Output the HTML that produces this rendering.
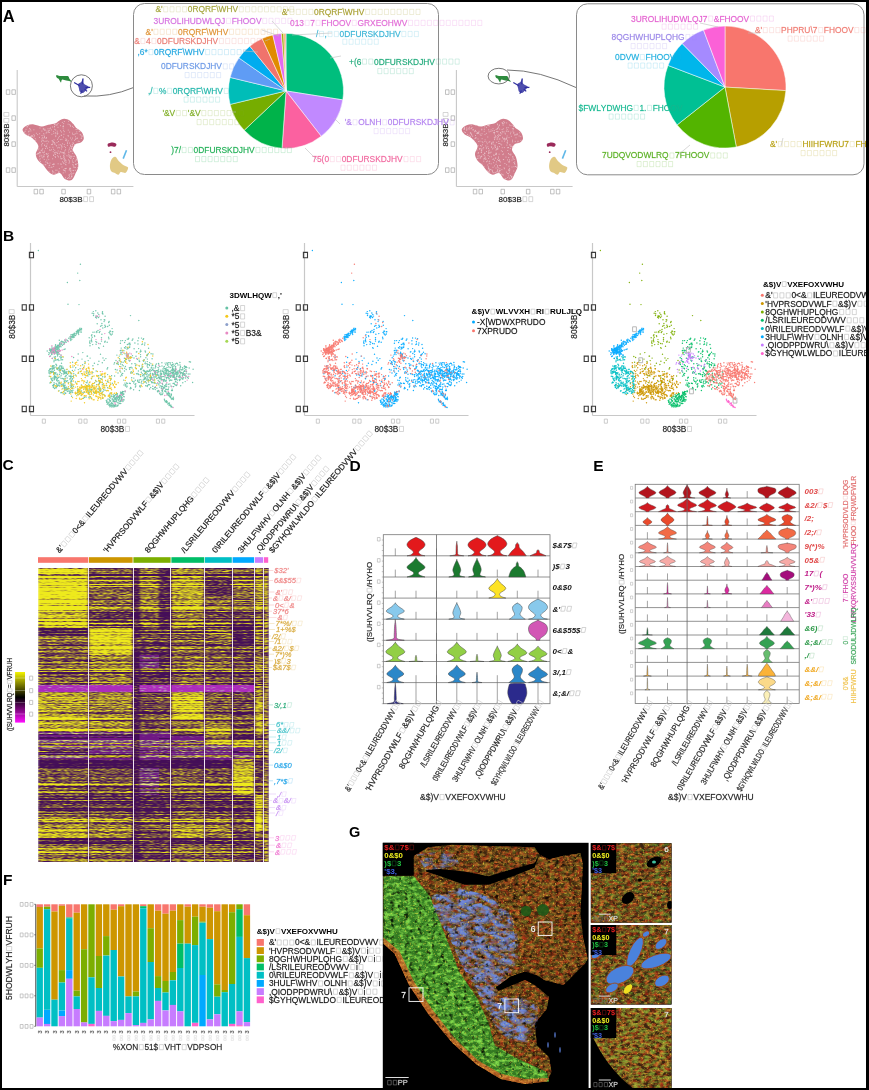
<!DOCTYPE html><html><head><meta charset="utf-8"><style>
html,body{margin:0;padding:0;background:#fff;width:869px;height:1090px;overflow:hidden}
svg{display:block;font-family:"Liberation Sans",sans-serif;font-kerning:none}
#frame{position:absolute;left:0;top:0;width:869px;height:1090px;box-sizing:border-box;border-style:solid;border-color:#000;border-width:2px 3px 2px 2px;pointer-events:none}
</style></head><body><svg width="869" height="1090" viewBox="0 0 869 1090"><g transform="translate(2.8 15.8)" font-size="16.5" fill="#000" font-weight="bold"><text x="0" y="5.9">A</text></g>
<line x1="17.2" y1="70" x2="17.2" y2="186.5" stroke="#c8c8c8" stroke-width="1.1" />
<line x1="17.2" y1="186.5" x2="133.4" y2="186.5" stroke="#c8c8c8" stroke-width="1.1" />
<path d="M22.6 129.3C22.9 127.7 25.5 126.1 27.4 125.2C29.3 124.4 31.4 124.3 33.8 124.4C36.2 124.6 39.5 126.3 41.9 126.4C44.3 126.4 46.1 125.3 48.3 124.8C50.6 124.2 53.8 123.8 55.6 123.2C57.3 122.5 57.4 121.6 58.8 120.9C60.2 120.2 62.3 118.9 64.1 118.8C65.9 118.7 68.1 119.5 69.6 120.4C71.1 121.3 72.2 122.9 73.3 124.1C74.4 125.3 74.6 126.3 76 127.7C77.5 129 80.6 130.4 81.8 132.2C83.1 134 83.9 136.9 83.8 138.6C83.6 140.3 82.2 141.6 80.9 142.5C79.5 143.4 77.1 142.9 75.7 144.1C74.4 145.3 72.7 147.8 72.8 149.9C73 152 75.8 154.2 76.7 157C77.6 159.7 78.5 163.6 78.3 166.3C78.1 169 76.8 170.8 75.7 173.1C74.6 175.4 73.5 179.1 71.7 180C69.9 181 66.7 180.1 64.8 178.9C62.8 177.7 61.8 173.8 59.9 173.1C58.1 172.4 55.5 175 53.5 174.7C51.5 174.4 49.7 172.8 48 171.2C46.3 169.6 44.8 166.9 43.2 165C41.5 163.2 39.3 162.1 38 160.2C36.8 158.3 35.7 156.2 35.8 153.8C35.8 151.3 39 148.4 38.3 145.7C37.7 143 34 139.5 31.9 137.7C29.8 135.8 27 135.8 25.5 134.4C23.9 133 22.2 130.8 22.6 129.3Z" fill="#d17d8c"/>
<path d="M68.5 136h.01M52.9 147.3h.01M62 167h.01M72.6 146.3h.01M68.4 121.3h.01M50 163.1h.01M25.9 134.1h.01M49.6 150h.01M37.7 134.6h.01M72.7 153.5h.01M61.4 132h.01M66 162.5h.01M72.3 160.1h.01M41.8 155.3h.01M75.3 170.3h.01M53.5 155.4h.01M70.4 145.3h.01M64.9 160.3h.01M45.9 146.7h.01M53.7 166.4h.01M54.4 144h.01M47 131.1h.01M68.9 152.5h.01M74.1 134.7h.01M57.7 147.9h.01M39.8 153h.01M69.6 168.8h.01M75.6 164.2h.01M71.1 151.3h.01M56.7 145.9h.01M57.2 132.8h.01M53.4 149.3h.01M44.9 141.3h.01M55.4 157.4h.01M59.7 147.8h.01M25.8 134.5h.01M74.1 167.5h.01M70.4 168.6h.01M63.2 126h.01M68 135.7h.01M33.9 137h.01M65.4 147.6h.01M42.8 148.7h.01M48.6 132.1h.01M53.8 133.3h.01M59.3 168.6h.01M63.5 152.8h.01M70.4 151.2h.01M47.1 154.6h.01M42.8 157.8h.01M67.3 145.4h.01M71.7 177h.01M57.2 131.2h.01M65 150.7h.01M46.1 141.3h.01M49.3 132.5h.01M41.3 150.2h.01M35.8 140.2h.01M43.8 133.6h.01M63.3 169.8h.01M78.2 141.2h.01M75.3 161.1h.01M29.1 131.1h.01M77 133.6h.01M68.2 156h.01M73 142.6h.01M43.9 138.1h.01M74.5 156.3h.01M69.9 169.3h.01M43.9 156.9h.01M69.5 143.1h.01M57.3 134.2h.01M63 126.5h.01M30.9 130.9h.01M76.9 138.3h.01M38.9 148.9h.01M81.2 138.4h.01M58.8 147.3h.01M64.1 159.6h.01M39.2 152.6h.01M42 135.5h.01M62 158.5h.01M42 140.2h.01M76 138.8h.01M43.6 152.8h.01M57.7 155.8h.01M56.1 125.3h.01M52.8 171.3h.01M70.3 125.7h.01M79.2 131.3h.01M69.2 178.3h.01M71.8 139.8h.01M77.5 138.2h.01M76 129.4h.01M70.8 173.8h.01M72.9 164.5h.01M64.2 131.6h.01M49.3 130.4h.01M65.6 160h.01M56 152.6h.01M73.5 147.5h.01M47.1 140.9h.01M61.7 145.4h.01M57.3 124.8h.01M44.8 129.2h.01M31.4 136.2h.01M72.2 144.3h.01M47.4 156.7h.01M54.8 150.3h.01M61.8 146.6h.01M64 163.6h.01M38 149.9h.01M51.9 134.3h.01M48.1 153.7h.01M40.1 158.7h.01M53.8 172.1h.01M75.4 139.3h.01M64.3 170.5h.01M45.7 161.9h.01M66.9 155.7h.01M73.8 173.2h.01M34.4 135.8h.01M36.8 154.3h.01M68.1 124.2h.01M63.7 162.8h.01M44.3 151.1h.01M71 157.7h.01M69.2 170.1h.01M62.4 161.8h.01M70.7 146.3h.01M59 144.9h.01M24.4 132.2h.01M60.6 156.3h.01M72.6 133.2h.01M40.7 152.7h.01M40 155.2h.01M70 168.1h.01M52.6 170.9h.01M68.8 154.3h.01M46.4 137.7h.01M68.3 177.7h.01M57.4 139.3h.01M53.3 141.9h.01M49.8 147.3h.01M41.8 144.4h.01M69.6 160.9h.01M52.7 158.8h.01M46.1 133h.01M58.9 172.4h.01M72.3 150.9h.01M72.6 144.9h.01M67.4 178.5h.01M41.9 131.1h.01M60.1 152h.01M46.7 145.9h.01M58.1 163.8h.01M76.2 164.6h.01M52.7 164.5h.01M61.3 158.8h.01M60.7 144.8h.01M60.7 158h.01M73.2 165.7h.01M71.5 156.3h.01M44.4 136.6h.01M65.2 171.9h.01M55.7 130h.01M72.5 149.3h.01M53.8 164.4h.01M48.7 141.8h.01M62.3 122.4h.01M64.2 144.5h.01M64.1 156.3h.01M36.3 133.3h.01M75.6 136.8h.01M54.5 142.6h.01M53.8 164h.01M65.5 168.5h.01M39.8 156.6h.01M37.6 153.8h.01M74.4 140.3h.01M65.2 170.2h.01M60.3 139.6h.01M49.2 165.4h.01M69.7 132.2h.01M60.5 130.8h.01M77.1 163.5h.01M59.3 136.4h.01M54.7 129.3h.01M45.1 164.8h.01M65.8 138.9h.01M52.7 127h.01M58.8 172.8h.01M65 168.5h.01M52.9 143.1h.01M33.9 134.7h.01M71.7 148.1h.01M57.8 133.5h.01M65.6 140.4h.01M70.4 171h.01M42.7 143.4h.01M68.2 130.1h.01M72.9 173.8h.01M40 128h.01M61.1 164.4h.01M64 170.3h.01M62.6 143.8h.01M61.4 135.3h.01M58.4 141.5h.01M59.3 153.7h.01M54.5 124.7h.01M44.7 145.2h.01M48.8 159.6h.01M65.6 164.3h.01M66 164.8h.01M73.7 170.6h.01M27.2 126.5h.01M71.3 148.4h.01M49.9 128.7h.01M47.1 162.3h.01M54.6 126.5h.01M70.6 126.2h.01M66.7 139.4h.01M71 170.9h.01M41.8 145.9h.01M38.4 153.5h.01M43.3 140.9h.01M69.6 176.7h.01M58 127.3h.01M62 147.2h.01M72.6 161.9h.01M55.2 173.2h.01M72.4 138.1h.01M54.4 126.9h.01M44.2 154.6h.01M61.9 139.4h.01M41.5 141.7h.01M43 164.6h.01M53.2 151.7h.01M43 140.2h.01M71.5 174.9h.01M77.7 167.7h.01M69.6 162h.01M67.5 142.2h.01M47.5 148.2h.01M33.9 129.8h.01M64 153.9h.01M76.8 131.9h.01M48 163.4h.01M27.1 127h.01M55.8 136.6h.01M30.4 136.4h.01M60.8 151.8h.01M28.7 125.4h.01M73.5 158.5h.01M73.3 162.4h.01M58.9 171.4h.01M63.4 152.8h.01M66.3 168.4h.01M82.1 136.1h.01M68.8 151h.01M52.4 144.6h.01M75.4 167.4h.01M58.1 123.5h.01M73.5 147.8h.01M35.2 138.6h.01M64.3 121.5h.01M75.6 164.5h.01M57.3 153.2h.01M54.7 152.7h.01M71.6 176.5h.01M47.8 157.8h.01M42 138.7h.01M53.5 155.2h.01M57 142.6h.01M76.1 160.1h.01M73.3 143.5h.01M51.1 167.4h.01M45.8 164.7h.01M52.1 140.7h.01M50.6 128h.01M44.7 145.3h.01M25.2 131.2h.01M58.4 137.9h.01M82 136.2h.01M54 164.1h.01M64.3 146.4h.01M69.2 149.4h.01M65.7 149.7h.01M29.5 128.7h.01M80.2 134.5h.01M47.3 163.2h.01M72.6 126.4h.01M56 152.2h.01M56.2 145.6h.01M63.1 128.1h.01M39.6 137.4h.01M52 167.2h.01M73.9 166.8h.01M63.4 126.3h.01M46.8 160h.01M41.2 150.7h.01M73.7 127.4h.01M81.7 138h.01M52.7 173.1h.01M55.8 133.7h.01M68.2 140.8h.01M39.7 152.6h.01M49.7 165.3h.01M73 134.5h.01M48 128.8h.01M55.1 156.5h.01M40.4 161.6h.01M39.7 133.7h.01M45.5 148.5h.01M43.8 156.4h.01M64.4 152.2h.01M64.2 158.6h.01M71.3 172.9h.01M42.5 149.9h.01M43.3 128.6h.01M32.3 136.1h.01M64.9 153.9h.01M63.9 134.3h.01M41.9 156.9h.01M29.1 134.2h.01M43.9 156.1h.01M43.3 129.3h.01M63.7 123.6h.01M26 129.3h.01M61.2 135.3h.01M63.6 137.1h.01M54 139.9h.01M79.2 141.7h.01M70.8 158.4h.01M73.1 156.4h.01M74.6 144.7h.01M63.5 157.2h.01M54.8 154h.01M55.2 144.1h.01M76.3 157.9h.01M56 124.3h.01M53.7 131.4h.01M55.8 135.7h.01M39.9 152h.01M51.6 144.6h.01M62.1 152.8h.01M55.8 170.2h.01M66.1 160.9h.01M63.7 130.3h.01M77.1 129.5h.01M75.2 133.8h.01M73 170.4h.01M46.3 146.7h.01M39.8 159.9h.01M70.5 156.2h.01M46.2 153.8h.01M69.4 155.9h.01M47.9 156.4h.01M30.6 129.3h.01M53.6 141.9h.01M76.9 159.2h.01M70.7 168.8h.01M38.1 153.8h.01M44.9 130.4h.01M69.2 174.4h.01M44.2 159.4h.01M46 138.3h.01M71.5 146.8h.01M64.7 158h.01M54.3 124.5h.01M63.2 172.9h.01M52.4 141h.01M65.4 177.8h.01M69.7 148h.01M51.5 149.8h.01M69 163.2h.01M55.6 154.4h.01M28.5 131.8h.01M68.6 159.9h.01M70.4 138h.01M72.1 176.1h.01M60.9 163.9h.01M70.8 178.2h.01M76.8 159.6h.01M44 135.1h.01M69.1 175.5h.01M79.9 131.4h.01M58.1 151h.01M49 167.3h.01M64.8 161.3h.01M62.1 152.4h.01M46.6 153.7h.01M61.4 149h.01M80.9 135.1h.01M42.3 137.3h.01M48.3 155.7h.01M42.6 152.2h.01M50.2 150.3h.01M48.4 130.9h.01M47.1 143.8h.01M45 130h.01M57 170.2h.01M69.4 157.3h.01M66.6 140.7h.01M32.4 136h.01M44.4 137.4h.01M51.3 129.9h.01M31.7 135.9h.01M55.3 132.7h.01M49.1 171.8h.01M57.7 153.3h.01M46.9 132.6h.01M60.4 125.7h.01M69.8 124.6h.01M67.5 143.4h.01M63.7 155.5h.01M28.5 135.2h.01M46.3 137.8h.01M44.3 152.3h.01M58.5 156.9h.01" stroke="#f4e0e4" stroke-width="1" stroke-linecap="round" opacity=".7"/>
<path d="M56.4 75.3C57.1 75.1 59.3 76 61.2 76.1C63.1 76.2 66.3 75.6 67.7 76.1C69.1 76.6 68.9 78.1 69.6 79C70.3 80 71.7 81.4 71.7 81.7C71.6 82.1 70.2 81.1 69.3 80.9C68.3 80.8 67.3 80.8 66.1 80.6C64.8 80.4 62.9 79.3 62 79.7C61.2 80 61.4 82.7 60.9 82.6C60.4 82.4 59.5 79.9 58.8 79C58.1 78.2 57.1 78 56.7 77.4C56.3 76.8 55.6 75.5 56.4 75.3Z" fill="#2e8b3e"/>
<path d="M78.1 84.2C78.5 83.1 80.6 82.7 81.4 81.7C82.2 80.8 82.6 78.3 83 78.5C83.4 78.8 82.8 82 83.8 83.4C84.7 84.7 88.2 85.5 88.6 86.6C89 87.7 87.1 88.7 86.2 89.8C85.3 90.9 84 92.8 83 93C81.9 93.3 80.4 92.2 79.7 91.4C79.1 90.6 79.2 89.4 78.9 88.2C78.7 87 77.7 85.2 78.1 84.2Z" fill="#3030a0" opacity=".85"/>
<line x1="74.1" y1="82.6" x2="79.7" y2="85.8" stroke="#3030a0" stroke-width="1.2" />
<line x1="83" y1="78.5" x2="82.5" y2="84.2" stroke="#3030a0" stroke-width="1.2" />
<line x1="90.2" y1="87.4" x2="85.4" y2="87.7" stroke="#3030a0" stroke-width="1.2" />
<line x1="80.6" y1="93.8" x2="82.2" y2="90.6" stroke="#3030a0" stroke-width="1.2" />
<line x1="87" y1="91.4" x2="84.6" y2="89" stroke="#3030a0" stroke-width="1.2" />
<path d="M107.9 143.8C108.7 143.1 111.4 142.4 112.8 142.5C114.2 142.5 115.9 143.4 116.3 144.1C116.7 144.8 116.1 146.3 115.2 146.7C114.3 147 112.3 146.2 111.2 146.2C110 146.2 108.8 147.1 108.3 146.7C107.7 146.3 107.2 144.5 107.9 143.8Z" fill="#9a2a5a"/>
<circle cx="110.5" cy="152.2" r=".9" fill="#9a2a5a"/>
<path d="M111.2 159.9C112.1 158.3 113.8 156.4 115.2 156.7C116.5 156.9 117.7 160 119.2 161.5C120.7 163 122.6 164.5 124.1 165.5C125.5 166.5 127.8 166.4 128.1 167.6C128.3 168.8 126.9 172.1 125.7 172.8C124.5 173.5 122 171.6 120.8 172C119.6 172.3 119.5 174.6 118.4 174.7C117.3 174.8 115.6 173.4 114.4 172.8C113.2 172.2 111.9 172.2 111.2 171.2C110.4 170.1 109.9 168.2 109.9 166.3C109.9 164.5 110.3 161.5 111.2 159.9Z" fill="#dcc070" opacity=".85"/>
<line x1="123.2" y1="158.6" x2="126.5" y2="150.2" stroke="#60b8e8" stroke-width="1.6" />
<circle cx="81.4" cy="85.8" r="11" fill="none" stroke="#555" stroke-width=".8"/>
<path d="M84 96Q110 97.5 133.6 87.5" fill="none" stroke="#666" stroke-width=".9"/>
<g transform="translate(16.5 92)" font-size="7.5" fill="#999" stroke="#999" stroke-width="0.35" stroke-opacity=".45"><path d="M-10.2 -2.2h3.5v4.6h-3.5zM-4.6 -2.2h3.5v4.6h-3.5z" fill="none" stroke="#999" stroke-opacity="1" stroke-width="0.6"/></g>
<g transform="translate(16.5 118)" font-size="7.5" fill="#999" stroke="#999" stroke-width="0.35" stroke-opacity=".45"><path d="M-4.6 -2.2h3.5v4.6h-3.5z" fill="none" stroke="#999" stroke-opacity="1" stroke-width="0.6"/></g>
<g transform="translate(16.5 144)" font-size="7.5" fill="#999" stroke="#999" stroke-width="0.35" stroke-opacity=".45"><path d="M-4.6 -2.2h3.5v4.6h-3.5z" fill="none" stroke="#999" stroke-opacity="1" stroke-width="0.6"/></g>
<g transform="translate(16.5 170)" font-size="7.5" fill="#999" stroke="#999" stroke-width="0.35" stroke-opacity=".45"><path d="M-10.2 -2.2h3.5v4.6h-3.5zM-4.6 -2.2h3.5v4.6h-3.5z" fill="none" stroke="#999" stroke-opacity="1" stroke-width="0.6"/></g>
<g transform="translate(38.7 191.5)" font-size="7.5" fill="#999" stroke="#999" stroke-width="0.35" stroke-opacity=".45"><path d="M-4.6 -2.2h3.5v4.6h-3.5zM1.1 -2.2h3.5v4.6h-3.5z" fill="none" stroke="#999" stroke-opacity="1" stroke-width="0.6"/></g>
<g transform="translate(63.6 191.5)" font-size="7.5" fill="#999" stroke="#999" stroke-width="0.35" stroke-opacity=".45"><path d="M-1.8 -2.2h3.5v4.6h-3.5z" fill="none" stroke="#999" stroke-opacity="1" stroke-width="0.6"/></g>
<g transform="translate(89 191.5)" font-size="7.5" fill="#999" stroke="#999" stroke-width="0.35" stroke-opacity=".45"><path d="M-1.8 -2.2h3.5v4.6h-3.5z" fill="none" stroke="#999" stroke-opacity="1" stroke-width="0.6"/></g>
<g transform="translate(116 191.5)" font-size="7.5" fill="#999" stroke="#999" stroke-width="0.35" stroke-opacity=".45"><path d="M-4.6 -2.2h3.5v4.6h-3.5zM1.1 -2.2h3.5v4.6h-3.5z" fill="none" stroke="#999" stroke-opacity="1" stroke-width="0.6"/></g>
<g transform="translate(77 199)" font-size="8" fill="#222" stroke="#222" stroke-width="0.35" stroke-opacity=".45"><text x="-17.6" y="2.9">80$3B</text><path d="M6.7 -2.3h3.8v4.9h-3.8zM12.7 -2.3h3.8v4.9h-3.8z" fill="none" stroke="#bbb" stroke-opacity="1" stroke-width="0.6"/></g>
<g transform="translate(6.2 129) rotate(-90)" font-size="8" fill="#222" stroke="#222" stroke-width="0.35" stroke-opacity=".45"><text x="-17.6" y="2.9">80$3B</text><path d="M6.7 -2.3h3.8v4.9h-3.8zM12.7 -2.3h3.8v4.9h-3.8z" fill="none" stroke="#bbb" stroke-opacity="1" stroke-width="0.6"/></g>
<line x1="456.4" y1="70" x2="456.4" y2="186.5" stroke="#c8c8c8" stroke-width="1.1" />
<line x1="456.4" y1="186.5" x2="572.6" y2="186.5" stroke="#c8c8c8" stroke-width="1.1" />
<path d="M461.8 129.3C462.1 127.7 464.7 126.1 466.6 125.2C468.5 124.4 470.6 124.3 473 124.4C475.4 124.6 478.7 126.3 481.1 126.4C483.5 126.4 485.3 125.3 487.5 124.8C489.8 124.2 493 123.8 494.8 123.2C496.5 122.5 496.6 121.6 498 120.9C499.4 120.2 501.5 118.9 503.3 118.8C505.1 118.7 507.3 119.5 508.8 120.4C510.3 121.3 511.4 122.9 512.5 124.1C513.6 125.3 513.8 126.3 515.2 127.7C516.7 129 519.8 130.4 521 132.2C522.3 134 523.1 136.9 523 138.6C522.8 140.3 521.4 141.6 520.1 142.5C518.7 143.4 516.3 142.9 514.9 144.1C513.6 145.3 511.9 147.8 512 149.9C512.2 152 515 154.2 515.9 157C516.8 159.7 517.7 163.6 517.5 166.3C517.3 169 516 170.8 514.9 173.1C513.8 175.4 512.7 179.1 510.9 180C509.1 181 505.9 180.1 504 178.9C502 177.7 501 173.8 499.1 173.1C497.3 172.4 494.7 175 492.7 174.7C490.7 174.4 488.9 172.8 487.2 171.2C485.5 169.6 484 166.9 482.4 165C480.7 163.2 478.5 162.1 477.2 160.2C476 158.3 474.9 156.2 475 153.8C475 151.3 478.2 148.4 477.5 145.7C476.9 143 473.2 139.5 471.1 137.7C469 135.8 466.2 135.8 464.7 134.4C463.1 133 461.4 130.8 461.8 129.3Z" fill="#d17d8c"/>
<path d="M507.1 136h.01M500.1 135.5h.01M504.4 168.7h.01M470.4 132.9h.01M507.6 143.1h.01M491.3 156.8h.01M478.9 158.2h.01M502.3 174.7h.01M492.5 170.8h.01M487.8 137h.01M502.7 123.7h.01M487.9 146.8h.01M493.6 132.7h.01M490 169.6h.01M473.6 129.8h.01M516 137.8h.01M509.6 170.1h.01M500.8 144.1h.01M488.1 155.4h.01M481.8 129.9h.01M497.5 170.6h.01M509 166.2h.01M509.2 154.6h.01M482.9 142.6h.01M495.3 158.2h.01M497.2 149.3h.01M500.2 170.4h.01M489.2 150.2h.01M472 127.5h.01M481.8 150.7h.01M511 179h.01M512.8 156.5h.01M499.9 168.8h.01M495.3 154.5h.01M499.2 125.6h.01M478.9 126.1h.01M478.6 133.4h.01M479.4 149.1h.01M506.1 138.7h.01M511 125.6h.01M513.2 128.9h.01M489 142.3h.01M506.7 122.9h.01M497.5 159.7h.01M514 145.8h.01M519.8 132.7h.01M470 128.8h.01M497.4 128.3h.01M478.8 132.6h.01M505.3 134h.01M478.1 153.2h.01M475.5 138h.01M491.8 142.8h.01M486.1 159.1h.01M474.7 131.7h.01M503.1 138.4h.01M464.6 127.3h.01M499.7 159.8h.01M504.4 141.1h.01M504.1 167.9h.01M496.1 153.1h.01M492.4 148.9h.01M502.8 154.6h.01M513.1 147.3h.01M490.7 169.5h.01M502.6 151.6h.01M496 168h.01M498.6 136.3h.01M481.4 156.3h.01M515.1 134.7h.01M489.1 161.8h.01M499.7 143.5h.01M488.7 158.5h.01M484 166.7h.01M506.4 139h.01M497.5 166.9h.01M513.8 133.3h.01M468.1 128.2h.01M504 131.8h.01M507.8 150.5h.01M496.7 142.4h.01M480.4 145.6h.01M493.9 148h.01M498.6 157h.01M499.9 135.3h.01M486.3 133.4h.01M506.5 172.2h.01M481.2 150.1h.01M502.5 123h.01M484.9 153.3h.01M481.8 156.2h.01M497.2 138.2h.01M495.2 137.2h.01M492.4 171.7h.01M506.7 164.7h.01M520.8 136.6h.01M485 134.6h.01M493 128.7h.01M512.8 125.1h.01M475 138.4h.01M495.3 135.8h.01M476.9 133.4h.01M514.8 135.1h.01M495.6 147.5h.01M482.6 144.8h.01M464.3 132h.01M500.5 165.4h.01M476 131.5h.01M509.5 172.1h.01M480 141.2h.01M497.6 146.9h.01M509.4 159.8h.01M470.3 133h.01M506.6 127.9h.01M476.1 137.8h.01M478 145.7h.01M478 132.5h.01M483.7 147.6h.01M514.1 159.5h.01M499.1 171.4h.01M485.8 145.9h.01M514.3 174h.01M498.5 127.8h.01M507.1 142.7h.01M489.8 141.6h.01M486.3 148.6h.01M464.4 128.6h.01M513.9 162.5h.01M499.7 129.1h.01M477 158.6h.01M481.3 146.1h.01M495.3 172.6h.01M503.1 125.2h.01M474.5 141.9h.01M513.8 171h.01M508.7 157.6h.01M502 141.1h.01M475.6 135.5h.01M512.5 140.2h.01M486.7 142.1h.01M503.8 121.6h.01M469 129.1h.01M471.5 134.4h.01M481.4 150.8h.01M488.4 171.8h.01M497.1 148.8h.01M493.1 141.8h.01M488.5 125.5h.01M471.1 133.3h.01M498.7 160.5h.01M513.7 126.3h.01M500.7 132.6h.01M483.2 154.6h.01M512 160.1h.01M481.7 149.1h.01M484.6 153.7h.01M471.2 125.2h.01M481.9 164.2h.01M498.5 172.9h.01M496.6 149.1h.01M487.5 125.4h.01M473.8 140.2h.01M478 139h.01M480.4 158h.01M517.1 133.8h.01M484 159.2h.01M496.2 154.6h.01M498.7 160.4h.01M482.1 141.6h.01M486.4 151.5h.01M496.3 171.9h.01M486.3 147.3h.01M511.7 177.5h.01M496.4 161.8h.01M516.6 167.3h.01M496 150.1h.01M496 164.3h.01M511 146.6h.01M503.3 159.6h.01M507.3 141.9h.01M511.7 176.6h.01M501.3 150.8h.01M470.5 136.4h.01M520.9 140.4h.01M499.2 139.1h.01M495.5 146h.01M489.9 153.2h.01M509 137.6h.01M485.4 159.2h.01M506 157.1h.01M488.9 168.5h.01M489 169.7h.01M489.1 131.8h.01M489.4 170.7h.01M465.5 132.5h.01M508.4 131.3h.01M498 131.7h.01M508.4 153.5h.01M509.7 125h.01M517.2 134.6h.01M512.7 146.8h.01M492.8 130.7h.01M494.7 146h.01M514.9 164.2h.01M491.1 129.9h.01M498.8 134.3h.01M510.4 133.8h.01M489.7 172.1h.01M469.4 127.2h.01M466.4 130h.01M485.1 139.9h.01M491.6 147.1h.01M506.3 138.8h.01M497.1 139.4h.01M507 131.3h.01M491.7 147.1h.01M490 152.4h.01M494.5 139.6h.01M511.2 176.4h.01M495.8 158.1h.01M505.3 139.8h.01M497.7 148.1h.01M491.5 144.1h.01M494.5 133.9h.01M477.3 132.8h.01M497.8 135.5h.01M508.6 173.7h.01M507.4 140.3h.01M518 141.2h.01M484.3 155.7h.01M501.7 144.9h.01M509 170.7h.01M480.1 134.2h.01M486.4 161.7h.01M502.2 131.4h.01M508.6 169.9h.01M498.8 143.5h.01M504.6 138.3h.01M488.5 168.1h.01M505.9 178.5h.01M507.1 129.6h.01M488.7 152.7h.01M500.4 161.9h.01M475.5 130.4h.01M497.3 128.8h.01M509.4 162h.01M481.8 129.2h.01M484.2 131.3h.01M477 150h.01M496.1 129.5h.01M484.3 129.2h.01M515.2 141.4h.01M494 172.7h.01M505.1 133.2h.01M503.8 123.7h.01M510.9 132.2h.01M509.6 168.4h.01M508.1 127.6h.01M486.6 127.3h.01M505 178.9h.01M493.7 159h.01M502.1 129.5h.01M484.9 141.5h.01M506.9 145.1h.01M484.7 153.1h.01M475.3 125h.01M502.2 147.7h.01M499.1 154.2h.01M488.3 166.8h.01M487.5 171.1h.01M503.7 159.5h.01M515.9 166.4h.01M497.3 124h.01M489.7 161.2h.01M493.7 155.1h.01M477.6 158.3h.01M488.7 129.8h.01M464.5 128.8h.01M480.1 148.6h.01M509.6 178.1h.01M488.4 148.5h.01M498.3 126.8h.01M494.6 160.3h.01M495 145h.01M491.1 163.8h.01M488.8 125.1h.01M497.7 171.4h.01M484.8 126.8h.01M516.2 134.8h.01M481.2 156.7h.01M496.6 153.7h.01M497.9 137.3h.01M499.4 146.6h.01M491.1 152.2h.01M479 131.3h.01M504.3 147.6h.01M497.3 131.8h.01M492.9 159.4h.01M507.4 159.9h.01M487.4 161h.01M498 148.9h.01M499.9 139h.01M467 129.8h.01M511.3 136.3h.01M512 167h.01M494.8 138.8h.01M489.2 163.5h.01M494.6 165.9h.01M499.5 125h.01M503.5 154h.01M498.5 158.2h.01M503.3 175h.01M489.3 156.7h.01M494.1 155.4h.01M502.8 132.1h.01M466.6 128h.01M472.8 129.9h.01M513.6 126.4h.01M483.8 161.2h.01M496 136.7h.01M479.7 148.7h.01M488.7 168.1h.01M511.1 146.1h.01M512.6 141.8h.01M482 133.8h.01M515.5 166.5h.01M508.4 161.9h.01M509.7 161.2h.01M507.9 147.7h.01M513.5 128.9h.01M513.1 158.7h.01M514.8 161.9h.01M488.7 151.1h.01M469.1 135.3h.01M496.7 131.5h.01M484.2 158.5h.01M497.9 173.1h.01M488.5 153.3h.01M487.8 165h.01M471.6 128.6h.01M480.3 157h.01M500.4 132.9h.01M479.1 155.8h.01M508.7 175.9h.01M501.7 174h.01M508 147.6h.01M506.9 137.7h.01M509.9 144.8h.01M497.2 128.8h.01M507.8 177.5h.01M491.9 170h.01M510 145h.01M498.8 141.4h.01M481.2 152.4h.01M499.4 170.5h.01M513 131.1h.01M499.8 172.1h.01M477.9 156.2h.01M504.1 139.2h.01M482.1 138.7h.01M514 166.7h.01M471.9 135.2h.01M472.7 136.3h.01M475.1 130.8h.01M512.9 157.3h.01M504 139.2h.01M493 167.3h.01M489.2 126.1h.01M467.5 134.6h.01M493.7 162.7h.01M494.7 132.4h.01M477.5 133.6h.01M478.7 141.5h.01M481 135.5h.01M513.8 132.4h.01M499.5 161h.01M502.1 122.7h.01M511.9 176.3h.01M463.9 129.2h.01M464.3 129.2h.01M494.6 132.5h.01M478.4 152.7h.01M494.3 137.4h.01M514.4 163.5h.01M497.8 169.5h.01M503.3 128.8h.01M487.2 143.8h.01M494.3 130.6h.01M509.8 169.9h.01M490.9 131.4h.01M510.9 154.1h.01M510.5 175.5h.01M483 148.8h.01M493.1 142.5h.01M510.8 155h.01M512.5 146.9h.01M518 141.9h.01M485.2 157.2h.01M498.2 167.9h.01M497.4 124.7h.01M507.6 173.4h.01M499.7 165.5h.01M493.1 172.7h.01M502.6 137.3h.01M497.6 165.7h.01M512.3 128.7h.01M504.9 163.5h.01M491.7 143.5h.01M519.1 136h.01M501.8 133.9h.01M506.3 131.1h.01M484.9 158.2h.01M508.5 147.5h.01M510.3 148.6h.01M501.9 169.6h.01M496 153.8h.01M481.4 152.4h.01M499.2 160.7h.01M504.7 122.6h.01M493.1 144.1h.01" stroke="#f4e0e4" stroke-width="1" stroke-linecap="round" opacity=".7"/>
<path d="M495.6 75.3C496.3 75.1 498.5 76 500.4 76.1C502.3 76.2 505.5 75.6 506.9 76.1C508.3 76.6 508.1 78.1 508.8 79C509.5 80 510.9 81.4 510.9 81.7C510.8 82.1 509.4 81.1 508.5 80.9C507.5 80.8 506.5 80.8 505.3 80.6C504 80.4 502.1 79.3 501.2 79.7C500.4 80 500.6 82.7 500.1 82.6C499.6 82.4 498.7 79.9 498 79C497.3 78.2 496.3 78 495.9 77.4C495.5 76.8 494.8 75.5 495.6 75.3Z" fill="#2e8b3e"/>
<path d="M517.3 84.2C517.7 83.1 519.8 82.7 520.6 81.7C521.4 80.8 521.8 78.3 522.2 78.5C522.6 78.8 522 82 523 83.4C523.9 84.7 527.4 85.5 527.8 86.6C528.2 87.7 526.3 88.7 525.4 89.8C524.5 90.9 523.2 92.8 522.2 93C521.1 93.3 519.6 92.2 518.9 91.4C518.3 90.6 518.4 89.4 518.1 88.2C517.9 87 516.9 85.2 517.3 84.2Z" fill="#3030a0" opacity=".85"/>
<line x1="513.3" y1="82.6" x2="518.9" y2="85.8" stroke="#3030a0" stroke-width="1.2" />
<line x1="522.2" y1="78.5" x2="521.7" y2="84.2" stroke="#3030a0" stroke-width="1.2" />
<line x1="529.4" y1="87.4" x2="524.6" y2="87.7" stroke="#3030a0" stroke-width="1.2" />
<line x1="519.8" y1="93.8" x2="521.4" y2="90.6" stroke="#3030a0" stroke-width="1.2" />
<line x1="526.2" y1="91.4" x2="523.8" y2="89" stroke="#3030a0" stroke-width="1.2" />
<path d="M547.1 143.8C547.9 143.1 550.6 142.4 552 142.5C553.4 142.5 555.1 143.4 555.5 144.1C555.9 144.8 555.3 146.3 554.4 146.7C553.5 147 551.5 146.2 550.4 146.2C549.2 146.2 548 147.1 547.5 146.7C546.9 146.3 546.4 144.5 547.1 143.8Z" fill="#9a2a5a"/>
<circle cx="549.7" cy="152.2" r=".9" fill="#9a2a5a"/>
<path d="M550.4 159.9C551.3 158.3 553 156.4 554.4 156.7C555.7 156.9 556.9 160 558.4 161.5C559.9 163 561.8 164.5 563.3 165.5C564.7 166.5 567 166.4 567.3 167.6C567.5 168.8 566.1 172.1 564.9 172.8C563.7 173.5 561.2 171.6 560 172C558.8 172.3 558.7 174.6 557.6 174.7C556.5 174.8 554.8 173.4 553.6 172.8C552.4 172.2 551.1 172.2 550.4 171.2C549.6 170.1 549.1 168.2 549.1 166.3C549.1 164.5 549.5 161.5 550.4 159.9Z" fill="#dcc070" opacity=".85"/>
<line x1="562.4" y1="158.6" x2="565.7" y2="150.2" stroke="#60b8e8" stroke-width="1.6" />
<ellipse cx="498.8" cy="76.1" rx="10.7" ry="7.8" fill="none" stroke="#555" stroke-width=".8"/>
<path d="M507 70Q539.2 70 576.2 87.6" fill="none" stroke="#666" stroke-width=".9"/>
<g transform="translate(455.7 92)" font-size="7.5" fill="#999" stroke="#999" stroke-width="0.35" stroke-opacity=".45"><path d="M-10.2 -2.2h3.5v4.6h-3.5zM-4.6 -2.2h3.5v4.6h-3.5z" fill="none" stroke="#999" stroke-opacity="1" stroke-width="0.6"/></g>
<g transform="translate(455.7 118)" font-size="7.5" fill="#999" stroke="#999" stroke-width="0.35" stroke-opacity=".45"><path d="M-4.6 -2.2h3.5v4.6h-3.5z" fill="none" stroke="#999" stroke-opacity="1" stroke-width="0.6"/></g>
<g transform="translate(455.7 144)" font-size="7.5" fill="#999" stroke="#999" stroke-width="0.35" stroke-opacity=".45"><path d="M-4.6 -2.2h3.5v4.6h-3.5z" fill="none" stroke="#999" stroke-opacity="1" stroke-width="0.6"/></g>
<g transform="translate(455.7 170)" font-size="7.5" fill="#999" stroke="#999" stroke-width="0.35" stroke-opacity=".45"><path d="M-10.2 -2.2h3.5v4.6h-3.5zM-4.6 -2.2h3.5v4.6h-3.5z" fill="none" stroke="#999" stroke-opacity="1" stroke-width="0.6"/></g>
<g transform="translate(477.9 191.5)" font-size="7.5" fill="#999" stroke="#999" stroke-width="0.35" stroke-opacity=".45"><path d="M-4.6 -2.2h3.5v4.6h-3.5zM1.1 -2.2h3.5v4.6h-3.5z" fill="none" stroke="#999" stroke-opacity="1" stroke-width="0.6"/></g>
<g transform="translate(502.8 191.5)" font-size="7.5" fill="#999" stroke="#999" stroke-width="0.35" stroke-opacity=".45"><path d="M-1.8 -2.2h3.5v4.6h-3.5z" fill="none" stroke="#999" stroke-opacity="1" stroke-width="0.6"/></g>
<g transform="translate(528.2 191.5)" font-size="7.5" fill="#999" stroke="#999" stroke-width="0.35" stroke-opacity=".45"><path d="M-1.8 -2.2h3.5v4.6h-3.5z" fill="none" stroke="#999" stroke-opacity="1" stroke-width="0.6"/></g>
<g transform="translate(555.2 191.5)" font-size="7.5" fill="#999" stroke="#999" stroke-width="0.35" stroke-opacity=".45"><path d="M-4.6 -2.2h3.5v4.6h-3.5zM1.1 -2.2h3.5v4.6h-3.5z" fill="none" stroke="#999" stroke-opacity="1" stroke-width="0.6"/></g>
<g transform="translate(516.2 199)" font-size="8" fill="#222" stroke="#222" stroke-width="0.35" stroke-opacity=".45"><text x="-17.6" y="2.9">80$3B</text><path d="M6.7 -2.3h3.8v4.9h-3.8zM12.7 -2.3h3.8v4.9h-3.8z" fill="none" stroke="#bbb" stroke-opacity="1" stroke-width="0.6"/></g>
<g transform="translate(445.4 129) rotate(-90)" font-size="8" fill="#222" stroke="#222" stroke-width="0.35" stroke-opacity=".45"><text x="-17.6" y="2.9">80$3B</text><path d="M6.7 -2.3h3.8v4.9h-3.8zM12.7 -2.3h3.8v4.9h-3.8z" fill="none" stroke="#bbb" stroke-opacity="1" stroke-width="0.6"/></g>
<rect x="133.5" y="3.5" width="305" height="171" rx="11" fill="none" stroke="#8a8a8a" stroke-width="1"/>
<rect x="576.5" y="3.8" width="287.5" height="171" rx="11" fill="none" stroke="#8a8a8a" stroke-width="1"/>
<path d="M286 90.9L286 33.4A57.5 57.5 0 0 1 342.8 99.9Z" fill="#00be7d" stroke="#fff" stroke-width="0.5"/>
<path d="M286 90.9L342.8 99.9A57.5 57.5 0 0 1 321.2 136.3Z" fill="#c189ff" stroke="#fff" stroke-width="0.5"/>
<path d="M286 90.9L321.2 136.3A57.5 57.5 0 0 1 282 148.3Z" fill="#fb61a0" stroke="#fff" stroke-width="0.5"/>
<path d="M286 90.9L282 148.3A57.5 57.5 0 0 1 244.2 130.3Z" fill="#00b34a" stroke="#fff" stroke-width="0.5"/>
<path d="M286 90.9L244.2 130.3A57.5 57.5 0 0 1 230.1 104.4Z" fill="#76ad00" stroke="#fff" stroke-width="0.5"/>
<path d="M286 90.9L230.1 104.4A57.5 57.5 0 0 1 230.1 77.4Z" fill="#00bdb8" stroke="#fff" stroke-width="0.5"/>
<path d="M286 90.9L230.1 77.4A57.5 57.5 0 0 1 238.9 57.9Z" fill="#5f9cf5" stroke="#fff" stroke-width="0.5"/>
<path d="M286 90.9L238.9 57.9A57.5 57.5 0 0 1 249.8 46.2Z" fill="#00acef" stroke="#fff" stroke-width="0.5"/>
<path d="M286 90.9L249.8 46.2A57.5 57.5 0 0 1 262.2 38.6Z" fill="#f0736c" stroke="#fff" stroke-width="0.5"/>
<path d="M286 90.9L262.2 38.6A57.5 57.5 0 0 1 272.8 34.9Z" fill="#e08b00" stroke="#fff" stroke-width="0.5"/>
<path d="M286 90.9L272.8 34.9A57.5 57.5 0 0 1 281.4 33.6Z" fill="#e26af1" stroke="#fff" stroke-width="0.5"/>
<path d="M286 90.9L281.4 33.6A57.5 57.5 0 0 1 283.7 33.4Z" fill="#a3a500" stroke="#fff" stroke-width="0.5"/>
<path d="M286 90.9L283.7 33.4A57.5 57.5 0 0 1 285 33.4Z" fill="#de8c00" stroke="#fff" stroke-width="0.5"/>
<path d="M286 90.9L285 33.4A57.5 57.5 0 0 1 286 33.4Z" fill="#f8766d" stroke="#fff" stroke-width="0.5"/>
<path d="M725 87.1L725 26.1A61 61 0 0 1 785.9 90.6Z" fill="#f8766d" stroke="#fff" stroke-width="0.5"/>
<path d="M725 87.1L785.9 90.6A61 61 0 0 1 736.3 147Z" fill="#b79f00" stroke="#fff" stroke-width="0.5"/>
<path d="M725 87.1L736.3 147A61 61 0 0 1 677.1 124.9Z" fill="#53b400" stroke="#fff" stroke-width="0.5"/>
<path d="M725 87.1L677.1 124.9A61 61 0 0 1 668 65.4Z" fill="#00c094" stroke="#fff" stroke-width="0.5"/>
<path d="M725 87.1L668 65.4A61 61 0 0 1 682.2 43.6Z" fill="#00b6eb" stroke="#fff" stroke-width="0.5"/>
<path d="M725 87.1L682.2 43.6A61 61 0 0 1 703.5 30Z" fill="#a58aff" stroke="#fff" stroke-width="0.5"/>
<path d="M725 87.1L703.5 30A61 61 0 0 1 725 26.1Z" fill="#fb61d7" stroke="#fff" stroke-width="0.5"/>
<g transform="translate(155.4 9.2)" font-size="8.4" fill="#a4a43a" stroke="#a4a43a" stroke-width="0.35" stroke-opacity=".45"><text x="0" y="3">&amp;'</text><text x="32.4" y="3">0RQRF\WHV</text><path d="M8.3 -2.5h4v5.2h-4zM14.6 -2.5h4v5.2h-4zM20.9 -2.5h4v5.2h-4zM27.2 -2.5h4v5.2h-4zM83.9 -2.5h4v5.2h-4zM90.2 -2.5h4v5.2h-4zM96.5 -2.5h4v5.2h-4zM102.8 -2.5h4v5.2h-4zM109.1 -2.5h4v5.2h-4zM115.4 -2.5h4v5.2h-4zM121.7 -2.5h4v5.2h-4zM128 -2.5h4v5.2h-4zM134.3 -2.5h4v5.2h-4z" fill="none" stroke="#a4a43a" stroke-opacity="0.3" stroke-width="0.6"/></g>
<g transform="translate(153.5 20.8)" font-size="8.4" fill="#d56ee0" stroke="#d56ee0" stroke-width="0.35" stroke-opacity=".45"><text x="0" y="3">3UROLIHUDWLQJ</text><text x="78.2" y="3">FHOOV</text><path d="M73 -2.5h4v5.2h-4zM109.2 -2.5h4v5.2h-4zM115.5 -2.5h4v5.2h-4zM121.8 -2.5h4v5.2h-4zM128.1 -2.5h4v5.2h-4zM134.4 -2.5h4v5.2h-4z" fill="none" stroke="#d56ee0" stroke-opacity="0.3" stroke-width="0.6"/></g>
<g transform="translate(145.6 31.7)" font-size="8.4" fill="#df9232" stroke="#df9232" stroke-width="0.35" stroke-opacity=".45"><text x="0" y="3">&amp;'</text><text x="32.4" y="3">0RQRF\WHV</text><path d="M8.3 -2.5h4v5.2h-4zM14.6 -2.5h4v5.2h-4zM20.9 -2.5h4v5.2h-4zM27.2 -2.5h4v5.2h-4zM83.9 -2.5h4v5.2h-4zM90.2 -2.5h4v5.2h-4zM96.5 -2.5h4v5.2h-4zM102.8 -2.5h4v5.2h-4zM109.1 -2.5h4v5.2h-4zM115.4 -2.5h4v5.2h-4zM121.7 -2.5h4v5.2h-4zM128 -2.5h4v5.2h-4z" fill="none" stroke="#df9232" stroke-opacity="0.3" stroke-width="0.6"/></g>
<g transform="translate(134.2 40.9)" font-size="8.4" fill="#ea7a72" stroke="#ea7a72" stroke-width="0.35" stroke-opacity=".45"><text x="0" y="3">&amp;</text><text x="11.9" y="3">4</text><text x="22.9" y="3">0DFURSKDJHV</text><path d="M6.7 -2.5h4v5.2h-4zM17.7 -2.5h4v5.2h-4zM85.2 -2.5h4v5.2h-4zM91.5 -2.5h4v5.2h-4zM97.8 -2.5h4v5.2h-4zM104.1 -2.5h4v5.2h-4zM110.4 -2.5h4v5.2h-4zM116.7 -2.5h4v5.2h-4zM123 -2.5h4v5.2h-4zM129.3 -2.5h4v5.2h-4z" fill="none" stroke="#ea7a72" stroke-opacity="0.3" stroke-width="0.6"/></g>
<g transform="translate(137.5 52)" font-size="8.4" fill="#1fa6e0" stroke="#1fa6e0" stroke-width="0.35" stroke-opacity=".45"><text x="0" y="3">,6*</text><text x="16.6" y="3">0RQRF\WHV</text><path d="M11.4 -2.5h4v5.2h-4zM68.1 -2.5h4v5.2h-4zM74.4 -2.5h4v5.2h-4zM80.7 -2.5h4v5.2h-4zM87 -2.5h4v5.2h-4zM93.3 -2.5h4v5.2h-4zM99.6 -2.5h4v5.2h-4zM105.9 -2.5h4v5.2h-4zM112.2 -2.5h4v5.2h-4z" fill="none" stroke="#1fa6e0" stroke-opacity="0.3" stroke-width="0.6"/></g>
<g transform="translate(161 66.3)" font-size="8.4" fill="#6b98e6" stroke="#6b98e6" stroke-width="0.35" stroke-opacity=".45"><text x="0" y="3">0DFURSKDJHV</text><path d="M62.3 -2.5h4v5.2h-4zM68.6 -2.5h4v5.2h-4z" fill="none" stroke="#6b98e6" stroke-opacity="0.3" stroke-width="0.6"/></g>
<g transform="translate(184 75)" font-size="8.4" fill="#6b98e6" stroke="#6b98e6" stroke-width="0.35" stroke-opacity=".45"><path d="M1.1 -2.5h4v5.2h-4zM7.4 -2.5h4v5.2h-4zM13.7 -2.5h4v5.2h-4zM20 -2.5h4v5.2h-4zM26.3 -2.5h4v5.2h-4zM32.6 -2.5h4v5.2h-4z" fill="none" stroke="#6b98e6" stroke-opacity="0.3" stroke-width="0.6"/></g>
<g transform="translate(148 90.8)" font-size="8.4" fill="#1eb5aa" stroke="#1eb5aa" stroke-width="0.35" stroke-opacity=".45"><text x="0" y="3">,/</text><text x="11" y="3">%</text><text x="24.7" y="3">0RQRF\WHV</text><path d="M5.8 -2.5h4v5.2h-4zM19.6 -2.5h4v5.2h-4zM76.3 -2.5h4v5.2h-4z" fill="none" stroke="#1eb5aa" stroke-opacity="0.3" stroke-width="0.6"/></g>
<g transform="translate(183 99.5)" font-size="8.4" fill="#1eb5aa" stroke="#1eb5aa" stroke-width="0.35" stroke-opacity=".45"><path d="M1.1 -2.5h4v5.2h-4zM7.4 -2.5h4v5.2h-4zM13.7 -2.5h4v5.2h-4zM20 -2.5h4v5.2h-4zM26.3 -2.5h4v5.2h-4zM32.6 -2.5h4v5.2h-4z" fill="none" stroke="#1eb5aa" stroke-opacity="0.3" stroke-width="0.6"/></g>
<g transform="translate(162.4 113)" font-size="8.4" fill="#7eae22" stroke="#7eae22" stroke-width="0.35" stroke-opacity=".45"><text x="0" y="3">'&amp;V</text><text x="25.4" y="3">'&amp;V</text><path d="M13.9 -2.5h4v5.2h-4zM20.2 -2.5h4v5.2h-4zM39.4 -2.5h4v5.2h-4zM45.7 -2.5h4v5.2h-4zM52 -2.5h4v5.2h-4zM58.3 -2.5h4v5.2h-4zM64.6 -2.5h4v5.2h-4zM70.9 -2.5h4v5.2h-4zM77.2 -2.5h4v5.2h-4z" fill="none" stroke="#7eae22" stroke-opacity="0.3" stroke-width="0.6"/></g>
<g transform="translate(196 122)" font-size="8.4" fill="#7eae22" stroke="#7eae22" stroke-width="0.35" stroke-opacity=".45"><path d="M1.1 -2.5h4v5.2h-4zM7.4 -2.5h4v5.2h-4zM13.7 -2.5h4v5.2h-4zM20 -2.5h4v5.2h-4zM26.3 -2.5h4v5.2h-4zM32.6 -2.5h4v5.2h-4zM38.9 -2.5h4v5.2h-4z" fill="none" stroke="#7eae22" stroke-opacity="0.3" stroke-width="0.6"/></g>
<g transform="translate(171.2 149.9)" font-size="8.4" fill="#1fb055" stroke="#1fb055" stroke-width="0.35" stroke-opacity=".45"><text x="0" y="3">)7/</text><text x="22.4" y="3">0DFURSKDJHV</text><path d="M10.9 -2.5h4v5.2h-4zM17.2 -2.5h4v5.2h-4zM84.7 -2.5h4v5.2h-4zM91 -2.5h4v5.2h-4zM97.3 -2.5h4v5.2h-4zM103.6 -2.5h4v5.2h-4zM109.9 -2.5h4v5.2h-4zM116.2 -2.5h4v5.2h-4z" fill="none" stroke="#1fb055" stroke-opacity="0.3" stroke-width="0.6"/></g>
<g transform="translate(194.4 159)" font-size="8.4" fill="#1fb055" stroke="#1fb055" stroke-width="0.35" stroke-opacity=".45"><path d="M1.1 -2.5h4v5.2h-4zM7.4 -2.5h4v5.2h-4zM13.7 -2.5h4v5.2h-4zM20 -2.5h4v5.2h-4zM26.3 -2.5h4v5.2h-4zM32.6 -2.5h4v5.2h-4zM38.9 -2.5h4v5.2h-4z" fill="none" stroke="#1fb055" stroke-opacity="0.3" stroke-width="0.6"/></g>
<g transform="translate(312.3 159)" font-size="8.4" fill="#f2689f" stroke="#f2689f" stroke-width="0.35" stroke-opacity=".45"><text x="0" y="3">75(0</text><text x="29.4" y="3">0DFURSKDJHV</text><path d="M18 -2.5h4v5.2h-4zM24.3 -2.5h4v5.2h-4zM91.7 -2.5h4v5.2h-4zM98 -2.5h4v5.2h-4zM104.3 -2.5h4v5.2h-4z" fill="none" stroke="#f2689f" stroke-opacity="0.3" stroke-width="0.6"/></g>
<g transform="translate(339.9 167.6)" font-size="8.4" fill="#f2689f" stroke="#f2689f" stroke-width="0.35" stroke-opacity=".45"><path d="M1.1 -2.5h4v5.2h-4zM7.4 -2.5h4v5.2h-4zM13.7 -2.5h4v5.2h-4zM20 -2.5h4v5.2h-4zM26.3 -2.5h4v5.2h-4zM32.6 -2.5h4v5.2h-4z" fill="none" stroke="#f2689f" stroke-opacity="0.3" stroke-width="0.6"/></g>
<g transform="translate(344.7 122.2)" font-size="8.4" fill="#b382f0" stroke="#b382f0" stroke-width="0.35" stroke-opacity=".45"><text x="0" y="3">'&amp;</text><text x="13.5" y="3">OLNH</text><text x="43.1" y="3">0DFURSKDJHV</text><path d="M8.3 -2.5h4v5.2h-4zM38 -2.5h4v5.2h-4zM105.4 -2.5h4v5.2h-4z" fill="none" stroke="#b382f0" stroke-opacity="0.3" stroke-width="0.6"/></g>
<g transform="translate(373 131)" font-size="8.4" fill="#b382f0" stroke="#b382f0" stroke-width="0.35" stroke-opacity=".45"><path d="M1.1 -2.5h4v5.2h-4zM7.4 -2.5h4v5.2h-4zM13.7 -2.5h4v5.2h-4zM20 -2.5h4v5.2h-4zM26.3 -2.5h4v5.2h-4zM32.6 -2.5h4v5.2h-4z" fill="none" stroke="#b382f0" stroke-opacity="0.3" stroke-width="0.6"/></g>
<g transform="translate(349 61.5)" font-size="8.4" fill="#1eaa7a" stroke="#1eaa7a" stroke-width="0.35" stroke-opacity=".45"><text x="0" y="3">+(6</text><text x="25" y="3">0DFURSKDJHV</text><path d="M13.5 -2.5h4v5.2h-4zM19.8 -2.5h4v5.2h-4zM87.3 -2.5h4v5.2h-4zM93.6 -2.5h4v5.2h-4zM99.9 -2.5h4v5.2h-4zM106.2 -2.5h4v5.2h-4z" fill="none" stroke="#1eaa7a" stroke-opacity="0.3" stroke-width="0.6"/></g>
<g transform="translate(376.7 71)" font-size="8.4" fill="#1eaa7a" stroke="#1eaa7a" stroke-width="0.35" stroke-opacity=".45"><path d="M1.1 -2.5h4v5.2h-4zM7.4 -2.5h4v5.2h-4zM13.7 -2.5h4v5.2h-4zM20 -2.5h4v5.2h-4zM26.3 -2.5h4v5.2h-4zM32.6 -2.5h4v5.2h-4z" fill="none" stroke="#1eaa7a" stroke-opacity="0.3" stroke-width="0.6"/></g>
<g transform="translate(316 33.9)" font-size="8.4" fill="#3ab5d6" stroke="#3ab5d6" stroke-width="0.35" stroke-opacity=".45"><text x="0" y="3">/</text><text x="8.6" y="3">,</text><text x="23.6" y="3">0DFURSKDJHV</text><path d="M3.5 -2.5h4v5.2h-4zM12.1 -2.5h4v5.2h-4zM18.4 -2.5h4v5.2h-4zM85.8 -2.5h4v5.2h-4zM92.1 -2.5h4v5.2h-4zM98.4 -2.5h4v5.2h-4z" fill="none" stroke="#3ab5d6" stroke-opacity="0.3" stroke-width="0.6"/></g>
<g transform="translate(341.7 41.6)" font-size="8.4" fill="#3ab5d6" stroke="#3ab5d6" stroke-width="0.35" stroke-opacity=".45"><path d="M1.1 -2.5h4v5.2h-4zM7.4 -2.5h4v5.2h-4zM13.7 -2.5h4v5.2h-4zM20 -2.5h4v5.2h-4zM26.3 -2.5h4v5.2h-4zM32.6 -2.5h4v5.2h-4z" fill="none" stroke="#3ab5d6" stroke-opacity="0.3" stroke-width="0.6"/></g>
<g transform="translate(290 22.8)" font-size="8.4" fill="#e26ad6" stroke="#e26ad6" stroke-width="0.35" stroke-opacity=".45"><text x="0" y="3">013</text><text x="20.3" y="3">7</text><text x="31.3" y="3">FHOOV</text><text x="67.5" y="3">GRXEOHWV</text><path d="M15.2 -2.5h4v5.2h-4zM26.1 -2.5h4v5.2h-4zM62.3 -2.5h4v5.2h-4zM118.5 -2.5h4v5.2h-4zM124.8 -2.5h4v5.2h-4zM131.1 -2.5h4v5.2h-4zM137.4 -2.5h4v5.2h-4zM143.7 -2.5h4v5.2h-4zM150 -2.5h4v5.2h-4zM156.3 -2.5h4v5.2h-4zM162.6 -2.5h4v5.2h-4zM168.9 -2.5h4v5.2h-4zM175.2 -2.5h4v5.2h-4zM181.5 -2.5h4v5.2h-4zM187.8 -2.5h4v5.2h-4z" fill="none" stroke="#e26ad6" stroke-opacity="0.3" stroke-width="0.6"/></g>
<g transform="translate(281.7 11.8)" font-size="8.4" fill="#a8a030" stroke="#a8a030" stroke-width="0.35" stroke-opacity=".45"><text x="0" y="3">&amp;'</text><text x="32.4" y="3">0RQRF\WHV</text><path d="M8.3 -2.5h4v5.2h-4zM14.6 -2.5h4v5.2h-4zM20.9 -2.5h4v5.2h-4zM27.2 -2.5h4v5.2h-4zM83.9 -2.5h4v5.2h-4zM90.2 -2.5h4v5.2h-4zM96.5 -2.5h4v5.2h-4zM102.8 -2.5h4v5.2h-4zM109.1 -2.5h4v5.2h-4zM115.4 -2.5h4v5.2h-4zM121.7 -2.5h4v5.2h-4zM128 -2.5h4v5.2h-4zM134.3 -2.5h4v5.2h-4z" fill="none" stroke="#a8a030" stroke-opacity="0.3" stroke-width="0.6"/></g>
<g transform="translate(631 18.5)" font-size="8.4" fill="#e460d0" stroke="#e460d0" stroke-width="0.35" stroke-opacity=".45"><text x="0" y="3">3UROLIHUDWLQJ7</text><text x="82.8" y="3">&amp;FHOOV</text><path d="M77.7 -2.5h4v5.2h-4zM119.5 -2.5h4v5.2h-4zM125.8 -2.5h4v5.2h-4zM132.1 -2.5h4v5.2h-4zM138.4 -2.5h4v5.2h-4z" fill="none" stroke="#e460d0" stroke-opacity="0.3" stroke-width="0.6"/></g>
<g transform="translate(661 26.5)" font-size="8.4" fill="#e460d0" stroke="#e460d0" stroke-width="0.35" stroke-opacity=".45"><path d="M1.1 -2.5h4v5.2h-4zM7.4 -2.5h4v5.2h-4zM13.7 -2.5h4v5.2h-4zM20 -2.5h4v5.2h-4zM26.3 -2.5h4v5.2h-4zM32.6 -2.5h4v5.2h-4z" fill="none" stroke="#e460d0" stroke-opacity="0.3" stroke-width="0.6"/></g>
<g transform="translate(755 30)" font-size="8.4" fill="#f07a70" stroke="#f07a70" stroke-width="0.35" stroke-opacity=".45"><text x="0" y="3">&amp;'</text><text x="26.1" y="3">PHPRU\7</text><text x="68.8" y="3">FHOOV</text><path d="M8.3 -2.5h4v5.2h-4zM14.6 -2.5h4v5.2h-4zM20.9 -2.5h4v5.2h-4zM63.7 -2.5h4v5.2h-4zM99.8 -2.5h4v5.2h-4zM106.1 -2.5h4v5.2h-4zM112.4 -2.5h4v5.2h-4z" fill="none" stroke="#f07a70" stroke-opacity="0.3" stroke-width="0.6"/></g>
<g transform="translate(787 38.5)" font-size="8.4" fill="#f07a70" stroke="#f07a70" stroke-width="0.35" stroke-opacity=".45"><path d="M1.1 -2.5h4v5.2h-4zM7.4 -2.5h4v5.2h-4zM13.7 -2.5h4v5.2h-4zM20 -2.5h4v5.2h-4zM26.3 -2.5h4v5.2h-4zM32.6 -2.5h4v5.2h-4z" fill="none" stroke="#f07a70" stroke-opacity="0.3" stroke-width="0.6"/></g>
<g transform="translate(611.5 37)" font-size="8.4" fill="#9a86e8" stroke="#9a86e8" stroke-width="0.35" stroke-opacity=".45"><text x="0" y="3">8QGHWHUPLQHG</text><path d="M74.4 -2.5h4v5.2h-4zM80.7 -2.5h4v5.2h-4z" fill="none" stroke="#9a86e8" stroke-opacity="0.3" stroke-width="0.6"/></g>
<g transform="translate(630 46)" font-size="8.4" fill="#9a86e8" stroke="#9a86e8" stroke-width="0.35" stroke-opacity=".45"><path d="M1.1 -2.5h4v5.2h-4zM7.4 -2.5h4v5.2h-4zM13.7 -2.5h4v5.2h-4zM20 -2.5h4v5.2h-4zM26.3 -2.5h4v5.2h-4zM32.6 -2.5h4v5.2h-4z" fill="none" stroke="#9a86e8" stroke-opacity="0.3" stroke-width="0.6"/></g>
<g transform="translate(615 57)" font-size="8.4" fill="#20b0e0" stroke="#20b0e0" stroke-width="0.35" stroke-opacity=".45"><text x="0" y="3">0DVW</text><text x="30.6" y="3">FHOOV</text><path d="M25.4 -2.5h4v5.2h-4zM61.6 -2.5h4v5.2h-4z" fill="none" stroke="#20b0e0" stroke-opacity="0.3" stroke-width="0.6"/></g>
<g transform="translate(627 65.5)" font-size="8.4" fill="#20b0e0" stroke="#20b0e0" stroke-width="0.35" stroke-opacity=".45"><path d="M1.1 -2.5h4v5.2h-4zM7.4 -2.5h4v5.2h-4zM13.7 -2.5h4v5.2h-4zM20 -2.5h4v5.2h-4zM26.3 -2.5h4v5.2h-4zM32.6 -2.5h4v5.2h-4z" fill="none" stroke="#20b0e0" stroke-opacity="0.3" stroke-width="0.6"/></g>
<g transform="translate(578.5 107.8)" font-size="8.4" fill="#12b890" stroke="#12b890" stroke-width="0.35" stroke-opacity=".45"><text x="0" y="3">$FWLYDWHG</text><text x="60.9" y="3">1.</text><text x="74.2" y="3">FHOOV</text><path d="M55.7 -2.5h4v5.2h-4zM69 -2.5h4v5.2h-4z" fill="none" stroke="#12b890" stroke-opacity="0.3" stroke-width="0.6"/></g>
<g transform="translate(608 116.5)" font-size="8.4" fill="#12b890" stroke="#12b890" stroke-width="0.35" stroke-opacity=".45"><path d="M1.1 -2.5h4v5.2h-4zM7.4 -2.5h4v5.2h-4zM13.7 -2.5h4v5.2h-4zM20 -2.5h4v5.2h-4zM26.3 -2.5h4v5.2h-4zM32.6 -2.5h4v5.2h-4z" fill="none" stroke="#12b890" stroke-opacity="0.3" stroke-width="0.6"/></g>
<g transform="translate(602 155.4)" font-size="8.4" fill="#58b020" stroke="#58b020" stroke-width="0.35" stroke-opacity=".45"><text x="0" y="3">7UDQVODWLRQ</text><text x="73" y="3">7FHOOV</text><path d="M67.9 -2.5h4v5.2h-4zM108.7 -2.5h4v5.2h-4zM115 -2.5h4v5.2h-4zM121.3 -2.5h4v5.2h-4z" fill="none" stroke="#58b020" stroke-opacity="0.3" stroke-width="0.6"/></g>
<g transform="translate(636 164)" font-size="8.4" fill="#58b020" stroke="#58b020" stroke-width="0.35" stroke-opacity=".45"><path d="M1.1 -2.5h4v5.2h-4zM7.4 -2.5h4v5.2h-4zM13.7 -2.5h4v5.2h-4zM20 -2.5h4v5.2h-4zM26.3 -2.5h4v5.2h-4zM32.6 -2.5h4v5.2h-4z" fill="none" stroke="#58b020" stroke-opacity="0.3" stroke-width="0.6"/></g>
<g transform="translate(770 144)" font-size="8.4" fill="#b8a010" stroke="#b8a010" stroke-width="0.35" stroke-opacity=".45"><text x="0" y="3">&amp;'</text><text x="32.4" y="3">HIIHFWRU7</text><text x="85.4" y="3">FHOOV</text><path d="M8.3 -2.5h4v5.2h-4zM14.6 -2.5h4v5.2h-4zM20.9 -2.5h4v5.2h-4zM27.2 -2.5h4v5.2h-4zM80.2 -2.5h4v5.2h-4zM116.4 -2.5h4v5.2h-4z" fill="none" stroke="#b8a010" stroke-opacity="0.3" stroke-width="0.6"/></g>
<g transform="translate(800 153)" font-size="8.4" fill="#b8a010" stroke="#b8a010" stroke-width="0.35" stroke-opacity=".45"><path d="M1.1 -2.5h4v5.2h-4zM7.4 -2.5h4v5.2h-4zM13.7 -2.5h4v5.2h-4zM20 -2.5h4v5.2h-4zM26.3 -2.5h4v5.2h-4zM32.6 -2.5h4v5.2h-4z" fill="none" stroke="#b8a010" stroke-opacity="0.3" stroke-width="0.6"/></g>
<line x1="272" y1="21" x2="283" y2="33" stroke="#bdbdbd" stroke-width="0.6" />
<line x1="262" y1="30" x2="279" y2="36" stroke="#bdbdbd" stroke-width="0.6" />
<line x1="265" y1="41" x2="270" y2="39" stroke="#bdbdbd" stroke-width="0.6" />
<line x1="243" y1="51" x2="258" y2="52" stroke="#bdbdbd" stroke-width="0.6" />
<line x1="332" y1="33" x2="292" y2="35" stroke="#bdbdbd" stroke-width="0.6" />
<line x1="341" y1="56" x2="330" y2="58" stroke="#bdbdbd" stroke-width="0.6" />
<line x1="317" y1="160" x2="305" y2="148" stroke="#bdbdbd" stroke-width="0.6" />
<line x1="340" y1="124" x2="334" y2="118" stroke="#bdbdbd" stroke-width="0.6" />
<line x1="236" y1="112" x2="232" y2="112" stroke="#bdbdbd" stroke-width="0.6" />
<line x1="700" y1="23" x2="718" y2="27" stroke="#bdbdbd" stroke-width="0.6" />
<line x1="748" y1="33" x2="760" y2="33" stroke="#bdbdbd" stroke-width="0.6" />
<line x1="678" y1="155" x2="690" y2="145" stroke="#bdbdbd" stroke-width="0.6" />
<line x1="781" y1="146" x2="783" y2="138" stroke="#bdbdbd" stroke-width="0.6" />
<defs>
<path id="g0" d="M42.4 97.1h0"/>
<path id="g1" d="M50.7 94.6h0M43.1 94.7h0M45.8 94.6h0M44.1 97.5h0M48.7 91.8h0M43.8 99.3h0M46.4 97h0M52.5 89.7h0M43.2 96.8h0M42.8 100.4h0M52 88.3h0M45.1 95h0M50.8 91.5h0M49.4 90.2h0M44.7 95.3h0M44 97h0M50.4 93.3h0M42.9 95h0M42.3 99.2h0M53.4 92.1h0M45.5 94.2h0M51.6 90.6h0M42.2 97.9h0M49.6 92.1h0M44.1 96.2h0M50.5 90.3h0M46.9 94.9h0M48.8 93.2h0M50.2 90.1h0M45.3 96.2h0M47.7 95.6h0M46.6 95.2h0M45.2 95.4h0M50.1 91.5h0M44.7 95.2h0M42.1 96.7h0M42.2 97.9h0M52 90.1h0M53.5 88.5h0M44.9 96.9h0M42.7 98.1h0M44.5 94.4h0M48.3 91.8h0M49.8 91.3h0M53.5 89.7h0M50.5 89.9h0M48.5 94h0M49.1 91.1h0M52.8 92h0M47 93.4h0M52.4 89.8h0M46.3 93.2h0M46.1 94.6h0M51.6 88.9h0M50.8 92.4h0M45.4 97.6h0"/>
<path id="g2" d="M24.6 108.5h0M37.2 100.8h0M25.7 108.4h0M31.7 105.5h0M37.8 99.2h0M33.4 102.9h0M23 112.7h0M26.4 109.9h0M40.2 101.5h0M26.1 107.7h0M24.8 109.3h0M36.3 104h0M32.5 110.6h0M34.2 110h0M25.3 110.6h0M24.2 110.7h0M31.7 110.1h0M21.7 116.4h0M24.2 118.2h0M23.9 105.8h0M31.9 111.2h0M29.7 111h0M26.5 111.3h0M21.7 108.8h0M33.1 115.2h0M24 111.2h0M30.2 110.9h0M27 109.4h0M24.6 113h0M27.5 112.4h0M31 113.5h0M27 113h0M25.9 113.7h0M26.7 107.2h0"/>
<path id="g3" d="M24 110h0M32.6 105.1h0M30.1 106.4h0M31.7 106.5h0M27.3 108.4h0M32.9 101.9h0M27.6 104.8h0M35.7 101.9h0M30.3 105.5h0M22.2 109.1h0M34.6 102h0M28.9 107.6h0M21.8 110.5h0M36.8 100h0M30.9 107.4h0M28.1 108.3h0M27.1 108.2h0M38.2 102.2h0M27.6 108.7h0M35.1 102.1h0M21.4 112.9h0M36.4 103.3h0M33.7 103.9h0M31.3 100.3h0M30.1 105.2h0M26.8 109.7h0M39 100.1h0M27.4 108.7h0M28.7 106.4h0M31.6 104h0M35.9 102.2h0M27.1 110h0M33 106.7h0M39.8 100.7h0M27.3 106.2h0M32.1 103.8h0M27.6 110.6h0M28.7 107.1h0M29.9 106.8h0M36.3 102.4h0M22.7 111.7h0M37.3 100.9h0M25.1 109h0M38.8 99.9h0M23.3 111.1h0M26 110.8h0M28 110.7h0M33.9 103.9h0M24.3 110.3h0M23 109.5h0M37.7 102.1h0M31.7 103h0M40.8 98.2h0M28.8 107.1h0M29.5 105.5h0M34.4 105.2h0M25.3 109.7h0M25.1 108.1h0M23.9 110.8h0M27.5 106h0M22.1 110.4h0M33.4 104h0M35.7 104.3h0M23.9 109h0M27.7 107.5h0M33.8 101.3h0M30.9 105.6h0M25 109.2h0M24.9 108.9h0M26.5 108.8h0M28.1 107.4h0M24.1 109h0M29.1 109.1h0M32.9 114.9h0M28.6 107.6h0M26.8 109.5h0M20.9 112.6h0M29.6 114.9h0M23.7 110.5h0M27.8 112.7h0M23.1 112h0M26.6 114h0M21.6 109.9h0M29.3 109.7h0M36 109.5h0M29.7 114.2h0M30.1 110.9h0M29.1 111.8h0M28.9 113h0M24 108.9h0M24.2 108.9h0M30.1 108.4h0M24 114.3h0M27.2 118.7h0M27.4 111.6h0M24.8 110.8h0M25.3 111.4h0M29.5 108h0M26.9 111.3h0M30.3 112.3h0M20.8 114.4h0M29.1 111.6h0M29.6 116h0M26.2 117h0M26.5 110.5h0M31.4 104.8h0M31.1 114.3h0M26.7 112.9h0M23.7 114.4h0M37.1 109h0M31.6 111.3h0M25.8 110.1h0M26.3 108.1h0M22.4 115.9h0M26.9 112.9h0M28 112.7h0M21.9 108.9h0M29 114.1h0M23.1 109.9h0M23.4 113.2h0M28.1 111.5h0M24.8 112.4h0M28 109.6h0M30.1 113.1h0M27.1 109.5h0M23.9 107h0M23.2 112.4h0M30.9 109.7h0M29.5 112.6h0M24.4 112.5h0M19.2 111h0M31.3 109.2h0M25.1 112.1h0M28.6 111.8h0M29.7 108.2h0M29.5 114.6h0M30.6 112.6h0M26.1 112.5h0M24.9 111.3h0"/>
<path id="g4" d="M72.9 142.1h0M65.2 159.7h0M88.1 144.3h0M58.4 128.7h0M54.7 135h0M62.1 148.3h0M40.7 133.2h0M81.5 146.2h0M81.4 136.3h0M68.7 156.2h0M53.4 145.8h0M63.1 132.2h0M63 146.8h0M60.3 152.7h0M51.9 147.7h0M56.5 162.7h0M53.5 147.5h0M78.8 145.8h0M56.6 155.6h0M56.9 134.2h0"/>
<path id="g5" d="M42.3 145.1h0M60.3 133.9h0M73.8 139h0M72.3 150.7h0M64.6 136.4h0M74.4 144.3h0M59.3 149.2h0M72.8 149.9h0M72.7 151.3h0M53.5 150.9h0M37.9 149.9h0M66.2 153h0M44.4 130.4h0"/>
<path id="g6" d="M60.1 127.9h0M75.6 143.7h0M72.5 142.4h0M47.6 147.1h0M86.5 141.3h0M69.5 152.1h0M77 156.5h0M79.7 150.4h0M83.6 149.7h0M56.3 148h0M45.4 140.9h0M80.1 150.8h0M61.9 142.1h0M71.9 140.6h0M79.9 139.9h0M48.6 153.2h0M67.8 151h0M61.2 158.8h0M51.1 149.9h0M60.3 152.5h0M54.3 140.3h0M61.7 150.3h0M58.3 135.7h0M51.8 151.8h0M88.1 144.6h0M47 153h0M81.5 148.2h0M51.9 159.3h0M58.3 148.3h0M64.1 136.7h0M82.7 138.7h0M59.5 135.3h0M62 133h0M55.7 143h0M86.4 153.2h0M73.7 135.2h0M45.5 131.6h0M86.3 153.5h0M71.3 153.1h0M74.3 156.9h0M80.4 155.1h0M67.3 151.8h0M62.6 156.6h0M68.6 135.7h0M64.1 131.6h0M65.3 143.6h0M67.8 155.9h0M64.1 145.8h0M74.2 155.1h0M75 158.2h0M66.3 143.1h0M76.8 147.9h0M57.6 155.9h0M67.1 152.8h0M51.1 141.5h0M61.8 145.5h0M82.3 136.6h0M82.4 140.4h0M66 135.9h0M66.1 159.7h0M57.2 137.5h0M55.6 146.6h0M72.6 153.2h0M85.3 145.2h0M87.1 147.3h0M86.6 147.4h0M71.7 147.9h0M75.7 146.9h0M74.9 133.9h0M73.7 139.2h0M68.9 135.5h0M55.7 141h0M56.6 141.3h0M73 158.3h0M87 141.8h0M70.4 158.4h0M90.2 142.8h0M61.3 130.2h0M73.1 133.9h0M76.9 134.9h0M77.6 133.1h0M76.6 155.6h0M63.8 158.2h0M53.3 159.3h0M56.2 151.4h0M48.8 155.8h0M65.1 128.8h0M59 146.2h0M47.7 153.7h0M58.8 148.5h0M72.3 140.9h0M60 153.3h0M88.3 153.3h0M69.2 136.6h0M76.1 154.7h0M70.9 137.2h0M59.5 149.9h0M70.9 157h0M61.8 146.6h0M81.8 156.7h0M81.6 156h0M69.4 136h0M83.6 154h0M75.1 157.6h0M58 129.6h0M68.5 153.7h0M50.6 152.1h0M71.2 149.6h0M64 133.7h0M53.3 152.1h0M80.6 142.3h0M69.8 157h0M85.3 144.4h0M64.6 146.7h0M50 133.3h0M58.8 145.8h0M45.8 148.1h0M69.2 135.6h0M88.4 152.7h0M63.6 158.7h0M70.7 140.2h0M72.9 159.1h0M74.4 140h0M53.4 138.6h0M80.3 150.7h0M70.4 152.3h0M45.7 137.7h0M53.4 131h0M52.5 131.6h0M76.8 133.3h0M51.6 158.3h0M83.1 148h0M63.3 138.2h0M82.2 142.9h0M72.3 131.6h0M76.6 145.4h0M53.9 140.7h0M48.3 135.9h0M83 138.1h0M48.9 143.3h0M74.3 133.9h0M77.3 136.7h0M81.3 138.3h0M82.6 144.5h0M49.8 141.5h0M69.4 131.4h0M76.5 133.4h0M54.3 133.7h0M71.5 150.7h0M81.6 146.4h0M77.6 140.5h0M81.5 138.1h0M86.6 142.9h0M59 132.3h0M53.6 154h0M51.4 151.4h0M56.1 156h0M50.5 154.7h0M82.7 153h0M74.8 148h0M50.5 149.1h0M65.2 151.5h0M67.8 149.9h0M61 146.7h0M52 147h0M61.8 147.5h0M68.3 150.2h0M51 149.8h0M62.2 151.8h0M58.5 150.9h0M45.9 144.6h0M71.3 154.3h0M74.4 140h0M69.9 144.8h0M63.7 153.7h0M36.3 154.6h0M70.8 140.1h0M71.2 141.4h0M86.5 146.8h0M63.2 154.3h0M56.5 146.3h0M68.8 149.9h0M80.8 148.1h0M65.2 148.7h0M58 146.8h0M59.6 146.3h0M40.5 146.8h0M57.5 147.2h0M52.2 148.9h0M71.3 148.4h0M58.1 155.7h0M73.3 153.7h0M75.1 148.1h0M67.1 151.2h0M60.3 154h0M74.3 152.5h0M70.8 144.3h0M49.6 146.7h0M68.1 156.4h0M50.5 150.9h0M54.3 146.2h0M65.4 154.9h0M53 153.6h0M68.1 147h0M65.3 151h0M70.9 146h0M47.5 152.3h0M68.9 151.6h0M68.5 153h0M53.8 155h0M48.2 143.6h0M62 142h0M63.9 144.4h0M67.8 148.3h0M64.5 143.5h0M36.6 149.7h0M55.3 146.8h0M52.2 151h0M61.7 145.8h0M53 153.2h0M67.8 140.9h0M52 149.6h0M66.7 153.1h0M71.5 154.3h0M59.3 148.6h0M74.1 142.3h0M42.8 154h0M66.4 149.6h0M52 147.4h0M27.2 145.6h0M50.7 148.9h0M54.5 154.3h0M48.2 158.5h0M57.5 144.6h0M52.4 153h0M44.1 145.3h0M74.8 148.4h0M49.7 151.9h0M72.7 149.4h0M67.5 153h0M82.4 148.4h0M58.2 149.4h0M75.7 145.3h0M71.4 146.5h0M67.9 152.7h0M50.9 149.2h0M43.2 161.1h0M61.2 148.5h0M57.6 156.1h0M72 149.6h0M59.8 146.9h0M50 149.6h0M61.7 156.1h0M28.5 146.5h0M63.5 147.4h0M68.3 151.2h0M44.1 148.3h0M48.9 144.2h0M64.7 149.8h0M64.4 145.6h0M81.4 155.3h0M54.8 147.5h0M83.7 152.8h0M40.4 143.8h0M63.2 150.9h0M81.6 145.8h0M54.4 158.5h0M66.7 146h0M42.2 142.6h0M63.6 154.1h0M61.7 146.4h0M63.4 152.4h0M71.6 148.9h0M53.2 148.6h0M58.6 152.3h0M72.2 155.5h0M65.9 147.5h0M65.2 147h0M44.5 157.6h0M69.8 160.3h0M55.7 149.4h0M57.9 150.3h0M61 146.1h0M74.3 146h0M57.9 152.1h0M57.6 147.6h0M66.9 147.9h0M50.3 149.1h0M51.8 154h0M55 147.9h0M59.8 150.8h0M72.1 157.5h0M73.5 153.2h0M55.3 153.6h0M62.1 151.2h0M60.4 152.6h0M74.7 154.7h0M61 154.1h0M78.4 143.5h0M68.8 152.3h0M78.5 150.8h0M58.2 145.9h0M50.2 153h0M60.7 146.3h0M68.7 146.1h0M58.6 147.5h0M80.3 156.2h0M61.5 142.4h0M42.3 122.8h0M44.8 125.1h0M42.2 126.7h0M58.8 130.5h0M56.3 125.9h0M50.4 132.1h0M48.7 122.2h0M58.7 133.5h0M47.4 122.8h0M42.4 125.7h0M43.7 133.7h0M45.8 135.5h0M55.8 127.9h0M47.2 123.5h0M61 128.4h0M56.7 134.2h0M54.4 128.8h0M42.5 132.3h0M60.6 124.1h0M57.2 122.8h0M56 133.9h0M61.5 131.4h0M52.7 125.8h0M42.7 127.4h0M50 125.1h0M47.9 124.2h0M56.1 131.9h0M46.4 125.7h0M60.8 127.3h0"/>
<path id="g7" d="M45.8 133.7h0M60.6 153.5h0M60.9 151.8h0M61.8 134.5h0M72.3 135.2h0M74.7 158.2h0M49.7 148.9h0M45.5 146.2h0M66.4 148.3h0M82.5 144.4h0M51.5 153.8h0M64.2 145.7h0M81.9 154.3h0M68.2 131h0M83.6 135.8h0M52.2 153h0M58 131.9h0M50.4 150.2h0M52.3 131.5h0M65.4 128.7h0M59.4 140.9h0M72.7 148.2h0M59 142.8h0M73.6 153.5h0M42.9 136.9h0M73.8 153.4h0M74.2 142.2h0M82.1 153.3h0M43.2 145.9h0M62.7 149.6h0M57.2 147.2h0M62.1 156.7h0M79.6 134.6h0M49.6 150.4h0M60.8 144.2h0M70.7 138.4h0M84.3 143.2h0M79.9 141.1h0M50.6 132.9h0M74.7 136.8h0M64.8 132.5h0M47.5 141.9h0M56.5 157.3h0M53.5 133.6h0M45.3 136.5h0M49.5 152.8h0M71.3 143.5h0M83.1 155.9h0M49.8 154.8h0M75.7 149.7h0M75.1 154.5h0M71.6 141.2h0M61.1 149.3h0M70.4 148.9h0M63.1 157.9h0M77.1 150.2h0M54.9 152.6h0M43.6 156.2h0M64.8 145.5h0M75 151.4h0M52 151.8h0M76.7 147.1h0M71 140.7h0M61.8 154.6h0M57.4 149h0M61.3 152.8h0M58.1 157.1h0M79.6 147.7h0M68.6 144.6h0M66.7 142.6h0M63.8 149.2h0M67.6 140.5h0M56.3 152.2h0M71.2 147.6h0M69.9 148.8h0M59.1 145.4h0M71.3 152.1h0M44.5 148h0M76.7 137h0M65.7 152.2h0M53.5 145h0M47.7 153.8h0M70.7 144.5h0M53.7 147.4h0M67.5 151.4h0M61.1 145.4h0M67.1 152.7h0M49.8 151.9h0M55.5 158.2h0M44.9 150.3h0M59 151.8h0M58.4 148.7h0M60 150.5h0M77 155.5h0M63.4 150.8h0M58.3 146h0M70 151.5h0M44.7 152.6h0M53.2 155.4h0M60.9 157.3h0M78.2 145.3h0M47.7 127.7h0M54.6 124.8h0M59.1 131h0M56.9 123.5h0M60.7 132.2h0M50.3 129.6h0M46.8 130.1h0M52.1 128.7h0M47.6 135h0"/>
<path id="g8" d="M100.1 107.3h0M110.8 113.4h0M92.6 121.7h0M114.4 101.8h0M98.3 137.6h0M94 128.2h0M97.6 138h0M94.8 110.3h0M90.2 117.7h0M98.2 137.1h0M120.1 141h0M121.5 112.3h0M103.7 139.9h0M89.2 123.1h0M124.7 124.1h0M120 104.5h0M122.3 136.8h0M118.7 115.1h0M96 112.9h0M91.7 126.5h0M112.7 134.7h0M108.9 125h0M114 146.6h0M113.3 145.3h0M97.2 140.5h0M110.9 118.1h0M106 134.2h0M115.9 142.6h0M122.5 135.2h0M115.9 141.8h0M126.8 142.2h0M126.8 139.9h0M117.3 133.1h0M128.5 135.6h0M128.7 145.2h0M121.9 140.2h0"/>
<path id="g9" d="M89.5 156.3h0M93 154.8h0M94.5 159.2h0M87 162.7h0M93.7 154.7h0M87.1 164h0M93.5 160.6h0"/>
<path id="g10" d="M81.4 159.7h0M94.9 161.4h0M95.8 154.3h0M84.1 163.2h0M90.4 157.5h0M91 156.4h0M78.6 161.2h0M84.3 159h0M89.4 155h0M95.9 160.1h0M97.1 151.7h0M89.8 162.8h0M92.8 152.3h0M93.7 157.8h0M88.3 160.5h0M88.6 161.7h0M92.3 155.1h0M91.7 163.4h0M92.9 155.9h0M86.6 155.4h0M88 166.4h0M87 161.6h0M92.9 156.8h0M92.6 152.3h0M96.2 156.8h0M90.2 156.5h0M93.4 158.4h0M84 165.8h0M79.8 162.9h0M79 161.5h0M85.6 165.1h0M78.9 160.1h0M85.7 166h0M92.6 161.4h0M81.9 160.2h0M80.8 165.1h0M94.8 155.2h0M83.2 156.3h0M87.2 165.6h0M80.9 162.1h0M89.4 158.3h0M89.1 165.4h0M81.8 165.4h0M84.8 163.7h0M94.7 153.8h0M80.6 163h0M96.9 151.3h0M82.3 163.9h0M87.6 154.6h0M83.9 165.3h0M80 158.9h0M81.2 162.1h0M80.6 163h0M84.6 159h0M95.7 156.6h0M81.9 166.8h0M85.7 160h0M91.2 161.6h0M88.4 159.9h0M85.5 156.1h0M85.9 166.9h0M85.3 157.2h0M89.6 166.1h0M82.7 160.9h0M85.1 154.8h0M91.3 156.2h0M83.9 166.9h0M82.3 161.2h0M92.3 157.1h0M91.7 157.3h0M88 160.9h0M91 156.1h0M90 159.8h0M82.1 160.9h0M82.9 165.8h0M87.9 158.7h0M95.9 159.5h0M88 159.5h0M81.1 164.4h0M94.7 151.5h0M85.2 164.6h0M93.8 152.8h0M93.5 159.4h0M91.3 158.2h0M92.6 153.3h0M91.1 156.9h0M85 156.4h0M81.6 160.2h0M91.8 155.3h0M90.2 165h0M81.6 157.8h0M93.3 161h0M86.4 156.9h0M85.7 161.5h0M93.6 156.6h0M85.3 160.4h0M95.9 154h0M85 161.8h0M92.5 157.1h0M78.2 160.6h0M86.8 158.4h0M94.2 157.7h0M87 165.5h0M86.3 158.9h0M87.7 164.5h0M90.9 163.1h0M91 160h0M92.8 163.5h0M79.2 164.3h0M92.5 160.1h0M78.8 162.1h0M91.7 158.8h0M78.7 162.2h0M85.9 160.5h0M94.8 153.2h0M84.3 159.4h0M94.6 160h0M87.7 157.8h0M94.5 155h0M88.2 157h0M86.8 158.9h0M89.2 156.8h0M93.4 154.1h0M95.8 160h0M88.2 157.6h0M88.8 156.1h0M83.1 164h0M83.4 162.6h0M94.6 152h0M123.5 127.2h0M118.9 123.7h0M114.2 133.7h0M92.8 100.7h0M104.5 132.8h0M98.7 146.9h0M114.6 104.1h0M100 108.5h0M110 104h0M123.1 113.8h0M103.2 131.8h0M97.4 126.4h0M116.2 119.8h0M124.1 125.3h0M99.9 115.1h0M117 123.6h0M107.1 144.5h0M111.4 126.1h0M92.4 103.2h0M120.6 108.2h0M111.4 150.4h0M113.5 98.1h0M101.5 120.9h0M95.7 140.1h0M100.2 99.2h0M109.9 100.7h0M109.6 140.2h0M111.3 121.6h0M90.3 124.5h0M92.7 132.1h0M102.2 116.6h0M113.8 104.6h0M101.4 143.3h0M121.6 122.6h0M94.6 100.6h0M107.6 125.8h0M93.4 121.9h0M95.2 125.8h0M96.6 102.5h0M98 144.9h0M107.8 146h0M107.3 140.3h0M110.3 134.5h0M108.4 111.9h0M110.6 108.6h0M111.3 139.9h0M115.6 98.8h0M112.1 134.7h0M119.4 114.8h0M119.3 121.6h0M104.2 100.3h0M114.4 103.9h0M101.9 103.3h0M96.5 107.8h0M106.9 123.6h0M117.1 131.5h0M96.5 130.9h0M120.6 140.1h0M92.5 136.1h0M102.1 104.5h0M116.9 103h0M122.8 137.7h0M119.8 140h0M124.9 125.6h0M98.5 143h0M97.7 106.6h0M106.1 108.8h0M107.4 147h0M114.6 135.7h0M118.7 134.2h0M124.2 142.3h0M104.2 100.2h0M113.4 142.9h0M101.7 129.2h0M120.2 140.4h0M119.4 119.1h0M111.6 121.3h0M101.6 107.4h0M102.3 143.4h0M112.2 111.9h0M92.3 110.7h0M115.2 120.5h0M113.7 141.3h0M93.6 134.2h0M111.8 146.2h0M103.8 123.7h0M106 141.4h0M98.4 115.3h0M121.2 124.5h0M103.1 148.2h0M122.4 133.2h0M91.9 130.8h0M105.6 149.8h0M102.6 132.9h0M112.6 116.7h0M108.5 133.8h0M122.9 123.6h0M114.5 127h0M105.8 138.1h0M101.2 103.1h0M94.5 128.7h0M110.6 97.9h0M103.7 137.8h0M113 111.3h0M117.5 111.9h0M109.4 119.2h0M119.1 133.8h0M115.5 134.6h0M99.4 104.5h0M110.5 142.3h0M116.6 105h0M100.7 98.3h0M100.2 117.1h0M101 120.2h0M93.1 110.1h0M103.8 117.2h0M105.8 143h0M112.8 139.6h0M100.8 103.9h0M117.1 111h0M102.6 147.5h0M108.8 111.7h0M112.6 110.1h0M119.9 127.5h0M102.2 148.8h0M99 109.1h0M117.2 133.9h0M104.5 141.3h0M93.2 112.8h0M117.9 117.7h0M124.1 137.6h0M119.1 115.2h0M96 144.9h0M94 114.6h0M107.8 143.8h0M114 128.2h0M104.1 128h0M99.3 143.4h0M118.5 143h0M94.7 133.5h0M117.2 123.8h0M116.8 142h0M94 135.4h0M115.3 130.2h0M99.3 99.1h0M111.6 142.2h0M99.2 107.4h0M97.4 100.6h0M120.3 113.8h0M94.2 110.9h0M91.3 120.7h0M93.2 108.1h0M112.5 114.6h0M101.4 127.7h0M96.9 143.1h0M119.2 125.9h0M90.1 124h0M104.9 98.9h0M112.6 136.5h0M108.2 128.8h0M97.5 144.7h0M115.5 121.2h0M101.8 106.1h0M120.2 131.3h0M115.9 130.9h0M123.5 141.7h0M132 142.9h0M131.5 147.1h0M115.2 140h0M132.4 131.9h0M112.8 128.6h0M119.2 146.6h0M114 126.9h0M115 143.6h0M121.6 148.9h0M130.7 144h0M121.7 144.7h0M114.5 127h0M123.5 136.9h0M116.2 130.5h0M112.3 146.9h0M126.6 147.8h0M132.2 135.1h0M127 133.8h0M114.6 124.6h0M116.3 138.8h0M119.7 124.5h0M129 143.8h0M121.5 125.4h0M130.3 137.6h0M124.8 146.3h0"/>
<path id="g11" d="M124.8 115.9h0"/>
<path id="g12" d="M97.3 150.9h0"/>
<path id="g13" d="M88.6 153.8h0M82.8 158h0M84.4 166h0M95.5 151.6h0M90.4 159.9h0M86.7 161.4h0M87.9 154.7h0M94.1 152.3h0M91.7 155.7h0M88 159h0M86.6 166.3h0M86.4 165.3h0M89.4 153.8h0M99.2 146.1h0M108 116.2h0M96.4 118.3h0M98.2 129.4h0M124.1 118.7h0M111.1 120.1h0M95.9 110.7h0M97.4 146h0M92.8 126.8h0M94.3 124.7h0M117.3 122.1h0M109.9 133.5h0M101.8 117.6h0M91.5 118.8h0M119 115.8h0M115.1 99.4h0M109.8 141.3h0M124.9 114h0M106.9 102.9h0M113.1 129.4h0M112.1 145.7h0M113.3 132.3h0"/>
<path id="g14" d="M145.1 167.4h0"/>
<path id="g15" d="M138.9 161.5h0M137.2 161.7h0M143.5 166.5h0M142.4 165.4h0M140.9 163.8h0M139 161.5h0M141.5 164.2h0M136.4 159.3h0M138.7 162.4h0M144.1 167.2h0M140.7 163.7h0M138.2 161.1h0M140.4 163.3h0M138.1 161.8h0M140.7 163.7h0M143 165.1h0M141.1 165.5h0M136.6 160.3h0M141.4 163h0"/>
<path id="g16" d="M142.9 166.8h0M143.5 166.6h0M139.1 162.1h0M138.2 160.8h0M139.8 163.9h0"/>
<path id="g17" d="M73.5 99.5h0M68.6 76.5h0M72 89.4h0M76.8 93.6h0M70.6 103.5h0M69 75.6h0M71.5 76.1h0M55 129.5h0M74.2 131.6h0"/>
<path id="g18" d="M67.8 101.6h0M74.8 87.9h0M79.2 102.2h0M68.5 78h0M64.2 97.2h0M70.8 74.4h0M84.8 91.8h0M70.5 77.4h0M83.2 95h0M75.5 106.2h0M76.2 79.7h0M65.5 75.4h0M81.1 81.5h0M63.9 94.7h0M63.5 100.4h0M80.9 98.8h0M67.6 77.2h0M68.7 91.4h0M68.7 102.2h0M65.3 71.6h0M73.9 94.3h0M80.6 97.3h0M74.3 73.1h0M70.7 107.6h0M70.6 77.4h0M66.5 95.6h0M72.6 86.3h0M76.6 102h0M64.2 73.3h0M84.3 94h0M66.8 92.1h0M84.1 88.6h0M76.1 81.6h0M68.1 104.3h0M76.9 87.3h0M68.8 92.5h0M70 90.5h0M73.9 85.4h0M82.4 91.2h0M62 103.4h0M65.7 73.7h0M73 79.8h0M71.9 91.5h0M65 92.2h0M69.8 72.9h0M73.5 97.7h0M61.7 102.2h0M69.3 76.6h0M84.3 91.8h0M77.6 86.5h0M82.4 94.1h0M82 91.8h0M63.5 98.9h0M76.9 102h0M74.9 73.9h0M73.5 101.1h0M62 105.8h0M81.1 92.5h0M61.9 101h0M66.7 96.6h0M82.1 90.9h0M77.2 101.3h0M68 75.9h0M72.2 103.8h0M63.8 101.7h0M76.9 85.2h0M81.3 85.2h0M82 93.7h0M64.7 104.6h0M74.5 71.7h0M71.3 92.4h0M69.2 83.7h0M67.8 70.8h0M71.1 108.2h0M76.2 120.3h0M55.6 127.4h0M68.8 141.6h0M92.8 112.9h0M70.5 135.8h0M86.6 135.9h0M60.2 120.6h0M82.6 139h0M90 133h0M57.2 135.6h0M79.7 127.7h0M74.3 122.7h0M69.9 124.5h0M44.6 122.3h0M58.2 142.6h0M66.4 123.3h0M54 119.1h0M41.8 138.9h0M64.9 125.7h0M70.9 121.2h0M57 121.4h0M79.1 129h0M90 122.4h0M89.1 130h0M45.6 117.4h0M71.5 142.5h0M59.9 135.9h0M63.6 138.8h0M44.9 126.9h0M88 120.4h0M54.8 112.6h0M77.9 118.6h0M62.1 118.1h0M72.6 138.7h0M75 118h0M79.4 141.8h0M72.5 114.3h0M83.3 139h0M59.1 116.1h0M10.4 10.4h0M39.4 42.5h0M51.8 40.4h0M40 64.2h0M51 64.6h0M102.5 75.6h0M110.8 80.4h0"/>
<path id="g19" d="M68 99.6h0M43.8 116.4h0"/>
<path id="g20" d="M63.5 95.8h0M61.2 97.8h0M80.7 82.4h0M77.1 76.3h0M79.7 86.5h0M73.9 83.5h0M74.5 73.1h0M76.8 79.9h0M59.5 116.1h0M50.2 113.9h0M49.9 120.2h0M49.7 33.1h0M52.4 24.2h0"/>
<path id="g21" d="M98.8 113.5h0M100 115.9h0M98.6 112.2h0M97.6 119.1h0M114.8 126.6h0M105.1 130h0M92.2 114.6h0"/>
<path id="g22" d="M98.7 113.2h0M100.2 114.7h0M100.6 118.3h0M89.5 121.8h0M92.1 128.8h0M108.7 118.4h0"/>
<path id="g23" d="M97.3 108.1h0M100.5 113.9h0M98.8 116.1h0M92.6 124h0M107.8 124.1h0M106 118h0M87.4 129.4h0M91.3 116.1h0M88.8 123.5h0"/>
<path id="g24" d="M99.4 115h0M100.2 118.7h0M99 117.8h0M102.2 117.4h0M101.8 117.9h0M103 117.2h0M98.9 123.3h0M99.7 116.1h0M102.6 118.3h0M97.6 118.7h0M100.4 116h0M91.9 131.1h0M115.9 120.2h0M111 125.5h0M97.5 122.2h0M103.5 117.6h0M107.4 127.8h0M88 132.1h0M97.8 121.3h0M92.1 119.9h0M114.6 124.2h0M103.7 132.9h0M108.4 128.4h0M105.3 131.5h0"/>
<path id="g25" d="M100.1 117.1h0M98.7 116.7h0M98.5 116.1h0M103.3 114h0M98.7 116.2h0M94.8 112.5h0M101.8 113.1h0M102.2 120.5h0M99.6 114.7h0"/>
<path id="g26" d="M99.1 114.3h0M97.3 118.4h0M104.5 115.6h0M99.5 116.8h0M97 113.8h0M98 119.4h0M112.6 129.4h0M114 125.1h0M86 124.1h0M96.7 120.6h0M89.1 123.8h0M98.5 119.3h0M96.7 128.3h0M86.6 122.8h0M103.1 127.2h0M102.4 127.6h0M88.9 115.1h0M96.9 121.2h0M110.4 131h0M95.1 122.2h0"/>
<path id="g27" d="M141.1 136.2h0M129.7 142.8h0M134.2 148.9h0M151.7 132.2h0M133.1 136.3h0M127.3 146.6h0M138.9 155.1h0M136.8 155.4h0M124.2 138.9h0M124.7 140h0M137.5 135.7h0M149.4 143.9h0M130.9 125.4h0M126.4 131.3h0M134 140.7h0M158.3 131h0M138.8 142.7h0M144.9 135.5h0M131.5 151.1h0M151.7 137.4h0M148.1 129.2h0M125.5 135.2h0M154.3 137h0M147.4 131.1h0M146.6 138.1h0M142.4 133.5h0M128.3 132.8h0M154.2 137.3h0M156.3 134.1h0M157.8 136.4h0M160.7 136.5h0M159.2 140.1h0M134 143.3h0M140.2 151.4h0"/>
<path id="g28" d="M130.1 127.5h0M144.3 124.8h0M118.5 140.1h0M117.6 137.5h0M134.5 151.3h0M121.4 130.1h0M143.3 155.6h0M153.3 132.4h0M129.4 150.9h0M123.9 142.7h0M143.8 135.3h0M139.8 124.4h0M145.6 137.3h0M135.7 132.8h0M126.6 142.4h0M138.8 153h0M147.7 132.3h0M122.6 139.4h0M117.7 145.7h0M149.2 142.4h0M154.1 133.3h0M146.2 143.1h0M141.2 138.3h0M136.6 145.6h0M132.8 145.7h0M117 138.5h0M121.6 130.9h0M133 152.9h0M119.5 138h0M139.9 153.3h0M128.1 136.8h0M131.6 153.3h0M157.6 127.5h0M123.7 130.4h0M126.1 139.3h0M141.6 131.5h0M116.2 137h0M132.1 142.1h0M138.4 144h0M145.4 124.1h0M120.5 144.5h0M125.1 127.9h0M130.8 124.1h0M142.7 127.4h0M127 134.4h0M131.8 126.5h0M136.3 139.2h0M130.9 131.5h0M152 127.9h0M139 127.4h0M139.6 123.2h0M127.3 135.1h0M139.2 149.6h0M130.3 130.1h0M125.9 140.4h0M157.6 138h0M157.5 135h0M125.6 130.2h0M124.5 129.4h0M152.5 139.1h0M144.4 150.4h0M119.7 145.5h0M148.6 139h0M158.3 136.1h0M147.5 128.2h0M131.2 141.5h0M134.9 152.9h0M151.9 129.6h0M126.9 132.5h0M126.5 142.9h0M127.3 137h0M131.4 138.3h0M141.4 154h0M134.3 154.5h0M137.8 140.9h0M138.8 122.9h0M135.1 128.7h0M123.5 138.9h0M147.5 141.8h0M130.2 140.5h0M140.1 149.8h0M120.6 141.9h0M126.8 132h0M149.6 140.1h0M140.4 149h0M155.7 137.8h0M142.6 140h0M138.3 146.6h0M135.7 141h0M157 131.3h0M140.3 155.4h0M152.5 127h0M121.3 137.8h0M119.1 130.7h0M119.2 145.8h0M122.7 147.4h0M144.7 127.2h0M133.3 139.4h0M138.4 134.1h0M124.5 133.4h0M140.1 137.7h0M116.8 133.9h0M143.1 140.2h0M120.5 131.6h0M127.8 126.8h0M134.4 154.3h0M151.6 131.3h0M140.8 146.9h0M145.9 137.2h0M143.6 150.4h0M135.7 134.1h0M140 154.8h0M127.6 126.8h0M138.9 130.6h0M129.6 132.9h0M149 132.4h0M137.7 128.5h0M147.9 141.6h0M156.6 125.9h0M151.6 137.4h0M133.1 140h0M146.7 144.6h0M133.6 134.4h0M127.1 128h0M128.3 130.7h0M128.7 138.4h0M122.8 137.9h0M129.5 134.8h0M116 135.6h0M136.6 139.9h0M119.9 136.3h0M129.2 130.4h0M141.5 140.8h0M148.6 145.4h0M132.9 133.7h0M158.8 127.5h0M147.5 144.9h0M122 140.6h0M137.9 151.6h0M141.4 153.6h0M145.7 146.6h0M121.8 134.9h0M140.3 144.3h0M143.2 146.2h0M144.7 124.5h0M148 131.1h0M119.2 131.6h0M147.7 129.4h0M136.8 146.3h0M143.9 124.9h0M122.4 131.1h0M148.3 132.9h0M140.7 122.6h0M118.6 131.7h0M145.2 146.6h0M145.4 132.4h0M138.5 138.6h0M136.3 126.4h0M154.9 129.2h0M116.8 138.4h0M135.5 131.7h0M122.2 140.7h0M157.4 126.9h0M151.7 140.1h0M137.1 123.1h0M116.1 139.5h0M135.6 132.8h0M122.1 134.3h0M129.7 151.8h0M152.5 126.4h0M155.2 132.4h0M132.2 136h0M131.7 137.3h0M126.8 131.6h0M138.2 128.9h0M143.4 154.4h0M147.3 123.9h0M147.8 138.1h0M148.7 144.9h0M128.4 123.9h0M156.3 126.7h0M136.5 134.3h0M128.9 148.2h0M158.5 131.4h0M144.5 132.8h0M140.2 136.1h0M123.3 127.9h0M137.6 130h0M135.6 127.1h0M148.6 136.7h0M132.4 134.1h0M118.7 132h0M158.1 126.6h0M137.9 144.4h0M153.5 129.8h0M127.8 131h0M133.4 137.9h0M154.9 138.9h0M133 154.8h0M138.7 146.2h0M144.1 149.1h0M135.9 141.6h0M144.1 132.9h0M121.6 131.1h0M132.9 130.1h0M142.1 122.6h0M129.1 138.4h0M154.4 138.9h0M126.2 130.9h0M137.7 146h0M134.3 131.3h0M130.7 137h0M145.7 129.2h0M138 129.4h0M158.2 133.2h0M151.7 130.3h0M125.6 149h0M137.6 128.8h0M125.7 136.9h0M122.4 136.1h0M118.6 136.1h0M156.5 133.8h0M148.5 123.3h0M132.3 133.9h0M128.2 134.6h0M157.6 126.6h0M157.9 129.5h0M118.1 138.9h0M132.2 154.6h0M124.4 135h0M133.9 150.8h0M149.3 123.6h0M156 131.3h0M130.7 131.8h0M127.4 147.4h0M129.8 131.9h0M126.2 138.9h0M132.8 131h0M134.7 139.6h0M156.4 128.6h0M142.4 133.7h0M150 125h0M124.6 148.7h0M117.5 141.7h0M127.5 125.2h0M120.2 139.8h0M146.9 137.9h0M126.2 136.9h0M143 145.9h0M144.9 126.5h0M140.6 135.3h0M126.8 130.8h0M141.1 133.7h0M138.1 130.4h0M117.7 132.5h0M156.4 135.3h0M153.7 138h0M127.3 149.6h0M141.9 144h0M122.1 129.4h0M127.1 143.3h0M144.3 129.4h0M116.5 133.7h0M143 136.4h0M147.8 128.1h0M148.3 134.4h0M137.1 137.1h0M142.8 132.1h0M151.3 139.6h0M139.6 135.6h0M138.1 144.1h0M141.1 139h0M162.5 122h0M141.6 135.9h0M161.9 134h0M132 137.5h0M131.4 138.8h0M140.4 134.3h0M154.9 134.1h0M134 125.9h0M138.6 137.5h0M148.9 136.5h0M152.1 136.9h0M151.9 122.4h0M165.1 129.2h0M142.4 133.8h0M152 131.6h0M154 130h0M147.1 131.2h0M146.2 130.4h0M132.4 138.6h0M137.3 133.1h0M149.2 136h0M142.3 124h0M154.8 135.1h0M147.1 131.7h0M140.3 130.8h0M135.9 136.5h0M134.7 136.6h0M137 135.2h0M155.8 134.5h0M139.2 133.8h0M146.2 125.7h0M140.2 134.3h0M141.3 134h0M152.1 136.3h0M142.7 133.5h0M142.9 132.2h0M143.6 125.7h0M137.3 133.5h0M161.3 121.7h0M143.4 125.3h0M152.7 145.7h0M125.3 134.2h0M149.1 132.2h0M149.3 123.4h0M151.7 135.3h0M145.2 130.9h0M150 131.4h0M146.7 131.3h0M127.3 133.5h0M146.6 137h0M138.1 133.4h0M149.8 134.3h0M154.8 142.7h0M137.8 124.8h0M151.7 140.6h0M152.2 137.3h0M140.1 130.3h0M152 129.4h0M130.7 129.1h0M164.6 142.4h0M139.6 130.3h0M146.8 130.2h0M155.3 133.2h0M136.4 139.6h0M140.4 134.6h0M144.9 132.2h0M147.5 130.4h0M135 130.1h0M144.8 133.8h0M149.4 134.1h0M138.7 130.4h0M148.8 136h0M144 132.8h0M152.4 133.7h0M150.8 136.3h0M140.5 132h0M138.6 130h0M157.2 141.6h0M154.5 127.8h0M140 135.7h0M138.2 132h0M139.8 129.7h0M156.8 130.7h0M145.1 143.4h0M154.3 135.1h0M140.2 135.5h0M154.9 134h0M149.1 132.7h0M148.3 139.5h0M133.7 133.3h0M146.9 131h0M142.6 137.2h0M147.6 126.5h0M160.2 133.9h0M144.5 128.6h0M145.5 135.7h0M145.2 134.9h0M139.8 125.3h0M143.5 130.1h0M137 132h0M147.3 128.2h0M143.9 140.1h0M150.4 132.9h0M146 133h0M144.6 136.9h0M144.8 129.5h0M150.1 130.8h0M146.2 143.5h0M136.7 128.5h0M133.9 122.7h0M130.2 135.3h0M140 125.1h0M133.3 136.4h0M138.9 131.9h0M147.6 139.8h0M160.3 138.3h0M146.1 134.4h0M142.5 135.7h0M147.2 133.8h0M141.1 127.6h0M140.8 126.6h0M154.6 136h0M135.5 140h0M152 124.9h0M159.5 137.3h0M161.2 128h0M133.4 146.4h0M135.5 148.2h0M141.5 156.1h0M137.6 149.9h0M134.7 146.6h0M136.8 148h0M142.4 156.5h0M134.5 150.4h0M135.3 147.2h0M134.6 146.6h0M142.2 156.2h0M134.4 143.4h0M131.1 145.1h0M142.4 157.1h0M136.2 147.8h0M143.9 159.3h0M139.8 154.1h0M141.4 154.1h0M140.7 152.4h0M134.8 149.5h0M145.5 158.8h0M132.9 146h0M142.2 157.6h0M143.3 158.7h0M138.1 149.3h0M139 154.1h0M134.7 144.7h0M140.9 155.1h0M137.8 149.7h0M133.4 148.5h0M142.9 157.2h0M133.9 148.7h0M133.3 147h0M144.5 158.4h0M145.4 159.5h0M145.3 157.2h0M137.4 151.6h0"/>
<path id="g29" d="M143.7 146.8h0"/>
<path id="g30" d="M139.3 135.1h0M120.4 135h0M117.2 132h0M143.1 153.9h0M130.5 150.4h0M123 137.4h0M137.5 151.6h0M130.9 151.5h0M137.9 141h0M125.2 142.7h0M140.8 153.4h0M129.9 134.9h0M152.6 132.5h0M136.6 151h0M142.8 131h0M139.9 137.3h0M144.3 130.5h0M127.2 132.2h0M146.3 135.8h0M145.1 132.3h0M136.9 130.2h0M150.8 137.1h0M149 132.8h0M130.5 123.5h0M146.7 139.5h0M145.2 136.2h0M144.7 128.5h0M138.3 140.1h0M144.3 122.6h0M141.6 156h0"/>
<path id="g31" d="M22.8 131.5h0M37.1 138.2h0M42.9 135.2h0M26.7 135.9h0M38.4 141.6h0M44.2 139.3h0M32.9 152.8h0M40.6 131.2h0M43.7 150.6h0M34.3 130.6h0M36.5 147.5h0M31.1 130.4h0M38 133.2h0M26.2 128h0M37.8 153.1h0M32.9 129.7h0M33.1 135.8h0M23.8 138.8h0M21.9 133.7h0M24.9 125.8h0M27.4 120.1h0M33.2 116.9h0"/>
<path id="g32" d="M37.2 139h0M34 149.1h0M32.7 143.3h0M29.1 128h0M37.2 142.7h0M42.5 149.6h0M25.7 132.8h0M43.7 144h0M40.5 131.9h0M41.1 148.6h0M29.9 135.9h0M32.1 130.4h0M22.7 133h0M34.6 152.6h0M34.1 145.9h0M33.2 142.2h0M30.5 151.1h0M43.5 148.1h0M22.6 142.2h0M27 145.9h0M33.4 146.3h0M35.4 151.5h0M25.6 134.3h0M39.1 149.3h0M22.4 136.5h0M22.8 136.7h0M39 129.2h0M34.9 116.7h0M27 118.5h0M22.9 126h0"/>
<path id="g33" d="M25.6 132.4h0M42.3 136.4h0M23.2 142.5h0M23.7 131.1h0M31.6 142.3h0M35.9 145.8h0M31.2 127.3h0M31.9 136.9h0M36.7 146h0M26.4 144.1h0M35 127.1h0M26.2 136.7h0M39.5 149.2h0M35.8 146.8h0M44 148.6h0M25.9 144.8h0M42.9 143.8h0M42.6 132.9h0M43.9 145.9h0M24.6 140.2h0M41.9 151.9h0M34.9 148.5h0M33.7 133.7h0M40.5 148.8h0M31.6 128.9h0M36.2 131.3h0M30.9 128.5h0M44 141.1h0M38.1 150h0M29.5 134.1h0M38.9 129.6h0M35.2 153.7h0M22.5 128.6h0M33.1 138.5h0M30.4 143h0M36.2 151.9h0M38.2 148.4h0M36.9 150h0M31 150.8h0M31.2 145.8h0M26.7 134h0M29 134.7h0M23 138.2h0M44.1 144.3h0M42.9 147.4h0M38.6 133.3h0M26.7 137.3h0M21.2 132h0M41.8 152h0M28.5 147.7h0M39.2 151.1h0M39.6 140.7h0M28.2 143.5h0M29.5 140.9h0M33.4 144.2h0M33.5 152.5h0M37.1 153.4h0M21 132.9h0M24.9 138h0M37.1 145.3h0M38.5 147.1h0M26.6 132.8h0M34.8 144.3h0M35 145.5h0M28 127.2h0M29.3 129.4h0M23.4 139.6h0M43.8 145.2h0M27.2 147.6h0M24.9 128.2h0M27.9 137.2h0M36.7 133.4h0M20.9 130.8h0M36.4 142.3h0M36.5 130.5h0M24.1 128.1h0M44.1 136.4h0M36.2 141.8h0M26 127.2h0M29.4 146.3h0M33.2 128.5h0M26.6 148.4h0M27.5 136.4h0M38.9 131.8h0M25.3 131.7h0M36 139h0M36.5 149.6h0M31.2 128.7h0M31.7 145.9h0M22.9 128.7h0M26.2 138.1h0M29.3 138.9h0M43 141.4h0M22.4 131.8h0M41.4 153.2h0M43.2 140.5h0M26.4 130.3h0M41.3 131.5h0M42.7 138.7h0M31.5 134.5h0M25.6 144.5h0M29.3 128.8h0M36.3 140.2h0M38.3 140.9h0M26.3 139.8h0M35.1 144.2h0M43.2 146.8h0M41.1 136h0M26.1 142.6h0M31.2 129.4h0M25.3 147h0M30.3 145h0M26.3 139.1h0M35.5 131.6h0M44.5 138.6h0M28.4 137.1h0M28.9 144.7h0M21.3 136.2h0M26.9 138.5h0M24 132.3h0M24.3 129.3h0M26.3 130.2h0M34.7 138.4h0M36.5 150.3h0M43.5 133.1h0M43.2 137.1h0M27.6 133.7h0M30.7 140.7h0M40.9 148.7h0M36.3 140.2h0M23.5 132.4h0M36.4 142.3h0M39.8 151.4h0M37.2 132.7h0M26.3 135.9h0M33.2 145h0M35.6 139h0M36.7 148.5h0M36.9 145.9h0M36.1 130.5h0M26.3 137.8h0M42.2 132.1h0M38.2 135.7h0M23.8 131.8h0M25.8 133h0M21.6 129.3h0M30.4 137.5h0M43.2 142h0M29.2 145.7h0M32.2 125.8h0M36.8 130h0M39 149.5h0M36 143.7h0M37.5 153.3h0M25.4 147.5h0M27.9 132.7h0M40.3 142.7h0M41 150.7h0M34.7 131.1h0M24.8 145.5h0M28.7 140.5h0M28.3 137.4h0M32.1 132.8h0M24.6 128h0M35.6 145.5h0M27 148.3h0M38.1 135.2h0M32.4 130.8h0M42.8 141.6h0M21.9 129.8h0M37.2 136.5h0M37.8 132h0M39.7 148.6h0M23 142.3h0M25.3 145.8h0M39.9 148.3h0M36.5 141.7h0M24 130.9h0M34.6 128.4h0M35.8 132.3h0M26.9 137.6h0M26 133.7h0M36 145.4h0M36.5 132.9h0M24.5 131.9h0M39.6 134.3h0M28.2 146.2h0M22 143h0M42.9 150.7h0M31.7 131h0M23.6 140h0M37.8 140.7h0M32.2 132.6h0M36.6 131.7h0M28.3 139.1h0M37.7 147.6h0M29.6 138.3h0M42.8 152.4h0M35.5 128.4h0M31.6 143.8h0M44.1 151.7h0M35.5 134h0M39.1 138h0M24.6 140.7h0M33.1 117.4h0M24.9 126h0M28.1 119.9h0M24.3 118.5h0M26 125.7h0M33.9 128.1h0M28.7 128.8h0M30.3 119.1h0M28.6 125.3h0M31.9 116.8h0M25.2 128.8h0M24.1 126.7h0M26 121.8h0M35.1 117.1h0M33.4 119.6h0M27 117.7h0M28 126.9h0M33.5 123.3h0M30.3 128h0M34.6 119.7h0M33.3 126.8h0M26.1 120.3h0M27.5 116.6h0M25.6 128.1h0M27.9 124.2h0M33.8 125.9h0M25.8 128.3h0M32.8 129.3h0M31.8 125.9h0M32.9 118.6h0M30.9 120.5h0M29.5 119.8h0M33 120h0M33.3 127.2h0"/>
</defs>
<g transform="translate(2.9 235.3)" font-size="15.5" fill="#000" font-weight="bold"><text x="0" y="5.6">B</text></g>
<line x1="30.5" y1="243" x2="30.5" y2="415.5" stroke="#c8c8c8" stroke-width="1.2" />
<line x1="30.5" y1="415.5" x2="194.5" y2="415.5" stroke="#c8c8c8" stroke-width="1.2" />
<use href="#g1" x="28" y="240" stroke="#66c2a5" stroke-width="1.45" stroke-linecap="round" opacity=".92"/>
<use href="#g3" x="28" y="240" stroke="#66c2a5" stroke-width="1.45" stroke-linecap="round" opacity=".92"/>
<use href="#g5" x="28" y="240" stroke="#66c2a5" stroke-width="1.45" stroke-linecap="round" opacity=".92"/>
<use href="#g7" x="28" y="240" stroke="#66c2a5" stroke-width="1.45" stroke-linecap="round" opacity=".92"/>
<use href="#g10" x="28" y="240" stroke="#66c2a5" stroke-width="1.45" stroke-linecap="round" opacity=".92"/>
<use href="#g13" x="28" y="240" stroke="#66c2a5" stroke-width="1.45" stroke-linecap="round" opacity=".92"/>
<use href="#g15" x="28" y="240" stroke="#66c2a5" stroke-width="1.45" stroke-linecap="round" opacity=".92"/>
<use href="#g16" x="28" y="240" stroke="#66c2a5" stroke-width="1.45" stroke-linecap="round" opacity=".92"/>
<use href="#g18" x="28" y="240" stroke="#66c2a5" stroke-width="1.45" stroke-linecap="round" opacity=".92"/>
<use href="#g20" x="28" y="240" stroke="#66c2a5" stroke-width="1.45" stroke-linecap="round" opacity=".92"/>
<use href="#g23" x="28" y="240" stroke="#66c2a5" stroke-width="1.45" stroke-linecap="round" opacity=".92"/>
<use href="#g26" x="28" y="240" stroke="#66c2a5" stroke-width="1.45" stroke-linecap="round" opacity=".92"/>
<use href="#g28" x="28" y="240" stroke="#66c2a5" stroke-width="1.45" stroke-linecap="round" opacity=".92"/>
<use href="#g30" x="28" y="240" stroke="#66c2a5" stroke-width="1.45" stroke-linecap="round" opacity=".92"/>
<use href="#g31" x="28" y="240" stroke="#66c2a5" stroke-width="1.45" stroke-linecap="round" opacity=".92"/>
<use href="#g33" x="28" y="240" stroke="#66c2a5" stroke-width="1.45" stroke-linecap="round" opacity=".92"/>
<use href="#g0" x="28" y="240" stroke="#e78ac3" stroke-width="1.45" stroke-linecap="round" opacity=".92"/>
<use href="#g2" x="28" y="240" stroke="#e78ac3" stroke-width="1.45" stroke-linecap="round" opacity=".92"/>
<use href="#g4" x="28" y="240" stroke="#f5c81a" stroke-width="1.45" stroke-linecap="round" opacity=".92"/>
<use href="#g6" x="28" y="240" stroke="#f5c81a" stroke-width="1.45" stroke-linecap="round" opacity=".92"/>
<use href="#g8" x="28" y="240" stroke="#f5c81a" stroke-width="1.45" stroke-linecap="round" opacity=".92"/>
<use href="#g9" x="28" y="240" stroke="#e78ac3" stroke-width="1.45" stroke-linecap="round" opacity=".92"/>
<use href="#g11" x="28" y="240" stroke="#f5c81a" stroke-width="1.45" stroke-linecap="round" opacity=".92"/>
<use href="#g12" x="28" y="240" stroke="#e78ac3" stroke-width="1.45" stroke-linecap="round" opacity=".92"/>
<use href="#g14" x="28" y="240" stroke="#e78ac3" stroke-width="1.45" stroke-linecap="round" opacity=".92"/>
<use href="#g17" x="28" y="240" stroke="#e78ac3" stroke-width="1.45" stroke-linecap="round" opacity=".92"/>
<use href="#g19" x="28" y="240" stroke="#e78ac3" stroke-width="1.45" stroke-linecap="round" opacity=".92"/>
<use href="#g21" x="28" y="240" stroke="#f5c81a" stroke-width="1.45" stroke-linecap="round" opacity=".92"/>
<use href="#g22" x="28" y="240" stroke="#e78ac3" stroke-width="1.45" stroke-linecap="round" opacity=".92"/>
<use href="#g24" x="28" y="240" stroke="#f5c81a" stroke-width="1.45" stroke-linecap="round" opacity=".92"/>
<use href="#g25" x="28" y="240" stroke="#e78ac3" stroke-width="1.45" stroke-linecap="round" opacity=".92"/>
<use href="#g27" x="28" y="240" stroke="#e78ac3" stroke-width="1.45" stroke-linecap="round" opacity=".92"/>
<use href="#g29" x="28" y="240" stroke="#e78ac3" stroke-width="1.45" stroke-linecap="round" opacity=".92"/>
<use href="#g32" x="28" y="240" stroke="#f5c81a" stroke-width="1.45" stroke-linecap="round" opacity=".92"/>
<g transform="translate(35 255)" font-size="9.5" fill="#333" stroke="#333" stroke-width="0.35" stroke-opacity=".45"><path d="M-5.6 -2.6h4.1v5.4h-4.1z" fill="none" stroke="#3a3a3a" stroke-opacity="1" stroke-width="1.1"/></g>
<g transform="translate(35 307.3)" font-size="9.5" fill="#333" stroke="#333" stroke-width="0.35" stroke-opacity=".45"><path d="M-12.8 -2.6h4.1v5.4h-4.1zM-5.6 -2.6h4.1v5.4h-4.1z" fill="none" stroke="#3a3a3a" stroke-opacity="1" stroke-width="1.1"/></g>
<g transform="translate(35 358.7)" font-size="9.5" fill="#333" stroke="#333" stroke-width="0.35" stroke-opacity=".45"><path d="M-12.8 -2.6h4.1v5.4h-4.1zM-5.6 -2.6h4.1v5.4h-4.1z" fill="none" stroke="#3a3a3a" stroke-opacity="1" stroke-width="1.1"/></g>
<g transform="translate(35 408.8)" font-size="9.5" fill="#333" stroke="#333" stroke-width="0.35" stroke-opacity=".45"><path d="M-12.8 -2.6h4.1v5.4h-4.1zM-5.6 -2.6h4.1v5.4h-4.1z" fill="none" stroke="#3a3a3a" stroke-opacity="1" stroke-width="1.1"/></g>
<g transform="translate(43.9 421)" font-size="7" fill="#aaa" stroke="#aaa" stroke-width="0.35" stroke-opacity=".45"><path d="M-1.6 -1.9h3.1v4.1h-3.1z" fill="none" stroke="#b8b8b8" stroke-opacity="1" stroke-width="0.7"/></g>
<g transform="translate(82.9 421)" font-size="7" fill="#aaa" stroke="#aaa" stroke-width="0.35" stroke-opacity=".45"><path d="M-4.2 -1.9h3.1v4.1h-3.1zM1.1 -1.9h3.1v4.1h-3.1z" fill="none" stroke="#b8b8b8" stroke-opacity="1" stroke-width="0.7"/></g>
<g transform="translate(121.6 421)" font-size="7" fill="#aaa" stroke="#aaa" stroke-width="0.35" stroke-opacity=".45"><path d="M-4.2 -1.9h3.1v4.1h-3.1zM1.1 -1.9h3.1v4.1h-3.1z" fill="none" stroke="#b8b8b8" stroke-opacity="1" stroke-width="0.7"/></g>
<g transform="translate(160.6 421)" font-size="7" fill="#aaa" stroke="#aaa" stroke-width="0.35" stroke-opacity=".45"><path d="M-4.2 -1.9h3.1v4.1h-3.1zM1.1 -1.9h3.1v4.1h-3.1z" fill="none" stroke="#b8b8b8" stroke-opacity="1" stroke-width="0.7"/></g>
<g transform="translate(115.5 428.8)" font-size="8.3" fill="#222" stroke="#222" stroke-width="0.35" stroke-opacity=".45"><text x="-15.1" y="3">80$3B</text><path d="M10 -2.4h4v5.1h-4z" fill="none" stroke="#bbb" stroke-opacity="1" stroke-width="0.6"/></g>
<g transform="translate(11.5 323.6) rotate(-90)" font-size="8.3" fill="#222" stroke="#222" stroke-width="0.35" stroke-opacity=".45"><text x="-15.1" y="3">80$3B</text><path d="M10 -2.4h4v5.1h-4z" fill="none" stroke="#bbb" stroke-opacity="1" stroke-width="0.6"/></g>
<line x1="304.5" y1="243" x2="304.5" y2="415.5" stroke="#c8c8c8" stroke-width="1.2" />
<line x1="304.5" y1="415.5" x2="468.5" y2="415.5" stroke="#c8c8c8" stroke-width="1.2" />
<use href="#g0" x="302" y="240" stroke="#00a9ff" stroke-width="1.45" stroke-linecap="round" opacity=".92"/>
<use href="#g1" x="302" y="240" stroke="#00a9ff" stroke-width="1.45" stroke-linecap="round" opacity=".92"/>
<use href="#g2" x="302" y="240" stroke="#f8766d" stroke-width="1.45" stroke-linecap="round" opacity=".92"/>
<use href="#g3" x="302" y="240" stroke="#f8766d" stroke-width="1.45" stroke-linecap="round" opacity=".92"/>
<use href="#g4" x="302" y="240" stroke="#00a9ff" stroke-width="1.45" stroke-linecap="round" opacity=".92"/>
<use href="#g5" x="302" y="240" stroke="#00a9ff" stroke-width="1.45" stroke-linecap="round" opacity=".92"/>
<use href="#g6" x="302" y="240" stroke="#f8766d" stroke-width="1.45" stroke-linecap="round" opacity=".92"/>
<use href="#g7" x="302" y="240" stroke="#f8766d" stroke-width="1.45" stroke-linecap="round" opacity=".92"/>
<use href="#g8" x="302" y="240" stroke="#00a9ff" stroke-width="1.45" stroke-linecap="round" opacity=".92"/>
<use href="#g9" x="302" y="240" stroke="#00a9ff" stroke-width="1.45" stroke-linecap="round" opacity=".92"/>
<use href="#g10" x="302" y="240" stroke="#00a9ff" stroke-width="1.45" stroke-linecap="round" opacity=".92"/>
<use href="#g11" x="302" y="240" stroke="#f8766d" stroke-width="1.45" stroke-linecap="round" opacity=".92"/>
<use href="#g12" x="302" y="240" stroke="#f8766d" stroke-width="1.45" stroke-linecap="round" opacity=".92"/>
<use href="#g13" x="302" y="240" stroke="#f8766d" stroke-width="1.45" stroke-linecap="round" opacity=".92"/>
<use href="#g14" x="302" y="240" stroke="#00a9ff" stroke-width="1.45" stroke-linecap="round" opacity=".92"/>
<use href="#g15" x="302" y="240" stroke="#00a9ff" stroke-width="1.45" stroke-linecap="round" opacity=".92"/>
<use href="#g16" x="302" y="240" stroke="#f8766d" stroke-width="1.45" stroke-linecap="round" opacity=".92"/>
<use href="#g17" x="302" y="240" stroke="#00a9ff" stroke-width="1.45" stroke-linecap="round" opacity=".92"/>
<use href="#g18" x="302" y="240" stroke="#00a9ff" stroke-width="1.45" stroke-linecap="round" opacity=".92"/>
<use href="#g19" x="302" y="240" stroke="#f8766d" stroke-width="1.45" stroke-linecap="round" opacity=".92"/>
<use href="#g20" x="302" y="240" stroke="#f8766d" stroke-width="1.45" stroke-linecap="round" opacity=".92"/>
<use href="#g21" x="302" y="240" stroke="#00a9ff" stroke-width="1.45" stroke-linecap="round" opacity=".92"/>
<use href="#g22" x="302" y="240" stroke="#00a9ff" stroke-width="1.45" stroke-linecap="round" opacity=".92"/>
<use href="#g23" x="302" y="240" stroke="#00a9ff" stroke-width="1.45" stroke-linecap="round" opacity=".92"/>
<use href="#g24" x="302" y="240" stroke="#f8766d" stroke-width="1.45" stroke-linecap="round" opacity=".92"/>
<use href="#g25" x="302" y="240" stroke="#f8766d" stroke-width="1.45" stroke-linecap="round" opacity=".92"/>
<use href="#g26" x="302" y="240" stroke="#f8766d" stroke-width="1.45" stroke-linecap="round" opacity=".92"/>
<use href="#g27" x="302" y="240" stroke="#00a9ff" stroke-width="1.45" stroke-linecap="round" opacity=".92"/>
<use href="#g28" x="302" y="240" stroke="#00a9ff" stroke-width="1.45" stroke-linecap="round" opacity=".92"/>
<use href="#g29" x="302" y="240" stroke="#f8766d" stroke-width="1.45" stroke-linecap="round" opacity=".92"/>
<use href="#g30" x="302" y="240" stroke="#f8766d" stroke-width="1.45" stroke-linecap="round" opacity=".92"/>
<use href="#g31" x="302" y="240" stroke="#00a9ff" stroke-width="1.45" stroke-linecap="round" opacity=".92"/>
<use href="#g32" x="302" y="240" stroke="#f8766d" stroke-width="1.45" stroke-linecap="round" opacity=".92"/>
<use href="#g33" x="302" y="240" stroke="#f8766d" stroke-width="1.45" stroke-linecap="round" opacity=".92"/>
<g transform="translate(309 255)" font-size="9.5" fill="#333" stroke="#333" stroke-width="0.35" stroke-opacity=".45"><path d="M-5.6 -2.6h4.1v5.4h-4.1z" fill="none" stroke="#3a3a3a" stroke-opacity="1" stroke-width="1.1"/></g>
<g transform="translate(309 307.3)" font-size="9.5" fill="#333" stroke="#333" stroke-width="0.35" stroke-opacity=".45"><path d="M-12.8 -2.6h4.1v5.4h-4.1zM-5.6 -2.6h4.1v5.4h-4.1z" fill="none" stroke="#3a3a3a" stroke-opacity="1" stroke-width="1.1"/></g>
<g transform="translate(309 358.7)" font-size="9.5" fill="#333" stroke="#333" stroke-width="0.35" stroke-opacity=".45"><path d="M-12.8 -2.6h4.1v5.4h-4.1zM-5.6 -2.6h4.1v5.4h-4.1z" fill="none" stroke="#3a3a3a" stroke-opacity="1" stroke-width="1.1"/></g>
<g transform="translate(309 408.8)" font-size="9.5" fill="#333" stroke="#333" stroke-width="0.35" stroke-opacity=".45"><path d="M-12.8 -2.6h4.1v5.4h-4.1zM-5.6 -2.6h4.1v5.4h-4.1z" fill="none" stroke="#3a3a3a" stroke-opacity="1" stroke-width="1.1"/></g>
<g transform="translate(317.9 421)" font-size="7" fill="#aaa" stroke="#aaa" stroke-width="0.35" stroke-opacity=".45"><path d="M-1.6 -1.9h3.1v4.1h-3.1z" fill="none" stroke="#b8b8b8" stroke-opacity="1" stroke-width="0.7"/></g>
<g transform="translate(356.9 421)" font-size="7" fill="#aaa" stroke="#aaa" stroke-width="0.35" stroke-opacity=".45"><path d="M-4.2 -1.9h3.1v4.1h-3.1zM1.1 -1.9h3.1v4.1h-3.1z" fill="none" stroke="#b8b8b8" stroke-opacity="1" stroke-width="0.7"/></g>
<g transform="translate(395.6 421)" font-size="7" fill="#aaa" stroke="#aaa" stroke-width="0.35" stroke-opacity=".45"><path d="M-4.2 -1.9h3.1v4.1h-3.1zM1.1 -1.9h3.1v4.1h-3.1z" fill="none" stroke="#b8b8b8" stroke-opacity="1" stroke-width="0.7"/></g>
<g transform="translate(434.6 421)" font-size="7" fill="#aaa" stroke="#aaa" stroke-width="0.35" stroke-opacity=".45"><path d="M-4.2 -1.9h3.1v4.1h-3.1zM1.1 -1.9h3.1v4.1h-3.1z" fill="none" stroke="#b8b8b8" stroke-opacity="1" stroke-width="0.7"/></g>
<g transform="translate(389.5 428.8)" font-size="8.3" fill="#222" stroke="#222" stroke-width="0.35" stroke-opacity=".45"><text x="-15.1" y="3">80$3B</text><path d="M10 -2.4h4v5.1h-4z" fill="none" stroke="#bbb" stroke-opacity="1" stroke-width="0.6"/></g>
<g transform="translate(285.5 323.6) rotate(-90)" font-size="8.3" fill="#222" stroke="#222" stroke-width="0.35" stroke-opacity=".45"><text x="-15.1" y="3">80$3B</text><path d="M10 -2.4h4v5.1h-4z" fill="none" stroke="#bbb" stroke-opacity="1" stroke-width="0.6"/></g>
<line x1="592.5" y1="243" x2="592.5" y2="415.5" stroke="#c8c8c8" stroke-width="1.2" />
<line x1="592.5" y1="415.5" x2="756.5" y2="415.5" stroke="#c8c8c8" stroke-width="1.2" />
<use href="#g0" x="590" y="240" stroke="#00a9ff" stroke-width="1.45" stroke-linecap="round" opacity=".92"/>
<use href="#g1" x="590" y="240" stroke="#00a9ff" stroke-width="1.45" stroke-linecap="round" opacity=".92"/>
<use href="#g2" x="590" y="240" stroke="#00a9ff" stroke-width="1.45" stroke-linecap="round" opacity=".92"/>
<use href="#g3" x="590" y="240" stroke="#00a9ff" stroke-width="1.45" stroke-linecap="round" opacity=".92"/>
<use href="#g4" x="590" y="240" stroke="#cd9600" stroke-width="1.45" stroke-linecap="round" opacity=".92"/>
<use href="#g5" x="590" y="240" stroke="#cd9600" stroke-width="1.45" stroke-linecap="round" opacity=".92"/>
<use href="#g6" x="590" y="240" stroke="#cd9600" stroke-width="1.45" stroke-linecap="round" opacity=".92"/>
<use href="#g7" x="590" y="240" stroke="#cd9600" stroke-width="1.45" stroke-linecap="round" opacity=".92"/>
<use href="#g8" x="590" y="240" stroke="#00be67" stroke-width="1.45" stroke-linecap="round" opacity=".92"/>
<use href="#g9" x="590" y="240" stroke="#00be67" stroke-width="1.45" stroke-linecap="round" opacity=".92"/>
<use href="#g10" x="590" y="240" stroke="#00be67" stroke-width="1.45" stroke-linecap="round" opacity=".92"/>
<use href="#g11" x="590" y="240" stroke="#00be67" stroke-width="1.45" stroke-linecap="round" opacity=".92"/>
<use href="#g12" x="590" y="240" stroke="#00be67" stroke-width="1.45" stroke-linecap="round" opacity=".92"/>
<use href="#g13" x="590" y="240" stroke="#00be67" stroke-width="1.45" stroke-linecap="round" opacity=".92"/>
<use href="#g14" x="590" y="240" stroke="#ff61cc" stroke-width="1.45" stroke-linecap="round" opacity=".92"/>
<use href="#g15" x="590" y="240" stroke="#ff61cc" stroke-width="1.45" stroke-linecap="round" opacity=".92"/>
<use href="#g16" x="590" y="240" stroke="#ff61cc" stroke-width="1.45" stroke-linecap="round" opacity=".92"/>
<use href="#g17" x="590" y="240" stroke="#7cae00" stroke-width="1.45" stroke-linecap="round" opacity=".92"/>
<use href="#g18" x="590" y="240" stroke="#7cae00" stroke-width="1.45" stroke-linecap="round" opacity=".92"/>
<use href="#g19" x="590" y="240" stroke="#7cae00" stroke-width="1.45" stroke-linecap="round" opacity=".92"/>
<use href="#g20" x="590" y="240" stroke="#7cae00" stroke-width="1.45" stroke-linecap="round" opacity=".92"/>
<use href="#g21" x="590" y="240" stroke="#c77cff" stroke-width="1.45" stroke-linecap="round" opacity=".92"/>
<use href="#g22" x="590" y="240" stroke="#c77cff" stroke-width="1.45" stroke-linecap="round" opacity=".92"/>
<use href="#g23" x="590" y="240" stroke="#c77cff" stroke-width="1.45" stroke-linecap="round" opacity=".92"/>
<use href="#g24" x="590" y="240" stroke="#c77cff" stroke-width="1.45" stroke-linecap="round" opacity=".92"/>
<use href="#g25" x="590" y="240" stroke="#c77cff" stroke-width="1.45" stroke-linecap="round" opacity=".92"/>
<use href="#g26" x="590" y="240" stroke="#c77cff" stroke-width="1.45" stroke-linecap="round" opacity=".92"/>
<use href="#g27" x="590" y="240" stroke="#f8766d" stroke-width="1.45" stroke-linecap="round" opacity=".92"/>
<use href="#g28" x="590" y="240" stroke="#f8766d" stroke-width="1.45" stroke-linecap="round" opacity=".92"/>
<use href="#g29" x="590" y="240" stroke="#f8766d" stroke-width="1.45" stroke-linecap="round" opacity=".92"/>
<use href="#g30" x="590" y="240" stroke="#f8766d" stroke-width="1.45" stroke-linecap="round" opacity=".92"/>
<use href="#g31" x="590" y="240" stroke="#00bfc4" stroke-width="1.45" stroke-linecap="round" opacity=".92"/>
<use href="#g32" x="590" y="240" stroke="#00bfc4" stroke-width="1.45" stroke-linecap="round" opacity=".92"/>
<use href="#g33" x="590" y="240" stroke="#00bfc4" stroke-width="1.45" stroke-linecap="round" opacity=".92"/>
<g transform="translate(597 255)" font-size="9.5" fill="#333" stroke="#333" stroke-width="0.35" stroke-opacity=".45"><path d="M-5.6 -2.6h4.1v5.4h-4.1z" fill="none" stroke="#3a3a3a" stroke-opacity="1" stroke-width="1.1"/></g>
<g transform="translate(597 307.3)" font-size="9.5" fill="#333" stroke="#333" stroke-width="0.35" stroke-opacity=".45"><path d="M-12.8 -2.6h4.1v5.4h-4.1zM-5.6 -2.6h4.1v5.4h-4.1z" fill="none" stroke="#3a3a3a" stroke-opacity="1" stroke-width="1.1"/></g>
<g transform="translate(597 358.7)" font-size="9.5" fill="#333" stroke="#333" stroke-width="0.35" stroke-opacity=".45"><path d="M-12.8 -2.6h4.1v5.4h-4.1zM-5.6 -2.6h4.1v5.4h-4.1z" fill="none" stroke="#3a3a3a" stroke-opacity="1" stroke-width="1.1"/></g>
<g transform="translate(597 408.8)" font-size="9.5" fill="#333" stroke="#333" stroke-width="0.35" stroke-opacity=".45"><path d="M-12.8 -2.6h4.1v5.4h-4.1zM-5.6 -2.6h4.1v5.4h-4.1z" fill="none" stroke="#3a3a3a" stroke-opacity="1" stroke-width="1.1"/></g>
<g transform="translate(605.9 421)" font-size="7" fill="#aaa" stroke="#aaa" stroke-width="0.35" stroke-opacity=".45"><path d="M-1.6 -1.9h3.1v4.1h-3.1z" fill="none" stroke="#b8b8b8" stroke-opacity="1" stroke-width="0.7"/></g>
<g transform="translate(644.9 421)" font-size="7" fill="#aaa" stroke="#aaa" stroke-width="0.35" stroke-opacity=".45"><path d="M-4.2 -1.9h3.1v4.1h-3.1zM1.1 -1.9h3.1v4.1h-3.1z" fill="none" stroke="#b8b8b8" stroke-opacity="1" stroke-width="0.7"/></g>
<g transform="translate(683.6 421)" font-size="7" fill="#aaa" stroke="#aaa" stroke-width="0.35" stroke-opacity=".45"><path d="M-4.2 -1.9h3.1v4.1h-3.1zM1.1 -1.9h3.1v4.1h-3.1z" fill="none" stroke="#b8b8b8" stroke-opacity="1" stroke-width="0.7"/></g>
<g transform="translate(722.6 421)" font-size="7" fill="#aaa" stroke="#aaa" stroke-width="0.35" stroke-opacity=".45"><path d="M-4.2 -1.9h3.1v4.1h-3.1zM1.1 -1.9h3.1v4.1h-3.1z" fill="none" stroke="#b8b8b8" stroke-opacity="1" stroke-width="0.7"/></g>
<g transform="translate(677.5 428.8)" font-size="8.3" fill="#222" stroke="#222" stroke-width="0.35" stroke-opacity=".45"><text x="-15.1" y="3">80$3B</text><path d="M10 -2.4h4v5.1h-4z" fill="none" stroke="#bbb" stroke-opacity="1" stroke-width="0.6"/></g>
<g transform="translate(573.5 323.6) rotate(-90)" font-size="8.3" fill="#222" stroke="#222" stroke-width="0.35" stroke-opacity=".45"><text x="-15.1" y="3">80$3B</text><path d="M10 -2.4h4v5.1h-4z" fill="none" stroke="#bbb" stroke-opacity="1" stroke-width="0.6"/></g>
<g transform="translate(229.5 295)" font-size="8" fill="#000" font-weight="bold"><text x="0" y="2.9">3DWLHQW</text><text x="48.2" y="2.9">,'</text><path d="M43.3 -2.3h3.8v4.9h-3.8z" fill="none" stroke="#bbb" stroke-opacity="1" stroke-width="0.6"/></g>
<circle cx="226.8" cy="308" r="1.5" fill="#66c2a5"/>
<g transform="translate(231.5 308)" font-size="8.4" fill="#111" stroke="#111" stroke-width="0.35" stroke-opacity=".45"><text x="0" y="3">,&amp;</text><path d="M9.1 -2.5h4v5.2h-4z" fill="none" stroke="#bbb" stroke-opacity="1" stroke-width="0.6"/></g>
<circle cx="226.8" cy="316.3" r="1.5" fill="#f5c81a"/>
<g transform="translate(231.5 316.3)" font-size="8.4" fill="#111" stroke="#111" stroke-width="0.35" stroke-opacity=".45"><text x="0" y="3">*5</text><path d="M9.1 -2.5h4v5.2h-4z" fill="none" stroke="#bbb" stroke-opacity="1" stroke-width="0.6"/></g>
<circle cx="226.8" cy="324.6" r="1.5" fill="#8da0cb"/>
<g transform="translate(231.5 324.6)" font-size="8.4" fill="#111" stroke="#111" stroke-width="0.35" stroke-opacity=".45"><text x="0" y="3">*5</text><path d="M9.1 -2.5h4v5.2h-4z" fill="none" stroke="#bbb" stroke-opacity="1" stroke-width="0.6"/></g>
<circle cx="226.8" cy="332.9" r="1.5" fill="#e78ac3"/>
<g transform="translate(231.5 332.9)" font-size="8.4" fill="#111" stroke="#111" stroke-width="0.35" stroke-opacity=".45"><text x="0" y="3">*5</text><text x="14.2" y="3">B3&amp;</text><path d="M9.1 -2.5h4v5.2h-4z" fill="none" stroke="#bbb" stroke-opacity="1" stroke-width="0.6"/></g>
<circle cx="226.8" cy="341.2" r="1.5" fill="#a6d854"/>
<g transform="translate(231.5 341.2)" font-size="8.4" fill="#111" stroke="#111" stroke-width="0.35" stroke-opacity=".45"><text x="0" y="3">*5</text><path d="M9.1 -2.5h4v5.2h-4z" fill="none" stroke="#bbb" stroke-opacity="1" stroke-width="0.6"/></g>
<g transform="translate(471.6 311.5)" font-size="8" fill="#000" font-weight="bold"><text x="0" y="2.9">&amp;$)V</text><text x="24.2" y="2.9">WLVVXH</text><text x="64.4" y="2.9">RI</text><text x="78.4" y="2.9">RULJLQ</text><path d="M19.3 -2.3h3.8v4.9h-3.8zM59.5 -2.3h3.8v4.9h-3.8zM73.5 -2.3h3.8v4.9h-3.8z" fill="none" stroke="#bbb" stroke-opacity="1" stroke-width="0.6"/></g>
<circle cx="473.5" cy="322" r="1.5" fill="#00a9ff"/>
<g transform="translate(477 322)" font-size="8.4" fill="#111" stroke="#111" stroke-width="0.35" stroke-opacity=".45"><text x="0" y="3">-X[WDWXPRUDO</text></g>
<circle cx="473.5" cy="330.8" r="1.5" fill="#f8766d"/>
<g transform="translate(477 330.8)" font-size="8.4" fill="#111" stroke="#111" stroke-width="0.35" stroke-opacity=".45"><text x="0" y="3">7XPRUDO</text></g>
<g transform="translate(763 283.9)" font-size="8" fill="#000" font-weight="bold"><text x="0" y="2.9">&amp;$)V</text><text x="24.2" y="2.9">VXEFOXVWHU</text><path d="M19.3 -2.3h3.8v4.9h-3.8z" fill="none" stroke="#bbb" stroke-opacity="1" stroke-width="0.6"/></g>
<circle cx="762.3" cy="295.3" r="1.5" fill="#f8766d"/>
<g transform="translate(765.3 295.3)" font-size="8.4" fill="#111" stroke="#111" stroke-width="0.35" stroke-opacity=".45"><text x="0" y="3">&amp;'</text><text x="26.1" y="3">0&lt;&amp;</text><text x="47.6" y="3">ILEUREODVWV</text><path d="M8.3 -2.5h4v5.2h-4zM14.6 -2.5h4v5.2h-4zM20.9 -2.5h4v5.2h-4zM42.4 -2.5h4v5.2h-4zM110.8 -2.5h4v5.2h-4z" fill="none" stroke="#bbb" stroke-opacity="1" stroke-width="0.6"/></g>
<circle cx="762.3" cy="303.6" r="1.5" fill="#cd9600"/>
<g transform="translate(765.3 303.6)" font-size="8.4" fill="#111" stroke="#111" stroke-width="0.35" stroke-opacity=".45"><text x="0" y="3">'HVPRSODVWLF</text><text x="72.8" y="3">&amp;$)V</text><path d="M67.6 -2.5h4v5.2h-4zM92.6 -2.5h4v5.2h-4zM98.9 -2.5h4v5.2h-4z" fill="none" stroke="#bbb" stroke-opacity="1" stroke-width="0.6"/></g>
<circle cx="762.3" cy="311.9" r="1.5" fill="#7cae00"/>
<g transform="translate(765.3 311.9)" font-size="8.4" fill="#111" stroke="#111" stroke-width="0.35" stroke-opacity=".45"><text x="0" y="3">8QGHWHUPLQHG</text><path d="M74.4 -2.5h4v5.2h-4zM80.7 -2.5h4v5.2h-4zM87 -2.5h4v5.2h-4z" fill="none" stroke="#bbb" stroke-opacity="1" stroke-width="0.6"/></g>
<circle cx="762.3" cy="320.2" r="1.5" fill="#00be67"/>
<g transform="translate(765.3 320.2)" font-size="8.4" fill="#111" stroke="#111" stroke-width="0.35" stroke-opacity=".45"><text x="0" y="3">/LSRILEUREODVWV</text><path d="M81.9 -2.5h4v5.2h-4zM88.2 -2.5h4v5.2h-4zM94.5 -2.5h4v5.2h-4z" fill="none" stroke="#bbb" stroke-opacity="1" stroke-width="0.6"/></g>
<circle cx="762.3" cy="328.5" r="1.5" fill="#00bfc4"/>
<g transform="translate(765.3 328.5)" font-size="8.4" fill="#111" stroke="#111" stroke-width="0.35" stroke-opacity=".45"><text x="0" y="3">0\RILEUREODVWLF</text><text x="85.6" y="3">&amp;$)V</text><path d="M80.5 -2.5h4v5.2h-4zM105.5 -2.5h4v5.2h-4z" fill="none" stroke="#bbb" stroke-opacity="1" stroke-width="0.6"/></g>
<circle cx="762.3" cy="336.8" r="1.5" fill="#00a9ff"/>
<g transform="translate(765.3 336.8)" font-size="8.4" fill="#111" stroke="#111" stroke-width="0.35" stroke-opacity=".45"><text x="0" y="3">3HULF\WHV</text><text x="54.8" y="3">OLNH</text><text x="84.5" y="3">&amp;$)V</text><path d="M49.7 -2.5h4v5.2h-4zM79.3 -2.5h4v5.2h-4zM104.3 -2.5h4v5.2h-4z" fill="none" stroke="#bbb" stroke-opacity="1" stroke-width="0.6"/></g>
<circle cx="762.3" cy="345.1" r="1.5" fill="#c77cff"/>
<g transform="translate(765.3 345.1)" font-size="8.4" fill="#111" stroke="#111" stroke-width="0.35" stroke-opacity=".45"><text x="0" y="3">.QIODPPDWRU\</text><text x="69.8" y="3">&amp;$)V</text><path d="M64.6 -2.5h4v5.2h-4zM89.6 -2.5h4v5.2h-4zM95.9 -2.5h4v5.2h-4z" fill="none" stroke="#bbb" stroke-opacity="1" stroke-width="0.6"/></g>
<circle cx="762.3" cy="353.4" r="1.5" fill="#ff61cc"/>
<g transform="translate(765.3 353.4)" font-size="8.4" fill="#111" stroke="#111" stroke-width="0.35" stroke-opacity=".45"><text x="0" y="3">$GYHQWLWLDO</text><text x="73.5" y="3">ILEUREODVWV</text><path d="M68.3 -2.5h4v5.2h-4zM136.7 -2.5h4v5.2h-4z" fill="none" stroke="#bbb" stroke-opacity="1" stroke-width="0.6"/></g>
<g transform="translate(634.5 329.1)" font-size="8.5" fill="#aaa" stroke="#aaa" stroke-width="0.35" stroke-opacity=".45"><path d="M-1.9 -2.3h3.8v4.9h-3.8z" fill="none" stroke="#b0b0b0" stroke-opacity="1" stroke-width="0.9"/></g>
<g transform="translate(640.7 360.1)" font-size="8.5" fill="#aaa" stroke="#aaa" stroke-width="0.35" stroke-opacity=".45"><path d="M-1.9 -2.3h3.8v4.9h-3.8z" fill="none" stroke="#b0b0b0" stroke-opacity="1" stroke-width="0.9"/></g>
<g transform="translate(688.4 349.8)" font-size="8.5" fill="#aaa" stroke="#aaa" stroke-width="0.35" stroke-opacity=".45"><path d="M-1.9 -2.3h3.8v4.9h-3.8z" fill="none" stroke="#b0b0b0" stroke-opacity="1" stroke-width="0.9"/></g>
<g transform="translate(691.5 391.2)" font-size="8.5" fill="#aaa" stroke="#aaa" stroke-width="0.35" stroke-opacity=".45"><path d="M-1.9 -2.3h3.8v4.9h-3.8z" fill="none" stroke="#b0b0b0" stroke-opacity="1" stroke-width="0.9"/></g>
<g transform="translate(735 400.5)" font-size="8.5" fill="#aaa" stroke="#aaa" stroke-width="0.35" stroke-opacity=".45"><path d="M-1.9 -2.3h3.8v4.9h-3.8z" fill="none" stroke="#b0b0b0" stroke-opacity="1" stroke-width="0.9"/></g>
<g transform="translate(2.6 464)" font-size="15.5" fill="#000" font-weight="bold"><text x="0" y="5.6">C</text></g>
<rect x="38" y="557.2" width="50.3" height="5.6" fill="#f8766d" />
<rect x="89" y="557.2" width="43.6" height="5.6" fill="#cd9600" />
<rect x="133.4" y="557.2" width="37.2" height="5.6" fill="#7cae00" />
<rect x="171.4" y="557.2" width="32.9" height="5.6" fill="#00be67" />
<rect x="205" y="557.2" width="26.8" height="5.6" fill="#00bfc4" />
<rect x="232.6" y="557.2" width="21.5" height="5.6" fill="#00a9ff" />
<rect x="254.9" y="557.2" width="8.3" height="5.6" fill="#c77cff" />
<rect x="264" y="557.2" width="4.2" height="5.6" fill="#ff61cc" />
<filter id="hm" x="0" y="0" width="1" height="1" color-interpolation-filters="sRGB" primitiveUnits="userSpaceOnUse"><feTurbulence type="fractalNoise" baseFrequency="0.6 1.3" numOctaves="2" seed="4" result="n"/><feColorMatrix in="n" values="1 0 0 0 0 1 0 0 0 0 1 0 0 0 0 0 0 0 0 1" result="g"/><feComposite in="SourceGraphic" in2="g" operator="arithmetic" k1="0" k2="4" k3="-4" k4="1" result="t"/><feColorMatrix in="t" values="0.667 0 0 0 0.267  0.863 0 0 0 0.055  -0.235 0 0 0 0.345  0 0 0 0 1"/><feGaussianBlur stdDeviation="1 0.3"/></filter>
<g filter="url(#hm)">
<rect x="38" y="568" width="230.2" height="294" fill="#000000" />
<path d="M38 568.5h50.3M171.4 569.5h32.9M264 569.5h4.2M171.4 570.5h32.9M254.9 570.5h8.3M264 570.5h4.2M139.5 571.5h19.5M139.5 573.5h19.5M254.9 577.5h8.3M171.4 583.5h32.9M264 583.5h4.2M171.4 589.5h32.9M254.9 589.5h8.3M264 589.5h4.2M171.4 590.5h32.9M264 590.5h4.2M171.4 591.5h32.9M264 591.5h4.2M254.9 592.5h8.3M232.6 593.5h21.5M171.4 594.5h32.9M264 594.5h4.2M171.4 596.5h32.9M264 596.5h4.2M139.5 597.5h19.5M171.4 598.5h32.9M264 598.5h4.2M139.5 600.5h19.5M254.9 601.5h8.3M139.5 602.5h19.5M89 604.5h43.6M205 604.5h26.8M232.6 604.5h21.5M38 605.5h50.3M254.9 609.5h8.3M139.5 611.5h19.5M254.9 619.5h8.3M139.5 620.5h19.5M89 626.5h43.6M205 626.5h26.8M38 627.5h50.3M159 630.5h11.6M205 638.5h26.8M264 640.5h4.2M38 641.5h50.3M171.4 641.5h32.9M205 641.5h26.8M89 645.5h43.6M264 646.5h4.2M38 647.5h50.3M171.4 647.5h32.9M205 647.5h26.8M254.9 651.5h8.3M264 651.5h4.2M205 657.5h26.8M232.6 662.5h21.5M38 665.5h50.3M171.4 665.5h32.9M89 668.5h43.6M254.9 668.5h8.3M264 668.5h4.2M159 669.5h11.6M139.5 671.5h19.5M159 671.5h11.6M89 674.5h43.6M264 674.5h4.2M89 678.5h43.6M264 678.5h4.2M205 682.5h26.8M171.4 692.5h32.9M38 695.5h50.3M171.4 696.5h32.9M254.9 699.5h8.3M254.9 700.5h8.3M38 701.5h50.3M171.4 703.5h32.9M254.9 705.5h8.3M89 706.5h43.6M264 706.5h4.2M38 707.5h50.3M254.9 707.5h8.3M171.4 709.5h32.9M89 714.5h43.6M264 714.5h4.2M89 715.5h43.6M264 715.5h4.2M89 716.5h43.6M264 716.5h4.2M38 721.5h50.3M89 722.5h43.6M171.4 722.5h32.9M264 722.5h4.2M38 724.5h50.3M205 725.5h26.8M38 728.5h50.3M159 730.5h11.6M205 732.5h26.8M38 740.5h50.3M89 740.5h43.6M171.4 740.5h32.9M254.9 741.5h8.3M205 742.5h26.8M139.5 743.5h19.5M159 743.5h11.6M205 744.5h26.8M139.5 746.5h19.5M159 746.5h11.6M38 756.5h50.3M89 756.5h43.6M139.5 756.5h19.5M159 756.5h11.6M171.4 756.5h32.9M205 756.5h26.8M254.9 757.5h8.3M232.6 764.5h21.5M232.6 767.5h21.5M264 772.5h4.2M232.6 776.5h21.5M264 778.5h4.2M264 779.5h4.2M232.6 780.5h21.5M264 781.5h4.2M232.6 787.5h21.5M264 789.5h4.2M254.9 796.5h8.3M264 798.5h4.2M38 800.5h50.3M171.4 800.5h32.9M264 804.5h4.2M264 805.5h4.2M38 814.5h50.3M89 814.5h43.6M171.4 814.5h32.9M264 817.5h4.2M264 818.5h4.2M89 825.5h43.6M205 825.5h26.8M89 827.5h43.6M205 827.5h26.8M139.5 829.5h19.5M159 829.5h11.6M171.4 831.5h32.9M38 833.5h50.3M171.4 835.5h32.9M264 836.5h4.2M89 837.5h43.6M264 837.5h4.2M264 846.5h4.2M89 848.5h43.6M171.4 848.5h32.9M205 848.5h26.8M38 849.5h50.3M89 851.5h43.6M171.4 851.5h32.9M38 854.5h50.3M38 859.5h50.3M89 860.5h43.6M171.4 860.5h32.9M205 860.5h26.8" stroke="#6c0000" stroke-width="1.02" fill="none"/>
<path d="M89 568.5h43.6M133.4 572.5h6.1M254.9 574.5h8.3M159 579.5h11.6M205 585.5h26.8M159 603.5h11.6M139.5 612.5h19.5M133.4 615.5h6.1M159 617.5h11.6M133.4 622.5h6.1M89 627.5h43.6M205 632.5h26.8M133.4 635.5h6.1M133.4 636.5h6.1M133.4 637.5h6.1M159 639.5h11.6M133.4 650.5h6.1M133.4 652.5h6.1M159 655.5h11.6M133.4 656.5h6.1M232.6 660.5h21.5M139.5 661.5h19.5M171.4 673.5h32.9M159 680.5h11.6M205 683.5h26.8M133.4 687.5h6.1M133.4 689.5h6.1M133.4 695.5h6.1M139.5 703.5h19.5M232.6 703.5h21.5M133.4 707.5h6.1M205 713.5h26.8M89 720.5h43.6M264 720.5h4.2M133.4 724.5h6.1M38 735.5h50.3M89 735.5h43.6M171.4 735.5h32.9M232.6 735.5h21.5M38 737.5h50.3M89 737.5h43.6M171.4 737.5h32.9M232.6 737.5h21.5M133.4 748.5h6.1M133.4 749.5h6.1M232.6 750.5h21.5M133.4 759.5h6.1M38 796.5h50.3M38 801.5h50.3M133.4 803.5h6.1M133.4 809.5h6.1M205 813.5h26.8M133.4 833.5h6.1M254.9 838.5h8.3" stroke="#260000" stroke-width="1.02" fill="none"/>
<path d="M133.4 568.5h6.1M159 568.5h11.6M89 574.5h43.6M133.4 574.5h6.1M139.5 574.5h19.5M159 574.5h11.6M205 574.5h26.8M232.6 574.5h21.5M89 575.5h43.6M133.4 575.5h6.1M139.5 575.5h19.5M159 575.5h11.6M205 575.5h26.8M232.6 575.5h21.5M254.9 575.5h8.3M89 578.5h43.6M133.4 578.5h6.1M159 578.5h11.6M133.4 585.5h6.1M133.4 599.5h6.1M159 599.5h11.6M133.4 605.5h6.1M159 605.5h11.6M133.4 610.5h6.1M159 610.5h11.6M89 612.5h43.6M133.4 612.5h6.1M159 612.5h11.6M205 612.5h26.8M232.6 612.5h21.5M133.4 613.5h6.1M159 613.5h11.6M133.4 614.5h6.1M159 614.5h11.6M133.4 616.5h6.1M89 618.5h43.6M133.4 618.5h6.1M159 618.5h11.6M205 618.5h26.8M232.6 618.5h21.5M89 621.5h43.6M133.4 621.5h6.1M139.5 621.5h19.5M159 621.5h11.6M205 621.5h26.8M232.6 621.5h21.5M89 625.5h43.6M133.4 625.5h6.1M159 625.5h11.6M205 625.5h26.8M232.6 625.5h21.5M133.4 627.5h6.1M159 627.5h11.6M232.6 627.5h21.5M38 628.5h50.3M133.4 628.5h6.1M232.6 628.5h21.5M38 629.5h50.3M133.4 629.5h6.1M232.6 629.5h21.5M38 632.5h50.3M133.4 632.5h6.1M139.5 632.5h19.5M159 632.5h11.6M171.4 632.5h32.9M232.6 632.5h21.5M38 634.5h50.3M133.4 634.5h6.1M232.6 634.5h21.5M232.6 639.5h21.5M232.6 642.5h21.5M38 645.5h50.3M133.4 645.5h6.1M139.5 645.5h19.5M159 645.5h11.6M171.4 645.5h32.9M205 645.5h26.8M232.6 645.5h21.5M133.4 649.5h6.1M139.5 649.5h19.5M159 649.5h11.6M232.6 649.5h21.5M133.4 653.5h6.1M139.5 653.5h19.5M159 653.5h11.6M133.4 654.5h6.1M133.4 655.5h6.1M133.4 660.5h6.1M139.5 660.5h19.5M159 660.5h11.6M133.4 661.5h6.1M159 661.5h11.6M133.4 664.5h6.1M133.4 670.5h6.1M38 672.5h50.3M89 672.5h43.6M133.4 672.5h6.1M139.5 672.5h19.5M159 672.5h11.6M171.4 672.5h32.9M205 672.5h26.8M232.6 672.5h21.5M254.9 672.5h8.3M264 672.5h4.2M133.4 673.5h6.1M139.5 673.5h19.5M159 673.5h11.6M205 673.5h26.8M232.6 673.5h21.5M133.4 676.5h6.1M139.5 676.5h19.5M159 676.5h11.6M232.6 676.5h21.5M133.4 680.5h6.1M133.4 681.5h6.1M133.4 683.5h6.1M139.5 683.5h19.5M159 683.5h11.6M232.6 683.5h21.5M133.4 685.5h6.1M232.6 686.5h21.5M171.4 688.5h32.9M89 689.5h43.6M38 690.5h50.3M133.4 692.5h6.1M133.4 696.5h6.1M133.4 703.5h6.1M133.4 709.5h6.1M133.4 712.5h6.1M139.5 712.5h19.5M159 712.5h11.6M232.6 712.5h21.5M133.4 713.5h6.1M139.5 713.5h19.5M159 713.5h11.6M232.6 713.5h21.5M133.4 720.5h6.1M139.5 720.5h19.5M159 720.5h11.6M171.4 720.5h32.9M205 720.5h26.8M232.6 720.5h21.5M133.4 726.5h6.1M133.4 727.5h6.1M133.4 731.5h6.1M133.4 734.5h6.1M133.4 735.5h6.1M139.5 735.5h19.5M159 735.5h11.6M133.4 736.5h6.1M133.4 737.5h6.1M139.5 737.5h19.5M159 737.5h11.6M38 738.5h50.3M89 738.5h43.6M133.4 738.5h6.1M139.5 738.5h19.5M159 738.5h11.6M171.4 738.5h32.9M232.6 738.5h21.5M38 739.5h50.3M89 739.5h43.6M133.4 739.5h6.1M139.5 739.5h19.5M159 739.5h11.6M171.4 739.5h32.9M38 752.5h50.3M89 752.5h43.6M133.4 752.5h6.1M139.5 752.5h19.5M159 752.5h11.6M171.4 752.5h32.9M205 752.5h26.8M232.6 752.5h21.5M38 754.5h50.3M89 754.5h43.6M133.4 754.5h6.1M139.5 754.5h19.5M159 754.5h11.6M171.4 754.5h32.9M205 754.5h26.8M232.6 754.5h21.5M254.9 754.5h8.3M264 754.5h4.2M38 758.5h50.3M89 758.5h43.6M133.4 758.5h6.1M139.5 758.5h19.5M159 758.5h11.6M171.4 758.5h32.9M205 758.5h26.8M232.6 758.5h21.5M254.9 758.5h8.3M38 761.5h50.3M89 761.5h43.6M133.4 761.5h6.1M139.5 761.5h19.5M159 761.5h11.6M171.4 761.5h32.9M205 761.5h26.8M254.9 761.5h8.3M38 764.5h50.3M89 764.5h43.6M133.4 764.5h6.1M139.5 764.5h19.5M159 764.5h11.6M171.4 764.5h32.9M205 764.5h26.8M38 767.5h50.3M89 767.5h43.6M133.4 767.5h6.1M139.5 767.5h19.5M159 767.5h11.6M171.4 767.5h32.9M205 767.5h26.8M133.4 776.5h6.1M133.4 780.5h6.1M38 786.5h50.3M89 786.5h43.6M133.4 786.5h6.1M139.5 786.5h19.5M159 786.5h11.6M171.4 786.5h32.9M205 786.5h26.8M254.9 786.5h8.3M133.4 787.5h6.1M133.4 790.5h6.1M133.4 793.5h6.1M89 796.5h43.6M205 796.5h26.8M232.6 796.5h21.5M38 799.5h50.3M89 799.5h43.6M133.4 799.5h6.1M139.5 799.5h19.5M159 799.5h11.6M171.4 799.5h32.9M205 799.5h26.8M232.6 799.5h21.5M38 808.5h50.3M89 808.5h43.6M133.4 808.5h6.1M139.5 808.5h19.5M159 808.5h11.6M171.4 808.5h32.9M205 808.5h26.8M232.6 808.5h21.5M38 810.5h50.3M89 810.5h43.6M133.4 810.5h6.1M139.5 810.5h19.5M159 810.5h11.6M171.4 810.5h32.9M205 810.5h26.8M232.6 810.5h21.5M133.4 813.5h6.1M139.5 813.5h19.5M159 813.5h11.6M232.6 813.5h21.5M133.4 823.5h6.1M139.5 823.5h19.5M159 823.5h11.6M232.6 823.5h21.5M133.4 832.5h6.1M139.5 832.5h19.5M159 832.5h11.6M232.6 832.5h21.5M38 838.5h50.3M89 838.5h43.6M133.4 838.5h6.1M139.5 838.5h19.5M159 838.5h11.6M171.4 838.5h32.9M205 838.5h26.8M232.6 838.5h21.5M38 839.5h50.3M89 839.5h43.6M133.4 839.5h6.1M139.5 839.5h19.5M159 839.5h11.6M171.4 839.5h32.9M205 839.5h26.8M232.6 839.5h21.5M254.9 839.5h8.3M133.4 845.5h6.1M133.4 850.5h6.1M133.4 853.5h6.1M139.5 853.5h19.5M159 853.5h11.6M232.6 853.5h21.5M254.9 853.5h8.3M133.4 858.5h6.1M139.5 858.5h19.5M159 858.5h11.6" stroke="#000000" stroke-width="1.02" fill="none"/>
<path d="M139.5 568.5h19.5M159 571.5h11.6M159 573.5h11.6M89 585.5h43.6M205 588.5h26.8M133.4 593.5h6.1M205 595.5h26.8M159 597.5h11.6M205 599.5h26.8M232.6 599.5h21.5M159 600.5h11.6M159 602.5h11.6M133.4 604.5h6.1M205 610.5h26.8M232.6 610.5h21.5M133.4 611.5h6.1M159 611.5h11.6M171.4 612.5h32.9M264 612.5h4.2M205 613.5h26.8M232.6 613.5h21.5M205 614.5h26.8M232.6 614.5h21.5M89 616.5h43.6M171.4 618.5h32.9M264 618.5h4.2M159 620.5h11.6M254.9 625.5h8.3M139.5 627.5h19.5M159 631.5h11.6M254.9 632.5h8.3M232.6 638.5h21.5M232.6 641.5h21.5M133.4 643.5h6.1M139.5 643.5h19.5M232.6 644.5h21.5M254.9 649.5h8.3M139.5 650.5h19.5M159 652.5h11.6M171.4 653.5h32.9M232.6 654.5h21.5M159 656.5h11.6M133.4 657.5h6.1M159 658.5h11.6M232.6 659.5h21.5M38 660.5h50.3M205 660.5h26.8M205 661.5h26.8M232.6 663.5h21.5M133.4 665.5h6.1M139.5 666.5h19.5M232.6 667.5h21.5M89 673.5h43.6M264 673.5h4.2M232.6 675.5h21.5M254.9 676.5h8.3M159 677.5h11.6M159 679.5h11.6M133.4 682.5h6.1M254.9 683.5h8.3M232.6 684.5h21.5M159 685.5h11.6M232.6 685.5h21.5M133.4 686.5h6.1M38 687.5h50.3M159 688.5h11.6M38 689.5h50.3M159 690.5h11.6M89 691.5h43.6M133.4 691.5h6.1M205 692.5h26.8M205 696.5h26.8M133.4 697.5h6.1M159 700.5h11.6M133.4 702.5h6.1M139.5 705.5h19.5M232.6 705.5h21.5M139.5 707.5h19.5M232.6 707.5h21.5M205 709.5h26.8M133.4 719.5h6.1M38 720.5h50.3M133.4 723.5h6.1M159 726.5h11.6M159 727.5h11.6M139.5 732.5h19.5M159 732.5h11.6M254.9 735.5h8.3M254.9 737.5h8.3M264 738.5h4.2M133.4 741.5h6.1M139.5 744.5h19.5M159 744.5h11.6M139.5 748.5h19.5M159 748.5h11.6M139.5 749.5h19.5M159 749.5h11.6M232.6 753.5h21.5M133.4 757.5h6.1M38 759.5h50.3M89 759.5h43.6M171.4 759.5h32.9M205 759.5h26.8M254.9 760.5h8.3M254.9 762.5h8.3M254.9 765.5h8.3M89 768.5h43.6M139.5 768.5h19.5M159 768.5h11.6M254.9 768.5h8.3M89 771.5h43.6M205 771.5h26.8M139.5 774.5h19.5M159 774.5h11.6M254.9 774.5h8.3M38 776.5h50.3M171.4 776.5h32.9M133.4 777.5h6.1M38 780.5h50.3M171.4 780.5h32.9M205 780.5h26.8M89 782.5h43.6M205 782.5h26.8M133.4 783.5h6.1M133.4 785.5h6.1M264 786.5h4.2M38 787.5h50.3M171.4 787.5h32.9M133.4 791.5h6.1M139.5 794.5h19.5M159 794.5h11.6M254.9 794.5h8.3M133.4 795.5h6.1M139.5 795.5h19.5M159 795.5h11.6M139.5 797.5h19.5M159 797.5h11.6M89 798.5h43.6M205 798.5h26.8M232.6 798.5h21.5M171.4 802.5h32.9M89 804.5h43.6M205 804.5h26.8M232.6 804.5h21.5M89 805.5h43.6M205 805.5h26.8M232.6 805.5h21.5M133.4 806.5h6.1M139.5 806.5h19.5M159 806.5h11.6M232.6 811.5h21.5M133.4 820.5h6.1M139.5 822.5h19.5M159 822.5h11.6M38 823.5h50.3M171.4 823.5h32.9M232.6 824.5h21.5M139.5 828.5h19.5M159 828.5h11.6M133.4 830.5h6.1M232.6 831.5h21.5M139.5 833.5h19.5M159 833.5h11.6M133.4 834.5h6.1M232.6 835.5h21.5M232.6 841.5h21.5M139.5 842.5h19.5M159 842.5h11.6M89 850.5h43.6M171.4 850.5h32.9M205 850.5h26.8M133.4 851.5h6.1M232.6 855.5h21.5M254.9 855.5h8.3M133.4 859.5h6.1M133.4 860.5h6.1M232.6 861.5h21.5M254.9 861.5h8.3" stroke="#3f0000" stroke-width="1.02" fill="none"/>
<path d="M171.4 568.5h32.9M254.9 568.5h8.3M264 568.5h4.2M89 572.5h43.6M205 572.5h26.8M232.6 572.5h21.5M159 576.5h11.6M171.4 578.5h32.9M264 578.5h4.2M232.6 579.5h21.5M89 581.5h43.6M232.6 581.5h21.5M89 582.5h43.6M232.6 582.5h21.5M139.5 585.5h19.5M133.4 586.5h6.1M89 587.5h43.6M232.6 587.5h21.5M139.5 599.5h19.5M254.9 605.5h8.3M133.4 607.5h6.1M159 607.5h11.6M133.4 608.5h6.1M139.5 610.5h19.5M139.5 613.5h19.5M139.5 614.5h19.5M89 615.5h43.6M139.5 616.5h19.5M205 617.5h26.8M232.6 617.5h21.5M89 622.5h43.6M89 624.5h43.6M205 624.5h26.8M254.9 627.5h8.3M205 628.5h26.8M205 629.5h26.8M38 630.5h50.3M232.6 630.5h21.5M38 633.5h50.3M133.4 633.5h6.1M232.6 633.5h21.5M205 634.5h26.8M139.5 635.5h19.5M171.4 635.5h32.9M139.5 636.5h19.5M171.4 636.5h32.9M139.5 637.5h19.5M171.4 637.5h32.9M38 639.5h50.3M159 640.5h11.6M38 642.5h50.3M171.4 642.5h32.9M205 642.5h26.8M205 644.5h26.8M133.4 646.5h6.1M139.5 646.5h19.5M159 646.5h11.6M159 651.5h11.6M232.6 652.5h21.5M264 653.5h4.2M38 654.5h50.3M171.4 654.5h32.9M205 654.5h26.8M38 655.5h50.3M171.4 655.5h32.9M232.6 658.5h21.5M38 659.5h50.3M205 659.5h26.8M89 660.5h43.6M254.9 660.5h8.3M264 660.5h4.2M254.9 661.5h8.3M38 663.5h50.3M205 663.5h26.8M171.4 664.5h32.9M205 667.5h26.8M159 668.5h11.6M133.4 669.5h6.1M171.4 670.5h32.9M133.4 671.5h6.1M139.5 674.5h19.5M205 675.5h26.8M232.6 677.5h21.5M159 678.5h11.6M232.6 679.5h21.5M38 680.5h50.3M171.4 680.5h32.9M171.4 681.5h32.9M38 684.5h50.3M205 684.5h26.8M38 685.5h50.3M139.5 693.5h19.5M232.6 693.5h21.5M139.5 694.5h19.5M159 694.5h11.6M232.6 694.5h21.5M159 695.5h11.6M205 695.5h26.8M139.5 698.5h19.5M159 698.5h11.6M232.6 698.5h21.5M159 701.5h11.6M205 705.5h26.8M205 707.5h26.8M139.5 711.5h19.5M232.6 711.5h21.5M139.5 714.5h19.5M232.6 714.5h21.5M139.5 715.5h19.5M232.6 715.5h21.5M139.5 716.5h19.5M232.6 716.5h21.5M133.4 718.5h6.1M159 721.5h11.6M159 724.5h11.6M159 725.5h11.6M159 728.5h11.6M133.4 729.5h6.1M89 731.5h43.6M171.4 731.5h32.9M264 731.5h4.2M254.9 736.5h8.3M205 739.5h26.8M133.4 743.5h6.1M133.4 746.5h6.1M232.6 747.5h21.5M254.9 750.5h8.3M232.6 751.5h21.5M38 753.5h50.3M89 753.5h43.6M171.4 753.5h32.9M205 753.5h26.8M133.4 756.5h6.1M89 770.5h43.6M139.5 770.5h19.5M159 770.5h11.6M205 770.5h26.8M254.9 770.5h8.3M89 773.5h43.6M139.5 773.5h19.5M159 773.5h11.6M254.9 773.5h8.3M38 774.5h50.3M171.4 774.5h32.9M38 775.5h50.3M89 775.5h43.6M171.4 775.5h32.9M205 775.5h26.8M139.5 779.5h19.5M159 779.5h11.6M254.9 779.5h8.3M133.4 792.5h6.1M89 795.5h43.6M205 795.5h26.8M232.6 795.5h21.5M38 797.5h50.3M89 797.5h43.6M205 797.5h26.8M232.6 797.5h21.5M133.4 800.5h6.1M264 810.5h4.2M205 811.5h26.8M232.6 812.5h21.5M264 813.5h4.2M38 815.5h50.3M89 815.5h43.6M171.4 815.5h32.9M38 816.5h50.3M171.4 816.5h32.9M139.5 817.5h19.5M159 817.5h11.6M139.5 818.5h19.5M159 818.5h11.6M89 822.5h43.6M205 822.5h26.8M89 828.5h43.6M205 828.5h26.8M133.4 829.5h6.1M89 832.5h43.6M139.5 836.5h19.5M159 836.5h11.6M139.5 837.5h19.5M159 837.5h11.6M232.6 837.5h21.5M38 840.5h50.3M89 840.5h43.6M133.4 840.5h6.1M171.4 840.5h32.9M205 840.5h26.8M139.5 844.5h19.5M159 844.5h11.6M139.5 846.5h19.5M159 846.5h11.6M89 847.5h43.6M171.4 847.5h32.9M38 850.5h50.3M133.4 852.5h6.1M264 853.5h4.2M89 855.5h43.6M171.4 855.5h32.9M205 855.5h26.8M89 857.5h43.6M171.4 857.5h32.9M89 861.5h43.6M171.4 861.5h32.9M205 861.5h26.8" stroke="#4c0000" stroke-width="1.02" fill="none"/>
<path d="M205 568.5h26.8M232.6 568.5h21.5M133.4 569.5h6.1M159 572.5h11.6M205 579.5h26.8M159 581.5h11.6M159 582.5h11.6M205 582.5h26.8M133.4 583.5h6.1M159 587.5h11.6M205 587.5h26.8M133.4 590.5h6.1M133.4 591.5h6.1M133.4 594.5h6.1M133.4 596.5h6.1M133.4 598.5h6.1M159 615.5h11.6M171.4 621.5h32.9M264 621.5h4.2M159 624.5h11.6M232.6 624.5h21.5M205 627.5h26.8M159 628.5h11.6M159 629.5h11.6M38 631.5h50.3M232.6 631.5h21.5M159 634.5h11.6M38 635.5h50.3M232.6 635.5h21.5M232.6 636.5h21.5M159 642.5h11.6M159 654.5h11.6M133.4 658.5h6.1M159 663.5h11.6M139.5 664.5h19.5M139.5 670.5h19.5M133.4 677.5h6.1M133.4 679.5h6.1M139.5 681.5h19.5M139.5 685.5h19.5M171.4 685.5h32.9M38 686.5h50.3M205 686.5h26.8M89 688.5h43.6M133.4 688.5h6.1M139.5 689.5h19.5M133.4 690.5h6.1M205 691.5h26.8M133.4 694.5h6.1M133.4 698.5h6.1M133.4 701.5h6.1M139.5 709.5h19.5M232.6 709.5h21.5M133.4 711.5h6.1M133.4 721.5h6.1M133.4 725.5h6.1M133.4 728.5h6.1M159 731.5h11.6M133.4 732.5h6.1M38 734.5h50.3M89 734.5h43.6M171.4 734.5h32.9M232.6 734.5h21.5M139.5 736.5h19.5M159 736.5h11.6M133.4 742.5h6.1M133.4 744.5h6.1M133.4 745.5h6.1M38 763.5h50.3M89 763.5h43.6M133.4 763.5h6.1M139.5 763.5h19.5M159 763.5h11.6M171.4 763.5h32.9M205 763.5h26.8M254.9 764.5h8.3M38 766.5h50.3M89 766.5h43.6M133.4 766.5h6.1M139.5 766.5h19.5M159 766.5h11.6M171.4 766.5h32.9M205 766.5h26.8M133.4 770.5h6.1M133.4 773.5h6.1M133.4 775.5h6.1M139.5 790.5h19.5M159 790.5h11.6M254.9 790.5h8.3M89 793.5h43.6M205 793.5h26.8M171.4 796.5h32.9M171.4 801.5h32.9M133.4 802.5h6.1M89 803.5h43.6M139.5 803.5h19.5M159 803.5h11.6M205 803.5h26.8M232.6 803.5h21.5M89 809.5h43.6M139.5 809.5h19.5M159 809.5h11.6M205 809.5h26.8M232.6 809.5h21.5M133.4 811.5h6.1M89 813.5h43.6M232.6 816.5h21.5M133.4 822.5h6.1M133.4 828.5h6.1M133.4 831.5h6.1M133.4 835.5h6.1M38 841.5h50.3M89 841.5h43.6M133.4 841.5h6.1M171.4 841.5h32.9M205 841.5h26.8M38 842.5h50.3M89 842.5h43.6M133.4 842.5h6.1M171.4 842.5h32.9M205 842.5h26.8M232.6 843.5h21.5M139.5 845.5h19.5M159 845.5h11.6M232.6 850.5h21.5M254.9 850.5h8.3" stroke="#2c0000" stroke-width="1.02" fill="none"/>
<path d="M38 569.5h50.3M89 580.5h43.6M38 583.5h50.3M89 651.5h43.6M171.4 708.5h32.9M205 730.5h26.8M139.5 784.5h19.5M159 784.5h11.6M254.9 784.5h8.3M232.6 788.5h21.5M254.9 826.5h8.3M264 840.5h4.2M38 852.5h50.3" stroke="#990000" stroke-width="1.02" fill="none"/>
<path d="M89 569.5h43.6M205 569.5h26.8M232.6 569.5h21.5M89 570.5h43.6M38 575.5h50.3M139.5 579.5h19.5M133.4 580.5h6.1M89 583.5h43.6M232.6 583.5h21.5M159 586.5h11.6M205 586.5h26.8M139.5 587.5h19.5M89 589.5h43.6M89 590.5h43.6M232.6 590.5h21.5M89 591.5h43.6M232.6 591.5h21.5M89 594.5h43.6M232.6 594.5h21.5M89 596.5h43.6M205 596.5h26.8M232.6 596.5h21.5M89 598.5h43.6M205 598.5h26.8M232.6 598.5h21.5M254.9 599.5h8.3M139.5 603.5h19.5M171.4 605.5h32.9M264 605.5h4.2M159 608.5h11.6M254.9 610.5h8.3M254.9 613.5h8.3M254.9 614.5h8.3M205 615.5h26.8M232.6 615.5h21.5M139.5 617.5h19.5M38 621.5h50.3M205 622.5h26.8M133.4 623.5h6.1M139.5 624.5h19.5M171.4 627.5h32.9M264 627.5h4.2M254.9 628.5h8.3M254.9 629.5h8.3M254.9 634.5h8.3M254.9 639.5h8.3M133.4 640.5h6.1M139.5 640.5h19.5M254.9 642.5h8.3M38 643.5h50.3M171.4 643.5h32.9M205 643.5h26.8M38 644.5h50.3M171.4 644.5h32.9M232.6 646.5h21.5M38 650.5h50.3M205 650.5h26.8M139.5 651.5h19.5M205 652.5h26.8M254.9 654.5h8.3M254.9 655.5h8.3M38 656.5h50.3M205 656.5h26.8M205 658.5h26.8M171.4 659.5h32.9M89 661.5h43.6M264 661.5h4.2M171.4 663.5h32.9M254.9 663.5h8.3M89 664.5h43.6M254.9 664.5h8.3M264 664.5h4.2M38 666.5h50.3M171.4 666.5h32.9M205 666.5h26.8M38 667.5h50.3M171.4 667.5h32.9M139.5 668.5h19.5M89 670.5h43.6M254.9 670.5h8.3M264 670.5h4.2M232.6 674.5h21.5M38 675.5h50.3M171.4 675.5h32.9M205 677.5h26.8M139.5 678.5h19.5M205 679.5h26.8M254.9 680.5h8.3M89 681.5h43.6M254.9 681.5h8.3M264 681.5h4.2M171.4 684.5h32.9M254.9 692.5h8.3M159 693.5h11.6M205 693.5h26.8M205 694.5h26.8M254.9 696.5h8.3M205 698.5h26.8M205 701.5h26.8M89 703.5h43.6M264 703.5h4.2M139.5 706.5h19.5M232.6 706.5h21.5M139.5 708.5h19.5M232.6 708.5h21.5M89 709.5h43.6M264 709.5h4.2M159 711.5h11.6M205 711.5h26.8M38 712.5h50.3M254.9 712.5h8.3M38 713.5h50.3M159 714.5h11.6M159 715.5h11.6M159 716.5h11.6M139.5 717.5h19.5M232.6 717.5h21.5M205 721.5h26.8M139.5 722.5h19.5M232.6 722.5h21.5M205 724.5h26.8M171.4 726.5h32.9M171.4 727.5h32.9M205 731.5h26.8M264 734.5h4.2M264 735.5h4.2M264 737.5h4.2M139.5 747.5h19.5M159 747.5h11.6M254.9 748.5h8.3M254.9 749.5h8.3M38 751.5h50.3M89 751.5h43.6M139.5 751.5h19.5M159 751.5h11.6M171.4 751.5h32.9M205 751.5h26.8M232.6 757.5h21.5M254.9 759.5h8.3M264 764.5h4.2M139.5 769.5h19.5M159 769.5h11.6M254.9 769.5h8.3M38 770.5h50.3M171.4 770.5h32.9M89 772.5h43.6M139.5 772.5h19.5M159 772.5h11.6M205 772.5h26.8M254.9 772.5h8.3M38 773.5h50.3M171.4 773.5h32.9M205 773.5h26.8M89 778.5h43.6M139.5 778.5h19.5M159 778.5h11.6M254.9 778.5h8.3M38 779.5h50.3M89 779.5h43.6M171.4 779.5h32.9M205 779.5h26.8M89 781.5h43.6M139.5 781.5h19.5M159 781.5h11.6M205 781.5h26.8M254.9 781.5h8.3M89 789.5h43.6M139.5 789.5h19.5M159 789.5h11.6M254.9 789.5h8.3M264 790.5h4.2M264 793.5h4.2M38 795.5h50.3M171.4 795.5h32.9M171.4 797.5h32.9M264 799.5h4.2M139.5 800.5h19.5M159 800.5h11.6M38 806.5h50.3M89 806.5h43.6M205 806.5h26.8M232.6 806.5h21.5M89 807.5h43.6M205 807.5h26.8M232.6 807.5h21.5M89 811.5h43.6M139.5 812.5h19.5M159 812.5h11.6M205 817.5h26.8M205 818.5h26.8M133.4 819.5h6.1M232.6 820.5h21.5M133.4 821.5h6.1M38 822.5h50.3M171.4 822.5h32.9M264 823.5h4.2M89 824.5h43.6M205 824.5h26.8M139.5 826.5h19.5M159 826.5h11.6M232.6 826.5h21.5M38 828.5h50.3M171.4 828.5h32.9M232.6 830.5h21.5M171.4 832.5h32.9M264 832.5h4.2M254.9 843.5h8.3M232.6 844.5h21.5M254.9 844.5h8.3M38 845.5h50.3M232.6 846.5h21.5M254.9 846.5h8.3M38 847.5h50.3M139.5 849.5h19.5M159 849.5h11.6M264 850.5h4.2M139.5 854.5h19.5M159 854.5h11.6M38 855.5h50.3M38 856.5h50.3M38 857.5h50.3M264 858.5h4.2M38 861.5h50.3" stroke="#520000" stroke-width="1.02" fill="none"/>
<path d="M139.5 569.5h19.5M139.5 570.5h19.5M89 571.5h43.6M254.9 572.5h8.3M89 573.5h43.6M205 573.5h26.8M232.6 573.5h21.5M254.9 579.5h8.3M254.9 581.5h8.3M254.9 582.5h8.3M139.5 583.5h19.5M171.4 585.5h32.9M264 585.5h4.2M254.9 587.5h8.3M232.6 588.5h21.5M139.5 589.5h19.5M139.5 590.5h19.5M139.5 592.5h19.5M232.6 595.5h21.5M139.5 596.5h19.5M89 597.5h43.6M205 597.5h26.8M232.6 597.5h21.5M89 600.5h43.6M89 602.5h43.6M171.4 603.5h32.9M264 603.5h4.2M205 606.5h26.8M232.6 606.5h21.5M38 612.5h50.3M171.4 616.5h32.9M264 616.5h4.2M171.4 617.5h32.9M254.9 617.5h8.3M264 617.5h4.2M38 618.5h50.3M139.5 619.5h19.5M89 620.5h43.6M205 620.5h26.8M232.6 620.5h21.5M254.9 624.5h8.3M254.9 631.5h8.3M254.9 636.5h8.3M38 637.5h50.3M133.4 638.5h6.1M139.5 638.5h19.5M171.4 638.5h32.9M38 640.5h50.3M205 640.5h26.8M133.4 641.5h6.1M139.5 641.5h19.5M264 643.5h4.2M38 646.5h50.3M171.4 646.5h32.9M133.4 647.5h6.1M139.5 647.5h19.5M232.6 647.5h21.5M159 648.5h11.6M264 650.5h4.2M205 651.5h26.8M254.9 652.5h8.3M264 652.5h4.2M89 656.5h43.6M254.9 656.5h8.3M264 656.5h4.2M139.5 657.5h19.5M254.9 658.5h8.3M159 662.5h11.6M232.6 665.5h21.5M89 666.5h43.6M264 666.5h4.2M205 668.5h26.8M38 674.5h50.3M171.4 674.5h32.9M254.9 677.5h8.3M38 678.5h50.3M205 678.5h26.8M254.9 679.5h8.3M139.5 682.5h19.5M254.9 687.5h8.3M264 687.5h4.2M254.9 688.5h8.3M264 689.5h4.2M254.9 690.5h8.3M38 692.5h50.3M254.9 694.5h8.3M89 695.5h43.6M254.9 695.5h8.3M264 695.5h4.2M38 696.5h50.3M139.5 697.5h19.5M232.6 697.5h21.5M254.9 698.5h8.3M205 699.5h26.8M159 702.5h11.6M205 702.5h26.8M254.9 703.5h8.3M205 704.5h26.8M89 705.5h43.6M264 705.5h4.2M89 707.5h43.6M264 707.5h4.2M205 708.5h26.8M38 709.5h50.3M205 710.5h26.8M171.4 712.5h32.9M171.4 713.5h32.9M205 717.5h26.8M159 719.5h11.6M171.4 721.5h32.9M139.5 723.5h19.5M159 723.5h11.6M232.6 723.5h21.5M171.4 724.5h32.9M171.4 725.5h32.9M205 726.5h26.8M38 727.5h50.3M205 727.5h26.8M171.4 728.5h32.9M254.9 731.5h8.3M139.5 733.5h19.5M159 733.5h11.6M205 736.5h26.8M38 741.5h50.3M89 741.5h43.6M171.4 741.5h32.9M264 748.5h4.2M264 749.5h4.2M139.5 755.5h19.5M159 755.5h11.6M264 759.5h4.2M264 760.5h4.2M264 762.5h4.2M264 765.5h4.2M264 768.5h4.2M38 769.5h50.3M171.4 769.5h32.9M264 774.5h4.2M38 777.5h50.3M171.4 777.5h32.9M205 777.5h26.8M89 783.5h43.6M139.5 783.5h19.5M159 783.5h11.6M254.9 783.5h8.3M89 785.5h43.6M139.5 785.5h19.5M159 785.5h11.6M254.9 785.5h8.3M38 788.5h50.3M171.4 788.5h32.9M139.5 791.5h19.5M159 791.5h11.6M254.9 791.5h8.3M264 794.5h4.2M264 803.5h4.2M264 809.5h4.2M38 812.5h50.3M89 812.5h43.6M171.4 812.5h32.9M254.9 813.5h8.3M139.5 814.5h19.5M159 814.5h11.6M264 815.5h4.2M264 816.5h4.2M205 820.5h26.8M232.6 825.5h21.5M89 826.5h43.6M205 826.5h26.8M139.5 827.5h19.5M159 827.5h11.6M232.6 827.5h21.5M89 831.5h43.6M205 831.5h26.8M254.9 831.5h8.3M89 833.5h43.6M264 833.5h4.2M89 835.5h43.6M205 835.5h26.8M254.9 835.5h8.3M205 836.5h26.8M254.9 836.5h8.3M254.9 841.5h8.3M264 843.5h4.2M89 844.5h43.6M171.4 844.5h32.9M205 844.5h26.8M38 846.5h50.3M139.5 848.5h19.5M159 848.5h11.6M205 849.5h26.8M232.6 851.5h21.5M254.9 851.5h8.3M89 854.5h43.6M171.4 854.5h32.9M205 854.5h26.8M264 855.5h4.2M232.6 860.5h21.5M254.9 860.5h8.3M264 861.5h4.2" stroke="#5f0000" stroke-width="1.02" fill="none"/>
<path d="M159 569.5h11.6M133.4 570.5h6.1M171.4 574.5h32.9M264 574.5h4.2M133.4 577.5h6.1M205 581.5h26.8M159 583.5h11.6M133.4 589.5h6.1M159 590.5h11.6M159 591.5h11.6M205 591.5h26.8M133.4 592.5h6.1M159 594.5h11.6M205 594.5h26.8M159 596.5h11.6M159 598.5h11.6M133.4 601.5h6.1M89 605.5h43.6M205 605.5h26.8M232.6 605.5h21.5M133.4 609.5h6.1M133.4 619.5h6.1M159 622.5h11.6M232.6 622.5h21.5M139.5 625.5h19.5M232.6 637.5h21.5M133.4 639.5h6.1M139.5 639.5h19.5M171.4 639.5h32.9M232.6 640.5h21.5M133.4 642.5h6.1M139.5 642.5h19.5M159 644.5h11.6M264 645.5h4.2M205 649.5h26.8M139.5 654.5h19.5M139.5 655.5h19.5M159 659.5h11.6M232.6 661.5h21.5M159 667.5h11.6M254.9 673.5h8.3M133.4 674.5h6.1M159 675.5h11.6M205 676.5h26.8M133.4 678.5h6.1M139.5 680.5h19.5M38 683.5h50.3M171.4 683.5h32.9M159 684.5h11.6M89 686.5h43.6M171.4 687.5h32.9M38 688.5h50.3M205 688.5h26.8M232.6 688.5h21.5M171.4 689.5h32.9M232.6 689.5h21.5M171.4 690.5h32.9M232.6 690.5h21.5M139.5 692.5h19.5M232.6 692.5h21.5M133.4 693.5h6.1M139.5 696.5h19.5M232.6 696.5h21.5M159 703.5h11.6M133.4 706.5h6.1M133.4 714.5h6.1M133.4 715.5h6.1M133.4 716.5h6.1M139.5 727.5h19.5M232.6 727.5h21.5M254.9 739.5h8.3M232.6 748.5h21.5M139.5 750.5h19.5M159 750.5h11.6M254.9 752.5h8.3M133.4 753.5h6.1M264 758.5h4.2M254.9 767.5h8.3M133.4 772.5h6.1M139.5 776.5h19.5M159 776.5h11.6M254.9 776.5h8.3M133.4 779.5h6.1M133.4 781.5h6.1M139.5 787.5h19.5M159 787.5h11.6M254.9 787.5h8.3M89 790.5h43.6M205 790.5h26.8M38 793.5h50.3M171.4 793.5h32.9M133.4 798.5h6.1M89 802.5h43.6M139.5 802.5h19.5M159 802.5h11.6M205 802.5h26.8M232.6 802.5h21.5M38 803.5h50.3M133.4 804.5h6.1M133.4 805.5h6.1M139.5 805.5h19.5M159 805.5h11.6M232.6 815.5h21.5M139.5 816.5h19.5M159 816.5h11.6M133.4 817.5h6.1M133.4 818.5h6.1M205 823.5h26.8M133.4 824.5h6.1M133.4 836.5h6.1M264 839.5h4.2M133.4 846.5h6.1M139.5 847.5h19.5M159 847.5h11.6M205 853.5h26.8M139.5 856.5h19.5M159 856.5h11.6M139.5 857.5h19.5M159 857.5h11.6" stroke="#330000" stroke-width="1.02" fill="none"/>
<path d="M254.9 569.5h8.3M205 571.5h26.8M232.6 571.5h21.5M171.4 572.5h32.9M264 572.5h4.2M139.5 577.5h19.5M38 578.5h50.3M171.4 579.5h32.9M264 579.5h4.2M171.4 581.5h32.9M264 581.5h4.2M171.4 582.5h32.9M264 582.5h4.2M254.9 583.5h8.3M171.4 587.5h32.9M264 587.5h4.2M139.5 588.5h19.5M254.9 590.5h8.3M254.9 591.5h8.3M89 593.5h43.6M254.9 594.5h8.3M139.5 595.5h19.5M254.9 596.5h8.3M254.9 598.5h8.3M205 600.5h26.8M232.6 600.5h21.5M139.5 601.5h19.5M205 602.5h26.8M232.6 602.5h21.5M139.5 606.5h19.5M139.5 609.5h19.5M89 611.5h43.6M205 611.5h26.8M232.6 611.5h21.5M171.4 615.5h32.9M254.9 615.5h8.3M264 615.5h4.2M171.4 622.5h32.9M254.9 622.5h8.3M264 622.5h4.2M171.4 624.5h32.9M264 624.5h4.2M38 625.5h50.3M264 631.5h4.2M254.9 635.5h8.3M264 635.5h4.2M264 636.5h4.2M254.9 637.5h8.3M264 637.5h4.2M171.4 640.5h32.9M254.9 640.5h8.3M254.9 646.5h8.3M139.5 648.5h19.5M232.6 648.5h21.5M38 651.5h50.3M171.4 651.5h32.9M232.6 657.5h21.5M89 658.5h43.6M264 658.5h4.2M139.5 662.5h19.5M205 665.5h26.8M38 668.5h50.3M171.4 668.5h32.9M254.9 674.5h8.3M89 677.5h43.6M264 677.5h4.2M171.4 678.5h32.9M254.9 678.5h8.3M89 679.5h43.6M264 679.5h4.2M232.6 682.5h21.5M264 688.5h4.2M264 690.5h4.2M89 693.5h43.6M254.9 693.5h8.3M264 693.5h4.2M89 694.5h43.6M264 694.5h4.2M159 697.5h11.6M205 697.5h26.8M89 698.5h43.6M264 698.5h4.2M38 700.5h50.3M89 701.5h43.6M264 701.5h4.2M38 705.5h50.3M254.9 709.5h8.3M89 711.5h43.6M264 711.5h4.2M205 719.5h26.8M89 721.5h43.6M264 721.5h4.2M205 723.5h26.8M89 724.5h43.6M264 724.5h4.2M89 725.5h43.6M264 725.5h4.2M38 726.5h50.3M254.9 726.5h8.3M254.9 727.5h8.3M89 728.5h43.6M205 728.5h26.8M264 728.5h4.2M139.5 730.5h19.5M232.6 730.5h21.5M264 732.5h4.2M38 733.5h50.3M89 733.5h43.6M171.4 733.5h32.9M232.6 733.5h21.5M139.5 740.5h19.5M159 740.5h11.6M232.6 742.5h21.5M264 742.5h4.2M232.6 744.5h21.5M264 744.5h4.2M232.6 745.5h21.5M264 745.5h4.2M254.9 747.5h8.3M254.9 751.5h8.3M264 753.5h4.2M38 755.5h50.3M89 755.5h43.6M171.4 755.5h32.9M205 755.5h26.8M232.6 756.5h21.5M264 763.5h4.2M264 766.5h4.2M264 770.5h4.2M264 773.5h4.2M264 775.5h4.2M38 783.5h50.3M171.4 783.5h32.9M205 783.5h26.8M38 785.5h50.3M171.4 785.5h32.9M205 785.5h26.8M232.6 790.5h21.5M38 791.5h50.3M89 791.5h43.6M171.4 791.5h32.9M205 791.5h26.8M232.6 793.5h21.5M254.9 799.5h8.3M89 800.5h43.6M205 800.5h26.8M232.6 800.5h21.5M264 802.5h4.2M254.9 810.5h8.3M264 811.5h4.2M205 814.5h26.8M38 820.5h50.3M89 820.5h43.6M171.4 820.5h32.9M264 822.5h4.2M254.9 823.5h8.3M264 824.5h4.2M139.5 825.5h19.5M159 825.5h11.6M38 826.5h50.3M171.4 826.5h32.9M264 828.5h4.2M232.6 829.5h21.5M264 831.5h4.2M171.4 833.5h32.9M264 835.5h4.2M89 836.5h43.6M205 837.5h26.8M254.9 837.5h8.3M139.5 840.5h19.5M159 840.5h11.6M232.6 840.5h21.5M264 841.5h4.2M264 842.5h4.2M38 844.5h50.3M232.6 848.5h21.5M254.9 848.5h8.3M89 849.5h43.6M171.4 849.5h32.9M205 851.5h26.8M89 859.5h43.6M171.4 859.5h32.9M205 859.5h26.8" stroke="#660000" stroke-width="1.02" fill="none"/>
<path d="M38 570.5h50.3M139.5 586.5h19.5M38 589.5h50.3M89 671.5h43.6M264 671.5h4.2M171.4 699.5h32.9M171.4 710.5h32.9M171.4 717.5h32.9M171.4 729.5h32.9M205 740.5h26.8M264 756.5h4.2M232.6 777.5h21.5M254.9 795.5h8.3" stroke="#9f0000" stroke-width="1.02" fill="none"/>
<path d="M159 570.5h11.6M133.4 571.5h6.1M133.4 573.5h6.1M159 577.5h11.6M139.5 578.5h19.5M205 583.5h26.8M133.4 588.5h6.1M159 588.5h11.6M159 589.5h11.6M205 589.5h26.8M205 590.5h26.8M159 592.5h11.6M205 592.5h26.8M133.4 595.5h6.1M159 595.5h11.6M133.4 597.5h6.1M89 599.5h43.6M133.4 600.5h6.1M159 601.5h11.6M133.4 602.5h6.1M133.4 606.5h6.1M159 606.5h11.6M159 609.5h11.6M89 610.5h43.6M254.9 612.5h8.3M89 613.5h43.6M89 614.5h43.6M254.9 618.5h8.3M159 619.5h11.6M133.4 620.5h6.1M139.5 628.5h19.5M171.4 628.5h32.9M139.5 629.5h19.5M171.4 629.5h32.9M139.5 634.5h19.5M171.4 634.5h32.9M159 643.5h11.6M133.4 644.5h6.1M139.5 644.5h19.5M38 649.5h50.3M171.4 649.5h32.9M159 650.5h11.6M133.4 651.5h6.1M38 653.5h50.3M205 653.5h26.8M232.6 655.5h21.5M139.5 659.5h19.5M139.5 663.5h19.5M232.6 664.5h21.5M159 666.5h11.6M139.5 667.5h19.5M133.4 668.5h6.1M232.6 670.5h21.5M139.5 675.5h19.5M38 676.5h50.3M171.4 676.5h32.9M232.6 680.5h21.5M232.6 681.5h21.5M139.5 684.5h19.5M254.9 685.5h8.3M171.4 686.5h32.9M139.5 687.5h19.5M159 687.5h11.6M232.6 687.5h21.5M159 689.5h11.6M205 689.5h26.8M139.5 690.5h19.5M38 691.5h50.3M139.5 691.5h19.5M171.4 691.5h32.9M159 692.5h11.6M159 696.5h11.6M133.4 699.5h6.1M139.5 700.5h19.5M232.6 700.5h21.5M205 703.5h26.8M133.4 704.5h6.1M133.4 708.5h6.1M159 709.5h11.6M133.4 710.5h6.1M133.4 717.5h6.1M133.4 722.5h6.1M139.5 726.5h19.5M232.6 726.5h21.5M38 736.5h50.3M89 736.5h43.6M171.4 736.5h32.9M232.6 736.5h21.5M133.4 747.5h6.1M232.6 749.5h21.5M38 750.5h50.3M89 750.5h43.6M171.4 750.5h32.9M205 750.5h26.8M133.4 751.5h6.1M139.5 759.5h19.5M159 759.5h11.6M133.4 769.5h6.1M139.5 771.5h19.5M159 771.5h11.6M254.9 771.5h8.3M89 776.5h43.6M205 776.5h26.8M133.4 778.5h6.1M89 780.5h43.6M139.5 780.5h19.5M159 780.5h11.6M254.9 780.5h8.3M139.5 782.5h19.5M159 782.5h11.6M254.9 782.5h8.3M89 787.5h43.6M205 787.5h26.8M133.4 788.5h6.1M133.4 789.5h6.1M38 790.5h50.3M171.4 790.5h32.9M133.4 797.5h6.1M139.5 798.5h19.5M159 798.5h11.6M38 802.5h50.3M171.4 803.5h32.9M139.5 804.5h19.5M159 804.5h11.6M38 809.5h50.3M171.4 809.5h32.9M133.4 812.5h6.1M38 813.5h50.3M171.4 813.5h32.9M139.5 815.5h19.5M159 815.5h11.6M232.6 822.5h21.5M89 823.5h43.6M133.4 826.5h6.1M232.6 828.5h21.5M232.6 833.5h21.5M133.4 837.5h6.1M264 838.5h4.2M232.6 842.5h21.5M139.5 843.5h19.5M159 843.5h11.6M133.4 844.5h6.1M232.6 845.5h21.5M254.9 845.5h8.3M232.6 847.5h21.5M254.9 847.5h8.3M133.4 849.5h6.1M89 853.5h43.6M171.4 853.5h32.9M133.4 854.5h6.1M139.5 855.5h19.5M159 855.5h11.6M232.6 856.5h21.5M254.9 856.5h8.3M232.6 857.5h21.5M254.9 857.5h8.3M89 858.5h43.6M171.4 858.5h32.9M205 858.5h26.8M139.5 861.5h19.5M159 861.5h11.6" stroke="#390000" stroke-width="1.02" fill="none"/>
<path d="M205 570.5h26.8M232.6 570.5h21.5M139.5 572.5h19.5M38 574.5h50.3M89 577.5h43.6M205 577.5h26.8M232.6 577.5h21.5M159 580.5h11.6M205 580.5h26.8M139.5 581.5h19.5M139.5 582.5h19.5M133.4 584.5h6.1M159 584.5h11.6M205 584.5h26.8M254.9 585.5h8.3M89 588.5h43.6M232.6 589.5h21.5M139.5 591.5h19.5M89 592.5h43.6M232.6 592.5h21.5M139.5 594.5h19.5M89 595.5h43.6M139.5 598.5h19.5M171.4 599.5h32.9M264 599.5h4.2M89 601.5h43.6M205 601.5h26.8M232.6 601.5h21.5M254.9 603.5h8.3M89 606.5h43.6M89 609.5h43.6M205 609.5h26.8M232.6 609.5h21.5M171.4 610.5h32.9M264 610.5h4.2M171.4 613.5h32.9M264 613.5h4.2M171.4 614.5h32.9M264 614.5h4.2M139.5 615.5h19.5M254.9 616.5h8.3M89 619.5h43.6M205 619.5h26.8M232.6 619.5h21.5M139.5 622.5h19.5M159 623.5h11.6M232.6 623.5h21.5M264 628.5h4.2M264 629.5h4.2M205 631.5h26.8M264 634.5h4.2M205 635.5h26.8M38 636.5h50.3M205 636.5h26.8M205 637.5h26.8M159 638.5h11.6M264 639.5h4.2M159 641.5h11.6M264 642.5h4.2M254.9 643.5h8.3M254.9 644.5h8.3M264 644.5h4.2M205 646.5h26.8M159 647.5h11.6M171.4 650.5h32.9M254.9 650.5h8.3M232.6 651.5h21.5M38 652.5h50.3M171.4 652.5h32.9M264 654.5h4.2M89 655.5h43.6M264 655.5h4.2M171.4 656.5h32.9M159 657.5h11.6M38 658.5h50.3M171.4 658.5h32.9M89 659.5h43.6M254.9 659.5h8.3M264 659.5h4.2M89 663.5h43.6M264 663.5h4.2M139.5 665.5h19.5M159 665.5h11.6M254.9 666.5h8.3M89 667.5h43.6M254.9 667.5h8.3M264 667.5h4.2M232.6 668.5h21.5M205 674.5h26.8M89 675.5h43.6M254.9 675.5h8.3M264 675.5h4.2M38 677.5h50.3M171.4 677.5h32.9M232.6 678.5h21.5M38 679.5h50.3M171.4 679.5h32.9M89 680.5h43.6M264 680.5h4.2M159 682.5h11.6M89 684.5h43.6M254.9 684.5h8.3M264 684.5h4.2M254.9 689.5h8.3M89 692.5h43.6M264 692.5h4.2M89 696.5h43.6M264 696.5h4.2M139.5 699.5h19.5M159 699.5h11.6M232.6 699.5h21.5M89 700.5h43.6M264 700.5h4.2M139.5 702.5h19.5M232.6 702.5h21.5M38 703.5h50.3M139.5 704.5h19.5M159 704.5h11.6M232.6 704.5h21.5M159 706.5h11.6M205 706.5h26.8M159 708.5h11.6M139.5 710.5h19.5M159 710.5h11.6M232.6 710.5h21.5M254.9 713.5h8.3M205 714.5h26.8M205 715.5h26.8M205 716.5h26.8M159 717.5h11.6M139.5 719.5h19.5M232.6 719.5h21.5M159 722.5h11.6M205 722.5h26.8M89 726.5h43.6M264 726.5h4.2M89 727.5h43.6M264 727.5h4.2M38 731.5h50.3M254.9 732.5h8.3M205 734.5h26.8M205 735.5h26.8M264 736.5h4.2M205 737.5h26.8M139.5 741.5h19.5M159 741.5h11.6M254.9 742.5h8.3M254.9 744.5h8.3M254.9 745.5h8.3M38 747.5h50.3M89 747.5h43.6M171.4 747.5h32.9M205 747.5h26.8M264 750.5h4.2M254.9 753.5h8.3M232.6 755.5h21.5M38 757.5h50.3M89 757.5h43.6M139.5 757.5h19.5M159 757.5h11.6M171.4 757.5h32.9M205 757.5h26.8M232.6 761.5h21.5M264 767.5h4.2M89 769.5h43.6M205 769.5h26.8M264 771.5h4.2M38 772.5h50.3M171.4 772.5h32.9M264 776.5h4.2M89 777.5h43.6M139.5 777.5h19.5M159 777.5h11.6M254.9 777.5h8.3M38 778.5h50.3M171.4 778.5h32.9M205 778.5h26.8M264 780.5h4.2M38 781.5h50.3M171.4 781.5h32.9M264 782.5h4.2M133.4 784.5h6.1M232.6 786.5h21.5M264 787.5h4.2M89 788.5h43.6M139.5 788.5h19.5M159 788.5h11.6M205 788.5h26.8M254.9 788.5h8.3M38 789.5h50.3M171.4 789.5h32.9M205 789.5h26.8M264 796.5h4.2M264 801.5h4.2M171.4 806.5h32.9M38 807.5h50.3M171.4 807.5h32.9M254.9 808.5h8.3M38 811.5h50.3M171.4 811.5h32.9M205 812.5h26.8M232.6 814.5h21.5M38 817.5h50.3M89 817.5h43.6M171.4 817.5h32.9M38 818.5h50.3M89 818.5h43.6M171.4 818.5h32.9M139.5 820.5h19.5M159 820.5h11.6M38 824.5h50.3M171.4 824.5h32.9M139.5 830.5h19.5M159 830.5h11.6M38 832.5h50.3M205 833.5h26.8M254.9 833.5h8.3M139.5 834.5h19.5M159 834.5h11.6M232.6 834.5h21.5M254.9 842.5h8.3M264 845.5h4.2M89 846.5h43.6M171.4 846.5h32.9M205 846.5h26.8M264 847.5h4.2M232.6 849.5h21.5M254.9 849.5h8.3M139.5 851.5h19.5M159 851.5h11.6M232.6 854.5h21.5M254.9 854.5h8.3M264 856.5h4.2M264 857.5h4.2M139.5 859.5h19.5M159 859.5h11.6M232.6 859.5h21.5M254.9 859.5h8.3M139.5 860.5h19.5M159 860.5h11.6" stroke="#590000" stroke-width="1.02" fill="none"/>
<path d="M38 571.5h50.3M38 573.5h50.3M38 576.5h50.3M38 577.5h50.3M38 580.5h50.3M139.5 580.5h19.5M171.4 580.5h32.9M254.9 580.5h8.3M264 580.5h4.2M38 584.5h50.3M89 584.5h43.6M139.5 584.5h19.5M171.4 584.5h32.9M232.6 584.5h21.5M254.9 584.5h8.3M264 584.5h4.2M38 586.5h50.3M171.4 586.5h32.9M254.9 586.5h8.3M264 586.5h4.2M38 588.5h50.3M38 593.5h50.3M38 595.5h50.3M38 597.5h50.3M38 600.5h50.3M38 601.5h50.3M38 602.5h50.3M38 604.5h50.3M38 606.5h50.3M38 607.5h50.3M171.4 607.5h32.9M264 607.5h4.2M38 608.5h50.3M171.4 608.5h32.9M254.9 608.5h8.3M264 608.5h4.2M38 611.5h50.3M38 620.5h50.3M38 623.5h50.3M139.5 623.5h19.5M171.4 623.5h32.9M205 623.5h26.8M254.9 623.5h8.3M264 623.5h4.2M38 626.5h50.3M89 630.5h43.6M89 633.5h43.6M254.9 633.5h8.3M264 633.5h4.2M89 638.5h43.6M89 648.5h43.6M171.4 697.5h32.9M171.4 702.5h32.9M38 718.5h50.3M89 718.5h43.6M254.9 718.5h8.3M264 718.5h4.2M38 729.5h50.3M89 729.5h43.6M205 729.5h26.8M254.9 729.5h8.3M264 729.5h4.2M38 730.5h50.3M254.9 730.5h8.3M205 743.5h26.8M232.6 743.5h21.5M264 743.5h4.2M232.6 746.5h21.5M264 746.5h4.2M232.6 783.5h21.5M38 784.5h50.3M171.4 784.5h32.9M205 784.5h26.8M232.6 784.5h21.5M264 784.5h4.2M232.6 785.5h21.5M232.6 791.5h21.5M232.6 792.5h21.5M254.9 800.5h8.3M264 800.5h4.2M254.9 807.5h8.3M254.9 814.5h8.3M254.9 819.5h8.3M264 819.5h4.2M254.9 820.5h8.3M254.9 821.5h8.3M264 821.5h4.2M254.9 825.5h8.3M254.9 827.5h8.3M254.9 829.5h8.3M264 852.5h4.2" stroke="#ff0000" stroke-width="1.02" fill="none"/>
<path d="M171.4 571.5h32.9M254.9 571.5h8.3M264 571.5h4.2M171.4 573.5h32.9M264 573.5h4.2M38 585.5h50.3M171.4 597.5h32.9M264 597.5h4.2M254.9 600.5h8.3M254.9 602.5h8.3M89 607.5h43.6M205 607.5h26.8M232.6 607.5h21.5M254.9 611.5h8.3M38 616.5h50.3M171.4 620.5h32.9M264 620.5h4.2M139.5 626.5h19.5M139.5 633.5h19.5M171.4 633.5h32.9M254.9 638.5h8.3M264 641.5h4.2M264 647.5h4.2M171.4 648.5h32.9M254.9 648.5h8.3M89 653.5h43.6M254.9 657.5h8.3M38 662.5h50.3M171.4 662.5h32.9M89 665.5h43.6M264 665.5h4.2M254.9 682.5h8.3M254.9 686.5h8.3M254.9 691.5h8.3M89 697.5h43.6M254.9 697.5h8.3M264 697.5h4.2M171.4 705.5h32.9M38 706.5h50.3M171.4 707.5h32.9M38 708.5h50.3M254.9 711.5h8.3M254.9 714.5h8.3M254.9 715.5h8.3M254.9 716.5h8.3M159 718.5h11.6M89 719.5h43.6M264 719.5h4.2M38 722.5h50.3M89 723.5h43.6M264 723.5h4.2M159 729.5h11.6M254.9 740.5h8.3M232.6 741.5h21.5M264 741.5h4.2M264 757.5h4.2M232.6 759.5h21.5M232.6 763.5h21.5M232.6 766.5h21.5M232.6 775.5h21.5M38 792.5h50.3M171.4 792.5h32.9M264 795.5h4.2M254.9 802.5h8.3M264 806.5h4.2M254.9 809.5h8.3M139.5 819.5h19.5M159 819.5h11.6M264 820.5h4.2M139.5 821.5h19.5M159 821.5h11.6M254.9 822.5h8.3M254.9 828.5h8.3M89 829.5h43.6M264 830.5h4.2M89 834.5h43.6M38 836.5h50.3M38 837.5h50.3M38 848.5h50.3M232.6 852.5h21.5M254.9 852.5h8.3M264 859.5h4.2" stroke="#790000" stroke-width="1.02" fill="none"/>
<path d="M38 572.5h50.3M38 581.5h50.3M38 582.5h50.3M89 586.5h43.6M232.6 586.5h21.5M38 587.5h50.3M171.4 593.5h32.9M264 593.5h4.2M171.4 604.5h32.9M264 604.5h4.2M139.5 607.5h19.5M38 624.5h50.3M254.9 626.5h8.3M89 643.5h43.6M89 650.5h43.6M89 652.5h43.6M89 662.5h43.6M264 662.5h4.2M38 669.5h50.3M38 671.5h50.3M171.4 671.5h32.9M171.4 693.5h32.9M171.4 694.5h32.9M254.9 704.5h8.3M254.9 710.5h8.3M171.4 711.5h32.9M171.4 714.5h32.9M171.4 715.5h32.9M254.9 717.5h8.3M38 719.5h50.3M38 723.5h50.3M171.4 730.5h32.9M264 733.5h4.2M254.9 743.5h8.3M254.9 746.5h8.3M264 755.5h4.2M232.6 772.5h21.5M232.6 779.5h21.5M232.6 781.5h21.5M254.9 798.5h8.3M254.9 804.5h8.3M264 814.5h4.2M254.9 818.5h8.3M205 819.5h26.8M205 821.5h26.8M264 827.5h4.2M171.4 834.5h32.9M264 848.5h4.2M89 852.5h43.6M171.4 852.5h32.9M205 852.5h26.8" stroke="#850000" stroke-width="1.02" fill="none"/>
<path d="M254.9 573.5h8.3M89 576.5h43.6M205 576.5h26.8M232.6 576.5h21.5M171.4 577.5h32.9M264 577.5h4.2M171.4 588.5h32.9M254.9 588.5h8.3M264 588.5h4.2M171.4 592.5h32.9M264 592.5h4.2M139.5 593.5h19.5M171.4 595.5h32.9M254.9 595.5h8.3M264 595.5h4.2M254.9 597.5h8.3M38 599.5h50.3M171.4 601.5h32.9M264 601.5h4.2M139.5 604.5h19.5M171.4 606.5h32.9M254.9 606.5h8.3M264 606.5h4.2M171.4 609.5h32.9M264 609.5h4.2M38 610.5h50.3M38 613.5h50.3M38 614.5h50.3M171.4 619.5h32.9M264 619.5h4.2M254.9 620.5h8.3M139.5 630.5h19.5M171.4 630.5h32.9M89 632.5h43.6M159 633.5h11.6M38 638.5h50.3M254.9 641.5h8.3M254.9 647.5h8.3M38 648.5h50.3M205 648.5h26.8M89 649.5h43.6M38 657.5h50.3M171.4 657.5h32.9M205 662.5h26.8M254.9 665.5h8.3M139.5 669.5h19.5M232.6 669.5h21.5M232.6 671.5h21.5M38 682.5h50.3M171.4 682.5h32.9M38 693.5h50.3M38 694.5h50.3M38 698.5h50.3M89 699.5h43.6M264 699.5h4.2M171.4 700.5h32.9M254.9 701.5h8.3M89 702.5h43.6M264 702.5h4.2M89 704.5h43.6M264 704.5h4.2M89 708.5h43.6M264 708.5h4.2M89 710.5h43.6M264 710.5h4.2M38 711.5h50.3M38 714.5h50.3M38 715.5h50.3M38 716.5h50.3M89 717.5h43.6M264 717.5h4.2M139.5 718.5h19.5M232.6 718.5h21.5M171.4 719.5h32.9M254.9 721.5h8.3M171.4 723.5h32.9M254.9 724.5h8.3M38 725.5h50.3M254.9 725.5h8.3M254.9 728.5h8.3M139.5 729.5h19.5M232.6 729.5h21.5M254.9 733.5h8.3M38 743.5h50.3M89 743.5h43.6M171.4 743.5h32.9M38 746.5h50.3M89 746.5h43.6M171.4 746.5h32.9M205 746.5h26.8M264 747.5h4.2M264 751.5h4.2M254.9 755.5h8.3M232.6 760.5h21.5M232.6 762.5h21.5M232.6 765.5h21.5M232.6 768.5h21.5M264 769.5h4.2M232.6 771.5h21.5M232.6 774.5h21.5M264 777.5h4.2M232.6 782.5h21.5M264 788.5h4.2M89 792.5h43.6M139.5 792.5h19.5M159 792.5h11.6M205 792.5h26.8M254.9 792.5h8.3M232.6 794.5h21.5M264 797.5h4.2M254.9 801.5h8.3M254.9 803.5h8.3M264 812.5h4.2M254.9 815.5h8.3M254.9 816.5h8.3M232.6 819.5h21.5M232.6 821.5h21.5M38 825.5h50.3M171.4 825.5h32.9M264 826.5h4.2M38 827.5h50.3M171.4 827.5h32.9M205 829.5h26.8M89 830.5h43.6M205 830.5h26.8M254.9 830.5h8.3M38 831.5h50.3M205 834.5h26.8M254.9 834.5h8.3M38 835.5h50.3M171.4 836.5h32.9M171.4 837.5h32.9M264 844.5h4.2M264 849.5h4.2M38 851.5h50.3M139.5 852.5h19.5M159 852.5h11.6M264 854.5h4.2M38 860.5h50.3" stroke="#720000" stroke-width="1.02" fill="none"/>
<path d="M171.4 575.5h32.9M264 575.5h4.2M205 578.5h26.8M232.6 578.5h21.5M133.4 581.5h6.1M133.4 582.5h6.1M133.4 587.5h6.1M159 616.5h11.6M133.4 624.5h6.1M133.4 631.5h6.1M232.6 643.5h21.5M254.9 645.5h8.3M159 664.5h11.6M133.4 666.5h6.1M159 670.5h11.6M38 673.5h50.3M159 681.5h11.6M205 685.5h26.8M89 687.5h43.6M139.5 734.5h19.5M159 734.5h11.6M38 760.5h50.3M89 760.5h43.6M133.4 760.5h6.1M139.5 760.5h19.5M159 760.5h11.6M171.4 760.5h32.9M205 760.5h26.8M133.4 774.5h6.1M139.5 793.5h19.5M159 793.5h11.6M254.9 793.5h8.3M133.4 794.5h6.1M139.5 796.5h19.5M159 796.5h11.6M139.5 801.5h19.5M159 801.5h11.6M133.4 815.5h6.1M133.4 816.5h6.1M38 843.5h50.3M89 843.5h43.6M133.4 843.5h6.1M171.4 843.5h32.9M205 843.5h26.8M133.4 855.5h6.1M232.6 858.5h21.5M254.9 858.5h8.3M133.4 861.5h6.1" stroke="#1f0000" stroke-width="1.02" fill="none"/>
<path d="M133.4 576.5h6.1M254.9 578.5h8.3M89 579.5h43.6M232.6 585.5h21.5M159 593.5h11.6M205 593.5h26.8M89 603.5h43.6M205 603.5h26.8M232.6 603.5h21.5M159 604.5h11.6M139.5 605.5h19.5M205 616.5h26.8M232.6 616.5h21.5M89 617.5h43.6M171.4 625.5h32.9M264 625.5h4.2M133.4 626.5h6.1M159 626.5h11.6M232.6 626.5h21.5M133.4 630.5h6.1M139.5 631.5h19.5M171.4 631.5h32.9M264 632.5h4.2M159 635.5h11.6M159 636.5h11.6M159 637.5h11.6M205 639.5h26.8M133.4 648.5h6.1M264 649.5h4.2M232.6 650.5h21.5M139.5 652.5h19.5M254.9 653.5h8.3M205 655.5h26.8M139.5 656.5h19.5M232.6 656.5h21.5M139.5 658.5h19.5M171.4 660.5h32.9M38 661.5h50.3M171.4 661.5h32.9M133.4 662.5h6.1M38 664.5h50.3M205 664.5h26.8M232.6 666.5h21.5M38 670.5h50.3M205 670.5h26.8M159 674.5h11.6M89 676.5h43.6M264 676.5h4.2M139.5 677.5h19.5M139.5 679.5h19.5M205 680.5h26.8M38 681.5h50.3M205 681.5h26.8M89 683.5h43.6M264 683.5h4.2M89 685.5h43.6M264 685.5h4.2M139.5 686.5h19.5M159 686.5h11.6M205 687.5h26.8M139.5 688.5h19.5M205 690.5h26.8M159 691.5h11.6M232.6 691.5h21.5M139.5 695.5h19.5M232.6 695.5h21.5M205 700.5h26.8M139.5 701.5h19.5M232.6 701.5h21.5M159 705.5h11.6M159 707.5h11.6M89 712.5h43.6M264 712.5h4.2M89 713.5h43.6M264 713.5h4.2M254.9 720.5h8.3M139.5 721.5h19.5M232.6 721.5h21.5M139.5 724.5h19.5M232.6 724.5h21.5M139.5 725.5h19.5M232.6 725.5h21.5M139.5 728.5h19.5M232.6 728.5h21.5M133.4 730.5h6.1M38 732.5h50.3M89 732.5h43.6M171.4 732.5h32.9M232.6 732.5h21.5M133.4 733.5h6.1M254.9 734.5h8.3M205 738.5h26.8M232.6 739.5h21.5M264 739.5h4.2M133.4 740.5h6.1M38 742.5h50.3M89 742.5h43.6M139.5 742.5h19.5M159 742.5h11.6M171.4 742.5h32.9M38 744.5h50.3M89 744.5h43.6M171.4 744.5h32.9M38 745.5h50.3M89 745.5h43.6M139.5 745.5h19.5M159 745.5h11.6M171.4 745.5h32.9M205 745.5h26.8M38 748.5h50.3M89 748.5h43.6M171.4 748.5h32.9M205 748.5h26.8M38 749.5h50.3M89 749.5h43.6M171.4 749.5h32.9M205 749.5h26.8M264 752.5h4.2M139.5 753.5h19.5M159 753.5h11.6M133.4 755.5h6.1M264 761.5h4.2M254.9 763.5h8.3M254.9 766.5h8.3M38 768.5h50.3M171.4 768.5h32.9M205 768.5h26.8M38 771.5h50.3M171.4 771.5h32.9M89 774.5h43.6M205 774.5h26.8M139.5 775.5h19.5M159 775.5h11.6M254.9 775.5h8.3M38 782.5h50.3M171.4 782.5h32.9M38 794.5h50.3M89 794.5h43.6M171.4 794.5h32.9M205 794.5h26.8M38 798.5h50.3M171.4 798.5h32.9M38 804.5h50.3M171.4 804.5h32.9M38 805.5h50.3M171.4 805.5h32.9M133.4 807.5h6.1M139.5 807.5h19.5M159 807.5h11.6M264 808.5h4.2M139.5 811.5h19.5M159 811.5h11.6M133.4 814.5h6.1M205 815.5h26.8M89 816.5h43.6M205 816.5h26.8M232.6 817.5h21.5M232.6 818.5h21.5M139.5 824.5h19.5M159 824.5h11.6M133.4 825.5h6.1M133.4 827.5h6.1M139.5 831.5h19.5M159 831.5h11.6M205 832.5h26.8M254.9 832.5h8.3M139.5 835.5h19.5M159 835.5h11.6M232.6 836.5h21.5M139.5 841.5h19.5M159 841.5h11.6M89 845.5h43.6M171.4 845.5h32.9M205 845.5h26.8M205 847.5h26.8M133.4 848.5h6.1M38 853.5h50.3M89 856.5h43.6M171.4 856.5h32.9M205 856.5h26.8M205 857.5h26.8M38 858.5h50.3" stroke="#460000" stroke-width="1.02" fill="none"/>
<path d="M139.5 576.5h19.5M38 579.5h50.3M254.9 593.5h8.3M171.4 600.5h32.9M264 600.5h4.2M171.4 602.5h32.9M264 602.5h4.2M38 603.5h50.3M254.9 604.5h8.3M89 608.5h43.6M205 608.5h26.8M232.6 608.5h21.5M171.4 611.5h32.9M264 611.5h4.2M38 617.5h50.3M89 628.5h43.6M89 629.5h43.6M205 630.5h26.8M89 634.5h43.6M264 638.5h4.2M89 639.5h43.6M89 642.5h43.6M89 644.5h43.6M264 648.5h4.2M89 654.5h43.6M89 657.5h43.6M264 657.5h4.2M254.9 662.5h8.3M205 669.5h26.8M205 671.5h26.8M89 682.5h43.6M264 682.5h4.2M264 686.5h4.2M264 691.5h4.2M171.4 695.5h32.9M171.4 698.5h32.9M38 699.5h50.3M171.4 701.5h32.9M38 702.5h50.3M38 704.5h50.3M254.9 706.5h8.3M254.9 708.5h8.3M38 710.5h50.3M38 717.5h50.3M205 718.5h26.8M254.9 722.5h8.3M205 741.5h26.8M254.9 756.5h8.3M232.6 770.5h21.5M232.6 773.5h21.5M264 783.5h4.2M264 785.5h4.2M264 791.5h4.2M254.9 805.5h8.3M264 807.5h4.2M254.9 811.5h8.3M254.9 817.5h8.3M254.9 824.5h8.3M38 829.5h50.3M171.4 829.5h32.9M171.4 830.5h32.9M264 834.5h4.2M254.9 840.5h8.3M264 851.5h4.2M264 860.5h4.2" stroke="#7f0000" stroke-width="1.02" fill="none"/>
<path d="M171.4 576.5h32.9M264 576.5h4.2M232.6 580.5h21.5M38 619.5h50.3M171.4 704.5h32.9M171.4 718.5h32.9M89 784.5h43.6" stroke="#a50000" stroke-width="1.02" fill="none"/>
<path d="M254.9 576.5h8.3M38 590.5h50.3M38 596.5h50.3M139.5 608.5h19.5M254.9 630.5h8.3M89 640.5h43.6M89 646.5h43.6M254.9 669.5h8.3M254.9 671.5h8.3M171.4 706.5h32.9M254.9 719.5h8.3M254.9 723.5h8.3M232.6 769.5h21.5M254.9 797.5h8.3M254.9 812.5h8.3M38 819.5h50.3M171.4 819.5h32.9M38 821.5h50.3M171.4 821.5h32.9" stroke="#920000" stroke-width="1.02" fill="none"/>
<path d="M133.4 579.5h6.1M159 585.5h11.6M133.4 617.5h6.1M139.5 618.5h19.5M254.9 621.5h8.3M232.6 653.5h21.5M133.4 667.5h6.1M133.4 675.5h6.1M89 690.5h43.6M133.4 700.5h6.1M133.4 705.5h6.1M205 712.5h26.8M133.4 750.5h6.1M38 762.5h50.3M89 762.5h43.6M133.4 762.5h6.1M139.5 762.5h19.5M159 762.5h11.6M171.4 762.5h32.9M205 762.5h26.8M38 765.5h50.3M89 765.5h43.6M133.4 765.5h6.1M139.5 765.5h19.5M159 765.5h11.6M171.4 765.5h32.9M205 765.5h26.8M133.4 768.5h6.1M133.4 782.5h6.1M133.4 801.5h6.1M139.5 850.5h19.5M159 850.5h11.6M133.4 857.5h6.1" stroke="#190000" stroke-width="1.02" fill="none"/>
<path d="M38 591.5h50.3M38 594.5h50.3M38 598.5h50.3M38 615.5h50.3M38 622.5h50.3M171.4 626.5h32.9M264 626.5h4.2M89 631.5h43.6M205 633.5h26.8M89 635.5h43.6M89 636.5h43.6M89 637.5h43.6M171.4 669.5h32.9M38 697.5h50.3M254.9 702.5h8.3M171.4 716.5h32.9M89 730.5h43.6M264 730.5h4.2M205 733.5h26.8M232.6 740.5h21.5M264 740.5h4.2M232.6 778.5h21.5M232.6 789.5h21.5M89 819.5h43.6M89 821.5h43.6M264 825.5h4.2M38 830.5h50.3M38 834.5h50.3" stroke="#8c0000" stroke-width="1.02" fill="none"/>
<path d="M38 592.5h50.3M254.9 806.5h8.3M264 829.5h4.2" stroke="#c50000" stroke-width="1.02" fill="none"/>
<path d="M133.4 603.5h6.1M139.5 731.5h19.5M232.6 731.5h21.5M133.4 796.5h6.1" stroke="#0c0000" stroke-width="1.02" fill="none"/>
<path d="M254.9 607.5h8.3M264 630.5h4.2" stroke="#ac0000" stroke-width="1.02" fill="none"/>
<path d="M38 609.5h50.3" stroke="#df0000" stroke-width="1.02" fill="none"/>
<path d="M89 623.5h43.6M89 641.5h43.6M89 647.5h43.6" stroke="#d80000" stroke-width="1.02" fill="none"/>
<path d="M133.4 659.5h6.1M133.4 684.5h6.1M133.4 847.5h6.1M133.4 856.5h6.1" stroke="#130000" stroke-width="1.02" fill="none"/>
<path d="M133.4 663.5h6.1M254.9 738.5h8.3M133.4 771.5h6.1M89 801.5h43.6M205 801.5h26.8M232.6 801.5h21.5" stroke="#060000" stroke-width="1.02" fill="none"/>
<path d="M89 669.5h43.6M264 669.5h4.2" stroke="#cc0000" stroke-width="1.02" fill="none"/>
<path d="M264 792.5h4.2" stroke="#b80000" stroke-width="1.02" fill="none"/>
</g>
<path d="M139.5 655.5h19.5M139.5 656.5h19.5M139.5 657.5h19.5M139.5 659.5h19.5M139.5 660.5h19.5M139.5 662.5h19.5M139.5 663.5h19.5M139.5 664.5h19.5M139.5 665.5h19.5M139.5 666.5h19.5M139.5 667.5h19.5M38 732.5h50.3M89 732.5h43.6M159 732.5h11.6M38 733.5h50.3M89 733.5h43.6M139.5 733.5h19.5M159 733.5h11.6M139.5 734.5h19.5M159 734.5h11.6M38 735.5h50.3M139.5 735.5h19.5M159 735.5h11.6M38 736.5h50.3M89 736.5h43.6M139.5 736.5h19.5M159 736.5h11.6M171.4 736.5h32.9M139.5 737.5h19.5M159 737.5h11.6M171.4 737.5h32.9M89 738.5h43.6M139.5 738.5h19.5M171.4 738.5h32.9M38 739.5h50.3M89 739.5h43.6M139.5 739.5h19.5M159 739.5h11.6M171.4 739.5h32.9M38 740.5h50.3M89 740.5h43.6M139.5 740.5h19.5M159 740.5h11.6M171.4 740.5h32.9M38 741.5h50.3M89 741.5h43.6M139.5 741.5h19.5M159 741.5h11.6M38 742.5h50.3M89 742.5h43.6M139.5 742.5h19.5M159 742.5h11.6M171.4 742.5h32.9M139.5 743.5h19.5M89 744.5h43.6M139.5 744.5h19.5M159 744.5h11.6M38 745.5h50.3M89 745.5h43.6M139.5 745.5h19.5M171.4 745.5h32.9M205 745.5h26.8M159 746.5h11.6M205 746.5h26.8M38 747.5h50.3M89 747.5h43.6M139.5 747.5h19.5M159 747.5h11.6M171.4 747.5h32.9M205 747.5h26.8M232.6 747.5h21.5M38 748.5h50.3M89 748.5h43.6M139.5 748.5h19.5M159 748.5h11.6M171.4 748.5h32.9M205 748.5h26.8M232.6 748.5h21.5M139.5 749.5h19.5M171.4 749.5h32.9M232.6 749.5h21.5M89 750.5h43.6M159 750.5h11.6M205 750.5h26.8M232.6 750.5h21.5M89 751.5h43.6M139.5 751.5h19.5M159 751.5h11.6M171.4 751.5h32.9M205 751.5h26.8M89 752.5h43.6M139.5 752.5h19.5M159 752.5h11.6M171.4 752.5h32.9M205 752.5h26.8M38 753.5h50.3M89 753.5h43.6M171.4 753.5h32.9M205 753.5h26.8M232.6 753.5h21.5M139.5 754.5h19.5M171.4 754.5h32.9M205 754.5h26.8M232.6 754.5h21.5M139.5 755.5h19.5M159 755.5h11.6M171.4 755.5h32.9M232.6 755.5h21.5M38 756.5h50.3M139.5 756.5h19.5M232.6 756.5h21.5M38 757.5h50.3M139.5 757.5h19.5M159 757.5h11.6M171.4 757.5h32.9M205 757.5h26.8M38 758.5h50.3M89 758.5h43.6M139.5 758.5h19.5M159 758.5h11.6M205 758.5h26.8M232.6 758.5h21.5M89 759.5h43.6M139.5 759.5h19.5M159 759.5h11.6M205 759.5h26.8M139.5 768.5h19.5M139.5 769.5h19.5M139.5 770.5h19.5M139.5 772.5h19.5M139.5 773.5h19.5M139.5 774.5h19.5M139.5 775.5h19.5M139.5 776.5h19.5M139.5 777.5h19.5M139.5 778.5h19.5M139.5 780.5h19.5M139.5 781.5h19.5M139.5 783.5h19.5M139.5 784.5h19.5M139.5 785.5h19.5M139.5 786.5h19.5M139.5 789.5h19.5M139.5 790.5h19.5M139.5 792.5h19.5M139.5 794.5h19.5" stroke="#7a1a90" stroke-width="1.02" fill="none" opacity=".8" style="mix-blend-mode:lighten"/>
<path d="M38 685.5h50.3M89 685.5h43.6M139.5 685.5h19.5M159 685.5h11.6M171.4 685.5h32.9M205 685.5h26.8M232.6 685.5h21.5M38 686.5h50.3M89 686.5h43.6M139.5 686.5h19.5M159 686.5h11.6M171.4 686.5h32.9M205 686.5h26.8M232.6 686.5h21.5M38 687.5h50.3M89 687.5h43.6M139.5 687.5h19.5M159 687.5h11.6M171.4 687.5h32.9M205 687.5h26.8M232.6 687.5h21.5M38 688.5h50.3M89 688.5h43.6M139.5 688.5h19.5M159 688.5h11.6M171.4 688.5h32.9M205 688.5h26.8M232.6 688.5h21.5M38 689.5h50.3M89 689.5h43.6M139.5 689.5h19.5M159 689.5h11.6M171.4 689.5h32.9M205 689.5h26.8M232.6 689.5h21.5M38 690.5h50.3M89 690.5h43.6M139.5 690.5h19.5M159 690.5h11.6M171.4 690.5h32.9M205 690.5h26.8M232.6 690.5h21.5M38 691.5h50.3M89 691.5h43.6M139.5 691.5h19.5M159 691.5h11.6M171.4 691.5h32.9M205 691.5h26.8M232.6 691.5h21.5" stroke="#b82ec8" stroke-width="1.02" fill="none" opacity=".9" style="mix-blend-mode:lighten"/>
<rect x="88" y="568" width="1" height="294" fill="#efe4f2" />
<rect x="133" y="568" width="1" height="294" fill="#efe4f2" />
<rect x="170" y="568" width="1" height="294" fill="#efe4f2" />
<rect x="204" y="568" width="1" height="294" fill="#efe4f2" />
<rect x="232" y="568" width="1" height="294" fill="#efe4f2" />
<rect x="254" y="568" width="1" height="294" fill="#efe4f2" />
<rect x="263" y="568" width="1" height="294" fill="#efe4f2" />
<g transform="translate(59.6 553.5) rotate(-50)" font-size="8.2" fill="#111" stroke="#111" stroke-width="0.35" stroke-opacity=".45"><text x="0" y="0">&amp;'</text><text x="25.5" y="0">0&lt;&amp;</text><text x="46.5" y="0">ILEUREODVWV</text><path d="M8.2 -5.3h3.9v5h-3.9zM14.3 -5.3h3.9v5h-3.9zM20.5 -5.3h3.9v5h-3.9zM41.4 -5.3h3.9v5h-3.9zM108.2 -5.3h3.9v5h-3.9zM114.3 -5.3h3.9v5h-3.9zM120.5 -5.3h3.9v5h-3.9zM126.6 -5.3h3.9v5h-3.9z" fill="none" stroke="#c8c8c8" stroke-opacity="1" stroke-width="0.6"/></g>
<g transform="translate(107 553.5) rotate(-50)" font-size="8.2" fill="#111" stroke="#111" stroke-width="0.35" stroke-opacity=".45"><text x="0" y="0">'HVPRSODVWLF</text><text x="71" y="0">&amp;$)V</text><path d="M66 -5.3h3.9v5h-3.9zM90.4 -5.3h3.9v5h-3.9zM96.5 -5.3h3.9v5h-3.9zM102.7 -5.3h3.9v5h-3.9zM108.8 -5.3h3.9v5h-3.9z" fill="none" stroke="#c8c8c8" stroke-opacity="1" stroke-width="0.6"/></g>
<g transform="translate(148.4 553.5) rotate(-50)" font-size="8.2" fill="#111" stroke="#111" stroke-width="0.35" stroke-opacity=".45"><text x="0" y="0">8QGHWHUPLQHG</text><path d="M72.6 -5.3h3.9v5h-3.9zM78.8 -5.3h3.9v5h-3.9zM84.9 -5.3h3.9v5h-3.9zM91.1 -5.3h3.9v5h-3.9z" fill="none" stroke="#c8c8c8" stroke-opacity="1" stroke-width="0.6"/></g>
<g transform="translate(184.7 553.5) rotate(-50)" font-size="8.2" fill="#111" stroke="#111" stroke-width="0.35" stroke-opacity=".45"><text x="0" y="0">/LSRILEUREODVWV</text><path d="M79.9 -5.3h3.9v5h-3.9zM86.1 -5.3h3.9v5h-3.9zM92.2 -5.3h3.9v5h-3.9zM98.4 -5.3h3.9v5h-3.9z" fill="none" stroke="#c8c8c8" stroke-opacity="1" stroke-width="0.6"/></g>
<g transform="translate(215.7 553.5) rotate(-50)" font-size="8.2" fill="#111" stroke="#111" stroke-width="0.35" stroke-opacity=".45"><text x="0" y="0">0\RILEUREODVWLF</text><text x="83.6" y="0">&amp;$)V</text><path d="M78.6 -5.3h3.9v5h-3.9zM103 -5.3h3.9v5h-3.9zM109.1 -5.3h3.9v5h-3.9zM115.3 -5.3h3.9v5h-3.9zM121.4 -5.3h3.9v5h-3.9z" fill="none" stroke="#c8c8c8" stroke-opacity="1" stroke-width="0.6"/></g>
<g transform="translate(241.6 553.5) rotate(-50)" font-size="8.2" fill="#111" stroke="#111" stroke-width="0.35" stroke-opacity=".45"><text x="0" y="0">3HULF\WHV</text><text x="53.5" y="0">OLNH</text><text x="82.5" y="0">&amp;$)V</text><path d="M48.5 -5.3h3.9v5h-3.9zM77.4 -5.3h3.9v5h-3.9zM101.8 -5.3h3.9v5h-3.9zM108 -5.3h3.9v5h-3.9zM114.1 -5.3h3.9v5h-3.9zM120.3 -5.3h3.9v5h-3.9z" fill="none" stroke="#c8c8c8" stroke-opacity="1" stroke-width="0.6"/></g>
<g transform="translate(258.9 553.5) rotate(-50)" font-size="8.2" fill="#111" stroke="#111" stroke-width="0.35" stroke-opacity=".45"><text x="0" y="0">,QIODPPDWRU\</text><text x="68.1" y="0">&amp;$)V</text><path d="M63.1 -5.3h3.9v5h-3.9zM87.5 -5.3h3.9v5h-3.9zM93.6 -5.3h3.9v5h-3.9zM99.8 -5.3h3.9v5h-3.9zM105.9 -5.3h3.9v5h-3.9z" fill="none" stroke="#c8c8c8" stroke-opacity="1" stroke-width="0.6"/></g>
<g transform="translate(272.7 553.5) rotate(-50)" font-size="8.2" fill="#111" stroke="#111" stroke-width="0.35" stroke-opacity=".45"><text x="0" y="0">$GYHQWLWLDO</text><text x="71.8" y="0">ILEUREODVWV</text><path d="M66.7 -5.3h3.9v5h-3.9zM133.5 -5.3h3.9v5h-3.9zM139.6 -5.3h3.9v5h-3.9zM145.8 -5.3h3.9v5h-3.9zM151.9 -5.3h3.9v5h-3.9z" fill="none" stroke="#c8c8c8" stroke-opacity="1" stroke-width="0.6"/></g>
<defs><linearGradient id="ck" x1="0" y1="0" x2="0" y2="1"><stop offset="0" stop-color="#f4f400"/><stop offset=".5" stop-color="#000"/><stop offset="1" stop-color="#ff10ff"/></linearGradient></defs>
<rect x="15.1" y="672" width="9.9" height="50.6" fill="url(#ck)" />
<line x1="15.1" y1="678" x2="25" y2="678" stroke="#fff" stroke-width="0.6" opacity=".5"/>
<g transform="translate(28.5 678)" font-size="7" fill="#aaa" stroke="#aaa" stroke-width="0.35" stroke-opacity=".45"><path d="M1.1 -1.9h3.1v4.1h-3.1z" fill="none" stroke="#b0b0b0" stroke-opacity="1" stroke-width="0.7"/></g>
<line x1="15.1" y1="690.5" x2="25" y2="690.5" stroke="#fff" stroke-width="0.6" opacity=".5"/>
<g transform="translate(28.5 690.5)" font-size="7" fill="#aaa" stroke="#aaa" stroke-width="0.35" stroke-opacity=".45"><path d="M1.1 -1.9h3.1v4.1h-3.1z" fill="none" stroke="#b0b0b0" stroke-opacity="1" stroke-width="0.7"/></g>
<line x1="15.1" y1="702.3" x2="25" y2="702.3" stroke="#fff" stroke-width="0.6" opacity=".5"/>
<g transform="translate(28.5 702.3)" font-size="7" fill="#aaa" stroke="#aaa" stroke-width="0.35" stroke-opacity=".45"><path d="M1.1 -1.9h3.1v4.1h-3.1z" fill="none" stroke="#b0b0b0" stroke-opacity="1" stroke-width="0.7"/></g>
<line x1="15.1" y1="714" x2="25" y2="714" stroke="#fff" stroke-width="0.6" opacity=".5"/>
<g transform="translate(28.5 714)" font-size="7" fill="#aaa" stroke="#aaa" stroke-width="0.35" stroke-opacity=".45"><path d="M1.1 -1.9h3.1v4.1h-3.1z" fill="none" stroke="#b0b0b0" stroke-opacity="1" stroke-width="0.7"/></g>
<g transform="translate(9.6 694.5) rotate(-90) scale(0.825 1)" font-size="7.6" fill="#111" stroke="#111" stroke-width="0.35" stroke-opacity=".45"><text x="-44.2" y="2.7">([SUHVVLRQ</text><text x="7.9" y="2.7">=</text><text x="18.1" y="2.7">VFRUH</text><path d="M3.3 -2.2h3.6v4.6h-3.6zM13.4 -2.2h3.6v4.6h-3.6z" fill="none" stroke="#c0c0c0" stroke-opacity="1" stroke-width="0.6"/></g>
<g transform="translate(274.3 570.5)" font-size="7.6" fill="#ee7f7f" stroke="#ee7f7f" stroke-width="0.35" stroke-opacity=".45" font-style="italic"><text x="0" y="2.7">$32'</text></g>
<line x1="268.5" y1="570.5" x2="273.3" y2="570.5" stroke="#ee7f7f" stroke-width="0.5" opacity=".6"/>
<g transform="translate(274 580.4)" font-size="7.6" fill="#ee7f7f" stroke="#ee7f7f" stroke-width="0.35" stroke-opacity=".45" font-style="italic"><text x="0" y="2.7">6&amp;$55</text><path d="M23 -2.2h3.6v4.6h-3.6z" fill="none" stroke="#ee7f7f" stroke-opacity="0.3" stroke-width="0.6" transform="skewX(-12)"/></g>
<line x1="268.5" y1="580.4" x2="273" y2="580.4" stroke="#ee7f7f" stroke-width="0.5" opacity=".6"/>
<g transform="translate(275.5 592)" font-size="7.6" fill="#ee7f7f" stroke="#ee7f7f" stroke-width="0.35" stroke-opacity=".45" font-style="italic"><text x="0" y="2.7">&amp;'</text><path d="M7.6 -2.2h3.6v4.6h-3.6zM13.3 -2.2h3.6v4.6h-3.6z" fill="none" stroke="#ee7f7f" stroke-opacity="0.3" stroke-width="0.6" transform="skewX(-12)"/></g>
<line x1="268.5" y1="592" x2="274.5" y2="592" stroke="#ee7f7f" stroke-width="0.5" opacity=".6"/>
<g transform="translate(273 598)" font-size="7.6" fill="#ee7f7f" stroke="#ee7f7f" stroke-width="0.35" stroke-opacity=".45" font-style="italic"><text x="0" y="2.7">&amp;</text><text x="10.8" y="2.7">&amp;/</text><path d="M6.1 -2.2h3.6v4.6h-3.6zM19 -2.2h3.6v4.6h-3.6zM24.7 -2.2h3.6v4.6h-3.6z" fill="none" stroke="#ee7f7f" stroke-opacity="0.3" stroke-width="0.6" transform="skewX(-12)"/></g>
<line x1="268.5" y1="598" x2="272" y2="598" stroke="#ee7f7f" stroke-width="0.5" opacity=".6"/>
<g transform="translate(275 605)" font-size="7.6" fill="#ee7f7f" stroke="#ee7f7f" stroke-width="0.35" stroke-opacity=".45" font-style="italic"><text x="0" y="2.7">0&lt;</text><text x="14.4" y="2.7">&amp;</text><path d="M9.7 -2.2h3.6v4.6h-3.6z" fill="none" stroke="#ee7f7f" stroke-opacity="0.3" stroke-width="0.6" transform="skewX(-12)"/></g>
<line x1="268.5" y1="605" x2="274" y2="605" stroke="#ee7f7f" stroke-width="0.5" opacity=".6"/>
<g transform="translate(273 611.2)" font-size="7.6" fill="#ee7f7f" stroke="#ee7f7f" stroke-width="0.35" stroke-opacity=".45" font-style="italic"><text x="0" y="2.7">37*6</text></g>
<line x1="268.5" y1="611.2" x2="272" y2="611.2" stroke="#ee7f7f" stroke-width="0.5" opacity=".6"/>
<g transform="translate(277.5 617.3)" font-size="7.6" fill="#ee7f7f" stroke="#ee7f7f" stroke-width="0.35" stroke-opacity=".45" font-style="italic"><text x="0" y="2.7">&amp;</text><path d="M6.1 -2.2h3.6v4.6h-3.6z" fill="none" stroke="#ee7f7f" stroke-opacity="0.3" stroke-width="0.6" transform="skewX(-12)"/></g>
<line x1="268.5" y1="617.3" x2="276.5" y2="617.3" stroke="#ee7f7f" stroke-width="0.5" opacity=".6"/>
<g transform="translate(275.5 623.3)" font-size="7.6" fill="#d8a838" stroke="#d8a838" stroke-width="0.35" stroke-opacity=".45" font-style="italic"><text x="0" y="2.7">7*%/</text><path d="M17.1 -2.2h3.6v4.6h-3.6zM22.8 -2.2h3.6v4.6h-3.6z" fill="none" stroke="#d8a838" stroke-opacity="0.3" stroke-width="0.6" transform="skewX(-12)"/></g>
<line x1="268.5" y1="623.3" x2="274.5" y2="623.3" stroke="#d8a838" stroke-width="0.5" opacity=".6"/>
<g transform="translate(276 629.4)" font-size="7.6" fill="#d8a838" stroke="#d8a838" stroke-width="0.35" stroke-opacity=".45" font-style="italic"><text x="0" y="2.7">1+%$</text></g>
<line x1="268.5" y1="629.4" x2="275" y2="629.4" stroke="#d8a838" stroke-width="0.5" opacity=".6"/>
<g transform="translate(272 636)" font-size="7.6" fill="#d8a838" stroke="#d8a838" stroke-width="0.35" stroke-opacity=".45" font-style="italic"><text x="0" y="2.7">/2/</text><path d="M9.5 -2.2h3.6v4.6h-3.6z" fill="none" stroke="#d8a838" stroke-opacity="0.3" stroke-width="0.6" transform="skewX(-12)"/></g>
<line x1="268.5" y1="636" x2="271" y2="636" stroke="#d8a838" stroke-width="0.5" opacity=".6"/>
<g transform="translate(275 641.5)" font-size="7.6" fill="#d8a838" stroke="#d8a838" stroke-width="0.35" stroke-opacity=".45" font-style="italic"><text x="0" y="2.7">/1</text><path d="M7.4 -2.2h3.6v4.6h-3.6zM13.1 -2.2h3.6v4.6h-3.6z" fill="none" stroke="#d8a838" stroke-opacity="0.3" stroke-width="0.6" transform="skewX(-12)"/></g>
<line x1="268.5" y1="641.5" x2="274" y2="641.5" stroke="#d8a838" stroke-width="0.5" opacity=".6"/>
<g transform="translate(272.5 648.1)" font-size="7.6" fill="#d8a838" stroke="#d8a838" stroke-width="0.35" stroke-opacity=".45" font-style="italic"><text x="0" y="2.7">&amp;2/</text><text x="17.1" y="2.7">$</text><path d="M12.5 -2.2h3.6v4.6h-3.6zM22.4 -2.2h3.6v4.6h-3.6z" fill="none" stroke="#d8a838" stroke-opacity="0.3" stroke-width="0.6" transform="skewX(-12)"/></g>
<line x1="268.5" y1="648.1" x2="271.5" y2="648.1" stroke="#d8a838" stroke-width="0.5" opacity=".6"/>
<g transform="translate(275 654.2)" font-size="7.6" fill="#d8a838" stroke="#d8a838" stroke-width="0.35" stroke-opacity=".45" font-style="italic"><text x="0" y="2.7">7*)%</text></g>
<line x1="268.5" y1="654.2" x2="274" y2="654.2" stroke="#d8a838" stroke-width="0.5" opacity=".6"/>
<g transform="translate(274 660.8)" font-size="7.6" fill="#d8a838" stroke="#d8a838" stroke-width="0.35" stroke-opacity=".45" font-style="italic"><text x="0" y="2.7">)$</text><text x="12.5" y="2.7">3</text><path d="M7.8 -2.2h3.6v4.6h-3.6z" fill="none" stroke="#d8a838" stroke-opacity="0.3" stroke-width="0.6" transform="skewX(-12)"/></g>
<line x1="268.5" y1="660.8" x2="273" y2="660.8" stroke="#d8a838" stroke-width="0.5" opacity=".6"/>
<g transform="translate(273 667.4)" font-size="7.6" fill="#d8a838" stroke="#d8a838" stroke-width="0.35" stroke-opacity=".45" font-style="italic"><text x="0" y="2.7">$&amp;7$</text><path d="M18.8 -2.2h3.6v4.6h-3.6z" fill="none" stroke="#d8a838" stroke-opacity="0.3" stroke-width="0.6" transform="skewX(-12)"/></g>
<line x1="268.5" y1="667.4" x2="272" y2="667.4" stroke="#d8a838" stroke-width="0.5" opacity=".6"/>
<g transform="translate(274 704.9)" font-size="7.6" fill="#22a874" stroke="#22a874" stroke-width="0.35" stroke-opacity=".45" font-style="italic"><text x="0" y="2.7">3/,1</text><path d="M13.7 -2.2h3.6v4.6h-3.6z" fill="none" stroke="#22a874" stroke-opacity="0.3" stroke-width="0.6" transform="skewX(-12)"/></g>
<line x1="268.5" y1="704.9" x2="273" y2="704.9" stroke="#22a874" stroke-width="0.5" opacity=".6"/>
<g transform="translate(276 724.7)" font-size="7.6" fill="#3ec0c8" stroke="#3ec0c8" stroke-width="0.35" stroke-opacity=".45" font-style="italic"><text x="0" y="2.7">6*</text><path d="M8.2 -2.2h3.6v4.6h-3.6zM13.9 -2.2h3.6v4.6h-3.6z" fill="none" stroke="#3ec0c8" stroke-opacity="0.3" stroke-width="0.6" transform="skewX(-12)"/></g>
<line x1="268.5" y1="724.7" x2="275" y2="724.7" stroke="#3ec0c8" stroke-width="0.5" opacity=".6"/>
<g transform="translate(277 730.5)" font-size="7.6" fill="#3ec0c8" stroke="#3ec0c8" stroke-width="0.35" stroke-opacity=".45" font-style="italic"><text x="0" y="2.7">&amp;&amp;/</text><path d="M13.3 -2.2h3.6v4.6h-3.6zM19 -2.2h3.6v4.6h-3.6z" fill="none" stroke="#3ec0c8" stroke-opacity="0.3" stroke-width="0.6" transform="skewX(-12)"/></g>
<line x1="268.5" y1="730.5" x2="276" y2="730.5" stroke="#3ec0c8" stroke-width="0.5" opacity=".6"/>
<g transform="translate(277 737)" font-size="7.6" fill="#3ec0c8" stroke="#3ec0c8" stroke-width="0.35" stroke-opacity=".45" font-style="italic"><text x="0" y="2.7">1</text><path d="M5.3 -2.2h3.6v4.6h-3.6z" fill="none" stroke="#3ec0c8" stroke-opacity="0.3" stroke-width="0.6" transform="skewX(-12)"/></g>
<line x1="268.5" y1="737" x2="276" y2="737" stroke="#3ec0c8" stroke-width="0.5" opacity=".6"/>
<g transform="translate(277 742.8)" font-size="7.6" fill="#3ec0c8" stroke="#3ec0c8" stroke-width="0.35" stroke-opacity=".45" font-style="italic"><text x="0" y="2.7">1</text><path d="M5.3 -2.2h3.6v4.6h-3.6zM11 -2.2h3.6v4.6h-3.6z" fill="none" stroke="#3ec0c8" stroke-opacity="0.3" stroke-width="0.6" transform="skewX(-12)"/></g>
<line x1="268.5" y1="742.8" x2="276" y2="742.8" stroke="#3ec0c8" stroke-width="0.5" opacity=".6"/>
<g transform="translate(274 750.3)" font-size="7.6" fill="#3ec0c8" stroke="#3ec0c8" stroke-width="0.35" stroke-opacity=".45" font-style="italic"><text x="0" y="2.7">/2/</text><path d="M9.5 -2.2h3.6v4.6h-3.6z" fill="none" stroke="#3ec0c8" stroke-opacity="0.3" stroke-width="0.6" transform="skewX(-12)"/></g>
<line x1="268.5" y1="750.3" x2="273" y2="750.3" stroke="#3ec0c8" stroke-width="0.5" opacity=".6"/>
<g transform="translate(274 765.1)" font-size="7.6" fill="#22a4e8" stroke="#22a4e8" stroke-width="0.35" stroke-opacity=".45" font-style="italic"><text x="0" y="2.7">0&amp;$0</text></g>
<line x1="268.5" y1="765.1" x2="273" y2="765.1" stroke="#22a4e8" stroke-width="0.5" opacity=".6"/>
<g transform="translate(274 780.8)" font-size="7.6" fill="#22a4e8" stroke="#22a4e8" stroke-width="0.35" stroke-opacity=".45" font-style="italic"><text x="0" y="2.7">,7*$</text><path d="M14.6 -2.2h3.6v4.6h-3.6z" fill="none" stroke="#22a4e8" stroke-opacity="0.3" stroke-width="0.6" transform="skewX(-12)"/></g>
<line x1="268.5" y1="780.8" x2="273" y2="780.8" stroke="#22a4e8" stroke-width="0.5" opacity=".6"/>
<g transform="translate(277 794)" font-size="7.6" fill="#c48af2" stroke="#c48af2" stroke-width="0.35" stroke-opacity=".45" font-style="italic"><text x="0" y="2.7">,/</text><path d="M5.3 -2.2h3.6v4.6h-3.6z" fill="none" stroke="#c48af2" stroke-opacity="0.3" stroke-width="0.6" transform="skewX(-12)"/></g>
<line x1="268.5" y1="794" x2="276" y2="794" stroke="#c48af2" stroke-width="0.5" opacity=".6"/>
<g transform="translate(273 800.7)" font-size="7.6" fill="#c48af2" stroke="#c48af2" stroke-width="0.35" stroke-opacity=".45" font-style="italic"><text x="0" y="2.7">&amp;</text><text x="10.8" y="2.7">&amp;/</text><path d="M6.1 -2.2h3.6v4.6h-3.6zM19 -2.2h3.6v4.6h-3.6z" fill="none" stroke="#c48af2" stroke-opacity="0.3" stroke-width="0.6" transform="skewX(-12)"/></g>
<line x1="268.5" y1="800.7" x2="272" y2="800.7" stroke="#c48af2" stroke-width="0.5" opacity=".6"/>
<g transform="translate(276 807.6)" font-size="7.6" fill="#c48af2" stroke="#c48af2" stroke-width="0.35" stroke-opacity=".45" font-style="italic"><text x="0" y="2.7">&amp;</text><path d="M6.1 -2.2h3.6v4.6h-3.6z" fill="none" stroke="#c48af2" stroke-opacity="0.3" stroke-width="0.6" transform="skewX(-12)"/></g>
<line x1="268.5" y1="807.6" x2="275" y2="807.6" stroke="#c48af2" stroke-width="0.5" opacity=".6"/>
<g transform="translate(276 813)" font-size="7.6" fill="#c48af2" stroke="#c48af2" stroke-width="0.35" stroke-opacity=".45" font-style="italic"><text x="0" y="2.7">/</text><path d="M3.2 -2.2h3.6v4.6h-3.6z" fill="none" stroke="#c48af2" stroke-opacity="0.3" stroke-width="0.6" transform="skewX(-12)"/></g>
<line x1="268.5" y1="813" x2="275" y2="813" stroke="#c48af2" stroke-width="0.5" opacity=".6"/>
<g transform="translate(275 837.8)" font-size="7.6" fill="#f070d0" stroke="#f070d0" stroke-width="0.35" stroke-opacity=".45" font-style="italic"><text x="0" y="2.7">3</text><path d="M5.3 -2.2h3.6v4.6h-3.6zM11 -2.2h3.6v4.6h-3.6zM16.7 -2.2h3.6v4.6h-3.6z" fill="none" stroke="#f070d0" stroke-opacity="0.3" stroke-width="0.6" transform="skewX(-12)"/></g>
<line x1="268.5" y1="837.8" x2="274" y2="837.8" stroke="#f070d0" stroke-width="0.5" opacity=".6"/>
<g transform="translate(276 845.2)" font-size="7.6" fill="#f070d0" stroke="#f070d0" stroke-width="0.35" stroke-opacity=".45" font-style="italic"><text x="0" y="2.7">&amp;</text><path d="M6.1 -2.2h3.6v4.6h-3.6zM11.8 -2.2h3.6v4.6h-3.6z" fill="none" stroke="#f070d0" stroke-opacity="0.3" stroke-width="0.6" transform="skewX(-12)"/></g>
<line x1="268.5" y1="845.2" x2="275" y2="845.2" stroke="#f070d0" stroke-width="0.5" opacity=".6"/>
<g transform="translate(275 851.8)" font-size="7.6" fill="#f070d0" stroke="#f070d0" stroke-width="0.35" stroke-opacity=".45" font-style="italic"><text x="0" y="2.7">&amp;</text><path d="M6.1 -2.2h3.6v4.6h-3.6zM11.8 -2.2h3.6v4.6h-3.6zM17.5 -2.2h3.6v4.6h-3.6z" fill="none" stroke="#f070d0" stroke-opacity="0.3" stroke-width="0.6" transform="skewX(-12)"/></g>
<line x1="268.5" y1="851.8" x2="274" y2="851.8" stroke="#f070d0" stroke-width="0.5" opacity=".6"/>
<g transform="translate(349.5 465.5)" font-size="15.5" fill="#000" font-weight="bold"><text x="0" y="5.6">D</text></g>
<rect x="383.3" y="534.7" width="166.7" height="169" fill="#fff" stroke="#777" stroke-width="0.8" />
<line x1="383.3" y1="555.8" x2="550" y2="555.8" stroke="#777" stroke-width="0.8" />
<g transform="translate(381 539.2)" font-size="6" fill="#999" stroke="#999" stroke-width="0.35" stroke-opacity=".45"><path d="M-3.6 -1.7h2.7v3.5h-2.7z" fill="none" stroke="#aaa" stroke-opacity="1" stroke-width="0.6"/></g>
<line x1="395.3" y1="555.8" x2="395.3" y2="548.4" stroke="#666" stroke-width="0.6" />
<path d="M407 555.8C407.7 555.6 410 555.4 411.1 554.7C412.1 554 413.8 553 413.3 551.8C412.9 550.5 409.4 548.7 408.4 547.5C407.3 546.3 406.9 545.4 407 544.3C407.1 543.3 408.2 542 409.2 541C410.3 540.1 412.2 539.2 413.3 538.6C414.4 538 415.6 537.5 416 537.3C416.4 537.1 415.6 537.1 416 537.3C416.4 537.5 417.6 538 418.7 538.6C419.8 539.2 421.7 540.1 422.8 541C423.8 542 424.9 543.3 425 544.3C425.1 545.4 424.7 546.3 423.6 547.5C422.6 548.7 419.1 550.5 418.7 551.8C418.2 553 419.9 554 420.9 554.7C422 555.4 424.3 555.6 425 555.8Z" fill="#e3191c" stroke="#444" stroke-width="0.5"/>
<line x1="436.5" y1="555.8" x2="436.5" y2="548.4" stroke="#666" stroke-width="0.6" />
<path d="M449.8 555.8C450.7 555.6 454.4 555.4 455.4 554.7C456.4 554 455.8 553.1 456 551.6C456.1 550.1 456.1 547.6 456.2 546C456.4 544.3 456.7 542.4 456.8 541.7C456.9 541 456.7 541 456.8 541.7C456.9 542.4 457.2 544.3 457.4 546C457.5 547.6 457.5 550.1 457.6 551.6C457.8 553.1 457.2 554 458.2 554.7C459.2 555.4 462.9 555.6 463.8 555.8Z" fill="#e3191c" stroke="#444" stroke-width="0.5"/>
<path d="M468 555.8C468.7 555.6 471 555.4 472.1 554.7C473.1 554.1 474.8 553 474.3 551.8C473.9 550.7 470.4 548.9 469.4 547.7C468.3 546.5 467.9 545.7 468 544.6C468.1 543.5 469.2 542.3 470.2 541.3C471.3 540.4 473.2 539.6 474.3 539C475.4 538.4 476.6 537.9 477 537.7C477.4 537.5 476.6 537.5 477 537.7C477.4 537.9 478.6 538.4 479.7 539C480.8 539.6 482.7 540.4 483.8 541.3C484.8 542.3 485.9 543.5 486 544.6C486.1 545.7 485.7 546.5 484.6 547.7C483.6 548.9 480.1 550.7 479.7 551.8C479.2 553 480.9 554.1 481.9 554.7C483 555.4 485.3 555.6 486 555.8Z" fill="#e3191c" stroke="#444" stroke-width="0.5"/>
<path d="M487.8 555.8C488.5 555.6 491 555.4 492.1 554.6C493.2 553.9 494.9 552.7 494.4 551.4C494 550.1 490.3 548.1 489.2 546.8C488.1 545.4 487.6 544.5 487.8 543.3C488 542.2 489.1 540.8 490.2 539.7C491.3 538.7 493.3 537.8 494.4 537.1C495.6 536.4 496.8 535.9 497.3 535.7C497.8 535.5 496.8 535.5 497.3 535.7C497.8 535.9 499 536.4 500.2 537.1C501.3 537.8 503.3 538.7 504.4 539.7C505.5 540.8 506.6 542.2 506.8 543.3C507 544.5 506.5 545.4 505.4 546.8C504.3 548.1 500.6 550.1 500.2 551.4C499.7 552.7 501.4 553.9 502.5 554.6C503.6 555.4 506.1 555.6 506.8 555.8Z" fill="#e3191c" stroke="#444" stroke-width="0.5"/>
<path d="M508.3 555.8C508.5 555.5 509 554.7 509.6 553.9C510.3 553 511.5 551.5 512.3 550.6C513.2 549.7 514.1 549.3 514.6 548.6C515.1 548 515.3 547.3 515.5 546.7C515.7 546 515.4 545.4 515.7 544.7C516 544.1 517 543.1 517.3 542.7C517.6 542.4 517 542.4 517.3 542.7C517.6 543.1 518.6 544.1 518.9 544.7C519.2 545.4 518.9 546 519.1 546.7C519.3 547.3 519.5 548 520 548.6C520.5 549.3 521.4 549.7 522.2 550.6C523.1 551.5 524.3 553 524.9 553.9C525.6 554.7 526.1 555.5 526.3 555.8Z" fill="#e3191c" stroke="#444" stroke-width="0.5"/>
<path d="M530 555.8C530.5 555.6 532.1 554.8 533.2 554.3C534.3 553.8 535.8 553.4 536.4 552.8C537 552.2 536.5 551.3 536.8 550.8C537.1 550.3 537.8 550 538 549.8C538.2 549.6 537.8 549.6 538 549.8C538.2 550 538.9 550.3 539.2 550.8C539.5 551.3 539 552.2 539.6 552.8C540.2 553.4 541.7 553.8 542.8 554.3C543.9 554.8 545.5 555.6 546 555.8Z" fill="#e3191c" stroke="#444" stroke-width="0.5"/>
<line x1="381.8" y1="555.8" x2="383.3" y2="555.8" stroke="#888" stroke-width="0.5" />
<line x1="381.8" y1="550.5" x2="383.3" y2="550.5" stroke="#888" stroke-width="0.5" />
<line x1="381.8" y1="545.3" x2="383.3" y2="545.3" stroke="#888" stroke-width="0.5" />
<line x1="381.8" y1="540" x2="383.3" y2="540" stroke="#888" stroke-width="0.5" />
<line x1="383.3" y1="577" x2="550" y2="577" stroke="#777" stroke-width="0.8" />
<g transform="translate(381 560.3)" font-size="6" fill="#999" stroke="#999" stroke-width="0.35" stroke-opacity=".45"><path d="M-3.6 -1.7h2.7v3.5h-2.7z" fill="none" stroke="#aaa" stroke-opacity="1" stroke-width="0.6"/></g>
<line x1="395.3" y1="577" x2="395.3" y2="569.6" stroke="#666" stroke-width="0.6" />
<path d="M407 577C407.9 576.6 411.3 575.8 412.4 575C413.4 574.2 414.2 573.4 413.3 572.2C412.4 570.9 407.1 569.1 407 567.4C406.9 565.6 411.4 563.2 412.9 561.7C414.4 560.1 415.5 558.5 416 557.8C416.5 557.2 415.5 557.2 416 557.8C416.5 558.5 417.6 560.1 419.1 561.7C420.6 563.2 425.1 565.6 425 567.4C424.9 569.1 419.6 570.9 418.7 572.2C417.8 573.4 418.6 574.2 419.6 575C420.7 575.8 424.1 576.6 425 577Z" fill="#1b7a2f" stroke="#444" stroke-width="0.5"/>
<line x1="436.5" y1="577" x2="436.5" y2="569.6" stroke="#666" stroke-width="0.6" />
<path d="M448.8 577C449.7 576.7 453.3 576.4 454 575.2C454.7 574.1 452.7 571.8 452.8 570.1C452.9 568.4 453.7 566.7 454.4 565C455.1 563.3 456.4 560.7 456.8 559.8C457.2 559 456.4 559 456.8 559.8C457.2 560.7 458.5 563.3 459.2 565C459.9 566.7 460.7 568.4 460.8 570.1C460.9 571.8 458.9 574.1 459.6 575.2C460.3 576.4 463.9 576.7 464.8 577Z" fill="#1b7a2f" stroke="#444" stroke-width="0.5"/>
<path d="M468.5 577C469.4 576.6 473.3 576.3 474 575.1C474.7 573.9 472.7 571.5 472.8 569.7C472.8 567.9 473.7 566.1 474.4 564.3C475.2 562.5 476.6 559.7 477 558.8C477.4 557.9 476.6 557.9 477 558.8C477.4 559.7 478.8 562.5 479.6 564.3C480.3 566.1 481.2 567.9 481.2 569.7C481.3 571.5 479.3 573.9 480 575.1C480.7 576.3 484.6 576.6 485.5 577Z" fill="#1b7a2f" stroke="#444" stroke-width="0.5"/>
<line x1="497.3" y1="577" x2="497.3" y2="569.6" stroke="#666" stroke-width="0.6" />
<path d="M508.8 577C508.9 576.4 509.2 575.1 509.6 573.9C510.1 572.8 510.6 571.2 511.3 570.2C512.1 569.1 513.1 568.3 513.9 567.6C514.7 566.9 515.6 566.7 516 566.1C516.4 565.4 516.1 564.4 516.3 563.7C516.5 563 517.1 562.2 517.3 561.9C517.5 561.6 517.1 561.6 517.3 561.9C517.5 562.2 518.1 563 518.3 563.7C518.5 564.4 518.2 565.4 518.6 566.1C519 566.7 519.9 566.9 520.7 567.6C521.5 568.3 522.5 569.1 523.2 570.2C524 571.2 524.5 572.8 524.9 573.9C525.4 575.1 525.7 576.4 525.8 577Z" fill="#1b7a2f" stroke="#444" stroke-width="0.5"/>
<line x1="538" y1="577" x2="538" y2="569.6" stroke="#666" stroke-width="0.6" />
<line x1="381.8" y1="577" x2="383.3" y2="577" stroke="#888" stroke-width="0.5" />
<line x1="381.8" y1="571.7" x2="383.3" y2="571.7" stroke="#888" stroke-width="0.5" />
<line x1="381.8" y1="566.4" x2="383.3" y2="566.4" stroke="#888" stroke-width="0.5" />
<line x1="381.8" y1="561.1" x2="383.3" y2="561.1" stroke="#888" stroke-width="0.5" />
<line x1="383.3" y1="598.1" x2="550" y2="598.1" stroke="#777" stroke-width="0.8" />
<g transform="translate(381 581.5)" font-size="6" fill="#999" stroke="#999" stroke-width="0.35" stroke-opacity=".45"><path d="M-3.6 -1.7h2.7v3.5h-2.7z" fill="none" stroke="#aaa" stroke-opacity="1" stroke-width="0.6"/></g>
<line x1="395.3" y1="598.1" x2="395.3" y2="590.7" stroke="#666" stroke-width="0.6" />
<line x1="416" y1="598.1" x2="416" y2="590.7" stroke="#666" stroke-width="0.6" />
<line x1="436.5" y1="598.1" x2="436.5" y2="590.7" stroke="#666" stroke-width="0.6" />
<line x1="456.8" y1="598.1" x2="456.8" y2="590.7" stroke="#666" stroke-width="0.6" />
<line x1="477" y1="598.1" x2="477" y2="590.7" stroke="#666" stroke-width="0.6" />
<path d="M488.8 598.1C489.7 597.8 492.9 597 493.9 596.2C494.9 595.4 495.6 594.6 494.8 593.3C493.9 592 488.9 590.3 488.8 588.5C488.7 586.8 492.9 584.4 494.3 582.8C495.7 581.2 496.8 579.6 497.3 579C497.8 578.3 496.8 578.3 497.3 579C497.8 579.6 498.9 581.2 500.3 582.8C501.7 584.4 505.9 586.8 505.8 588.5C505.7 590.3 500.7 592 499.9 593.3C499 594.6 499.7 595.4 500.7 596.2C501.7 597 504.9 597.8 505.8 598.1Z" fill="#fde325" stroke="#444" stroke-width="0.5"/>
<line x1="517.3" y1="598.1" x2="517.3" y2="590.7" stroke="#666" stroke-width="0.6" />
<line x1="538" y1="598.1" x2="538" y2="590.7" stroke="#666" stroke-width="0.6" />
<line x1="381.8" y1="598.1" x2="383.3" y2="598.1" stroke="#888" stroke-width="0.5" />
<line x1="381.8" y1="592.8" x2="383.3" y2="592.8" stroke="#888" stroke-width="0.5" />
<line x1="381.8" y1="587.5" x2="383.3" y2="587.5" stroke="#888" stroke-width="0.5" />
<line x1="381.8" y1="582.2" x2="383.3" y2="582.2" stroke="#888" stroke-width="0.5" />
<line x1="383.3" y1="619.2" x2="550" y2="619.2" stroke="#777" stroke-width="0.8" />
<g transform="translate(381 602.6)" font-size="6" fill="#999" stroke="#999" stroke-width="0.35" stroke-opacity=".45"><path d="M-3.6 -1.7h2.7v3.5h-2.7z" fill="none" stroke="#aaa" stroke-opacity="1" stroke-width="0.6"/></g>
<path d="M386.3 619.2C387.2 618.9 390.6 618.3 391.7 617.6C392.8 616.9 393.5 616.2 392.6 615.2C391.7 614.1 386.4 612.6 386.3 611.2C386.2 609.7 390.7 607.7 392.2 606.3C393.7 605 394.8 603.6 395.3 603.1C395.8 602.6 394.8 602.6 395.3 603.1C395.8 603.6 396.9 605 398.4 606.3C399.9 607.7 404.4 609.7 404.3 611.2C404.2 612.6 398.9 614.1 398 615.2C397.1 616.2 397.9 616.9 398.9 617.6C400 618.3 403.4 618.9 404.3 619.2Z" fill="#88c9ec" stroke="#444" stroke-width="0.5"/>
<line x1="416" y1="619.2" x2="416" y2="611.8" stroke="#666" stroke-width="0.6" />
<line x1="436.5" y1="619.2" x2="436.5" y2="611.8" stroke="#666" stroke-width="0.6" />
<path d="M448.8 619.2C449.7 618.9 453.3 618.7 454 617.6C454.7 616.5 452.7 614.4 452.8 612.8C452.9 611.1 453.7 609.5 454.4 607.9C455.1 606.3 456.4 603.9 456.8 603.1C457.2 602.3 456.4 602.3 456.8 603.1C457.2 603.9 458.5 606.3 459.2 607.9C459.9 609.5 460.7 611.1 460.8 612.8C460.9 614.4 458.9 616.5 459.6 617.6C460.3 618.7 463.9 618.9 464.8 619.2Z" fill="#88c9ec" stroke="#444" stroke-width="0.5"/>
<line x1="477" y1="619.2" x2="477" y2="611.8" stroke="#666" stroke-width="0.6" />
<line x1="497.3" y1="619.2" x2="497.3" y2="611.8" stroke="#666" stroke-width="0.6" />
<path d="M509.3 619.2C509.6 619 510.4 618.7 511.3 617.9C512.2 617.1 514.2 615.6 514.5 614.4C514.8 613.1 513.2 611.6 512.9 610.3C512.6 609.1 512.2 608.1 512.5 607.1C512.8 606.2 513.7 605.4 514.5 604.7C515.3 604 516.8 603.4 517.3 603.1C517.8 602.8 516.8 602.8 517.3 603.1C517.8 603.4 519.3 604 520.1 604.7C520.9 605.4 521.8 606.2 522.1 607.1C522.4 608.1 522 609.1 521.7 610.3C521.4 611.6 519.8 613.1 520.1 614.4C520.4 615.6 522.4 617.1 523.3 617.9C524.2 618.7 525 619 525.3 619.2Z" fill="#88c9ec" stroke="#444" stroke-width="0.5"/>
<path d="M528.5 619.2C529.2 619 531.7 618.7 532.8 618C533.9 617.3 535.6 616.1 535.1 614.8C534.7 613.5 531 611.5 529.9 610.1C528.8 608.8 528.3 607.9 528.5 606.7C528.7 605.5 529.8 604.1 530.9 603.1C532 602.1 534 601.2 535.1 600.5C536.3 599.8 537.5 599.3 538 599.1C538.5 598.8 537.5 598.8 538 599.1C538.5 599.3 539.7 599.8 540.9 600.5C542 601.2 544 602.1 545.1 603.1C546.2 604.1 547.3 605.5 547.5 606.7C547.7 607.9 547.2 608.8 546.1 610.1C545 611.5 541.3 613.5 540.9 614.8C540.4 616.1 542.1 617.3 543.2 618C544.3 618.7 546.8 619 547.5 619.2Z" fill="#88c9ec" stroke="#444" stroke-width="0.5"/>
<line x1="381.8" y1="619.2" x2="383.3" y2="619.2" stroke="#888" stroke-width="0.5" />
<line x1="381.8" y1="613.9" x2="383.3" y2="613.9" stroke="#888" stroke-width="0.5" />
<line x1="381.8" y1="608.6" x2="383.3" y2="608.6" stroke="#888" stroke-width="0.5" />
<line x1="381.8" y1="603.4" x2="383.3" y2="603.4" stroke="#888" stroke-width="0.5" />
<line x1="383.3" y1="640.3" x2="550" y2="640.3" stroke="#777" stroke-width="0.8" />
<g transform="translate(381 623.7)" font-size="6" fill="#999" stroke="#999" stroke-width="0.35" stroke-opacity=".45"><path d="M-3.6 -1.7h2.7v3.5h-2.7z" fill="none" stroke="#aaa" stroke-opacity="1" stroke-width="0.6"/></g>
<path d="M386.3 640.3C387.5 640.1 392.2 639.7 393.5 638.7C394.8 637.7 394 636.4 394.2 634.3C394.4 632.2 394.4 628.6 394.6 626.2C394.8 623.9 395.2 621.2 395.3 620.2C395.4 619.2 395.2 619.2 395.3 620.2C395.4 621.2 395.8 623.9 396 626.2C396.2 628.6 396.2 632.2 396.4 634.3C396.6 636.4 395.8 637.7 397.1 638.7C398.4 639.7 403.1 640.1 404.3 640.3Z" fill="#d257b5" stroke="#444" stroke-width="0.5"/>
<line x1="416" y1="640.3" x2="416" y2="632.9" stroke="#666" stroke-width="0.6" />
<line x1="436.5" y1="640.3" x2="436.5" y2="632.9" stroke="#666" stroke-width="0.6" />
<line x1="456.8" y1="640.3" x2="456.8" y2="632.9" stroke="#666" stroke-width="0.6" />
<line x1="477" y1="640.3" x2="477" y2="632.9" stroke="#666" stroke-width="0.6" />
<line x1="497.3" y1="640.3" x2="497.3" y2="632.9" stroke="#666" stroke-width="0.6" />
<line x1="517.3" y1="640.3" x2="517.3" y2="632.9" stroke="#666" stroke-width="0.6" />
<path d="M536.1 640.3C536 640 536.6 639.3 535.6 638.3C534.7 637.3 531.6 635.8 530.4 634.3C529.2 632.8 528.5 630.9 528.5 629.3C528.5 627.6 528.8 625.7 530.4 624.2C532 622.7 536.7 620.9 538 620.2C539.3 619.5 536.7 619.5 538 620.2C539.3 620.9 544 622.7 545.6 624.2C547.2 625.7 547.5 627.6 547.5 629.3C547.5 630.9 546.8 632.8 545.6 634.3C544.4 635.8 541.3 637.3 540.4 638.3C539.4 639.3 540 640 539.9 640.3Z" fill="#d257b5" stroke="#444" stroke-width="0.5"/>
<line x1="381.8" y1="640.3" x2="383.3" y2="640.3" stroke="#888" stroke-width="0.5" />
<line x1="381.8" y1="635" x2="383.3" y2="635" stroke="#888" stroke-width="0.5" />
<line x1="381.8" y1="629.8" x2="383.3" y2="629.8" stroke="#888" stroke-width="0.5" />
<line x1="381.8" y1="624.5" x2="383.3" y2="624.5" stroke="#888" stroke-width="0.5" />
<line x1="383.3" y1="661.5" x2="550" y2="661.5" stroke="#777" stroke-width="0.8" />
<g transform="translate(381 644.8)" font-size="6" fill="#999" stroke="#999" stroke-width="0.35" stroke-opacity=".45"><path d="M-3.6 -1.7h2.7v3.5h-2.7z" fill="none" stroke="#aaa" stroke-opacity="1" stroke-width="0.6"/></g>
<path d="M385.8 661.5C386.8 661.1 390.4 660.3 391.5 659.5C392.6 658.7 393.4 657.9 392.4 656.7C391.5 655.4 385.9 653.6 385.8 651.9C385.7 650.1 390.4 647.7 392 646.2C393.6 644.6 394.7 643 395.3 642.3C395.9 641.7 394.7 641.7 395.3 642.3C395.9 643 397 644.6 398.6 646.2C400.2 647.7 404.9 650.1 404.8 651.9C404.7 653.6 399.1 655.4 398.2 656.7C397.2 657.9 398 658.7 399.1 659.5C400.2 660.3 403.9 661.1 404.8 661.5Z" fill="#92cf45" stroke="#444" stroke-width="0.5"/>
<path d="M409 661.5C409.9 661.4 413.6 661.3 414.6 661C415.6 660.7 415 660.3 415.2 659.6C415.3 659 415.3 657.9 415.4 657.2C415.6 656.5 415.9 655.7 416 655.4C416.1 655.1 415.9 655.1 416 655.4C416.1 655.7 416.4 656.5 416.6 657.2C416.7 657.9 416.7 659 416.8 659.6C417 660.3 416.4 660.7 417.4 661C418.4 661.3 422.1 661.4 423 661.5Z" fill="#92cf45" stroke="#444" stroke-width="0.5"/>
<line x1="436.5" y1="661.5" x2="436.5" y2="654.1" stroke="#666" stroke-width="0.6" />
<path d="M447.3 661.5C448.2 661.1 451.9 660.3 453 659.5C454.1 658.7 454.9 657.9 453.9 656.7C453 655.4 447.4 653.6 447.3 651.9C447.2 650.1 451.9 647.7 453.5 646.2C455.1 644.6 456.2 643 456.8 642.3C457.4 641.7 456.2 641.7 456.8 642.3C457.4 643 458.5 644.6 460.1 646.2C461.7 647.7 466.4 650.1 466.3 651.9C466.2 653.6 460.6 655.4 459.7 656.7C458.7 657.9 459.5 658.7 460.6 659.5C461.7 660.3 465.4 661.1 466.3 661.5Z" fill="#92cf45" stroke="#444" stroke-width="0.5"/>
<path d="M470 661.5C470.9 661.4 474.6 661.2 475.6 660.9C476.6 660.5 476 660.1 476.2 659.3C476.3 658.6 476.3 657.3 476.4 656.5C476.6 655.7 476.9 654.8 477 654.4C477.1 654.1 476.9 654.1 477 654.4C477.1 654.8 477.4 655.7 477.6 656.5C477.7 657.3 477.7 658.6 477.8 659.3C478 660.1 477.4 660.5 478.4 660.9C479.4 661.2 483.1 661.4 484 661.5Z" fill="#92cf45" stroke="#444" stroke-width="0.5"/>
<path d="M489.3 661.5C490.2 661.2 493.8 660.9 494.5 659.9C495.2 658.9 493.2 656.9 493.3 655.4C493.4 653.9 494.2 652.4 494.9 650.9C495.6 649.4 496.9 647.1 497.3 646.4C497.7 645.6 496.9 645.6 497.3 646.4C497.7 647.1 499 649.4 499.7 650.9C500.4 652.4 501.2 653.9 501.3 655.4C501.4 656.9 499.4 658.9 500.1 659.9C500.8 660.9 504.4 661.2 505.3 661.5Z" fill="#92cf45" stroke="#444" stroke-width="0.5"/>
<path d="M507.8 661.5C508.7 661.2 512.4 660.5 513.5 659.7C514.6 659 515.4 658.3 514.4 657.2C513.5 656 507.9 654.5 507.8 652.9C507.7 651.3 512.4 649.2 514 647.8C515.6 646.3 516.7 644.9 517.3 644.3C517.9 643.8 516.7 643.8 517.3 644.3C517.9 644.9 519 646.3 520.6 647.8C522.2 649.2 526.9 651.3 526.8 652.9C526.7 654.5 521.1 656 520.1 657.2C519.2 658.3 520 659 521.1 659.7C522.2 660.5 525.8 661.2 526.8 661.5Z" fill="#92cf45" stroke="#444" stroke-width="0.5"/>
<path d="M529 661.5C529.9 661.2 533.4 660.6 534.4 659.9C535.4 659.3 536.2 658.7 535.3 657.7C534.4 656.7 529.1 655.3 529 653.9C528.9 652.5 533.4 650.6 534.9 649.4C536.4 648.1 537.5 646.9 538 646.4C538.5 645.9 537.5 645.9 538 646.4C538.5 646.9 539.6 648.1 541.1 649.4C542.6 650.6 547.1 652.5 547 653.9C546.9 655.3 541.6 656.7 540.7 657.7C539.8 658.7 540.6 659.3 541.6 659.9C542.6 660.6 546.1 661.2 547 661.5Z" fill="#92cf45" stroke="#444" stroke-width="0.5"/>
<line x1="381.8" y1="661.5" x2="383.3" y2="661.5" stroke="#888" stroke-width="0.5" />
<line x1="381.8" y1="656.2" x2="383.3" y2="656.2" stroke="#888" stroke-width="0.5" />
<line x1="381.8" y1="650.9" x2="383.3" y2="650.9" stroke="#888" stroke-width="0.5" />
<line x1="381.8" y1="645.6" x2="383.3" y2="645.6" stroke="#888" stroke-width="0.5" />
<line x1="383.3" y1="682.6" x2="550" y2="682.6" stroke="#777" stroke-width="0.8" />
<g transform="translate(381 666)" font-size="6" fill="#999" stroke="#999" stroke-width="0.35" stroke-opacity=".45"><path d="M-3.6 -1.7h2.7v3.5h-2.7z" fill="none" stroke="#aaa" stroke-opacity="1" stroke-width="0.6"/></g>
<path d="M386.8 682.6C387.7 682.3 390.9 681.6 391.9 680.9C392.9 680.2 393.6 679.4 392.8 678.3C391.9 677.2 386.9 675.6 386.8 674C386.7 672.5 390.9 670.3 392.3 668.9C393.7 667.5 394.8 666 395.3 665.5C395.8 664.9 394.8 664.9 395.3 665.5C395.8 666 396.9 667.5 398.3 668.9C399.7 670.3 403.9 672.5 403.8 674C403.7 675.6 398.7 677.2 397.9 678.3C397 679.4 397.7 680.2 398.7 680.9C399.7 681.6 402.9 682.3 403.8 682.6Z" fill="#2b87c8" stroke="#444" stroke-width="0.5"/>
<line x1="416" y1="682.6" x2="416" y2="675.2" stroke="#666" stroke-width="0.6" />
<line x1="436.5" y1="682.6" x2="436.5" y2="675.2" stroke="#666" stroke-width="0.6" />
<path d="M448.3 682.6C449.2 682.3 452.4 681.6 453.4 680.9C454.4 680.2 455.1 679.4 454.2 678.3C453.4 677.2 448.4 675.6 448.3 674C448.2 672.5 452.4 670.3 453.8 668.9C455.2 667.5 456.3 666 456.8 665.5C457.3 664.9 456.3 664.9 456.8 665.5C457.3 666 458.4 667.5 459.8 668.9C461.2 670.3 465.4 672.5 465.3 674C465.2 675.6 460.2 677.2 459.4 678.3C458.5 679.4 459.2 680.2 460.2 680.9C461.2 681.6 464.4 682.3 465.3 682.6Z" fill="#2b87c8" stroke="#444" stroke-width="0.5"/>
<path d="M472 682.6C472.7 682.4 475.3 682.3 476 681.8C476.7 681.3 476.3 680.6 476.4 679.6C476.5 678.5 476.5 676.7 476.6 675.5C476.7 674.4 476.9 673 477 672.5C477.1 672 476.9 672 477 672.5C477.1 673 477.3 674.4 477.4 675.5C477.5 676.7 477.5 678.5 477.6 679.6C477.7 680.6 477.3 681.3 478 681.8C478.7 682.3 481.3 682.4 482 682.6Z" fill="#2b87c8" stroke="#444" stroke-width="0.5"/>
<line x1="497.3" y1="682.6" x2="497.3" y2="675.2" stroke="#666" stroke-width="0.6" />
<path d="M508.8 682.6C509.2 682.3 510 682 510.9 681.1C511.8 680.2 514 678.6 514.3 677.1C514.6 675.7 513 674 512.6 672.6C512.3 671.3 511.9 670 512.2 669C512.5 667.9 513.5 667 514.3 666.3C515.2 665.5 516.8 664.8 517.3 664.5C517.8 664.2 516.8 664.2 517.3 664.5C517.8 664.8 519.4 665.5 520.3 666.3C521.1 667 522.1 667.9 522.4 669C522.7 670 522.3 671.3 522 672.6C521.6 674 520 675.7 520.3 677.1C520.6 678.6 522.8 680.2 523.7 681.1C524.6 682 525.4 682.3 525.8 682.6Z" fill="#2b87c8" stroke="#444" stroke-width="0.5"/>
<path d="M528.5 682.6C529.5 682.3 533.1 681.6 534.2 681C535.3 680.3 536.1 679.6 535.1 678.6C534.2 677.5 528.6 676 528.5 674.5C528.4 673 533.1 671 534.7 669.7C536.3 668.4 537.4 667 538 666.5C538.6 665.9 537.4 665.9 538 666.5C538.6 667 539.7 668.4 541.3 669.7C542.9 671 547.6 673 547.5 674.5C547.4 676 541.8 677.5 540.9 678.6C539.9 679.6 540.7 680.3 541.8 681C542.9 681.6 546.5 682.3 547.5 682.6Z" fill="#2b87c8" stroke="#444" stroke-width="0.5"/>
<line x1="381.8" y1="682.6" x2="383.3" y2="682.6" stroke="#888" stroke-width="0.5" />
<line x1="381.8" y1="677.3" x2="383.3" y2="677.3" stroke="#888" stroke-width="0.5" />
<line x1="381.8" y1="672" x2="383.3" y2="672" stroke="#888" stroke-width="0.5" />
<line x1="381.8" y1="666.7" x2="383.3" y2="666.7" stroke="#888" stroke-width="0.5" />
<g transform="translate(381 687.1)" font-size="6" fill="#999" stroke="#999" stroke-width="0.35" stroke-opacity=".45"><path d="M-3.6 -1.7h2.7v3.5h-2.7z" fill="none" stroke="#aaa" stroke-opacity="1" stroke-width="0.6"/></g>
<path d="M387.3 703.7C388.4 703.4 392.5 703.1 393.7 702.1C394.9 701.1 394.2 699.7 394.3 697.7C394.5 695.6 394.5 692 394.7 689.6C394.8 687.3 395.2 684.6 395.3 683.6C395.4 682.6 395.2 682.6 395.3 683.6C395.4 684.6 395.8 687.3 395.9 689.6C396.1 692 396.1 695.6 396.3 697.7C396.4 699.7 395.7 701.1 396.9 702.1C398.1 703.1 402.2 703.4 403.3 703.7Z" fill="#2b2a8c" stroke="#444" stroke-width="0.5"/>
<line x1="416" y1="703.7" x2="416" y2="682.6" stroke="#666" stroke-width="0.6" />
<line x1="436.5" y1="703.7" x2="436.5" y2="682.6" stroke="#666" stroke-width="0.6" />
<line x1="456.8" y1="703.7" x2="456.8" y2="682.6" stroke="#666" stroke-width="0.6" />
<line x1="477" y1="703.7" x2="477" y2="682.6" stroke="#666" stroke-width="0.6" />
<line x1="497.3" y1="703.7" x2="497.3" y2="682.6" stroke="#666" stroke-width="0.6" />
<path d="M512.1 703.7C511.8 703.2 510.9 702.4 510.2 700.7C509.5 699 508 696 507.8 693.6C507.6 691.3 508.2 688.3 508.7 686.6C509.3 684.9 508.7 684.1 511.1 683.6C513.6 683.1 521 683.1 523.5 683.6C525.9 684.1 525.3 684.9 525.8 686.6C526.4 688.3 527 691.3 526.8 693.6C526.6 696 525.1 699 524.4 700.7C523.7 702.4 522.8 703.2 522.5 703.7Z" fill="#2b2a8c" stroke="#444" stroke-width="0.5"/>
<line x1="538" y1="703.7" x2="538" y2="682.6" stroke="#666" stroke-width="0.6" />
<line x1="381.8" y1="703.7" x2="383.3" y2="703.7" stroke="#888" stroke-width="0.5" />
<line x1="381.8" y1="698.4" x2="383.3" y2="698.4" stroke="#888" stroke-width="0.5" />
<line x1="381.8" y1="693.1" x2="383.3" y2="693.1" stroke="#888" stroke-width="0.5" />
<line x1="381.8" y1="687.9" x2="383.3" y2="687.9" stroke="#888" stroke-width="0.5" />
<line x1="436.5" y1="534.7" x2="436.5" y2="703.7" stroke="#666" stroke-width="0.8" />
<g transform="translate(552.5 545.3)" font-size="8" fill="#111" font-weight="bold" font-style="italic"><text x="0" y="2.9">$&amp;7$</text><path d="M20.2 -2.3h3.8v4.9h-3.8z" fill="none" stroke="#bbb" stroke-opacity="1" stroke-width="0.6" transform="skewX(-12)"/></g>
<g transform="translate(552.5 566.4)" font-size="8" fill="#111" font-weight="bold" font-style="italic"><text x="0" y="2.9">)$</text><text x="13.1" y="2.9">3</text><path d="M8.2 -2.3h3.8v4.9h-3.8z" fill="none" stroke="#bbb" stroke-opacity="1" stroke-width="0.6" transform="skewX(-12)"/></g>
<g transform="translate(552.5 587.5)" font-size="8" fill="#111" font-weight="bold" font-style="italic"><text x="0" y="2.9">0&amp;$0</text></g>
<g transform="translate(552.5 608.6)" font-size="8" fill="#111" font-weight="bold" font-style="italic"><text x="0" y="2.9">&amp;'</text><path d="M8.8 -2.3h3.8v4.9h-3.8zM14.8 -2.3h3.8v4.9h-3.8z" fill="none" stroke="#bbb" stroke-opacity="1" stroke-width="0.6" transform="skewX(-12)"/></g>
<g transform="translate(552.5 629.8)" font-size="8" fill="#111" font-weight="bold" font-style="italic"><text x="0" y="2.9">6&amp;$55$</text><path d="M29.1 -2.3h3.8v4.9h-3.8z" fill="none" stroke="#bbb" stroke-opacity="1" stroke-width="0.6" transform="skewX(-12)"/></g>
<g transform="translate(552.5 650.9)" font-size="8" fill="#111" font-weight="bold" font-style="italic"><text x="0" y="2.9">0&lt;</text><text x="15.1" y="2.9">&amp;</text><path d="M10.2 -2.3h3.8v4.9h-3.8z" fill="none" stroke="#bbb" stroke-opacity="1" stroke-width="0.6" transform="skewX(-12)"/></g>
<g transform="translate(552.5 672)" font-size="8" fill="#111" font-weight="bold" font-style="italic"><text x="0" y="2.9">3/,1</text><path d="M14.4 -2.3h3.8v4.9h-3.8z" fill="none" stroke="#bbb" stroke-opacity="1" stroke-width="0.6" transform="skewX(-12)"/></g>
<g transform="translate(552.5 693.1)" font-size="8" fill="#111" font-weight="bold" font-style="italic"><text x="0" y="2.9">&amp;;&amp;/</text><path d="M17.5 -2.3h3.8v4.9h-3.8zM23.5 -2.3h3.8v4.9h-3.8z" fill="none" stroke="#bbb" stroke-opacity="1" stroke-width="0.6" transform="skewX(-12)"/></g>
<g transform="translate(369.4 602) rotate(-90)" font-size="8" fill="#222" stroke="#222" stroke-width="0.35" stroke-opacity=".45"><text x="-40.1" y="2.9">([SUHVVLRQ</text><text x="14.8" y="2.9">/HYHO</text><path d="M9.9 -2.3h3.8v4.9h-3.8z" fill="none" stroke="#bbb" stroke-opacity="1" stroke-width="0.6"/></g>
<g transform="translate(401.3 702) rotate(-60) scale(0.851 1)" font-size="8.4" fill="#222" stroke="#222" stroke-width="0.35" stroke-opacity=".45"><text x="-122.3" y="0">&amp;'</text><text x="-96.2" y="0">0&lt;&amp;</text><text x="-74.7" y="0">ILEUREODVWV</text><path d="M-113.9 -5.5h4v5.2h-4zM-107.6 -5.5h4v5.2h-4zM-101.3 -5.5h4v5.2h-4zM-79.8 -5.5h4v5.2h-4zM-11.5 -5.5h4v5.2h-4zM-5.2 -5.5h4v5.2h-4z" fill="none" stroke="#c8c8c8" stroke-opacity="1" stroke-width="0.6"/></g>
<g transform="translate(422 702) rotate(-60) scale(0.999 1)" font-size="8.4" fill="#222" stroke="#222" stroke-width="0.35" stroke-opacity=".45"><text x="-104.1" y="0">'HVPRSODVWLF</text><text x="-31.3" y="0">&amp;$)V</text><path d="M-36.4 -5.5h4v5.2h-4zM-11.5 -5.5h4v5.2h-4zM-5.2 -5.5h4v5.2h-4z" fill="none" stroke="#c8c8c8" stroke-opacity="1" stroke-width="0.6"/></g>
<g transform="translate(442.5 702) rotate(-60) scale(0.980 1)" font-size="8.4" fill="#222" stroke="#222" stroke-width="0.35" stroke-opacity=".45"><text x="-79.6" y="0">8QGHWHUPLQHG</text><path d="M-5.2 -5.5h4v5.2h-4z" fill="none" stroke="#c8c8c8" stroke-opacity="1" stroke-width="0.6"/></g>
<g transform="translate(462.8 702) rotate(-60) scale(0.814 1)" font-size="8.4" fill="#222" stroke="#222" stroke-width="0.35" stroke-opacity=".45"><text x="-93.4" y="0">/LSRILEUREODVWV</text><path d="M-11.5 -5.5h4v5.2h-4zM-5.2 -5.5h4v5.2h-4z" fill="none" stroke="#c8c8c8" stroke-opacity="1" stroke-width="0.6"/></g>
<g transform="translate(483 702) rotate(-60) scale(0.787 1)" font-size="8.4" fill="#222" stroke="#222" stroke-width="0.35" stroke-opacity=".45"><text x="-116.9" y="0">0\RILEUREODVWLF</text><text x="-31.3" y="0">&amp;$)V</text><path d="M-36.4 -5.5h4v5.2h-4zM-11.5 -5.5h4v5.2h-4zM-5.2 -5.5h4v5.2h-4z" fill="none" stroke="#c8c8c8" stroke-opacity="1" stroke-width="0.6"/></g>
<g transform="translate(503.3 702) rotate(-60) scale(0.803 1)" font-size="8.4" fill="#222" stroke="#222" stroke-width="0.35" stroke-opacity=".45"><text x="-115.8" y="0">3HULF\WHV</text><text x="-60.9" y="0">OLNH</text><text x="-31.3" y="0">&amp;$)V</text><path d="M-66.1 -5.5h4v5.2h-4zM-36.4 -5.5h4v5.2h-4zM-11.5 -5.5h4v5.2h-4zM-5.2 -5.5h4v5.2h-4z" fill="none" stroke="#c8c8c8" stroke-opacity="1" stroke-width="0.6"/></g>
<g transform="translate(523.3 702) rotate(-60) scale(0.881 1)" font-size="8.4" fill="#222" stroke="#222" stroke-width="0.35" stroke-opacity=".45"><text x="-101" y="0">,QIODPPDWRU\</text><text x="-31.3" y="0">&amp;$)V</text><path d="M-36.4 -5.5h4v5.2h-4zM-11.5 -5.5h4v5.2h-4zM-5.2 -5.5h4v5.2h-4z" fill="none" stroke="#c8c8c8" stroke-opacity="1" stroke-width="0.6"/></g>
<g transform="translate(544 702) rotate(-60) scale(0.655 1)" font-size="8.4" fill="#222" stroke="#222" stroke-width="0.35" stroke-opacity=".45"><text x="-148.2" y="0">$GYHQWLWLDO</text><text x="-74.7" y="0">ILEUREODVWV</text><path d="M-79.8 -5.5h4v5.2h-4zM-11.5 -5.5h4v5.2h-4zM-5.2 -5.5h4v5.2h-4z" fill="none" stroke="#c8c8c8" stroke-opacity="1" stroke-width="0.6"/></g>
<g transform="translate(420 797)" font-size="8.5" fill="#222" stroke="#222" stroke-width="0.35" stroke-opacity=".45"><text x="0" y="3.1">&amp;$)V</text><text x="25.3" y="3.1">VXEFOXVWHU</text><path d="M20 -2.5h4.1v5.2h-4.1z" fill="none" stroke="#bbb" stroke-opacity="1" stroke-width="0.6"/></g>
<g transform="translate(593.3 465.3)" font-size="15.5" fill="#000" font-weight="bold"><text x="0" y="5.6">E</text></g>
<rect x="635.2" y="484.3" width="164" height="219.2" fill="#fff" stroke="#777" stroke-width="0.8" />
<line x1="635.2" y1="498" x2="799.2" y2="498" stroke="#777" stroke-width="0.8" />
<g transform="translate(633.5 487.8)" font-size="5" fill="#999" stroke="#999" stroke-width="0.35" stroke-opacity=".45"><path d="M-3 -1.4h2.2v2.9h-2.2z" fill="none" stroke="#aaa" stroke-opacity="1" stroke-width="0.5"/></g>
<path d="M646.1 498C645.9 497.8 646.1 497.5 644.9 496.6C643.6 495.7 638.9 494.1 638.9 492.8C638.9 491.5 643.4 489.8 644.9 488.7C646.3 487.6 647 486.8 647.4 486.4C647.8 486 647 486 647.4 486.4C647.8 486.8 648.5 487.6 649.9 488.7C651.4 489.8 655.9 491.5 655.9 492.8C655.9 494.1 651.2 495.7 649.9 496.6C648.7 497.5 648.9 497.8 648.7 498Z" fill="#b3141d" stroke="#444" stroke-width="0.4"/>
<path d="M666.2 498C666 497.8 666.2 497.4 665 496.5C663.7 495.6 659 493.9 659 492.5C659 491.1 663.5 489.3 665 488.2C666.4 487.1 667.1 486.2 667.5 485.7C667.9 485.3 667.1 485.3 667.5 485.7C667.9 486.2 668.6 487.1 670 488.2C671.5 489.3 676 491.1 676 492.5C676 493.9 671.3 495.6 670 496.5C668.8 497.4 669 497.8 668.8 498Z" fill="#b3141d" stroke="#444" stroke-width="0.4"/>
<path d="M679.1 498C680 497.8 683.6 497.6 684.3 496.7C685 495.8 683 494.1 683.1 492.8C683.2 491.5 684 490.3 684.7 489C685.4 487.7 686.7 485.7 687.1 485.1C687.5 484.5 686.7 484.5 687.1 485.1C687.5 485.7 688.8 487.7 689.5 489C690.2 490.3 691 491.5 691.1 492.8C691.2 494.1 689.2 495.8 689.9 496.7C690.6 497.6 694.2 497.8 695.1 498Z" fill="#b3141d" stroke="#444" stroke-width="0.4"/>
<path d="M706.1 498C705.9 497.8 706.1 497.5 704.9 496.6C703.6 495.7 698.9 494.1 698.9 492.8C698.9 491.5 703.4 489.8 704.9 488.7C706.3 487.6 707 486.8 707.4 486.4C707.8 486 707 486 707.4 486.4C707.8 486.8 708.5 487.6 709.9 488.7C711.4 489.8 715.9 491.5 715.9 492.8C715.9 494.1 711.2 495.7 709.9 496.6C708.7 497.5 708.9 497.8 708.7 498Z" fill="#b3141d" stroke="#444" stroke-width="0.4"/>
<path d="M722.9 498C723.4 497.9 725.5 497.7 725.9 497.2C726.3 496.7 725.4 495.8 725.3 495.1C725.2 494.4 725.3 493.9 725.5 493.2C725.7 492.4 726.3 491.5 726.5 490.7C726.7 489.9 726.8 488.7 726.9 488.3C727 487.9 726.8 487.9 726.9 488.3C727 488.7 727.1 489.9 727.3 490.7C727.5 491.5 728.1 492.4 728.3 493.2C728.5 493.9 728.6 494.4 728.5 495.1C728.4 495.8 727.5 496.7 727.9 497.2C728.3 497.7 730.4 497.9 730.9 498Z" fill="#b3141d" stroke="#444" stroke-width="0.4"/>
<line x1="747.2" y1="498" x2="747.2" y2="491.1" stroke="#666" stroke-width="0.6" />
<path d="M765.5 498C765.3 497.6 765.3 496.5 764.2 495.7C763.1 494.8 759.8 493.7 758.8 492.8C757.8 491.8 757.8 490.6 757.9 489.9C758 489.1 758.2 488.7 759.7 488.1C761.2 487.6 765.7 486.7 766.9 486.4C768.1 486.1 765.7 486.1 766.9 486.4C768.1 486.7 772.6 487.6 774.1 488.1C775.6 488.7 775.8 489.1 775.9 489.9C776 490.6 776 491.8 775 492.8C774 493.7 770.7 494.8 769.6 495.7C768.5 496.5 768.5 497.6 768.2 498Z" fill="#b3141d" stroke="#444" stroke-width="0.4"/>
<path d="M785.4 498C785 497.7 784.4 497.2 783.2 496.4C782 495.5 778.4 494.2 778.2 493.1C778 492 780.3 490.8 781.8 489.8C783.3 488.8 786.3 487.5 787.2 487C788.1 486.6 786.3 486.6 787.2 487C788.1 487.5 791.1 488.8 792.6 489.8C794.1 490.8 796.4 492 796.2 493.1C796 494.2 792.5 495.5 791.2 496.4C790 497.2 789.4 497.7 789 498Z" fill="#b3141d" stroke="#444" stroke-width="0.4"/>
<line x1="635.2" y1="511.7" x2="799.2" y2="511.7" stroke="#777" stroke-width="0.8" />
<g transform="translate(633.5 501.5)" font-size="5" fill="#999" stroke="#999" stroke-width="0.35" stroke-opacity=".45"><path d="M-3 -1.4h2.2v2.9h-2.2z" fill="none" stroke="#aaa" stroke-opacity="1" stroke-width="0.5"/></g>
<path d="M646.1 511.7C645.9 511.5 646.1 511.3 644.9 510.6C643.6 509.9 638.9 508.7 638.9 507.6C638.9 506.6 643.4 505.3 644.9 504.5C646.3 503.6 647 503 647.4 502.7C647.8 502.4 647 502.4 647.4 502.7C647.8 503 648.5 503.6 649.9 504.5C651.4 505.3 655.9 506.6 655.9 507.6C655.9 508.7 651.2 509.9 649.9 510.6C648.7 511.3 648.9 511.5 648.7 511.7Z" fill="#cf1a21" stroke="#444" stroke-width="0.4"/>
<path d="M658.5 511.7C659.1 511.4 660.9 510.5 662.1 510C663.3 509.4 665 508.9 665.7 508.2C666.4 507.5 665.9 506.5 666.1 505.9C666.4 505.3 667.3 504.9 667.5 504.7C667.7 504.5 667.3 504.5 667.5 504.7C667.7 504.9 668.6 505.3 668.9 505.9C669.1 506.5 668.6 507.5 669.3 508.2C670 508.9 671.7 509.4 672.9 510C674.1 510.5 675.9 511.4 676.5 511.7Z" fill="#cf1a21" stroke="#444" stroke-width="0.4"/>
<path d="M677.6 511.7C678.6 511.5 682.2 510.9 683.3 510.4C684.4 509.9 685.2 509.3 684.2 508.5C683.3 507.6 677.7 506.4 677.6 505.2C677.5 504.1 682.2 502.5 683.8 501.4C685.4 500.3 686.5 499.2 687.1 498.8C687.7 498.4 686.5 498.4 687.1 498.8C687.7 499.2 688.8 500.3 690.4 501.4C692 502.5 696.7 504.1 696.6 505.2C696.5 506.4 690.9 507.6 690 508.5C689 509.3 689.8 509.9 690.9 510.4C692 510.9 695.6 511.5 696.6 511.7Z" fill="#cf1a21" stroke="#444" stroke-width="0.4"/>
<path d="M698.4 511.7C699.3 511.5 702.8 511 703.8 510.5C704.8 510 705.6 509.5 704.7 508.6C703.8 507.8 698.5 506.7 698.4 505.6C698.3 504.4 702.8 502.9 704.2 501.9C705.8 500.9 706.9 499.9 707.4 499.4C707.9 499 706.9 499 707.4 499.4C707.9 499.9 709 500.9 710.5 501.9C712 502.9 716.5 504.4 716.4 505.6C716.3 506.7 711 507.8 710.1 508.6C709.2 509.5 710 510 711 510.5C712 511 715.5 511.5 716.4 511.7Z" fill="#cf1a21" stroke="#444" stroke-width="0.4"/>
<path d="M725.1 511.7C724.7 511.4 724.1 510.9 722.9 510.2C721.6 509.4 718.1 508.1 717.9 507.1C717.7 506 720 504.9 721.5 504C723 503 726 501.8 726.9 501.4C727.8 500.9 726 500.9 726.9 501.4C727.8 501.8 730.8 503 732.3 504C733.8 504.9 736.1 506 735.9 507.1C735.7 508.1 732.1 509.4 730.9 510.2C729.7 510.9 729.1 511.4 728.7 511.7Z" fill="#cf1a21" stroke="#444" stroke-width="0.4"/>
<path d="M737.7 511.7C738.7 511.6 742.3 511.2 743.4 510.9C744.5 510.5 745.3 510.2 744.4 509.6C743.4 509 737.8 508.3 737.7 507.5C737.6 506.7 742.3 505.7 743.9 505C745.5 504.3 746.6 503.6 747.2 503.3C747.8 503 746.6 503 747.2 503.3C747.8 503.6 748.9 504.3 750.5 505C752.1 505.7 756.8 506.7 756.7 507.5C756.6 508.3 751 509 750.1 509.6C749.1 510.2 749.9 510.5 751 510.9C752.1 511.2 755.8 511.6 756.7 511.7Z" fill="#cf1a21" stroke="#444" stroke-width="0.4"/>
<path d="M765.4 511.7C765.1 511.5 764.5 511.1 763.5 510.4C762.5 509.8 759.6 508.8 759.4 507.9C759.2 507.1 761.1 506.2 762.4 505.4C763.6 504.6 766.1 503.7 766.9 503.3C767.6 503 766.1 503 766.9 503.3C767.6 503.7 770.1 504.6 771.4 505.4C772.6 506.2 774.6 507.1 774.4 507.9C774.2 508.8 771.3 509.8 770.3 510.4C769.3 511.1 768.7 511.5 768.4 511.7Z" fill="#cf1a21" stroke="#444" stroke-width="0.4"/>
<path d="M778.7 511.7C779.6 511.6 782.8 511.2 783.8 510.9C784.8 510.5 785.5 510.2 784.7 509.6C783.8 509 778.8 508.3 778.7 507.5C778.6 506.7 782.8 505.7 784.2 505C785.6 504.3 786.7 503.6 787.2 503.3C787.7 503 786.7 503 787.2 503.3C787.7 503.6 788.8 504.3 790.2 505C791.6 505.7 795.8 506.7 795.7 507.5C795.6 508.3 790.6 509 789.8 509.6C788.9 510.2 789.6 510.5 790.6 510.9C791.6 511.2 794.9 511.6 795.7 511.7Z" fill="#cf1a21" stroke="#444" stroke-width="0.4"/>
<line x1="635.2" y1="525.4" x2="799.2" y2="525.4" stroke="#777" stroke-width="0.8" />
<g transform="translate(633.5 515.2)" font-size="5" fill="#999" stroke="#999" stroke-width="0.35" stroke-opacity=".45"><path d="M-3 -1.4h2.2v2.9h-2.2z" fill="none" stroke="#aaa" stroke-opacity="1" stroke-width="0.5"/></g>
<path d="M646.7 525.4C646.6 525.2 646.7 525.1 646 524.5C645.4 523.9 642.9 522.8 642.9 521.9C642.9 521 645.3 519.9 646 519.2C646.8 518.5 647.2 517.9 647.4 517.7C647.6 517.4 647.2 517.4 647.4 517.7C647.6 517.9 648 518.5 648.8 519.2C649.5 519.9 651.9 521 651.9 521.9C651.9 522.8 649.4 523.9 648.8 524.5C648.1 525.1 648.2 525.2 648.1 525.4Z" fill="#ea4a2c" stroke="#444" stroke-width="0.4"/>
<path d="M666.5 525.4C666.4 525.2 666.5 524.8 665.5 523.9C664.6 523 661 521.3 661 519.9C661 518.5 664.5 516.7 665.5 515.6C666.6 514.5 667.2 513.6 667.5 513.1C667.8 512.7 667.2 512.7 667.5 513.1C667.8 513.6 668.4 514.5 669.5 515.6C670.5 516.7 674 518.5 674 519.9C674 521.3 670.4 523 669.5 523.9C668.5 524.8 668.6 525.2 668.5 525.4Z" fill="#ea4a2c" stroke="#444" stroke-width="0.4"/>
<path d="M702.4 525.4C703.1 525.3 705.7 525.1 706.4 524.7C707.1 524.2 706.7 523.6 706.8 522.7C706.9 521.8 706.9 520.1 707 519.1C707.1 518 707.3 516.8 707.4 516.4C707.5 515.9 707.3 515.9 707.4 516.4C707.5 516.8 707.7 518 707.8 519.1C707.9 520.1 707.9 521.8 708 522.7C708.1 523.6 707.7 524.2 708.4 524.7C709.1 525.1 711.7 525.3 712.4 525.4Z" fill="#ea4a2c" stroke="#444" stroke-width="0.4"/>
<path d="M721.9 525.4C722.5 525.3 725.1 525.1 725.6 524.6C726.1 524.1 725 523.2 724.9 522.5C724.8 521.8 724.9 521.3 725.1 520.6C725.4 519.8 726.1 518.9 726.4 518.1C726.7 517.3 726.8 516.1 726.9 515.7C727 515.3 726.8 515.3 726.9 515.7C727 516.1 727.1 517.3 727.4 518.1C727.7 518.9 728.4 519.8 728.6 520.6C728.9 521.3 729 521.8 728.9 522.5C728.8 523.2 727.6 524.1 728.1 524.6C728.6 525.1 731.3 525.3 731.9 525.4Z" fill="#ea4a2c" stroke="#444" stroke-width="0.4"/>
<line x1="747.2" y1="525.4" x2="747.2" y2="518.5" stroke="#666" stroke-width="0.6" />
<path d="M757.9 525.4C758.8 525.2 762.2 524.8 763.3 524.3C764.3 523.8 765.1 523.4 764.2 522.7C763.3 521.9 758 520.9 757.9 519.9C757.8 518.9 762.2 517.5 763.8 516.6C765.2 515.7 766.4 514.8 766.9 514.4C767.4 514.1 766.4 514.1 766.9 514.4C767.4 514.8 768.5 515.7 770 516.6C771.5 517.5 776 518.9 775.9 519.9C775.8 520.9 770.5 521.9 769.6 522.7C768.7 523.4 769.5 523.8 770.5 524.3C771.5 524.8 775 525.2 775.9 525.4Z" fill="#ea4a2c" stroke="#444" stroke-width="0.4"/>
<path d="M778.7 525.4C779.1 525.3 779.9 525.1 780.8 524.5C781.7 524 783.9 523 784.2 522.1C784.5 521.3 782.9 520.2 782.5 519.4C782.2 518.5 781.8 517.8 782.1 517.2C782.4 516.5 783.4 516 784.2 515.5C785.1 515.1 786.7 514.6 787.2 514.4C787.7 514.3 786.7 514.3 787.2 514.4C787.7 514.6 789.3 515.1 790.2 515.5C791 516 792 516.5 792.3 517.2C792.6 517.8 792.2 518.5 791.9 519.4C791.5 520.2 789.9 521.3 790.2 522.1C790.5 523 792.7 524 793.6 524.5C794.5 525.1 795.3 525.3 795.7 525.4Z" fill="#ea4a2c" stroke="#444" stroke-width="0.4"/>
<line x1="635.2" y1="539.1" x2="799.2" y2="539.1" stroke="#777" stroke-width="0.8" />
<g transform="translate(633.5 528.9)" font-size="5" fill="#999" stroke="#999" stroke-width="0.35" stroke-opacity=".45"><path d="M-3 -1.4h2.2v2.9h-2.2z" fill="none" stroke="#aaa" stroke-opacity="1" stroke-width="0.5"/></g>
<line x1="647.4" y1="539.1" x2="647.4" y2="532.2" stroke="#666" stroke-width="0.6" />
<path d="M658.5 539.1C659.4 538.9 662.9 538.4 663.9 537.9C664.9 537.4 665.7 536.9 664.8 536C663.9 535.2 658.6 534.1 658.5 533C658.4 531.8 662.9 530.3 664.4 529.3C665.9 528.3 667 527.3 667.5 526.8C668 526.4 667 526.4 667.5 526.8C668 527.3 669.1 528.3 670.6 529.3C672.1 530.3 676.6 531.8 676.5 533C676.4 534.1 671.1 535.2 670.2 536C669.3 536.9 670.1 537.4 671.1 537.9C672.1 538.4 675.6 538.9 676.5 539.1Z" fill="#f26b45" stroke="#444" stroke-width="0.4"/>
<path d="M702.4 539.1C703 539 705.6 538.8 706.1 538.4C706.6 538 705.5 537.2 705.4 536.6C705.3 536 705.4 535.5 705.6 534.9C705.9 534.3 706.6 533.5 706.9 532.8C707.2 532.1 707.3 531.1 707.4 530.7C707.5 530.4 707.3 530.4 707.4 530.7C707.5 531.1 707.6 532.1 707.9 532.8C708.2 533.5 708.9 534.3 709.1 534.9C709.4 535.5 709.5 536 709.4 536.6C709.3 537.2 708.1 538 708.6 538.4C709.1 538.8 711.8 539 712.4 539.1Z" fill="#f26b45" stroke="#444" stroke-width="0.4"/>
<path d="M721.9 539.1C722.5 539 725.1 538.8 725.6 538.4C726.1 537.9 725 537 724.9 536.4C724.8 535.8 724.9 535.3 725.1 534.6C725.4 533.9 726.1 533.1 726.4 532.3C726.7 531.6 726.8 530.4 726.9 530.1C727 529.7 726.8 529.7 726.9 530.1C727 530.4 727.1 531.6 727.4 532.3C727.7 533.1 728.4 533.9 728.6 534.6C728.9 535.3 729 535.8 728.9 536.4C728.8 537 727.6 537.9 728.1 538.4C728.6 538.8 731.3 539 731.9 539.1Z" fill="#f26b45" stroke="#444" stroke-width="0.4"/>
<line x1="747.2" y1="539.1" x2="747.2" y2="532.2" stroke="#666" stroke-width="0.6" />
<path d="M757.9 539.1C758.2 538.8 759 538 759.7 537.3C760.4 536.6 761.3 535.7 761.9 535C762.5 534.4 762.8 533.8 763.3 533.2C763.8 532.7 764.5 532.4 765.1 531.9C765.7 531.3 766.6 530.4 766.9 530.1C767.2 529.8 766.6 529.8 766.9 530.1C767.2 530.4 768.1 531.3 768.7 531.9C769.3 532.4 770 532.7 770.5 533.2C771 533.8 771.2 534.4 771.9 535C772.5 535.7 773.4 536.6 774.1 537.3C774.8 538 775.6 538.8 775.9 539.1Z" fill="#f26b45" stroke="#444" stroke-width="0.4"/>
<path d="M785.5 539.1C785.4 538.9 785.9 538.6 785.1 538C784.2 537.5 781.5 536.6 780.4 535.8C779.3 535 778.7 534 778.7 533.1C778.7 532.2 779 531.2 780.4 530.3C781.8 529.5 786.1 528.5 787.2 528.1C788.3 527.8 786.1 527.8 787.2 528.1C788.3 528.5 792.6 529.5 794 530.3C795.4 531.2 795.7 532.2 795.7 533.1C795.7 534 795.1 535 794 535.8C792.9 536.6 790.2 537.5 789.3 538C788.5 538.6 789 538.9 788.9 539.1Z" fill="#f26b45" stroke="#444" stroke-width="0.4"/>
<line x1="635.2" y1="552.8" x2="799.2" y2="552.8" stroke="#777" stroke-width="0.8" />
<g transform="translate(633.5 542.6)" font-size="5" fill="#999" stroke="#999" stroke-width="0.35" stroke-opacity=".45"><path d="M-3 -1.4h2.2v2.9h-2.2z" fill="none" stroke="#aaa" stroke-opacity="1" stroke-width="0.5"/></g>
<path d="M638.4 552.8C639.3 552.6 642.8 552.2 643.8 551.7C644.8 551.2 645.6 550.8 644.7 550.1C643.8 549.3 638.5 548.3 638.4 547.3C638.3 546.3 642.8 544.9 644.2 544C645.8 543.1 646.9 542.2 647.4 541.8C647.9 541.5 646.9 541.5 647.4 541.8C647.9 542.2 649 543.1 650.5 544C652 544.9 656.5 546.3 656.4 547.3C656.3 548.3 651 549.3 650.1 550.1C649.2 550.8 650 551.2 651 551.7C652 552.2 655.5 552.6 656.4 552.8Z" fill="#f4857a" stroke="#444" stroke-width="0.4"/>
<path d="M663.5 552.8C664 552.7 666.1 552.5 666.7 552C667.3 551.5 666.9 550.9 667 549.9C667.1 548.9 667.1 547.2 667.2 546C667.3 544.9 667.4 543.6 667.5 543.1C667.6 542.6 667.4 542.6 667.5 543.1C667.6 543.6 667.7 544.9 667.8 546C667.9 547.2 667.9 548.9 668 549.9C668.1 550.9 667.7 551.5 668.3 552C668.9 552.5 671 552.7 671.5 552.8Z" fill="#f4857a" stroke="#444" stroke-width="0.4"/>
<path d="M699.4 552.8C700.2 552.6 703.3 552.2 704.2 551.7C705.1 551.2 705.8 550.8 705 550.1C704.2 549.3 699.5 548.3 699.4 547.3C699.3 546.3 703.3 544.9 704.6 544C705.9 543.1 706.9 542.2 707.4 541.8C707.9 541.5 706.9 541.5 707.4 541.8C707.9 542.2 708.9 543.1 710.2 544C711.5 544.9 715.5 546.3 715.4 547.3C715.3 548.3 710.6 549.3 709.8 550.1C709 550.8 709.7 551.2 710.6 551.7C711.5 552.2 714.6 552.6 715.4 552.8Z" fill="#f4857a" stroke="#444" stroke-width="0.4"/>
<path d="M720.9 552.8C721.5 552.6 723.8 552.2 724.5 551.8C725.2 551.3 725.7 550.9 725.1 550.2C724.5 549.5 721 548.6 720.9 547.6C720.8 546.7 723.8 545.4 724.8 544.5C725.8 543.7 726.5 542.8 726.9 542.5C727.2 542.1 726.5 542.1 726.9 542.5C727.2 542.8 728 543.7 729 544.5C730 545.4 733 546.7 732.9 547.6C732.8 548.6 729.3 549.5 728.7 550.2C728.1 550.9 728.6 551.3 729.3 551.8C730 552.2 732.3 552.6 732.9 552.8Z" fill="#f4857a" stroke="#444" stroke-width="0.4"/>
<line x1="747.2" y1="552.8" x2="747.2" y2="545.9" stroke="#666" stroke-width="0.6" />
<path d="M760.9 552.8C761.7 552.7 764.8 552.6 765.7 552.2C766.6 551.9 766.1 551.4 766.2 550.7C766.3 549.9 766.3 548.7 766.4 547.8C766.5 547 766.8 546.1 766.9 545.7C767 545.4 766.8 545.4 766.9 545.7C767 546.1 767.3 547 767.4 547.8C767.5 548.7 767.5 549.9 767.6 550.7C767.7 551.4 767.2 551.9 768.1 552.2C769 552.6 772.1 552.7 772.9 552.8Z" fill="#f4857a" stroke="#444" stroke-width="0.4"/>
<path d="M785.9 552.8C785.6 552.5 785.6 551.6 784.5 550.9C783.4 550.1 780.1 549.3 779.1 548.4C778.1 547.6 778.1 546.7 778.2 546C778.4 545.4 778.5 545.1 780 544.6C781.5 544.1 786 543.4 787.2 543.1C788.4 542.9 786 542.9 787.2 543.1C788.4 543.4 792.9 544.1 794.4 544.6C795.9 545.1 796.1 545.4 796.2 546C796.4 546.7 796.4 547.6 795.3 548.4C794.3 549.3 791 550.1 789.9 550.9C788.8 551.6 788.8 552.5 788.6 552.8Z" fill="#f4857a" stroke="#444" stroke-width="0.4"/>
<line x1="635.2" y1="566.5" x2="799.2" y2="566.5" stroke="#777" stroke-width="0.8" />
<g transform="translate(633.5 556.3)" font-size="5" fill="#999" stroke="#999" stroke-width="0.35" stroke-opacity=".45"><path d="M-3 -1.4h2.2v2.9h-2.2z" fill="none" stroke="#aaa" stroke-opacity="1" stroke-width="0.5"/></g>
<path d="M639.4 566.5C640.2 566.3 643.3 565.9 644.2 565.5C645.1 565.1 645.8 564.7 645 564.1C644.2 563.4 639.5 562.5 639.4 561.7C639.3 560.8 643.3 559.6 644.6 558.8C645.9 558 646.9 557.1 647.4 556.8C647.9 556.5 646.9 556.5 647.4 556.8C647.9 557.1 648.9 558 650.2 558.8C651.5 559.6 655.5 560.8 655.4 561.7C655.3 562.5 650.6 563.4 649.8 564.1C649 564.7 649.7 565.1 650.6 565.5C651.5 565.9 654.6 566.3 655.4 566.5Z" fill="#f7aaa6" stroke="#444" stroke-width="0.4"/>
<path d="M659.5 566.5C660.3 566.3 663.4 565.9 664.3 565.5C665.2 565 665.9 564.6 665.1 563.9C664.3 563.2 659.6 562.3 659.5 561.3C659.4 560.4 663.4 559.1 664.7 558.2C666 557.4 667 556.5 667.5 556.2C668 555.8 667 555.8 667.5 556.2C668 556.5 669 557.4 670.3 558.2C671.6 559.1 675.6 560.4 675.5 561.3C675.4 562.3 670.7 563.2 669.9 563.9C669.1 564.6 669.8 565 670.7 565.5C671.6 565.9 674.7 566.3 675.5 566.5Z" fill="#f7aaa6" stroke="#444" stroke-width="0.4"/>
<path d="M700.4 566.5C701.1 566.3 703.8 565.9 704.6 565.5C705.4 565.1 706 564.7 705.3 564.1C704.6 563.4 700.5 562.5 700.4 561.7C700.3 560.8 703.8 559.6 704.9 558.8C706.1 558 707 557.1 707.4 556.8C707.8 556.5 707 556.5 707.4 556.8C707.8 557.1 708.7 558 709.9 558.8C711 559.6 714.5 560.8 714.4 561.7C714.3 562.5 710.2 563.4 709.5 564.1C708.8 564.7 709.4 565.1 710.2 565.5C711 565.9 713.7 566.3 714.4 566.5Z" fill="#f7aaa6" stroke="#444" stroke-width="0.4"/>
<path d="M721.9 566.5C722.4 566.3 724.7 566.2 725.1 565.6C725.6 565 724.4 563.8 724.4 562.9C724.4 562 725 561.1 725.4 560.2C725.8 559.3 726.6 557.9 726.9 557.5C727.1 557 726.6 557 726.9 557.5C727.1 557.9 728 559.3 728.4 560.2C728.8 561.1 729.4 562 729.4 562.9C729.4 563.8 728.2 565 728.6 565.6C729.1 566.2 731.4 566.3 731.9 566.5Z" fill="#f7aaa6" stroke="#444" stroke-width="0.4"/>
<line x1="747.2" y1="566.5" x2="747.2" y2="559.6" stroke="#666" stroke-width="0.6" />
<path d="M757.9 566.5C758.5 566.3 760.3 565.5 761.5 565C762.7 564.6 764.4 564.2 765.1 563.6C765.8 563 765.2 562.1 765.5 561.7C765.8 561.2 766.7 560.9 766.9 560.7C767.1 560.5 766.7 560.5 766.9 560.7C767.1 560.9 768 561.2 768.2 561.7C768.5 562.1 768 563 768.7 563.6C769.4 564.2 771.1 564.6 772.3 565C773.5 565.5 775.3 566.3 775.9 566.5Z" fill="#f7aaa6" stroke="#444" stroke-width="0.4"/>
<path d="M779.2 566.5C780 566.3 783.1 566 784 565.6C784.9 565.2 785.6 564.8 784.8 564.2C784 563.6 779.3 562.8 779.2 562C779.1 561.2 783.1 560 784.4 559.3C785.7 558.5 786.7 557.8 787.2 557.5C787.7 557.2 786.7 557.2 787.2 557.5C787.7 557.8 788.7 558.5 790 559.3C791.3 560 795.3 561.2 795.2 562C795.1 562.8 790.4 563.6 789.6 564.2C788.8 564.8 789.5 565.2 790.4 565.6C791.3 566 794.4 566.3 795.2 566.5Z" fill="#f7aaa6" stroke="#444" stroke-width="0.4"/>
<line x1="635.2" y1="580.2" x2="799.2" y2="580.2" stroke="#777" stroke-width="0.8" />
<g transform="translate(633.5 570)" font-size="5" fill="#999" stroke="#999" stroke-width="0.35" stroke-opacity=".45"><path d="M-3 -1.4h2.2v2.9h-2.2z" fill="none" stroke="#aaa" stroke-opacity="1" stroke-width="0.5"/></g>
<line x1="647.4" y1="580.2" x2="647.4" y2="573.4" stroke="#666" stroke-width="0.6" />
<line x1="667.5" y1="580.2" x2="667.5" y2="573.4" stroke="#666" stroke-width="0.6" />
<line x1="707.4" y1="580.2" x2="707.4" y2="573.4" stroke="#666" stroke-width="0.6" />
<line x1="726.9" y1="580.2" x2="726.9" y2="573.4" stroke="#666" stroke-width="0.6" />
<line x1="747.2" y1="580.2" x2="747.2" y2="573.4" stroke="#666" stroke-width="0.6" />
<path d="M761.9 580.2C762.1 579.9 762.5 579.2 762.9 578.7C763.3 578.1 763.8 577.3 764.1 576.7C764.5 576.1 764.6 575.6 764.9 575.2C765.2 574.7 765.6 574.5 765.9 574C766.2 573.6 766.7 572.7 766.9 572.5C767.1 572.2 766.7 572.2 766.9 572.5C767.1 572.7 767.6 573.6 767.9 574C768.2 574.5 768.6 574.7 768.9 575.2C769.2 575.6 769.3 576.1 769.6 576.7C770 577.3 770.5 578.1 770.9 578.7C771.3 579.2 771.7 579.9 771.9 580.2Z" fill="#a40e7c" stroke="#444" stroke-width="0.4"/>
<path d="M785.8 580.2C785.7 580 786.2 579.7 785.5 579.2C784.8 578.7 782.5 578 781.6 577.3C780.7 576.6 780.2 575.7 780.2 574.9C780.2 574.1 780.4 573.2 781.6 572.5C782.8 571.7 786.3 570.8 787.2 570.5C788.1 570.2 786.3 570.2 787.2 570.5C788.1 570.8 791.6 571.7 792.8 572.5C794 573.2 794.2 574.1 794.2 574.9C794.2 575.7 793.7 576.6 792.8 577.3C791.9 578 789.7 578.7 789 579.2C788.2 579.7 788.7 580 788.6 580.2Z" fill="#a40e7c" stroke="#444" stroke-width="0.4"/>
<line x1="635.2" y1="593.9" x2="799.2" y2="593.9" stroke="#777" stroke-width="0.8" />
<g transform="translate(633.5 583.7)" font-size="5" fill="#999" stroke="#999" stroke-width="0.35" stroke-opacity=".45"><path d="M-3 -1.4h2.2v2.9h-2.2z" fill="none" stroke="#aaa" stroke-opacity="1" stroke-width="0.5"/></g>
<line x1="647.4" y1="593.9" x2="647.4" y2="587" stroke="#666" stroke-width="0.6" />
<path d="M663.5 593.9C664 593.8 666.1 593.6 666.7 593C667.3 592.5 666.9 591.7 667 590.6C667.1 589.5 667.1 587.5 667.2 586.2C667.3 584.9 667.4 583.5 667.5 582.9C667.6 582.4 667.4 582.4 667.5 582.9C667.6 583.5 667.7 584.9 667.8 586.2C667.9 587.5 667.9 589.5 668 590.6C668.1 591.7 667.7 592.5 668.3 593C668.9 593.6 671 593.8 671.5 593.9Z" fill="#dc2aa0" stroke="#444" stroke-width="0.4"/>
<path d="M704.4 593.9C704.8 593.8 706.4 593.7 706.8 593.3C707.2 592.9 707 592.4 707 591.6C707.1 590.8 707.1 589.4 707.2 588.5C707.2 587.6 707.4 586.5 707.4 586.2C707.4 585.8 707.4 585.8 707.4 586.2C707.4 586.5 707.6 587.6 707.6 588.5C707.7 589.4 707.7 590.8 707.8 591.6C707.8 592.4 707.6 592.9 708 593.3C708.4 593.7 710 593.8 710.4 593.9Z" fill="#dc2aa0" stroke="#444" stroke-width="0.4"/>
<path d="M721.9 593.9C722.5 593.8 725.1 593.6 725.6 593.1C726.1 592.6 725 591.7 724.9 591C724.8 590.3 724.9 589.8 725.1 589.1C725.4 588.3 726.1 587.4 726.4 586.6C726.7 585.8 726.8 584.6 726.9 584.2C727 583.8 726.8 583.8 726.9 584.2C727 584.6 727.1 585.8 727.4 586.6C727.7 587.4 728.4 588.3 728.6 589.1C728.9 589.8 729 590.3 728.9 591C728.8 591.7 727.6 592.6 728.1 593.1C728.6 593.6 731.3 593.8 731.9 593.9Z" fill="#dc2aa0" stroke="#444" stroke-width="0.4"/>
<line x1="747.2" y1="593.9" x2="747.2" y2="587" stroke="#666" stroke-width="0.6" />
<path d="M759.9 593.9C760.1 593.6 760.8 592.9 761.3 592.2C761.8 591.6 762.6 590.8 763 590.1C763.5 589.5 763.7 588.9 764.1 588.4C764.5 588 765 587.7 765.5 587.2C766 586.7 766.7 585.8 766.9 585.5C767.1 585.2 766.7 585.2 766.9 585.5C767.1 585.8 767.8 586.7 768.3 587.2C768.8 587.7 769.3 588 769.7 588.4C770.1 588.9 770.3 589.5 770.8 590.1C771.2 590.8 772 591.6 772.5 592.2C773 592.9 773.7 593.6 773.9 593.9Z" fill="#dc2aa0" stroke="#444" stroke-width="0.4"/>
<line x1="787.2" y1="593.9" x2="787.2" y2="587" stroke="#666" stroke-width="0.6" />
<line x1="635.2" y1="607.6" x2="799.2" y2="607.6" stroke="#777" stroke-width="0.8" />
<g transform="translate(633.5 597.4)" font-size="5" fill="#999" stroke="#999" stroke-width="0.35" stroke-opacity=".45"><path d="M-3 -1.4h2.2v2.9h-2.2z" fill="none" stroke="#aaa" stroke-opacity="1" stroke-width="0.5"/></g>
<line x1="647.4" y1="607.6" x2="647.4" y2="600.8" stroke="#666" stroke-width="0.6" />
<path d="M664.5 607.6C664.9 607.5 666.5 607.3 666.9 606.8C667.3 606.3 667.1 605.7 667.1 604.7C667.2 603.7 667.2 602 667.3 600.8C667.3 599.7 667.5 598.4 667.5 597.9C667.5 597.4 667.5 597.4 667.5 597.9C667.5 598.4 667.7 599.7 667.7 600.8C667.8 602 667.8 603.7 667.9 604.7C667.9 605.7 667.7 606.3 668.1 606.8C668.5 607.3 670.1 607.5 670.5 607.6Z" fill="#e87cc2" stroke="#444" stroke-width="0.4"/>
<path d="M704.4 607.6C704.8 607.5 706.4 607.4 706.8 607C707.2 606.7 707 606.2 707 605.5C707.1 604.7 707.1 603.5 707.2 602.6C707.2 601.8 707.4 600.9 707.4 600.5C707.4 600.2 707.4 600.2 707.4 600.5C707.4 600.9 707.6 601.8 707.6 602.6C707.7 603.5 707.7 604.7 707.8 605.5C707.8 606.2 707.6 606.7 708 607C708.4 607.4 710 607.5 710.4 607.6Z" fill="#e87cc2" stroke="#444" stroke-width="0.4"/>
<line x1="726.9" y1="607.6" x2="726.9" y2="600.8" stroke="#666" stroke-width="0.6" />
<line x1="747.2" y1="607.6" x2="747.2" y2="600.8" stroke="#666" stroke-width="0.6" />
<path d="M761.4 607.6C761.6 607.4 762.1 606.7 762.5 606.2C762.9 605.6 763.5 604.9 763.9 604.4C764.2 603.9 764.4 603.4 764.7 603C765 602.6 765.4 602.3 765.8 601.9C766.2 601.5 766.7 600.7 766.9 600.5C767.1 600.3 766.7 600.3 766.9 600.5C767.1 600.7 767.6 601.5 768 601.9C768.4 602.3 768.8 602.6 769.1 603C769.4 603.4 769.6 603.9 769.9 604.4C770.3 604.9 770.9 605.6 771.3 606.2C771.7 606.7 772.2 607.4 772.4 607.6Z" fill="#e87cc2" stroke="#444" stroke-width="0.4"/>
<line x1="787.2" y1="607.6" x2="787.2" y2="600.8" stroke="#666" stroke-width="0.6" />
<line x1="635.2" y1="621.3" x2="799.2" y2="621.3" stroke="#777" stroke-width="0.8" />
<g transform="translate(633.5 611.1)" font-size="5" fill="#999" stroke="#999" stroke-width="0.35" stroke-opacity=".45"><path d="M-3 -1.4h2.2v2.9h-2.2z" fill="none" stroke="#aaa" stroke-opacity="1" stroke-width="0.5"/></g>
<line x1="647.4" y1="621.3" x2="647.4" y2="614.4" stroke="#666" stroke-width="0.6" />
<line x1="667.5" y1="621.3" x2="667.5" y2="614.4" stroke="#666" stroke-width="0.6" />
<line x1="707.4" y1="621.3" x2="707.4" y2="614.4" stroke="#666" stroke-width="0.6" />
<line x1="726.9" y1="621.3" x2="726.9" y2="614.4" stroke="#666" stroke-width="0.6" />
<line x1="747.2" y1="621.3" x2="747.2" y2="614.4" stroke="#666" stroke-width="0.6" />
<line x1="766.9" y1="621.3" x2="766.9" y2="614.4" stroke="#666" stroke-width="0.6" />
<path d="M780.7 621.3C780.9 621 781.5 620 782 619.2C782.5 618.5 783.2 617.4 783.6 616.7C784.1 615.9 784.2 615.2 784.6 614.6C785 614 785.5 613.6 785.9 613C786.3 612.4 787 611.3 787.2 611C787.4 610.6 787 610.6 787.2 611C787.4 611.3 788.1 612.4 788.5 613C788.9 613.6 789.4 614 789.8 614.6C790.2 615.2 790.3 615.9 790.8 616.7C791.2 617.4 791.9 618.5 792.4 619.2C792.9 620 793.5 621 793.7 621.3Z" fill="#f4b6dc" stroke="#444" stroke-width="0.4"/>
<line x1="635.2" y1="635" x2="799.2" y2="635" stroke="#777" stroke-width="0.8" />
<g transform="translate(633.5 624.8)" font-size="5" fill="#999" stroke="#999" stroke-width="0.35" stroke-opacity=".45"><path d="M-3 -1.4h2.2v2.9h-2.2z" fill="none" stroke="#aaa" stroke-opacity="1" stroke-width="0.5"/></g>
<path d="M642.4 635C643.1 634.9 645.7 634.8 646.4 634.4C647.1 634.1 646.7 633.6 646.8 632.9C646.9 632.1 646.9 630.9 647 630C647.1 629.2 647.3 628.3 647.4 627.9C647.5 627.6 647.3 627.6 647.4 627.9C647.5 628.3 647.7 629.2 647.8 630C647.9 630.9 647.9 632.1 648 632.9C648.1 633.6 647.7 634.1 648.4 634.4C649.1 634.8 651.7 634.9 652.4 635Z" fill="#1f7a3c" stroke="#444" stroke-width="0.4"/>
<line x1="667.5" y1="635" x2="667.5" y2="628.1" stroke="#666" stroke-width="0.6" />
<line x1="707.4" y1="635" x2="707.4" y2="628.1" stroke="#666" stroke-width="0.6" />
<line x1="726.9" y1="635" x2="726.9" y2="628.1" stroke="#666" stroke-width="0.6" />
<line x1="747.2" y1="635" x2="747.2" y2="628.1" stroke="#666" stroke-width="0.6" />
<path d="M759.4 635C759.6 634.7 760.3 634 760.9 633.3C761.5 632.7 762.3 631.9 762.8 631.2C763.3 630.6 763.5 630 763.9 629.5C764.3 629.1 764.9 628.8 765.4 628.3C765.9 627.8 766.6 626.9 766.9 626.6C767.1 626.3 766.6 626.3 766.9 626.6C767.1 626.9 767.9 627.8 768.4 628.3C768.9 628.8 769.5 629.1 769.9 629.5C770.3 630 770.5 630.6 771 631.2C771.5 631.9 772.3 632.7 772.9 633.3C773.5 634 774.1 634.7 774.4 635Z" fill="#1f7a3c" stroke="#444" stroke-width="0.4"/>
<path d="M779.7 635C780 634.7 780.6 634 781.2 633.3C781.8 632.7 782.6 631.9 783.1 631.2C783.6 630.6 783.8 630 784.2 629.5C784.6 629.1 785.2 628.8 785.7 628.3C786.2 627.8 787 626.9 787.2 626.6C787.5 626.3 787 626.3 787.2 626.6C787.5 626.9 788.2 627.8 788.7 628.3C789.2 628.8 789.8 629.1 790.2 629.5C790.6 630 790.8 630.6 791.3 631.2C791.8 631.9 792.6 632.7 793.2 633.3C793.8 634 794.5 634.7 794.7 635Z" fill="#1f7a3c" stroke="#444" stroke-width="0.4"/>
<line x1="635.2" y1="648.7" x2="799.2" y2="648.7" stroke="#777" stroke-width="0.8" />
<g transform="translate(633.5 638.5)" font-size="5" fill="#999" stroke="#999" stroke-width="0.35" stroke-opacity=".45"><path d="M-3 -1.4h2.2v2.9h-2.2z" fill="none" stroke="#aaa" stroke-opacity="1" stroke-width="0.5"/></g>
<path d="M638.4 648.7C639.3 648.5 642.8 648.1 643.8 647.6C644.8 647.1 645.6 646.7 644.7 646C643.8 645.2 638.5 644.2 638.4 643.2C638.3 642.2 642.8 640.8 644.2 639.9C645.8 639 646.9 638.1 647.4 637.7C647.9 637.4 646.9 637.4 647.4 637.7C647.9 638.1 649 639 650.5 639.9C652 640.8 656.5 642.2 656.4 643.2C656.3 644.2 651 645.2 650.1 646C649.2 646.7 650 647.1 651 647.6C652 648.1 655.5 648.5 656.4 648.7Z" fill="#34a253" stroke="#444" stroke-width="0.4"/>
<path d="M661 648.7C661.3 648.6 661.9 648.4 662.6 647.8C663.3 647.3 665 646.3 665.2 645.4C665.4 644.6 664.2 643.5 663.9 642.7C663.7 641.8 663.4 641.1 663.6 640.5C663.8 639.8 664.6 639.3 665.2 638.8C665.9 638.4 667.1 637.9 667.5 637.7C667.9 637.6 667.1 637.6 667.5 637.7C667.9 637.9 669.1 638.4 669.8 638.8C670.4 639.3 671.2 639.8 671.4 640.5C671.6 641.1 671.3 641.8 671.1 642.7C670.8 643.5 669.6 644.6 669.8 645.4C670 646.3 671.7 647.3 672.4 647.8C673.1 648.4 673.7 648.6 674 648.7Z" fill="#34a253" stroke="#444" stroke-width="0.4"/>
<path d="M700.4 648.7C700.7 648.6 701.4 648.4 702.1 647.8C702.9 647.3 704.7 646.3 704.9 645.4C705.2 644.6 703.8 643.5 703.5 642.7C703.3 641.8 703 641.1 703.2 640.5C703.4 639.8 704.2 639.3 704.9 638.8C705.6 638.4 707 637.9 707.4 637.7C707.8 637.6 707 637.6 707.4 637.7C707.8 637.9 709.1 638.4 709.9 638.8C710.6 639.3 711.4 639.8 711.6 640.5C711.8 641.1 711.5 641.8 711.2 642.7C711 643.5 709.6 644.6 709.9 645.4C710.1 646.3 711.9 647.3 712.6 647.8C713.4 648.4 714.1 648.6 714.4 648.7Z" fill="#34a253" stroke="#444" stroke-width="0.4"/>
<line x1="726.9" y1="648.7" x2="726.9" y2="641.9" stroke="#666" stroke-width="0.6" />
<line x1="747.2" y1="648.7" x2="747.2" y2="641.9" stroke="#666" stroke-width="0.6" />
<path d="M765.8 648.7C765.6 648.5 765.7 648.1 764.6 647.2C763.6 646.3 759.4 644.6 759.4 643.2C759.4 641.8 763.4 640 764.6 638.9C765.9 637.8 766.5 636.9 766.9 636.4C767.3 636 766.5 636 766.9 636.4C767.3 636.9 767.9 637.8 769.1 638.9C770.4 640 774.4 641.8 774.4 643.2C774.4 644.6 770.2 646.3 769.1 647.2C768.1 648.1 768.2 648.5 768 648.7Z" fill="#34a253" stroke="#444" stroke-width="0.4"/>
<path d="M780.2 648.7C780.4 648.4 781.1 647.7 781.6 647.2C782.1 646.6 782.9 645.8 783.4 645.2C783.8 644.6 784 644.1 784.4 643.7C784.8 643.2 785.3 643 785.8 642.5C786.3 642.1 787 641.2 787.2 641C787.4 640.7 787 640.7 787.2 641C787.4 641.2 788.1 642.1 788.6 642.5C789.1 643 789.6 643.2 790 643.7C790.4 644.1 790.6 644.6 791.1 645.2C791.5 645.8 792.3 646.6 792.8 647.2C793.3 647.7 794 648.4 794.2 648.7Z" fill="#34a253" stroke="#444" stroke-width="0.4"/>
<line x1="635.2" y1="662.4" x2="799.2" y2="662.4" stroke="#777" stroke-width="0.8" />
<g transform="translate(633.5 652.2)" font-size="5" fill="#999" stroke="#999" stroke-width="0.35" stroke-opacity=".45"><path d="M-3 -1.4h2.2v2.9h-2.2z" fill="none" stroke="#aaa" stroke-opacity="1" stroke-width="0.5"/></g>
<line x1="647.4" y1="662.4" x2="647.4" y2="655.5" stroke="#666" stroke-width="0.6" />
<line x1="667.5" y1="662.4" x2="667.5" y2="655.5" stroke="#666" stroke-width="0.6" />
<line x1="707.4" y1="662.4" x2="707.4" y2="655.5" stroke="#666" stroke-width="0.6" />
<line x1="726.9" y1="662.4" x2="726.9" y2="655.5" stroke="#666" stroke-width="0.6" />
<line x1="747.2" y1="662.4" x2="747.2" y2="655.5" stroke="#666" stroke-width="0.6" />
<path d="M761.4 662.4C761.6 662.2 762.2 662 762.8 661.4C763.4 660.7 764.8 659.5 765 658.5C765.2 657.5 764.1 656.3 763.9 655.3C763.6 654.3 763.4 653.5 763.6 652.7C763.8 652 764.4 651.3 765 650.8C765.5 650.3 766.6 649.7 766.9 649.5C767.2 649.3 766.6 649.3 766.9 649.5C767.2 649.7 768.3 650.3 768.8 650.8C769.4 651.3 770 652 770.2 652.7C770.4 653.5 770.2 654.3 769.9 655.3C769.7 656.3 768.6 657.5 768.8 658.5C769 659.5 770.4 660.7 771 661.4C771.6 662 772.2 662.2 772.4 662.4Z" fill="#66bd6e" stroke="#444" stroke-width="0.4"/>
<line x1="787.2" y1="662.4" x2="787.2" y2="655.5" stroke="#666" stroke-width="0.6" />
<line x1="635.2" y1="676.1" x2="799.2" y2="676.1" stroke="#777" stroke-width="0.8" />
<g transform="translate(633.5 665.9)" font-size="5" fill="#999" stroke="#999" stroke-width="0.35" stroke-opacity=".45"><path d="M-3 -1.4h2.2v2.9h-2.2z" fill="none" stroke="#aaa" stroke-opacity="1" stroke-width="0.5"/></g>
<path d="M643.4 676.1C643.9 676 646 675.8 646.6 675.3C647.2 674.8 646.8 674.1 646.9 673C647 671.9 647 670.1 647.1 668.9C647.2 667.7 647.3 666.3 647.4 665.8C647.5 665.3 647.3 665.3 647.4 665.8C647.5 666.3 647.6 667.7 647.7 668.9C647.8 670.1 647.8 671.9 647.9 673C648 674.1 647.6 674.8 648.2 675.3C648.8 675.8 650.9 676 651.4 676.1Z" fill="#fbb339" stroke="#444" stroke-width="0.4"/>
<line x1="667.5" y1="676.1" x2="667.5" y2="669.2" stroke="#666" stroke-width="0.6" />
<path d="M704.4 676.1C704.8 675.9 706.4 675.8 706.8 675.2C707.2 674.6 707 673.8 707 672.6C707.1 671.4 707.1 669.3 707.2 668C707.2 666.6 707.4 665.1 707.4 664.5C707.4 663.9 707.4 663.9 707.4 664.5C707.4 665.1 707.6 666.6 707.6 668C707.7 669.3 707.7 671.4 707.8 672.6C707.8 673.8 707.6 674.6 708 675.2C708.4 675.8 710 675.9 710.4 676.1Z" fill="#fbb339" stroke="#444" stroke-width="0.4"/>
<path d="M723.4 676.1C723.9 676 725.7 675.8 726.2 675.3C726.7 674.8 726.4 674.2 726.5 673.2C726.6 672.2 726.5 670.5 726.6 669.3C726.7 668.2 726.9 666.9 726.9 666.4C726.9 665.9 726.9 665.9 726.9 666.4C726.9 666.9 727.1 668.2 727.2 669.3C727.2 670.5 727.2 672.2 727.3 673.2C727.4 674.2 727.1 674.8 727.6 675.3C728.1 675.8 729.9 676 730.4 676.1Z" fill="#fbb339" stroke="#444" stroke-width="0.4"/>
<path d="M742.2 676.1C742.9 675.9 745.5 675.8 746.2 675.2C746.9 674.6 746.5 673.8 746.6 672.6C746.7 671.4 746.7 669.3 746.8 668C746.9 666.6 747.1 665.1 747.2 664.5C747.3 663.9 747.1 663.9 747.2 664.5C747.3 665.1 747.5 666.6 747.6 668C747.7 669.3 747.7 671.4 747.8 672.6C747.9 673.8 747.5 674.6 748.2 675.2C748.9 675.8 751.5 675.9 752.2 676.1Z" fill="#fbb339" stroke="#444" stroke-width="0.4"/>
<path d="M758.4 676.1C758.5 675.7 758.7 674.5 759.2 673.5C759.8 672.6 761 671.4 761.8 670.3C762.6 669.2 763.3 668 763.9 667.1C764.6 666.1 765.1 665.4 765.6 664.7C766.1 664.1 766.7 663.5 766.9 663.2C767.1 662.9 766.7 662.9 766.9 663.2C767.1 663.5 767.7 664.1 768.2 664.7C768.7 665.4 769.2 666.1 769.9 667.1C770.5 668 771.2 669.2 772 670.3C772.8 671.4 774 672.6 774.5 673.5C775.1 674.5 775.3 675.7 775.4 676.1Z" fill="#fbb339" stroke="#444" stroke-width="0.4"/>
<line x1="787.2" y1="676.1" x2="787.2" y2="669.2" stroke="#666" stroke-width="0.6" />
<line x1="635.2" y1="689.8" x2="799.2" y2="689.8" stroke="#777" stroke-width="0.8" />
<g transform="translate(633.5 679.6)" font-size="5" fill="#999" stroke="#999" stroke-width="0.35" stroke-opacity=".45"><path d="M-3 -1.4h2.2v2.9h-2.2z" fill="none" stroke="#aaa" stroke-opacity="1" stroke-width="0.5"/></g>
<path d="M644.9 689.8C645.2 689.6 646.5 689.5 646.9 688.9C647.3 688.3 647.1 687.5 647.1 686.3C647.1 685.1 647.1 683 647.2 681.7C647.2 680.3 647.4 678.8 647.4 678.2C647.4 677.6 647.4 677.6 647.4 678.2C647.4 678.8 647.6 680.3 647.6 681.7C647.6 683 647.6 685.1 647.7 686.3C647.7 687.5 647.5 688.3 647.9 688.9C648.3 689.5 649.6 689.6 649.9 689.8Z" fill="#fbd989" stroke="#444" stroke-width="0.4"/>
<line x1="667.5" y1="689.8" x2="667.5" y2="682.9" stroke="#666" stroke-width="0.6" />
<line x1="707.4" y1="689.8" x2="707.4" y2="682.9" stroke="#666" stroke-width="0.6" />
<line x1="726.9" y1="689.8" x2="726.9" y2="682.9" stroke="#666" stroke-width="0.6" />
<line x1="747.2" y1="689.8" x2="747.2" y2="682.9" stroke="#666" stroke-width="0.6" />
<path d="M758.4 689.8C759 689.7 761.2 689.5 762.2 689C763.2 688.6 764.8 687.8 764.4 687C763.9 686.1 760.7 684.9 759.7 684C758.7 683.1 758.3 682.6 758.4 681.8C758.5 681 759.5 680.1 760.5 679.5C761.5 678.8 763.3 678.2 764.4 677.8C765.4 677.4 766.5 677.1 766.9 676.9C767.3 676.7 766.5 676.7 766.9 676.9C767.3 677.1 768.4 677.4 769.4 677.8C770.5 678.2 772.3 678.8 773.3 679.5C774.3 680.1 775.3 681 775.4 681.8C775.5 682.6 775.1 683.1 774.1 684C773.1 684.9 769.9 686.1 769.4 687C769 687.8 770.6 688.6 771.6 689C772.6 689.5 774.8 689.7 775.4 689.8Z" fill="#fbd989" stroke="#444" stroke-width="0.4"/>
<line x1="787.2" y1="689.8" x2="787.2" y2="682.9" stroke="#666" stroke-width="0.6" />
<g transform="translate(633.5 693.3)" font-size="5" fill="#999" stroke="#999" stroke-width="0.35" stroke-opacity=".45"><path d="M-3 -1.4h2.2v2.9h-2.2z" fill="none" stroke="#aaa" stroke-opacity="1" stroke-width="0.5"/></g>
<line x1="647.4" y1="703.5" x2="647.4" y2="696.6" stroke="#666" stroke-width="0.6" />
<line x1="667.5" y1="703.5" x2="667.5" y2="696.6" stroke="#666" stroke-width="0.6" />
<line x1="707.4" y1="703.5" x2="707.4" y2="696.6" stroke="#666" stroke-width="0.6" />
<line x1="726.9" y1="703.5" x2="726.9" y2="696.6" stroke="#666" stroke-width="0.6" />
<line x1="747.2" y1="703.5" x2="747.2" y2="696.6" stroke="#666" stroke-width="0.6" />
<path d="M761.9 703.5C762.1 703.3 762.6 703.1 763.1 702.5C763.7 701.8 765 700.6 765.1 699.6C765.3 698.6 764.4 697.4 764.1 696.4C763.9 695.4 763.7 694.6 763.9 693.8C764.1 693.1 764.6 692.4 765.1 691.9C765.6 691.4 766.6 690.8 766.9 690.6C767.2 690.4 766.6 690.4 766.9 690.6C767.2 690.8 768.1 691.4 768.6 691.9C769.1 692.4 769.7 693.1 769.9 693.8C770.1 694.6 769.9 695.4 769.6 696.4C769.4 697.4 768.5 698.6 768.6 699.6C768.8 700.6 770.1 701.8 770.6 702.5C771.2 703.1 771.7 703.3 771.9 703.5Z" fill="#fbf0b8" stroke="#444" stroke-width="0.4"/>
<line x1="787.2" y1="703.5" x2="787.2" y2="696.6" stroke="#666" stroke-width="0.6" />
<line x1="687.1" y1="484.3" x2="687.1" y2="703.5" stroke="#666" stroke-width="0.8" />
<g transform="translate(804.5 491.2)" font-size="8" fill="#e04848" font-weight="bold" font-style="italic"><text x="0" y="2.9">003</text><path d="M14.4 -2.3h3.8v4.9h-3.8z" fill="none" stroke="#e04848" stroke-opacity="0.3" stroke-width="0.6" transform="skewX(-12)"/></g>
<g transform="translate(804.5 504.9)" font-size="8" fill="#e04848" font-weight="bold" font-style="italic"><text x="0" y="2.9">&amp;2/</text><text x="18.4" y="2.9">$</text><path d="M13.5 -2.3h3.8v4.9h-3.8zM24 -2.3h3.8v4.9h-3.8z" fill="none" stroke="#e04848" stroke-opacity="0.3" stroke-width="0.6" transform="skewX(-12)"/></g>
<g transform="translate(804.5 518.5)" font-size="8" fill="#e04848" font-weight="bold" font-style="italic"><text x="0" y="2.9">/2;</text></g>
<g transform="translate(804.5 532.2)" font-size="8" fill="#e04848" font-weight="bold" font-style="italic"><text x="0" y="2.9">/2;/</text><path d="M12.7 -2.3h3.8v4.9h-3.8z" fill="none" stroke="#e04848" stroke-opacity="0.3" stroke-width="0.6" transform="skewX(-12)"/></g>
<g transform="translate(804.5 546)" font-size="8" fill="#e04848" font-weight="bold" font-style="italic"><text x="0" y="2.9">9(*)%</text></g>
<g transform="translate(804.5 559.6)" font-size="8" fill="#e04848" font-weight="bold" font-style="italic"><text x="0" y="2.9">05&amp;</text><path d="M15.8 -2.3h3.8v4.9h-3.8z" fill="none" stroke="#e04848" stroke-opacity="0.3" stroke-width="0.6" transform="skewX(-12)"/></g>
<g transform="translate(804.5 573.4)" font-size="8" fill="#c0208a" font-weight="bold" font-style="italic"><text x="0" y="2.9">17</text><text x="14.9" y="2.9">(</text><path d="M10 -2.3h3.8v4.9h-3.8z" fill="none" stroke="#c0208a" stroke-opacity="0.3" stroke-width="0.6" transform="skewX(-12)"/></g>
<g transform="translate(804.5 587)" font-size="8" fill="#c0208a" font-weight="bold" font-style="italic"><text x="0" y="2.9">7*)%</text><path d="M18.4 -2.3h3.8v4.9h-3.8z" fill="none" stroke="#c0208a" stroke-opacity="0.3" stroke-width="0.6" transform="skewX(-12)"/></g>
<g transform="translate(804.5 600.8)" font-size="8" fill="#c0208a" font-weight="bold" font-style="italic"><text x="0" y="2.9">&amp;'</text><path d="M8.8 -2.3h3.8v4.9h-3.8zM14.8 -2.3h3.8v4.9h-3.8zM20.8 -2.3h3.8v4.9h-3.8z" fill="none" stroke="#c0208a" stroke-opacity="0.3" stroke-width="0.6" transform="skewX(-12)"/></g>
<g transform="translate(804.5 614.5)" font-size="8" fill="#c0208a" font-weight="bold" font-style="italic"><text x="0" y="2.9">'33</text><path d="M11.9 -2.3h3.8v4.9h-3.8z" fill="none" stroke="#c0208a" stroke-opacity="0.3" stroke-width="0.6" transform="skewX(-12)"/></g>
<g transform="translate(804.5 628.1)" font-size="8" fill="#2e9a4a" font-weight="bold" font-style="italic"><text x="0" y="2.9">&amp;6)</text><path d="M14 -2.3h3.8v4.9h-3.8z" fill="none" stroke="#2e9a4a" stroke-opacity="0.3" stroke-width="0.6" transform="skewX(-12)"/></g>
<g transform="translate(804.5 641.9)" font-size="8" fill="#2e9a4a" font-weight="bold" font-style="italic"><text x="0" y="2.9">&amp;;&amp;/</text><path d="M17.5 -2.3h3.8v4.9h-3.8zM23.5 -2.3h3.8v4.9h-3.8z" fill="none" stroke="#2e9a4a" stroke-opacity="0.3" stroke-width="0.6" transform="skewX(-12)"/></g>
<g transform="translate(804.5 655.5)" font-size="8" fill="#2e9a4a" font-weight="bold" font-style="italic"><text x="0" y="2.9">,/</text><path d="M5.5 -2.3h3.8v4.9h-3.8z" fill="none" stroke="#2e9a4a" stroke-opacity="0.3" stroke-width="0.6" transform="skewX(-12)"/></g>
<g transform="translate(804.5 669.2)" font-size="8" fill="#f0a820" font-weight="bold" font-style="italic"><text x="0" y="2.9">&amp;&amp;/</text><path d="M14.9 -2.3h3.8v4.9h-3.8z" fill="none" stroke="#f0a820" stroke-opacity="0.3" stroke-width="0.6" transform="skewX(-12)"/></g>
<g transform="translate(804.5 683)" font-size="8" fill="#f0a820" font-weight="bold" font-style="italic"><text x="0" y="2.9">&amp;;&amp;/</text><path d="M17.5 -2.3h3.8v4.9h-3.8zM23.5 -2.3h3.8v4.9h-3.8z" fill="none" stroke="#f0a820" stroke-opacity="0.3" stroke-width="0.6" transform="skewX(-12)"/></g>
<g transform="translate(804.5 696.6)" font-size="8" fill="#f0a820" font-weight="bold" font-style="italic"><text x="0" y="2.9">&amp;;&amp;/</text><path d="M17.5 -2.3h3.8v4.9h-3.8zM23.5 -2.3h3.8v4.9h-3.8z" fill="none" stroke="#f0a820" stroke-opacity="0.3" stroke-width="0.6" transform="skewX(-12)"/></g>
<g transform="translate(621.5 594) rotate(-90)" font-size="8" fill="#222" stroke="#222" stroke-width="0.35" stroke-opacity=".45"><text x="-40.1" y="2.9">([SUHVVLRQ</text><text x="14.8" y="2.9">/HYHO</text><path d="M9.9 -2.3h3.8v4.9h-3.8z" fill="none" stroke="#bbb" stroke-opacity="1" stroke-width="0.6"/></g>
<g transform="translate(653.4 702) rotate(-60) scale(0.834 1)" font-size="8.4" fill="#222" stroke="#222" stroke-width="0.35" stroke-opacity=".45"><text x="-122.3" y="0">&amp;'</text><text x="-96.2" y="0">0&lt;&amp;</text><text x="-74.7" y="0">ILEUREODVWV</text><path d="M-113.9 -5.5h4v5.2h-4zM-107.6 -5.5h4v5.2h-4zM-101.3 -5.5h4v5.2h-4zM-79.8 -5.5h4v5.2h-4zM-11.5 -5.5h4v5.2h-4zM-5.2 -5.5h4v5.2h-4z" fill="none" stroke="#c8c8c8" stroke-opacity="1" stroke-width="0.6"/></g>
<g transform="translate(673.5 702) rotate(-60) scale(0.913 1)" font-size="8.4" fill="#222" stroke="#222" stroke-width="0.35" stroke-opacity=".45"><text x="-104.1" y="0">'HVPRSODVWLF</text><text x="-31.3" y="0">&amp;$)V</text><path d="M-36.4 -5.5h4v5.2h-4zM-11.5 -5.5h4v5.2h-4zM-5.2 -5.5h4v5.2h-4z" fill="none" stroke="#c8c8c8" stroke-opacity="1" stroke-width="0.6"/></g>
<g transform="translate(693.1 702) rotate(-60) scale(0.955 1)" font-size="8.4" fill="#222" stroke="#222" stroke-width="0.35" stroke-opacity=".45"><text x="-79.6" y="0">8QGHWHUPLQHG</text><path d="M-5.2 -5.5h4v5.2h-4z" fill="none" stroke="#c8c8c8" stroke-opacity="1" stroke-width="0.6"/></g>
<g transform="translate(713.4 702) rotate(-60) scale(0.793 1)" font-size="8.4" fill="#222" stroke="#222" stroke-width="0.35" stroke-opacity=".45"><text x="-93.4" y="0">/LSRILEUREODVWV</text><path d="M-11.5 -5.5h4v5.2h-4zM-5.2 -5.5h4v5.2h-4z" fill="none" stroke="#c8c8c8" stroke-opacity="1" stroke-width="0.6"/></g>
<g transform="translate(732.9 702) rotate(-60) scale(0.881 1)" font-size="8.4" fill="#222" stroke="#222" stroke-width="0.35" stroke-opacity=".45"><text x="-116.9" y="0">0\RILEUREODVWLF</text><text x="-31.3" y="0">&amp;$)V</text><path d="M-36.4 -5.5h4v5.2h-4zM-11.5 -5.5h4v5.2h-4zM-5.2 -5.5h4v5.2h-4z" fill="none" stroke="#c8c8c8" stroke-opacity="1" stroke-width="0.6"/></g>
<g transform="translate(753.2 702) rotate(-60) scale(0.829 1)" font-size="8.4" fill="#222" stroke="#222" stroke-width="0.35" stroke-opacity=".45"><text x="-115.8" y="0">3HULF\WHV</text><text x="-60.9" y="0">OLNH</text><text x="-31.3" y="0">&amp;$)V</text><path d="M-66.1 -5.5h4v5.2h-4zM-36.4 -5.5h4v5.2h-4zM-11.5 -5.5h4v5.2h-4zM-5.2 -5.5h4v5.2h-4z" fill="none" stroke="#c8c8c8" stroke-opacity="1" stroke-width="0.6"/></g>
<g transform="translate(772.9 702) rotate(-60) scale(0.911 1)" font-size="8.4" fill="#222" stroke="#222" stroke-width="0.35" stroke-opacity=".45"><text x="-101" y="0">,QIODPPDWRU\</text><text x="-31.3" y="0">&amp;$)V</text><path d="M-36.4 -5.5h4v5.2h-4zM-11.5 -5.5h4v5.2h-4zM-5.2 -5.5h4v5.2h-4z" fill="none" stroke="#c8c8c8" stroke-opacity="1" stroke-width="0.6"/></g>
<g transform="translate(793.2 702) rotate(-60) scale(0.702 1)" font-size="8.4" fill="#222" stroke="#222" stroke-width="0.35" stroke-opacity=".45"><text x="-148.2" y="0">$GYHQWLWLDO</text><text x="-74.7" y="0">ILEUREODVWV</text><path d="M-79.8 -5.5h4v5.2h-4zM-11.5 -5.5h4v5.2h-4zM-5.2 -5.5h4v5.2h-4z" fill="none" stroke="#c8c8c8" stroke-opacity="1" stroke-width="0.6"/></g>
<g transform="translate(668 797)" font-size="8.5" fill="#222" stroke="#222" stroke-width="0.35" stroke-opacity=".45"><text x="0" y="3.1">&amp;$)V</text><text x="25.3" y="3.1">VXEFOXVWHU</text><path d="M20 -2.5h4.1v5.2h-4.1z" fill="none" stroke="#bbb" stroke-opacity="1" stroke-width="0.6"/></g>
<g transform="translate(845.2 514) rotate(-90)" font-size="6.8" fill="#e06a6a" stroke="#e06a6a" stroke-width="0.35" stroke-opacity=".45"><text x="-34.4" y="2.4">'HVPRSODVLD</text><text x="18.9" y="2.4">DQG</text><path d="M14.8 -1.9h3.1v4.1h-3.1z" fill="none" stroke="#e06a6a" stroke-opacity="0.3" stroke-width="0.6"/></g>
<g transform="translate(853.1 510.6) rotate(-90)" font-size="6.8" fill="#e06a6a" stroke="#e06a6a" stroke-width="0.35" stroke-opacity=".45"><text x="-34.8" y="2.4">FHOO</text><text x="-10.1" y="2.4">FRQWDFWLR</text><path d="M-14.2 -1.9h3.1v4.1h-3.1z" fill="none" stroke="#e06a6a" stroke-opacity="0.3" stroke-width="0.6"/></g>
<g transform="translate(845.2 588) rotate(-90)" font-size="6.8" fill="#d040a8" stroke="#d040a8" stroke-width="0.35" stroke-opacity=".45"><text x="-14.3" y="2.4">7</text><text x="-5.4" y="2.4">FHOO</text><path d="M-9.5 -1.9h3.1v4.1h-3.1z" fill="none" stroke="#d040a8" stroke-opacity="0.3" stroke-width="0.6"/></g>
<g transform="translate(853.1 583) rotate(-90)" font-size="6.8" fill="#d040a8" stroke="#d040a8" stroke-width="0.35" stroke-opacity=".45"><text x="-39.3" y="2.4">LPPXQRVXSSUHVVLRQ</text></g>
<g transform="translate(845.2 640) rotate(-90)" font-size="6.8" fill="#3aa558" stroke="#3aa558" stroke-width="0.35" stroke-opacity=".45"><text x="-4.4" y="2.4">0</text><path d="M0.3 -1.9h3.1v4.1h-3.1z" fill="none" stroke="#3aa558" stroke-opacity="0.3" stroke-width="0.6"/></g>
<g transform="translate(853.1 636) rotate(-90)" font-size="6.8" fill="#3aa558" stroke="#3aa558" stroke-width="0.35" stroke-opacity=".45"><text x="-28.5" y="2.4">SRODULJDWLRQ</text></g>
<g transform="translate(845.2 683.5) rotate(-90)" font-size="6.8" fill="#f0c24a" stroke="#f0c24a" stroke-width="0.35" stroke-opacity=".45"><text x="-6.7" y="2.4">0'6&amp;</text></g>
<g transform="translate(853.1 686.4) rotate(-90)" font-size="6.8" fill="#f0c24a" stroke="#f0c24a" stroke-width="0.35" stroke-opacity=".45"><text x="-17" y="2.4">HIIHFWRU</text></g>
<g transform="translate(2.9 879.5)" font-size="15.5" fill="#000" font-weight="bold"><text x="0" y="5.6">F</text></g>
<rect x="36.5" y="904.3" width="6.4" height="2.7" fill="#f8766d" />
<rect x="36.5" y="907" width="6.4" height="41.4" fill="#cd9600" />
<rect x="36.5" y="948.4" width="6.4" height="19.4" fill="#7cae00" />
<rect x="36.5" y="967.8" width="6.4" height="49.8" fill="#00bfc4" />
<rect x="36.5" y="1017.6" width="6.4" height="8.7" fill="#c77cff" />
<rect x="43.9" y="904.3" width="6.4" height="2.4" fill="#f8766d" />
<rect x="43.9" y="906.7" width="6.4" height="2.5" fill="#7cae00" />
<rect x="43.9" y="909.2" width="6.4" height="100.6" fill="#00bfc4" />
<rect x="43.9" y="1009.9" width="6.4" height="14.1" fill="#00a9ff" />
<rect x="43.9" y="1023.9" width="6.4" height="2.4" fill="#c77cff" />
<rect x="51.3" y="904.3" width="6.4" height="7.2" fill="#f8766d" />
<rect x="51.3" y="911.5" width="6.4" height="88.2" fill="#cd9600" />
<rect x="51.3" y="999.7" width="6.4" height="26.6" fill="#00bfc4" />
<rect x="58.7" y="904.3" width="6.4" height="1.5" fill="#f8766d" />
<rect x="58.7" y="905.8" width="6.4" height="64.3" fill="#cd9600" />
<rect x="58.7" y="970.1" width="6.4" height="12.4" fill="#7cae00" />
<rect x="58.7" y="982.5" width="6.4" height="28" fill="#00bfc4" />
<rect x="58.7" y="1010.5" width="6.4" height="5.7" fill="#00a9ff" />
<rect x="58.7" y="1016.1" width="6.4" height="10.2" fill="#c77cff" />
<rect x="66.1" y="904.3" width="6.4" height="13.2" fill="#f8766d" />
<rect x="66.1" y="917.5" width="6.4" height="1.2" fill="#00be67" />
<rect x="66.1" y="918.7" width="6.4" height="51.4" fill="#00bfc4" />
<rect x="66.1" y="970.1" width="6.4" height="8.7" fill="#00a9ff" />
<rect x="66.1" y="978.8" width="6.4" height="47.5" fill="#c77cff" />
<rect x="73.5" y="904.3" width="6.4" height="8.4" fill="#f8766d" />
<rect x="73.5" y="912.7" width="6.4" height="78" fill="#cd9600" />
<rect x="73.5" y="990.7" width="6.4" height="5.7" fill="#7cae00" />
<rect x="73.5" y="996.4" width="6.4" height="12.6" fill="#00bfc4" />
<rect x="73.5" y="1009" width="6.4" height="17.3" fill="#c77cff" />
<rect x="80.9" y="904.3" width="6.4" height="44.9" fill="#cd9600" />
<rect x="80.9" y="949.2" width="6.4" height="73.3" fill="#7cae00" />
<rect x="80.9" y="1022.4" width="6.4" height="3.9" fill="#c77cff" />
<rect x="88.3" y="904.3" width="6.4" height="73" fill="#7cae00" />
<rect x="88.3" y="977.3" width="6.4" height="46.6" fill="#00bfc4" />
<rect x="88.3" y="1023.9" width="6.4" height="2.4" fill="#ff61cc" />
<rect x="95.7" y="904.3" width="6.4" height="51.7" fill="#cd9600" />
<rect x="95.7" y="956" width="6.4" height="32" fill="#7cae00" />
<rect x="95.7" y="988" width="6.4" height="22.9" fill="#00bfc4" />
<rect x="95.7" y="1010.9" width="6.4" height="15.4" fill="#c77cff" />
<rect x="103.1" y="904.3" width="6.4" height="31.8" fill="#cd9600" />
<rect x="103.1" y="936.1" width="6.4" height="19.4" fill="#7cae00" />
<rect x="103.1" y="955.6" width="6.4" height="60.3" fill="#00bfc4" />
<rect x="103.1" y="1015.8" width="6.4" height="10.5" fill="#c77cff" />
<rect x="110.5" y="904.3" width="6.4" height="5.4" fill="#f8766d" />
<rect x="110.5" y="909.7" width="6.4" height="40.4" fill="#cd9600" />
<rect x="110.5" y="950" width="6.4" height="71" fill="#00bfc4" />
<rect x="110.5" y="1021.1" width="6.4" height="5.2" fill="#c77cff" />
<rect x="117.9" y="904.3" width="6.4" height="1.9" fill="#f8766d" />
<rect x="117.9" y="906.2" width="6.4" height="70.3" fill="#cd9600" />
<rect x="117.9" y="976.5" width="6.4" height="43.4" fill="#00bfc4" />
<rect x="117.9" y="1019.9" width="6.4" height="6.4" fill="#c77cff" />
<rect x="125.3" y="904.3" width="6.4" height="92.1" fill="#cd9600" />
<rect x="125.3" y="996.4" width="6.4" height="16.7" fill="#00bfc4" />
<rect x="125.3" y="1013.1" width="6.4" height="13.2" fill="#c77cff" />
<rect x="132.7" y="904.3" width="6.4" height="87.2" fill="#cd9600" />
<rect x="132.7" y="991.5" width="6.4" height="4.9" fill="#7cae00" />
<rect x="132.7" y="996.4" width="6.4" height="28.7" fill="#00bfc4" />
<rect x="132.7" y="1025.1" width="6.4" height="1.2" fill="#c77cff" />
<rect x="140.1" y="904.3" width="6.4" height="1.9" fill="#f8766d" />
<rect x="140.1" y="906.2" width="6.4" height="1.9" fill="#00be67" />
<rect x="140.1" y="908.2" width="6.4" height="114.7" fill="#00bfc4" />
<rect x="140.1" y="1022.9" width="6.4" height="3.4" fill="#c77cff" />
<rect x="147.5" y="904.3" width="6.4" height="23.9" fill="#cd9600" />
<rect x="147.5" y="928.2" width="6.4" height="33.8" fill="#7cae00" />
<rect x="147.5" y="962" width="6.4" height="57.4" fill="#00bfc4" />
<rect x="147.5" y="1019.4" width="6.4" height="6.9" fill="#c77cff" />
<rect x="154.9" y="904.3" width="6.4" height="6.4" fill="#f8766d" />
<rect x="154.9" y="910.7" width="6.4" height="65.3" fill="#cd9600" />
<rect x="154.9" y="976.1" width="6.4" height="12" fill="#7cae00" />
<rect x="154.9" y="988" width="6.4" height="12.9" fill="#00bfc4" />
<rect x="154.9" y="1000.9" width="6.4" height="25.4" fill="#c77cff" />
<rect x="162.3" y="904.3" width="6.4" height="9.4" fill="#f8766d" />
<rect x="162.3" y="913.7" width="6.4" height="67.3" fill="#cd9600" />
<rect x="162.3" y="981" width="6.4" height="11.5" fill="#7cae00" />
<rect x="162.3" y="992.5" width="6.4" height="17.9" fill="#00bfc4" />
<rect x="162.3" y="1010.5" width="6.4" height="15.8" fill="#c77cff" />
<rect x="169.7" y="904.3" width="6.4" height="6.4" fill="#f8766d" />
<rect x="169.7" y="910.7" width="6.4" height="61.3" fill="#cd9600" />
<rect x="169.7" y="972" width="6.4" height="8.2" fill="#7cae00" />
<rect x="169.7" y="980.3" width="6.4" height="24.7" fill="#00bfc4" />
<rect x="169.7" y="1004.9" width="6.4" height="21.4" fill="#c77cff" />
<rect x="177.1" y="904.3" width="6.4" height="15.8" fill="#cd9600" />
<rect x="177.1" y="920.1" width="6.4" height="23.5" fill="#7cae00" />
<rect x="177.1" y="943.6" width="6.4" height="24.4" fill="#00be67" />
<rect x="177.1" y="968" width="6.4" height="43.4" fill="#00bfc4" />
<rect x="177.1" y="1011.3" width="6.4" height="15" fill="#c77cff" />
<rect x="184.5" y="904.3" width="6.4" height="2.4" fill="#f8766d" />
<rect x="184.5" y="906.7" width="6.4" height="36.9" fill="#cd9600" />
<rect x="184.5" y="943.6" width="6.4" height="82.7" fill="#00bfc4" />
<rect x="191.9" y="904.3" width="6.4" height="12.4" fill="#cd9600" />
<rect x="191.9" y="916.7" width="6.4" height="28.4" fill="#7cae00" />
<rect x="191.9" y="945.1" width="6.4" height="77.7" fill="#00bfc4" />
<rect x="191.9" y="1022.9" width="6.4" height="3.4" fill="#ff61cc" />
<rect x="199.3" y="904.3" width="6.4" height="2.4" fill="#f8766d" />
<rect x="199.3" y="906.7" width="6.4" height="15" fill="#cd9600" />
<rect x="199.3" y="921.6" width="6.4" height="1" fill="#7cae00" />
<rect x="199.3" y="922.7" width="6.4" height="52.3" fill="#00bfc4" />
<rect x="199.3" y="975" width="6.4" height="51.3" fill="#00a9ff" />
<rect x="206.7" y="904.3" width="6.4" height="3.4" fill="#f8766d" />
<rect x="206.7" y="907.7" width="6.4" height="31.4" fill="#cd9600" />
<rect x="206.7" y="939.1" width="6.4" height="80.3" fill="#00bfc4" />
<rect x="206.7" y="1019.4" width="6.4" height="6.9" fill="#c77cff" />
<rect x="214.1" y="904.3" width="6.4" height="6.9" fill="#f8766d" />
<rect x="214.1" y="911.2" width="6.4" height="73.3" fill="#cd9600" />
<rect x="214.1" y="984.4" width="6.4" height="12.3" fill="#7cae00" />
<rect x="214.1" y="996.7" width="6.4" height="17.6" fill="#00bfc4" />
<rect x="214.1" y="1014.3" width="6.4" height="12" fill="#c77cff" />
<rect x="221.5" y="904.3" width="6.4" height="85.7" fill="#cd9600" />
<rect x="221.5" y="990" width="6.4" height="2.2" fill="#7cae00" />
<rect x="221.5" y="992.2" width="6.4" height="34.1" fill="#00bfc4" />
<rect x="228.9" y="904.3" width="6.4" height="7.9" fill="#cd9600" />
<rect x="228.9" y="912.2" width="6.4" height="71.8" fill="#7cae00" />
<rect x="228.9" y="984" width="6.4" height="39.9" fill="#00bfc4" />
<rect x="228.9" y="1023.9" width="6.4" height="2.4" fill="#ff61cc" />
<rect x="236.3" y="904.3" width="6.4" height="4.9" fill="#7cae00" />
<rect x="236.3" y="909.2" width="6.4" height="27.7" fill="#00be67" />
<rect x="236.3" y="936.9" width="6.4" height="74.5" fill="#00bfc4" />
<rect x="236.3" y="1011.3" width="6.4" height="13.8" fill="#c77cff" />
<rect x="236.3" y="1025.1" width="6.4" height="1.2" fill="#ff61cc" />
<rect x="243.7" y="904.3" width="6.4" height="10.9" fill="#f8766d" />
<rect x="243.7" y="915.2" width="6.4" height="42.9" fill="#cd9600" />
<rect x="243.7" y="958.1" width="6.4" height="64" fill="#00bfc4" />
<rect x="243.7" y="1022.1" width="6.4" height="4.2" fill="#c77cff" />
<line x1="35.7" y1="904.3" x2="35.7" y2="1026.3" stroke="#333" stroke-width="0.8" />
<g transform="translate(34 904.3)" font-size="6.6" fill="#999" stroke="#999" stroke-width="0.35" stroke-opacity=".45"><path d="M-13.8 -1.8h2.9v3.8h-2.9zM-8.9 -1.8h2.9v3.8h-2.9zM-3.9 -1.8h2.9v3.8h-2.9z" fill="none" stroke="#b0b0b0" stroke-opacity="1" stroke-width="0.7"/></g>
<line x1="34.2" y1="904.3" x2="35.7" y2="904.3" stroke="#333" stroke-width="0.6" />
<g transform="translate(34 934.8)" font-size="6.6" fill="#999" stroke="#999" stroke-width="0.35" stroke-opacity=".45"><path d="M-13.8 -1.8h2.9v3.8h-2.9zM-8.9 -1.8h2.9v3.8h-2.9zM-3.9 -1.8h2.9v3.8h-2.9z" fill="none" stroke="#b0b0b0" stroke-opacity="1" stroke-width="0.7"/></g>
<line x1="34.2" y1="934.8" x2="35.7" y2="934.8" stroke="#333" stroke-width="0.6" />
<g transform="translate(34 965.3)" font-size="6.6" fill="#999" stroke="#999" stroke-width="0.35" stroke-opacity=".45"><path d="M-13.8 -1.8h2.9v3.8h-2.9zM-8.9 -1.8h2.9v3.8h-2.9zM-3.9 -1.8h2.9v3.8h-2.9z" fill="none" stroke="#b0b0b0" stroke-opacity="1" stroke-width="0.7"/></g>
<line x1="34.2" y1="965.3" x2="35.7" y2="965.3" stroke="#333" stroke-width="0.6" />
<g transform="translate(34 995.8)" font-size="6.6" fill="#999" stroke="#999" stroke-width="0.35" stroke-opacity=".45"><path d="M-13.8 -1.8h2.9v3.8h-2.9zM-8.9 -1.8h2.9v3.8h-2.9zM-3.9 -1.8h2.9v3.8h-2.9z" fill="none" stroke="#b0b0b0" stroke-opacity="1" stroke-width="0.7"/></g>
<line x1="34.2" y1="995.8" x2="35.7" y2="995.8" stroke="#333" stroke-width="0.6" />
<g transform="translate(34 1026.3)" font-size="6.6" fill="#999" stroke="#999" stroke-width="0.35" stroke-opacity=".45"><path d="M-13.8 -1.8h2.9v3.8h-2.9zM-8.9 -1.8h2.9v3.8h-2.9zM-3.9 -1.8h2.9v3.8h-2.9z" fill="none" stroke="#b0b0b0" stroke-opacity="1" stroke-width="0.7"/></g>
<line x1="34.2" y1="1026.3" x2="35.7" y2="1026.3" stroke="#333" stroke-width="0.6" />
<g transform="translate(9 958) rotate(-90)" font-size="8.5" fill="#222" stroke="#222" stroke-width="0.35" stroke-opacity=".45"><text x="-41.9" y="3.1">5HODWLYH</text><text x="12.6" y="3.1">VFRUH</text><path d="M7.4 -2.5h4.1v5.2h-4.1z" fill="none" stroke="#bbb" stroke-opacity="1" stroke-width="0.6"/></g>
<g transform="translate(39.7 1032) rotate(-90)" font-size="5.5" fill="#555" stroke="#555" stroke-width="0.35" stroke-opacity=".45"><text x="-1.5" y="2">3</text></g>
<g transform="translate(47.1 1032) rotate(-90)" font-size="5.5" fill="#555" stroke="#555" stroke-width="0.35" stroke-opacity=".45"><text x="-1.5" y="2">3</text></g>
<g transform="translate(54.5 1032) rotate(-90)" font-size="5.5" fill="#555" stroke="#555" stroke-width="0.35" stroke-opacity=".45"><text x="-1.5" y="2">3</text></g>
<g transform="translate(61.9 1032) rotate(-90)" font-size="5.5" fill="#555" stroke="#555" stroke-width="0.35" stroke-opacity=".45"><text x="-1.5" y="2">3</text></g>
<g transform="translate(69.3 1032) rotate(-90)" font-size="5.5" fill="#555" stroke="#555" stroke-width="0.35" stroke-opacity=".45"><text x="-1.5" y="2">3</text></g>
<g transform="translate(76.7 1032) rotate(-90)" font-size="5.5" fill="#555" stroke="#555" stroke-width="0.35" stroke-opacity=".45"><text x="-1.5" y="2">3</text></g>
<g transform="translate(84.1 1032) rotate(-90)" font-size="5.5" fill="#555" stroke="#555" stroke-width="0.35" stroke-opacity=".45"><text x="-1.5" y="2">3</text></g>
<g transform="translate(91.5 1032) rotate(-90)" font-size="5.5" fill="#555" stroke="#555" stroke-width="0.35" stroke-opacity=".45"><text x="-1.5" y="2">3</text></g>
<g transform="translate(98.9 1032) rotate(-90)" font-size="5.5" fill="#555" stroke="#555" stroke-width="0.35" stroke-opacity=".45"><text x="-1.5" y="2">3</text></g>
<g transform="translate(106.3 1032) rotate(-90)" font-size="5.5" fill="#555" stroke="#555" stroke-width="0.35" stroke-opacity=".45"><text x="-1.5" y="2">3</text></g>
<g transform="translate(113.7 1032) rotate(-90)" font-size="5.5" fill="#555" stroke="#555" stroke-width="0.35" stroke-opacity=".45"><text x="-1.5" y="2">3</text></g>
<g transform="translate(113.9 1038) rotate(-90)" font-size="4" fill="#bbb" stroke="#bbb" stroke-width="0.35" stroke-opacity=".45"><path d="M-2.4 -1.1h1.8v2.4h-1.8zM0.6 -1.1h1.8v2.4h-1.8z" fill="none" stroke="#ccc" stroke-opacity="1" stroke-width="0.4"/></g>
<g transform="translate(121.1 1032) rotate(-90)" font-size="5.5" fill="#555" stroke="#555" stroke-width="0.35" stroke-opacity=".45"><text x="-1.5" y="2">3</text></g>
<g transform="translate(121.3 1038) rotate(-90)" font-size="4" fill="#bbb" stroke="#bbb" stroke-width="0.35" stroke-opacity=".45"><path d="M-2.4 -1.1h1.8v2.4h-1.8zM0.6 -1.1h1.8v2.4h-1.8z" fill="none" stroke="#ccc" stroke-opacity="1" stroke-width="0.4"/></g>
<g transform="translate(128.5 1032) rotate(-90)" font-size="5.5" fill="#555" stroke="#555" stroke-width="0.35" stroke-opacity=".45"><text x="-1.5" y="2">3</text></g>
<g transform="translate(128.7 1038) rotate(-90)" font-size="4" fill="#bbb" stroke="#bbb" stroke-width="0.35" stroke-opacity=".45"><path d="M-2.4 -1.1h1.8v2.4h-1.8zM0.6 -1.1h1.8v2.4h-1.8z" fill="none" stroke="#ccc" stroke-opacity="1" stroke-width="0.4"/></g>
<g transform="translate(135.9 1032) rotate(-90)" font-size="5.5" fill="#555" stroke="#555" stroke-width="0.35" stroke-opacity=".45"><text x="-1.5" y="2">3</text></g>
<g transform="translate(136.1 1038) rotate(-90)" font-size="4" fill="#bbb" stroke="#bbb" stroke-width="0.35" stroke-opacity=".45"><path d="M-2.4 -1.1h1.8v2.4h-1.8zM0.6 -1.1h1.8v2.4h-1.8z" fill="none" stroke="#ccc" stroke-opacity="1" stroke-width="0.4"/></g>
<g transform="translate(143.3 1032) rotate(-90)" font-size="5.5" fill="#555" stroke="#555" stroke-width="0.35" stroke-opacity=".45"><text x="-1.5" y="2">3</text></g>
<g transform="translate(143.5 1038) rotate(-90)" font-size="4" fill="#bbb" stroke="#bbb" stroke-width="0.35" stroke-opacity=".45"><path d="M-2.4 -1.1h1.8v2.4h-1.8zM0.6 -1.1h1.8v2.4h-1.8z" fill="none" stroke="#ccc" stroke-opacity="1" stroke-width="0.4"/></g>
<g transform="translate(150.7 1032) rotate(-90)" font-size="5.5" fill="#555" stroke="#555" stroke-width="0.35" stroke-opacity=".45"><text x="-1.5" y="2">3</text></g>
<g transform="translate(150.9 1038) rotate(-90)" font-size="4" fill="#bbb" stroke="#bbb" stroke-width="0.35" stroke-opacity=".45"><path d="M-2.4 -1.1h1.8v2.4h-1.8zM0.6 -1.1h1.8v2.4h-1.8z" fill="none" stroke="#ccc" stroke-opacity="1" stroke-width="0.4"/></g>
<g transform="translate(158.1 1032) rotate(-90)" font-size="5.5" fill="#555" stroke="#555" stroke-width="0.35" stroke-opacity=".45"><text x="-1.5" y="2">3</text></g>
<g transform="translate(158.3 1038) rotate(-90)" font-size="4" fill="#bbb" stroke="#bbb" stroke-width="0.35" stroke-opacity=".45"><path d="M-2.4 -1.1h1.8v2.4h-1.8zM0.6 -1.1h1.8v2.4h-1.8z" fill="none" stroke="#ccc" stroke-opacity="1" stroke-width="0.4"/></g>
<g transform="translate(165.5 1032) rotate(-90)" font-size="5.5" fill="#555" stroke="#555" stroke-width="0.35" stroke-opacity=".45"><text x="-1.5" y="2">3</text></g>
<g transform="translate(165.7 1038) rotate(-90)" font-size="4" fill="#bbb" stroke="#bbb" stroke-width="0.35" stroke-opacity=".45"><path d="M-2.4 -1.1h1.8v2.4h-1.8zM0.6 -1.1h1.8v2.4h-1.8z" fill="none" stroke="#ccc" stroke-opacity="1" stroke-width="0.4"/></g>
<g transform="translate(172.9 1032) rotate(-90)" font-size="5.5" fill="#555" stroke="#555" stroke-width="0.35" stroke-opacity=".45"><text x="-1.5" y="2">3</text></g>
<g transform="translate(173.1 1038) rotate(-90)" font-size="4" fill="#bbb" stroke="#bbb" stroke-width="0.35" stroke-opacity=".45"><path d="M-2.4 -1.1h1.8v2.4h-1.8zM0.6 -1.1h1.8v2.4h-1.8z" fill="none" stroke="#ccc" stroke-opacity="1" stroke-width="0.4"/></g>
<g transform="translate(180.3 1032) rotate(-90)" font-size="5.5" fill="#555" stroke="#555" stroke-width="0.35" stroke-opacity=".45"><text x="-1.5" y="2">3</text></g>
<g transform="translate(180.5 1038) rotate(-90)" font-size="4" fill="#bbb" stroke="#bbb" stroke-width="0.35" stroke-opacity=".45"><path d="M-2.4 -1.1h1.8v2.4h-1.8zM0.6 -1.1h1.8v2.4h-1.8z" fill="none" stroke="#ccc" stroke-opacity="1" stroke-width="0.4"/></g>
<g transform="translate(187.7 1032) rotate(-90)" font-size="5.5" fill="#555" stroke="#555" stroke-width="0.35" stroke-opacity=".45"><text x="-1.5" y="2">3</text></g>
<g transform="translate(187.9 1038) rotate(-90)" font-size="4" fill="#bbb" stroke="#bbb" stroke-width="0.35" stroke-opacity=".45"><path d="M-2.4 -1.1h1.8v2.4h-1.8zM0.6 -1.1h1.8v2.4h-1.8z" fill="none" stroke="#ccc" stroke-opacity="1" stroke-width="0.4"/></g>
<g transform="translate(195.1 1032) rotate(-90)" font-size="5.5" fill="#555" stroke="#555" stroke-width="0.35" stroke-opacity=".45"><text x="-1.5" y="2">3</text></g>
<g transform="translate(195.3 1038) rotate(-90)" font-size="4" fill="#bbb" stroke="#bbb" stroke-width="0.35" stroke-opacity=".45"><path d="M-2.4 -1.1h1.8v2.4h-1.8zM0.6 -1.1h1.8v2.4h-1.8z" fill="none" stroke="#ccc" stroke-opacity="1" stroke-width="0.4"/></g>
<g transform="translate(202.5 1032) rotate(-90)" font-size="5.5" fill="#555" stroke="#555" stroke-width="0.35" stroke-opacity=".45"><text x="-1.5" y="2">3</text></g>
<g transform="translate(202.7 1038) rotate(-90)" font-size="4" fill="#bbb" stroke="#bbb" stroke-width="0.35" stroke-opacity=".45"><path d="M-2.4 -1.1h1.8v2.4h-1.8zM0.6 -1.1h1.8v2.4h-1.8z" fill="none" stroke="#ccc" stroke-opacity="1" stroke-width="0.4"/></g>
<g transform="translate(209.9 1032) rotate(-90)" font-size="5.5" fill="#555" stroke="#555" stroke-width="0.35" stroke-opacity=".45"><text x="-1.5" y="2">3</text></g>
<g transform="translate(210.1 1038) rotate(-90)" font-size="4" fill="#bbb" stroke="#bbb" stroke-width="0.35" stroke-opacity=".45"><path d="M-2.4 -1.1h1.8v2.4h-1.8zM0.6 -1.1h1.8v2.4h-1.8z" fill="none" stroke="#ccc" stroke-opacity="1" stroke-width="0.4"/></g>
<g transform="translate(217.3 1032) rotate(-90)" font-size="5.5" fill="#555" stroke="#555" stroke-width="0.35" stroke-opacity=".45"><text x="-1.5" y="2">3</text></g>
<g transform="translate(217.5 1038) rotate(-90)" font-size="4" fill="#bbb" stroke="#bbb" stroke-width="0.35" stroke-opacity=".45"><path d="M-2.4 -1.1h1.8v2.4h-1.8zM0.6 -1.1h1.8v2.4h-1.8z" fill="none" stroke="#ccc" stroke-opacity="1" stroke-width="0.4"/></g>
<g transform="translate(224.7 1032) rotate(-90)" font-size="5.5" fill="#555" stroke="#555" stroke-width="0.35" stroke-opacity=".45"><text x="-1.5" y="2">3</text></g>
<g transform="translate(224.9 1038) rotate(-90)" font-size="4" fill="#bbb" stroke="#bbb" stroke-width="0.35" stroke-opacity=".45"><path d="M-2.4 -1.1h1.8v2.4h-1.8zM0.6 -1.1h1.8v2.4h-1.8z" fill="none" stroke="#ccc" stroke-opacity="1" stroke-width="0.4"/></g>
<g transform="translate(232.1 1032) rotate(-90)" font-size="5.5" fill="#555" stroke="#555" stroke-width="0.35" stroke-opacity=".45"><text x="-1.5" y="2">3</text></g>
<g transform="translate(232.3 1038) rotate(-90)" font-size="4" fill="#bbb" stroke="#bbb" stroke-width="0.35" stroke-opacity=".45"><path d="M-2.4 -1.1h1.8v2.4h-1.8zM0.6 -1.1h1.8v2.4h-1.8z" fill="none" stroke="#ccc" stroke-opacity="1" stroke-width="0.4"/></g>
<g transform="translate(239.5 1032) rotate(-90)" font-size="5.5" fill="#555" stroke="#555" stroke-width="0.35" stroke-opacity=".45"><text x="-1.5" y="2">3</text></g>
<g transform="translate(239.7 1038) rotate(-90)" font-size="4" fill="#bbb" stroke="#bbb" stroke-width="0.35" stroke-opacity=".45"><path d="M-2.4 -1.1h1.8v2.4h-1.8zM0.6 -1.1h1.8v2.4h-1.8z" fill="none" stroke="#ccc" stroke-opacity="1" stroke-width="0.4"/></g>
<g transform="translate(246.9 1032) rotate(-90)" font-size="5.5" fill="#555" stroke="#555" stroke-width="0.35" stroke-opacity=".45"><text x="-1.5" y="2">3</text></g>
<g transform="translate(247.1 1038) rotate(-90)" font-size="4" fill="#bbb" stroke="#bbb" stroke-width="0.35" stroke-opacity=".45"><path d="M-2.4 -1.1h1.8v2.4h-1.8zM0.6 -1.1h1.8v2.4h-1.8z" fill="none" stroke="#ccc" stroke-opacity="1" stroke-width="0.4"/></g>
<g transform="translate(112.8 1047)" font-size="8.3" fill="#222" stroke="#222" stroke-width="0.35" stroke-opacity=".45"><text x="0" y="3">%XON</text><text x="31.6" y="3">51$</text><text x="51.7" y="3">VHT</text><text x="74.5" y="3">VDPSOH</text><path d="M26.5 -2.4h4v5.1h-4zM46.6 -2.4h4v5.1h-4zM69.4 -2.4h4v5.1h-4z" fill="none" stroke="#bbb" stroke-opacity="1" stroke-width="0.6"/></g>
<g transform="translate(256.7 931)" font-size="8" fill="#000" font-weight="bold"><text x="0" y="2.9">&amp;$)V</text><text x="24.2" y="2.9">VXEFOXVWHU</text><path d="M19.3 -2.3h3.8v4.9h-3.8z" fill="none" stroke="#bbb" stroke-opacity="1" stroke-width="0.6"/></g>
<rect x="256.7" y="939" width="7.2" height="6.8" fill="#f8766d" />
<g transform="translate(268.9 942.4)" font-size="8.4" fill="#111" stroke="#111" stroke-width="0.35" stroke-opacity=".45"><text x="0" y="3">&amp;'</text><text x="26.1" y="3">0&lt;&amp;</text><text x="47.6" y="3">ILEUREODVWV</text><path d="M8.3 -2.5h4v5.2h-4zM14.6 -2.5h4v5.2h-4zM20.9 -2.5h4v5.2h-4zM42.4 -2.5h4v5.2h-4zM110.8 -2.5h4v5.2h-4z" fill="none" stroke="#bbb" stroke-opacity="1" stroke-width="0.6"/></g>
<rect x="256.7" y="947.2" width="7.2" height="6.8" fill="#cd9600" />
<g transform="translate(268.9 950.6)" font-size="8.4" fill="#111" stroke="#111" stroke-width="0.35" stroke-opacity=".45"><text x="0" y="3">'HVPRSODVWLF</text><text x="72.8" y="3">&amp;$)V</text><text x="97.8" y="3">i</text><path d="M67.6 -2.5h4v5.2h-4zM92.6 -2.5h4v5.2h-4zM100.8 -2.5h4v5.2h-4zM107.1 -2.5h4v5.2h-4z" fill="none" stroke="#bbb" stroke-opacity="1" stroke-width="0.6"/></g>
<rect x="256.7" y="955.4" width="7.2" height="6.8" fill="#7cae00" />
<g transform="translate(268.9 958.8)" font-size="8.4" fill="#111" stroke="#111" stroke-width="0.35" stroke-opacity=".45"><text x="0" y="3">8QGHWHUPLQHG</text><text x="79.6" y="3">&amp;$)V</text><text x="104.5" y="3">i</text><path d="M74.4 -2.5h4v5.2h-4zM99.4 -2.5h4v5.2h-4zM107.6 -2.5h4v5.2h-4zM113.9 -2.5h4v5.2h-4z" fill="none" stroke="#bbb" stroke-opacity="1" stroke-width="0.6"/></g>
<rect x="256.7" y="963.6" width="7.2" height="6.8" fill="#00be67" />
<g transform="translate(268.9 967)" font-size="8.4" fill="#111" stroke="#111" stroke-width="0.35" stroke-opacity=".45"><text x="0" y="3">/LSRILEUREODVWV</text><text x="87.1" y="3">i</text><path d="M81.9 -2.5h4v5.2h-4zM90.1 -2.5h4v5.2h-4z" fill="none" stroke="#bbb" stroke-opacity="1" stroke-width="0.6"/></g>
<rect x="256.7" y="971.8" width="7.2" height="6.8" fill="#00bfc4" />
<g transform="translate(268.9 975.2)" font-size="8.4" fill="#111" stroke="#111" stroke-width="0.35" stroke-opacity=".45"><text x="0" y="3">0\RILEUREODVWLF</text><text x="85.6" y="3">&amp;$)V</text><text x="110.6" y="3">i</text><path d="M80.5 -2.5h4v5.2h-4zM105.5 -2.5h4v5.2h-4zM113.6 -2.5h4v5.2h-4z" fill="none" stroke="#bbb" stroke-opacity="1" stroke-width="0.6"/></g>
<rect x="256.7" y="980" width="7.2" height="6.8" fill="#00a9ff" />
<g transform="translate(268.9 983.4)" font-size="8.4" fill="#111" stroke="#111" stroke-width="0.35" stroke-opacity=".45"><text x="0" y="3">3HULF\WHV</text><text x="54.8" y="3">OLNH</text><text x="84.5" y="3">&amp;$)V</text><text x="109.5" y="3">i</text><path d="M49.7 -2.5h4v5.2h-4zM79.3 -2.5h4v5.2h-4zM104.3 -2.5h4v5.2h-4zM112.5 -2.5h4v5.2h-4zM118.8 -2.5h4v5.2h-4z" fill="none" stroke="#bbb" stroke-opacity="1" stroke-width="0.6"/></g>
<rect x="256.7" y="988.2" width="7.2" height="6.8" fill="#c77cff" />
<g transform="translate(268.9 991.6)" font-size="8.4" fill="#111" stroke="#111" stroke-width="0.35" stroke-opacity=".45"><text x="0" y="3">,QIODPPDWRU\</text><text x="69.8" y="3">&amp;$)V</text><text x="94.7" y="3">i</text><path d="M64.6 -2.5h4v5.2h-4zM89.6 -2.5h4v5.2h-4zM97.7 -2.5h4v5.2h-4zM104 -2.5h4v5.2h-4z" fill="none" stroke="#bbb" stroke-opacity="1" stroke-width="0.6"/></g>
<rect x="256.7" y="996.4" width="7.2" height="6.8" fill="#ff61cc" />
<g transform="translate(268.9 999.8)" font-size="8.4" fill="#111" stroke="#111" stroke-width="0.35" stroke-opacity=".45"><text x="0" y="3">$GYHQWLWLDO</text><text x="73.5" y="3">ILEUREODVWV</text><path d="M68.3 -2.5h4v5.2h-4zM136.7 -2.5h4v5.2h-4z" fill="none" stroke="#bbb" stroke-opacity="1" stroke-width="0.6"/></g>
<g transform="translate(349 832.2)" font-size="14.5" fill="#000" font-weight="bold"><text x="0" y="5.2">G</text></g>
<defs>
<filter id="tx" x="0" y="0" width="1" height="1" color-interpolation-filters="sRGB" primitiveUnits="userSpaceOnUse"><feTurbulence type="fractalNoise" baseFrequency="0.2 0.33" numOctaves="3" seed="9" result="n"/><feColorMatrix in="n" values="0 0 0 0 0 0 0 0 0 0 0 0 0 0 0 2.6 0 0 0 -1.05" result="m"/><feComposite in="SourceGraphic" in2="m" operator="in"/></filter>
<filter id="tx2" x="0" y="0" width="1" height="1" color-interpolation-filters="sRGB" primitiveUnits="userSpaceOnUse"><feTurbulence type="fractalNoise" baseFrequency="0.18 0.3" numOctaves="3" seed="21" result="n"/><feColorMatrix in="n" values="0 0 0 0 0 0 0 0 0 0 0 0 0 0 0 0 2.8 0 0 -1.1" result="m"/><feComposite in="SourceGraphic" in2="m" operator="in"/></filter>
<filter id="tx3" x="0" y="0" width="1" height="1" color-interpolation-filters="sRGB" primitiveUnits="userSpaceOnUse"><feTurbulence type="fractalNoise" baseFrequency="0.12 0.22" numOctaves="2" seed="5" result="n"/><feColorMatrix in="n" values="0 0 0 0 0 0 0 0 0 0 0 0 0 0 0 0 0 3.6 0 -1.45" result="m"/><feComposite in="SourceGraphic" in2="m" operator="in"/></filter>
<filter id="tx4" x="0" y="0" width="1" height="1" color-interpolation-filters="sRGB" primitiveUnits="userSpaceOnUse"><feTurbulence type="fractalNoise" baseFrequency="0.22 0.22" numOctaves="2" seed="33" result="n"/><feColorMatrix in="n" values="0 0 0 0 0 0 0 0 0 0 0 0 0 0 0 4.0 0 0 0 -2.3" result="m"/><feComposite in="SourceGraphic" in2="m" operator="in"/></filter>
<filter id="tx5" x="0" y="0" width="1" height="1" color-interpolation-filters="sRGB" primitiveUnits="userSpaceOnUse"><feTurbulence type="fractalNoise" baseFrequency="0.22 0.25" numOctaves="2" seed="44" result="n"/><feColorMatrix in="n" values="0 0 0 0 0 0 0 0 0 0 0 0 0 0 0 0 3.0 0 0 -1.35" result="m"/><feComposite in="SourceGraphic" in2="m" operator="in"/></filter>
<filter id="tx6" x="0" y="0" width="1" height="1" color-interpolation-filters="sRGB" primitiveUnits="userSpaceOnUse"><feTurbulence type="fractalNoise" baseFrequency="0.6 0.6" numOctaves="1" seed="55" result="n"/><feColorMatrix in="n" values="0 0 0 0 0 0 0 0 0 0 0 0 0 0 0 0 0 4.0 0 -2.4" result="m"/><feComposite in="SourceGraphic" in2="m" operator="in"/></filter>
<clipPath id="gclip"><rect x="382.8" y="842.8" width="205.8" height="245.2"/></clipPath>
</defs>
<rect x="382.8" y="842.8" width="205.8" height="245.2" fill="#000" />
<g clip-path="url(#gclip)">
<path d="M383.6 876.2L416.2 854.5L428.3 847.2L452.5 844.8L488.7 846L534.6 847.2L539.4 854.5L549.1 859.3L563.6 855.7L580.5 853.3L582.9 864.2L580.5 912.5L582.9 936.6L587.7 958.4L585.3 963.2L563.6 984.9L544.3 980.1L537 975.3L524.9 971.6L510.4 976.5L495.9 987.3L498.4 991L510.4 986.1L524.9 980.1L534.6 984.9L549.1 997L546.7 1009.1L534.6 1023.6L537 1045.3L549.1 1057.4L551.5 1071.9L546.7 1081.5L524.9 1084L500.8 1079.1L476.6 1064.6L452.5 1042.9L428.3 1013.9L409 984.9L394.5 953.5L383.6 943.9Z" fill="#40280f"/>
<path d="M383.6 876.2L416.2 854.5L428.3 847.2L452.5 844.8L488.7 846L534.6 847.2L539.4 854.5L549.1 859.3L563.6 855.7L580.5 853.3L582.9 864.2L580.5 912.5L582.9 936.6L587.7 958.4L585.3 963.2L563.6 984.9L544.3 980.1L537 975.3L524.9 971.6L510.4 976.5L495.9 987.3L498.4 991L510.4 986.1L524.9 980.1L534.6 984.9L549.1 997L546.7 1009.1L534.6 1023.6L537 1045.3L549.1 1057.4L551.5 1071.9L546.7 1081.5L524.9 1084L500.8 1079.1L476.6 1064.6L452.5 1042.9L428.3 1013.9L409 984.9L394.5 953.5L383.6 943.9Z" fill="#d06a2a" filter="url(#tx)"/>
<path d="M383.6 876.2L416.2 854.5L428.3 847.2L452.5 844.8L488.7 846L534.6 847.2L539.4 854.5L549.1 859.3L563.6 855.7L580.5 853.3L582.9 864.2L580.5 912.5L582.9 936.6L587.7 958.4L585.3 963.2L563.6 984.9L544.3 980.1L537 975.3L524.9 971.6L510.4 976.5L495.9 987.3L498.4 991L510.4 986.1L524.9 980.1L534.6 984.9L549.1 997L546.7 1009.1L534.6 1023.6L537 1045.3L549.1 1057.4L551.5 1071.9L546.7 1081.5L524.9 1084L500.8 1079.1L476.6 1064.6L452.5 1042.9L428.3 1013.9L409 984.9L394.5 953.5L383.6 943.9Z" fill="#a82a14" filter="url(#tx5)" opacity=".8"/>
<path d="M383.6 876.2L416.2 854.5L428.3 847.2L452.5 844.8L488.7 846L534.6 847.2L539.4 854.5L549.1 859.3L563.6 855.7L580.5 853.3L582.9 864.2L580.5 912.5L582.9 936.6L587.7 958.4L585.3 963.2L563.6 984.9L544.3 980.1L537 975.3L524.9 971.6L510.4 976.5L495.9 987.3L498.4 991L510.4 986.1L524.9 980.1L534.6 984.9L549.1 997L546.7 1009.1L534.6 1023.6L537 1045.3L549.1 1057.4L551.5 1071.9L546.7 1081.5L524.9 1084L500.8 1079.1L476.6 1064.6L452.5 1042.9L428.3 1013.9L409 984.9L394.5 953.5L383.6 943.9Z" fill="#8aa030" filter="url(#tx2)" opacity=".45"/>
<path d="M383.6 876.2L413.8 876.2L429.5 895.6L447.6 941.4L459.7 972.9L476.6 997L488.7 1023.6L494.7 1045.3L515.3 1057.4L546.7 1071.9L549.1 1081.5L524.9 1081.5L500.8 1075.5L476.6 1061L452.5 1039.3L429.5 1010.3L410.2 982.5L396.9 953.5L383.6 941.4Z" fill="#347a22"/>
<path d="M383.6 876.2L413.8 876.2L429.5 895.6L447.6 941.4L459.7 972.9L476.6 997L488.7 1023.6L494.7 1045.3L515.3 1057.4L546.7 1071.9L549.1 1081.5L524.9 1081.5L500.8 1075.5L476.6 1061L452.5 1039.3L429.5 1010.3L410.2 982.5L396.9 953.5L383.6 941.4Z" fill="#80d84a" filter="url(#tx2)"/>
<path d="M383.6 876.2L413.8 876.2L429.5 895.6L447.6 941.4L459.7 972.9L476.6 997L488.7 1023.6L494.7 1045.3L515.3 1057.4L546.7 1071.9L549.1 1081.5L524.9 1081.5L500.8 1075.5L476.6 1061L452.5 1039.3L429.5 1010.3L410.2 982.5L396.9 953.5L383.6 941.4Z" fill="#1a4a10" filter="url(#tx4)" opacity=".5"/>
<path d="M431.9 895.6L459.7 888.3L488.7 895.6L508 912.5L515.3 936.6L515.3 955.9L505.6 975.3L493.5 984.9L495.9 999.4L515.3 994.6L534.6 1004.3L534.6 1023.6L524.9 1040.5L505.6 1038.1L493.5 1023.6L480.2 997L463.3 968L448.8 936.6L434.3 912.5Z" fill="#7090e8" filter="url(#tx3)" opacity=".9"/>
<path d="M431.9 895.6L459.7 888.3L488.7 895.6L508 912.5L515.3 936.6L515.3 955.9L505.6 975.3L493.5 984.9L495.9 999.4L515.3 994.6L534.6 1004.3L534.6 1023.6L524.9 1040.5L505.6 1038.1L493.5 1023.6L480.2 997L463.3 968L448.8 936.6L434.3 912.5Z" fill="#6a88e0" filter="url(#tx3)" opacity=".5" transform="translate(3 2)"/>
<path d="M416.2 854.5L452.5 849.7L459.7 864.2L440.4 869L425.9 870.2Z" fill="#6a88e0" filter="url(#tx3)" opacity=".7"/>
<path d="M383.6 943.9L394.5 953.5L409 984.9L428.3 1013.9L452.5 1042.9L476.6 1064.6L500.8 1079.1L524.9 1084L546.7 1081.5L549.1 1077.9L524.9 1079.1L500.8 1073.8L477.8 1060.3L454.9 1038.6L431.9 1009.1L413.8 981.3L399.3 951.1L383.6 937.8Z" fill="#b85a22" opacity=".85"/>
<path d="M383.6 943.9L394.5 953.5L409 984.9L428.3 1013.9L452.5 1042.9L476.6 1064.6L500.8 1079.1L524.9 1084L546.7 1081.5L549.1 1077.9L524.9 1079.1L500.8 1073.8L477.8 1060.3L454.9 1038.6L431.9 1009.1L413.8 981.3L399.3 951.1L383.6 937.8Z" fill="#f0b050" filter="url(#tx)" opacity=".6"/>
<path d="M383.6 876.2L416.2 854.5L428.3 847.2L452.5 844.8L488.7 846L534.6 847.2L539.4 854.5L549.1 859.3L563.6 855.7L580.5 853.3L582.9 864.2L580.5 912.5L582.9 936.6L587.7 958.4L585.3 963.2L563.6 984.9L544.3 980.1L537 975.3L524.9 971.6L510.4 976.5L495.9 987.3L498.4 991L510.4 986.1L524.9 980.1L534.6 984.9L549.1 997L546.7 1009.1L534.6 1023.6L537 1045.3L549.1 1057.4L551.5 1071.9L546.7 1081.5L524.9 1084L500.8 1079.1L476.6 1064.6L452.5 1042.9L428.3 1013.9L409 984.9L394.5 953.5L383.6 943.9Z" fill="#000" filter="url(#tx4)" opacity=".75"/>
<path d="M383.6 876.2L416.2 854.5L428.3 847.2L452.5 844.8L488.7 846L534.6 847.2L539.4 854.5L549.1 859.3L563.6 855.7L580.5 853.3L582.9 864.2L580.5 912.5L582.9 936.6L587.7 958.4L585.3 963.2L563.6 984.9L544.3 980.1L537 975.3L524.9 971.6L510.4 976.5L495.9 987.3L498.4 991L510.4 986.1L524.9 980.1L534.6 984.9L549.1 997L546.7 1009.1L534.6 1023.6L537 1045.3L549.1 1057.4L551.5 1071.9L546.7 1081.5L524.9 1084L500.8 1079.1L476.6 1064.6L452.5 1042.9L428.3 1013.9L409 984.9L394.5 953.5L383.6 943.9Z" fill="#f0e040" filter="url(#tx6)" opacity=".8"/>
<path d="M425.9 870.2L440.4 869L464.5 871.4L488.7 876.2L512.9 869L534.6 862.9L539.4 854.5L534.6 867.8L512.9 876.2L488.7 884.7L464.5 884.7L440.4 876.2L425.9 871.4Z" fill="#000"/>
<circle cx="526" cy="911" r="5.3" fill="#1e5a18" opacity=".9"/>
<circle cx="543" cy="910" r="6" fill="#1e5a18" opacity=".9"/>
<ellipse cx="555" cy="1035" rx="1" ry="3" fill="#5070c0" opacity=".8"/>
<ellipse cx="548" cy="1045" rx="1" ry="3" fill="#5070c0" opacity=".8"/>
<ellipse cx="560" cy="1050" rx="1" ry="3" fill="#5070c0" opacity=".8"/>
</g>
<rect x="382.8" y="842.8" width="31" height="33" fill="#000" />
<g transform="translate(384.3 847.3)" font-size="7.8" fill="#e82020" font-weight="bold"><text x="0" y="2.8">$&amp;</text><text x="15.8" y="2.8">7$</text><path d="M11.1 -2.3h3.7v4.8h-3.7zM25.6 -2.3h3.7v4.8h-3.7z" fill="none" stroke="#e82020" stroke-opacity="0.5" stroke-width="0.6"/></g>
<g transform="translate(384.3 855.3)" font-size="7.8" fill="#f0f020" font-weight="bold"><text x="0" y="2.8">0&amp;$0</text></g>
<g transform="translate(384.3 863.3)" font-size="7.8" fill="#20c040" font-weight="bold"><text x="0" y="2.8">)$</text><text x="12.8" y="2.8">3</text><path d="M8 -2.3h3.7v4.8h-3.7z" fill="none" stroke="#20c040" stroke-opacity="0.5" stroke-width="0.6"/></g>
<g transform="translate(384.3 871.3)" font-size="7.8" fill="#4060e0" font-weight="bold"><text x="0" y="2.8">'$3,</text></g>
<rect x="538.2" y="922" width="13.8" height="13.4" fill="none" stroke="#fff" stroke-width="0.9" />
<g transform="translate(535.5 929)" font-size="8.5" fill="#fff" stroke="#fff" stroke-width="0.35" stroke-opacity=".45"><text x="-4.7" y="3.1">6</text></g>
<rect x="409" y="987.8" width="14" height="13.6" fill="none" stroke="#fff" stroke-width="0.9" />
<g transform="translate(406 995)" font-size="8.5" fill="#fff" stroke="#fff" stroke-width="0.35" stroke-opacity=".45"><text x="-4.7" y="3.1">7</text></g>
<rect x="504.9" y="999" width="13.7" height="13.7" fill="none" stroke="#fff" stroke-width="0.9" />
<g transform="translate(502 1006)" font-size="8.5" fill="#fff" stroke="#fff" stroke-width="0.35" stroke-opacity=".45"><text x="-4.7" y="3.1">7</text></g>
<line x1="385.4" y1="1077.5" x2="408.7" y2="1077.5" stroke="#ddd" stroke-width="1" />
<g transform="translate(386.6 1082.5)" font-size="7.5" fill="#ddd" stroke="#ddd" stroke-width="0.35" stroke-opacity=".45"><text x="11.2" y="2.7">PP</text><path d="M1.1 -2.2h3.5v4.6h-3.5zM6.7 -2.2h3.5v4.6h-3.5z" fill="none" stroke="#888" stroke-opacity="1" stroke-width="0.6"/></g>
<clipPath id="ic0"><rect x="590.8" y="843.2" width="80.8" height="79.5"/></clipPath>
<rect x="590.8" y="843.2" width="80.8" height="79.5" fill="#000" />
<g clip-path="url(#ic0)">
<rect x="590.8" y="843.2" width="80.8" height="79.5" fill="#3a2410" />
<rect x="590.8" y="843.2" width="80.8" height="79.5" fill="#d8742c" filter="url(#tx)"/>
<rect x="590.8" y="843.2" width="80.8" height="79.5" fill="#b02a14" filter="url(#tx5)" opacity=".7"/>
<rect x="590.8" y="843.2" width="80.8" height="79.5" fill="#6ab838" filter="url(#tx2)" opacity=".55"/>
<rect x="590.8" y="843.2" width="80.8" height="79.5" fill="#f0e040" filter="url(#tx6)" opacity=".8"/>
<ellipse cx="654" cy="862" rx="8" ry="4.5" transform="rotate(-30 654 862)" fill="#000"/>
<ellipse cx="628" cy="898" rx="7" ry="5" transform="rotate(-40 628 898)" fill="#000"/>
<ellipse cx="670" cy="905" rx="3" ry="4" transform="rotate(0 670 905)" fill="#000"/>
<ellipse cx="640" cy="880" rx="2" ry="1.5" transform="rotate(0 640 880)" fill="#000"/>
<ellipse cx="600" cy="870" rx="2" ry="1.5" transform="rotate(0 600 870)" fill="#000"/>
<ellipse cx="654" cy="862" rx="2" ry="1.5" fill="#40c0a0"/>
</g>
<rect x="590.8" y="843.2" width="25.5" height="30" fill="#000" />
<g transform="translate(592.3 847.7)" font-size="7.2" fill="#e82020" font-weight="bold"><text x="0" y="2.6">$&amp;</text><text x="14.6" y="2.6">7$</text><path d="M10.2 -2.1h3.4v4.4h-3.4zM23.6 -2.1h3.4v4.4h-3.4z" fill="none" stroke="#e82020" stroke-opacity="0.5" stroke-width="0.6"/></g>
<g transform="translate(592.3 855.3)" font-size="7.2" fill="#f0f020" font-weight="bold"><text x="0" y="2.6">0&amp;$0</text></g>
<g transform="translate(592.3 862.9)" font-size="7.2" fill="#20c040" font-weight="bold"><text x="0" y="2.6">)$</text><text x="11.8" y="2.6">3</text><path d="M7.4 -2.1h3.4v4.4h-3.4z" fill="none" stroke="#20c040" stroke-opacity="0.5" stroke-width="0.6"/></g>
<g transform="translate(592.3 870.5)" font-size="7.2" fill="#4060e0" font-weight="bold"><text x="0" y="2.6">'$3</text></g>
<g transform="translate(668.6 849.2)" font-size="8" fill="#eee" stroke="#eee" stroke-width="0.35" stroke-opacity=".45"><text x="-4.4" y="2.9">6</text></g>
<line x1="598.8" y1="914.2" x2="610.8" y2="914.2" stroke="#ddd" stroke-width="1" />
<g transform="translate(592.8 918.7)" font-size="7" fill="#ddd" stroke="#ddd" stroke-width="0.35" stroke-opacity=".45"><text x="15.8" y="2.5">XP</text><path d="M1 -2h3.2v4.2h-3.2zM6.2 -2h3.2v4.2h-3.2zM11.5 -2h3.2v4.2h-3.2z" fill="none" stroke="#777" stroke-opacity="1" stroke-width="0.6"/></g>
<clipPath id="ic1"><rect x="590.8" y="925" width="80.8" height="79.6"/></clipPath>
<rect x="590.8" y="925" width="80.8" height="79.6" fill="#000" />
<g clip-path="url(#ic1)">
<rect x="590.8" y="925" width="80.8" height="79.6" fill="#3a2410" />
<rect x="590.8" y="925" width="80.8" height="79.6" fill="#d8742c" filter="url(#tx)"/>
<rect x="590.8" y="925" width="80.8" height="79.6" fill="#b02a14" filter="url(#tx5)" opacity=".7"/>
<rect x="590.8" y="925" width="80.8" height="79.6" fill="#6ab838" filter="url(#tx2)" opacity=".55"/>
<rect x="590.8" y="925" width="80.8" height="79.6" fill="#f0e040" filter="url(#tx6)" opacity=".8"/>
<ellipse cx="635" cy="952" rx="16" ry="5.5" transform="rotate(-65 635 952)" fill="#4a82dc" stroke="#a04818" stroke-width=".8"/>
<ellipse cx="620" cy="975" rx="15" ry="8" transform="rotate(-25 620 975)" fill="#4a82dc" stroke="#a04818" stroke-width=".8"/>
<ellipse cx="656" cy="961" rx="16" ry="6" transform="rotate(-20 656 961)" fill="#4a82dc" stroke="#a04818" stroke-width=".8"/>
<ellipse cx="662" cy="981" rx="8" ry="5" transform="rotate(-30 662 981)" fill="#4a82dc" stroke="#a04818" stroke-width=".8"/>
<ellipse cx="612" cy="988" rx="7" ry="4" transform="rotate(-30 612 988)" fill="#4a82dc" stroke="#a04818" stroke-width=".8"/>
<ellipse cx="646" cy="934" rx="4" ry="2.5" transform="rotate(-30 646 934)" fill="#4a82dc" stroke="#a04818" stroke-width=".8"/>
<ellipse cx="661" cy="944" rx="7" ry="4" transform="rotate(-40 661 944)" fill="#4a82dc" stroke="#a04818" stroke-width=".8"/>
<ellipse cx="596" cy="955" rx="5" ry="3" transform="rotate(-30 596 955)" fill="#4a82dc" stroke="#a04818" stroke-width=".8"/>
<ellipse cx="628" cy="989" rx="5.5" ry="3" transform="rotate(-50 628 989)" fill="#f0e020"/>
</g>
<rect x="590.8" y="925" width="25.5" height="30" fill="#000" />
<g transform="translate(592.3 929.5)" font-size="7.2" fill="#e82020" font-weight="bold"><text x="0" y="2.6">$&amp;</text><text x="14.6" y="2.6">7$</text><path d="M10.2 -2.1h3.4v4.4h-3.4zM23.6 -2.1h3.4v4.4h-3.4z" fill="none" stroke="#e82020" stroke-opacity="0.5" stroke-width="0.6"/></g>
<g transform="translate(592.3 937.1)" font-size="7.2" fill="#f0f020" font-weight="bold"><text x="0" y="2.6">0&amp;$0</text></g>
<g transform="translate(592.3 944.7)" font-size="7.2" fill="#20c040" font-weight="bold"><text x="0" y="2.6">)$</text><text x="11.8" y="2.6">3</text><path d="M7.4 -2.1h3.4v4.4h-3.4z" fill="none" stroke="#20c040" stroke-opacity="0.5" stroke-width="0.6"/></g>
<g transform="translate(592.3 952.3)" font-size="7.2" fill="#4060e0" font-weight="bold"><text x="0" y="2.6">'$3</text></g>
<g transform="translate(668.6 931)" font-size="8" fill="#eee" stroke="#eee" stroke-width="0.35" stroke-opacity=".45"><text x="-4.4" y="2.9">7</text></g>
<line x1="598.8" y1="996.1" x2="610.8" y2="996.1" stroke="#ddd" stroke-width="1" />
<g transform="translate(592.8 1000.6)" font-size="7" fill="#ddd" stroke="#ddd" stroke-width="0.35" stroke-opacity=".45"><text x="15.8" y="2.5">XP</text><path d="M1 -2h3.2v4.2h-3.2zM6.2 -2h3.2v4.2h-3.2zM11.5 -2h3.2v4.2h-3.2z" fill="none" stroke="#777" stroke-opacity="1" stroke-width="0.6"/></g>
<clipPath id="ic2"><rect x="590.8" y="1008" width="80.8" height="80.5"/></clipPath>
<rect x="590.8" y="1008" width="80.8" height="80.5" fill="#000" />
<g clip-path="url(#ic2)">
<rect x="590.8" y="1008" width="80.8" height="80.5" fill="#3a2410" />
<rect x="590.8" y="1008" width="80.8" height="80.5" fill="#d8742c" filter="url(#tx)"/>
<rect x="590.8" y="1008" width="80.8" height="80.5" fill="#b02a14" filter="url(#tx5)" opacity=".7"/>
<rect x="590.8" y="1008" width="80.8" height="80.5" fill="#6ab838" filter="url(#tx2)" opacity=".55"/>
<rect x="590.8" y="1008" width="80.8" height="80.5" fill="#f0e040" filter="url(#tx6)" opacity=".8"/>
<rect x="590.8" y="1008" width="80.8" height="80.5" fill="#c8d040" filter="url(#tx2)" opacity=".35"/>
<path d="M590 1031Q606 1068 634 1089L590 1089Z" fill="#000"/>
</g>
<rect x="590.8" y="1008" width="25.5" height="30" fill="#000" />
<g transform="translate(592.3 1012.5)" font-size="7.2" fill="#e82020" font-weight="bold"><text x="0" y="2.6">$&amp;</text><text x="14.6" y="2.6">7$</text><path d="M10.2 -2.1h3.4v4.4h-3.4zM23.6 -2.1h3.4v4.4h-3.4z" fill="none" stroke="#e82020" stroke-opacity="0.5" stroke-width="0.6"/></g>
<g transform="translate(592.3 1020.1)" font-size="7.2" fill="#f0f020" font-weight="bold"><text x="0" y="2.6">0&amp;$0</text></g>
<g transform="translate(592.3 1027.7)" font-size="7.2" fill="#20c040" font-weight="bold"><text x="0" y="2.6">)$</text><text x="11.8" y="2.6">3</text><path d="M7.4 -2.1h3.4v4.4h-3.4z" fill="none" stroke="#20c040" stroke-opacity="0.5" stroke-width="0.6"/></g>
<g transform="translate(592.3 1035.3)" font-size="7.2" fill="#4060e0" font-weight="bold"><text x="0" y="2.6">'$3</text></g>
<g transform="translate(668.6 1014)" font-size="8" fill="#eee" stroke="#eee" stroke-width="0.35" stroke-opacity=".45"><text x="-4.4" y="2.9">7</text></g>
<line x1="598.8" y1="1080" x2="610.8" y2="1080" stroke="#ddd" stroke-width="1" />
<g transform="translate(592.8 1084.5)" font-size="7" fill="#ddd" stroke="#ddd" stroke-width="0.35" stroke-opacity=".45"><text x="15.8" y="2.5">XP</text><path d="M1 -2h3.2v4.2h-3.2zM6.2 -2h3.2v4.2h-3.2zM11.5 -2h3.2v4.2h-3.2z" fill="none" stroke="#777" stroke-opacity="1" stroke-width="0.6"/></g></svg><div id="frame"></div></body></html>
